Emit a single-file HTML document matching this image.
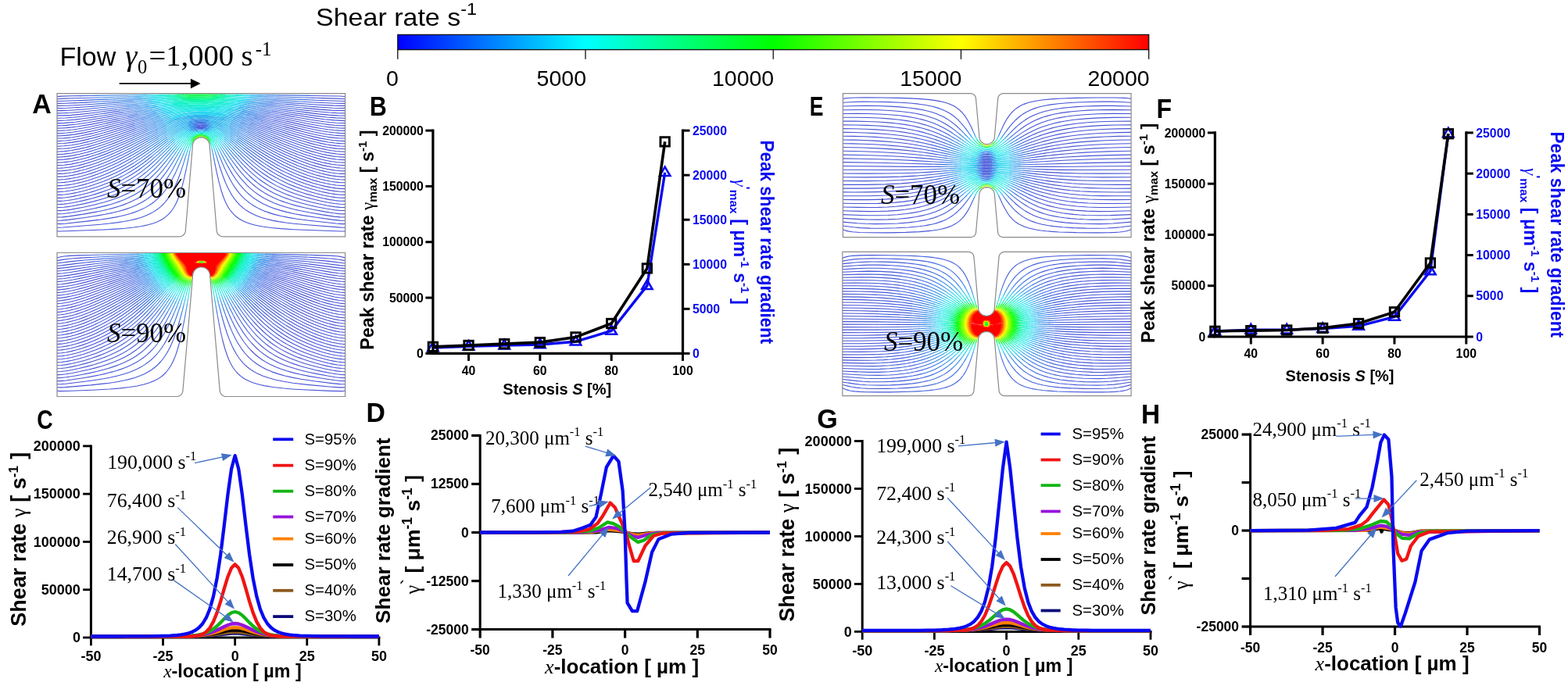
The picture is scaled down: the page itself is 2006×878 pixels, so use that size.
<!DOCTYPE html>
<html><head><meta charset="utf-8"><title>Shear rate figure</title><style>html,body{margin:0;padding:0;background:#fff;overflow:hidden}svg{display:block}</style></head><body>
<svg width="2006" height="878" viewBox="0 0 2006 878" font-family="'Liberation Sans', Arial, Helvetica, sans-serif">
<defs><clipPath id="cl0"><rect x="73" y="119.7" width="368.6" height="183.1"/></clipPath><clipPath id="cl1"><rect x="73" y="323.5" width="368.6" height="184"/></clipPath><clipPath id="cl2"><rect x="1078.4" y="119.6" width="368.7" height="184.1"/></clipPath><clipPath id="cl3"><rect x="1077.8" y="322.4" width="369.3" height="184.2"/></clipPath><linearGradient id="cb" x1="0" x2="1" y1="0" y2="0"><stop offset="0" stop-color="#0000ff"/><stop offset="0.25" stop-color="#00ffff"/><stop offset="0.5" stop-color="#00ff00"/><stop offset="0.75" stop-color="#ffff00"/><stop offset="1" stop-color="#ff0000"/></linearGradient></defs>
<rect width="100%" height="100%" fill="#fff"/>
<g fill="none" stroke-width="1.1" stroke-linejoin="round" clip-path="url(#cl0)">
<path d="M441.5 123.78L438.5 123.31 434 123.02 414.5 122.68M92 122.78L79 123.09 75.5 123.36 73 123.78M441.5 126.7L431 126.09 412.5 125.6M93.5 125.81L82 126.15 73 126.7M441.5 129.5L410 128.46M96 128.77L73 129.5M441.5 132.4L429 132.19 407.5 131.26M98.5 131.67L82.5 132.29 73 132.4M441.5 135.4L434 135.38 426.5 135.16 404.5 133.97M101 134.52L85 135.27 73 135.4M441.5 138.41L434.5 138.47 425.5 138.19 414.5 137.56 401.5 136.6M104 137.29L86 138.31 79 138.48 73 138.41M441.5 141.6L433 141.55 423.5 141.16 412 140.36 398 139.11M107.5 139.94L97 140.77 88 141.31 80 141.58 73 141.6M441.5 144.89L430.5 144.6 421 144.07 409 143.05 394.5 141.53M111 142.51L100 143.56 90.5 144.27 82.5 144.66 73 144.89M441.5 147.92L438 147.98 432.5 147.84 420.5 147.1 407.5 145.85 391 143.85M115 144.93L102 146.37 91 147.33 80.5 147.89 73 147.92M441.5 151.3L430 150.88 418 149.95 404 148.36 387 146.02M119 147.24L105 149.04 93.5 150.23 83.5 150.94 73 151.3M441.5 154.59L428 153.92 415 152.7 399.5 150.65 380 147.58M123.5 149.37L108.5 151.57 96 153.08 85 154.02 73 154.59M441.5 157.61L436.5 157.57 429.5 157.2 422 156.55 414.5 155.7 397.5 153.22 375 149.29M127.5 151.46L110 154.32 96 156.18 83 157.33 77 157.6 73 157.61M441.5 160.9L434.5 160.69 428 160.26 421 159.58 413 158.57 395.5 155.76 371.5 151.17M132 153.35L113 156.81 98 159.05 85 160.38 79 160.74 73 160.9M441.5 164.1L435 163.94 428 163.46 420.5 162.67 412 161.51 403 160.03 393.5 158.27 368.5 153.07M135 155.44L115 159.41 99 162.02 92 162.91 85 163.58 78.5 163.98 73 164.1M441.5 167.4L434 167.12 427 166.57 419.5 165.71 411 164.45 402 162.85 392 160.85 366.5 155.13M136.5 157.8L116 162.18 100 165 93 165.97 86 166.72 79.5 167.17 73 167.4M441.5 170.6L434.5 170.39 427 169.8 419 168.82 410.5 167.47 401.5 165.77 391 163.53 365 157.29M135.69 160.7L115.5 165.27 107 166.94 99.5 168.23 92.5 169.23 85.5 169.99 79 170.44 73 170.6M441.5 173.89L434 173.62 426.5 172.99 418.5 171.95 410 170.51 401 168.71 390.5 166.33 378.5 163.36 364 159.57M123 166.58L108 169.85 95 172.1 84 173.37 79 173.7 73 173.89M441.5 177.02L435.5 176.98 427.5 176.36 419.5 175.33 410.5 173.77 401 171.78 390.5 169.28 378.5 166.15 364 162.13M117.5 170.87L104 173.78 92.5 175.69 87 176.36 81.5 176.84 76.5 177.07 73 177.02M441.5 180.59L433 180.15 426 179.48 418.5 178.42 410 176.86 401 174.89 390.5 172.27 378.5 168.98 365 165.04M115 174.54L103 177.17 92.5 178.96 83.5 180 73 180.59M441.5 183.7L435.5 183.64 428 183.03 420 181.95 411.5 180.39 402.5 178.39 392.5 175.84 381.5 172.74 368.5 168.8M114 177.91L102 180.6 91.5 182.41 81.5 183.49 76.5 183.74 73 183.7M441.5 187.2L435.5 187.01 430 186.6 424 185.88 418 184.93 411.5 183.66 404.5 182.07 397 180.16 388.5 177.79M113 181.34L101.5 183.98 91.5 185.74 82 186.82 73 187.2M441.5 190.51L437 190.5 431 190.1 425 189.4 419 188.45 412.5 187.18 405.5 185.57 398 183.62 390 181.33M113 184.56L101.5 187.29 91 189.19 86 189.84 81 190.31 76.5 190.54 73 190.51M441.5 194.2L435 193.87 430 193.43 424.5 192.74 418.5 191.74 412 190.41 405.5 188.86 398.5 186.99 390.7 184.7M112.5 187.96L101.5 190.63 91.5 192.51 82.5 193.63 73 194.2M441.5 197.6L436.5 197.45 430.5 196.95 424.5 196.17 418.5 195.15 412 193.79 405.5 192.2 398.5 190.28 391 188.01M112.5 191.27L101.5 194.02 91.5 195.94 82 197.15 77 197.5 73 197.6M441.5 201.1L436 200.9 430.5 200.43 424.5 199.64 418.5 198.59 412 197.2 405.5 195.58 398.5 193.61 391.5 191.44M113 194.49L102 197.32 91.5 199.41 82 200.64 77.5 200.96 73 201.1M441.5 204.6L436 204.41 430.5 203.94 424.5 203.14 418.5 202.07 412 200.65 405.5 199 398.5 196.98 391.5 194.76M113 197.88L102 200.78 91.5 202.9 82 204.14 77.5 204.47 73 204.6M441.5 208.1L436 207.93 430.5 207.47 425 206.74 419 205.69 412.5 204.27 406 202.6 399 200.57 391.5 198.15M113.44 201.2L102 204.27 91.5 206.42 86.5 207.17 82 207.67 77.5 207.99 73 208.1M441.5 211.6L436.5 211.52 430.5 211.04 424.5 210.23 418.5 209.14 412 207.68 405.5 205.97 398.5 203.89 391 201.42M114 204.52L102.5 207.69 92 209.9 87 210.67 82 211.24 77 211.56 73 211.6M441.5 215.3L435.5 215.07 430 214.58 424 213.74 418 212.62 411.5 211.13 405 209.39 398 207.27 390.5 204.74M114.5 207.91L103 211.14 97.5 212.42 92.5 213.4 87.5 214.2 82.5 214.79 78 215.13 73 215.3M441.5 218.9L435.5 218.69 430 218.21 424 217.37 418 216.25 411.5 214.75 404.5 212.85 397.5 210.69 390.23 208.2M115 211.34L103.5 214.63 98 215.93 92.5 217.03 87.5 217.83 82.5 218.41 78 218.74 73 218.9M441.5 222.41L436.5 222.38 431 221.98 425 221.2 418.5 220.02 411.5 218.41 404.5 216.5 397.5 214.33 389.89 211.7M115.5 214.83L109.5 216.66 103.5 218.29 98 219.6 92.5 220.7 87 221.57 82 222.12 77.5 222.4 73 222.41M441.5 226.11L436.5 226.1 430.5 225.64 424.5 224.84 418 223.63 411 221.99 404 220.06 396.5 217.7 389 215.07M116 218.37L110 220.22 104 221.87 98 223.31 92.5 224.41 87 225.28 82 225.84 77 226.13 73 226.11M441.5 230.09L435 229.81 429.5 229.3 423.5 228.43 417.5 227.27 410.5 225.62 403.5 223.67 396 221.29 388.66 218.7M116.5 221.97L110.5 223.83 104.5 225.49 98.5 226.95 93 228.08 88 228.9 83 229.52 78.5 229.87 73 230.09M441.5 233.8L436 233.68 430 233.17 423.5 232.23 417 230.96 410 229.29 403 227.33 395.5 224.95 387.76 222.2M117.5 225.46L111 227.49 105 229.16 99 230.64 93 231.88 87.5 232.78 82.5 233.38 77.5 233.73 73 233.8M441.5 237.6L436 237.53 430 237.01 423.5 236.07 417 234.81 409.5 233.01 402 230.9 394.5 228.5 386.5 225.64M117.93 229.2L111.5 231.2 105 233.01 99 234.48 93 235.72 87.5 236.63 82 237.28 77 237.6 73 237.6M441.5 241.6L435.5 241.41 429.5 240.84 423 239.87 415.5 238.36 408 236.51 400 234.22 392 231.61 384 228.7M119 232.8L112.5 234.83 106 236.65 99.5 238.25 93.5 239.5 88 240.44 83 241.07 78 241.47 73 241.6M441.5 245.6L435 245.31 428.5 244.64 422 243.61 414.5 242.06 406.5 240.06 398 237.6 390 234.97 382 232.04M258 161.05L255 161.1M119.37 236.7L113 238.66 106.5 240.47 100 242.06 94 243.33 88.5 244.28 83 245 78 245.41 73 245.6M441.5 249.41L435.5 249.28 429 248.65 422 247.56 414 245.91 405.5 243.8 396.5 241.21 388 238.42 379.5 235.29M259 162.25L254.5 162.32M120 240.59L113.5 242.56 106.5 244.46 100 246.03 93.5 247.38 88 248.31 82.5 249 77.5 249.37 73 249.41M441.5 253.4L435.5 253.26 429 252.63 421.5 251.46 413 249.7 404 247.47 394.5 244.75 385.5 241.82 377.05 238.7M120.5 244.61L113.5 246.66 106.5 248.51 100 250.04 93.5 251.37 88 252.29 82.5 252.98 77.5 253.34 73 253.4M441.5 257.4L435.5 257.27 428.5 256.58 421 255.39 412 253.54 402 251.09 392.5 248.4 383.5 245.51 375 242.42M121 248.71L113.97 250.7 106.5 252.61 99.5 254.2 93 255.48 87 256.45 82 257.04 77.5 257.35 73 257.4M441.5 261.5L435 261.29 428 260.56 420 259.27 410.5 257.33 400 254.8 390 252.04 380.5 249.04 372 245.97M121.5 252.91L107 256.65 99.5 258.29 93 259.54 87 260.5 82 261.09 77.5 261.41 73 261.5M441.5 265.5L435 265.36 428 264.64 419 263.19 408.5 261.08 397.5 258.51 387 255.7 377.5 252.77 369 249.76M122 257.23L107 260.87 92.5 263.73 86.5 264.64 81.5 265.21 77 265.49 73 265.5M441.5 269.51L436 269.53 428.5 268.83 418.5 267.27 406.5 264.95 394.5 262.27 384 259.59 374.5 256.77 366 253.85M122.4 261.7L106.5 265.26 91 268.11 85.5 268.89 80.5 269.41 76.5 269.6 73 269.51M441.5 273.89L434.5 273.62 426.5 272.73 415 270.9 401 268.28 389.5 265.82 379.5 263.37 370.5 260.8 362 257.95M123 266.28L107 269.54 91 272.29 81 273.54 73 273.89M441.5 277.91L439 278.02 435.5 277.9 427.5 277.09 412.5 274.86 396 272.03 384.5 269.75 374.5 267.44 365.5 264.99 357.5 262.4M123.5 271.09L106.5 274.12 88.5 276.89 79.5 277.87 76 278.01 73 277.91M441.5 282.29L435 282.14 427 281.33 404.5 278.28 387.5 275.65 377 273.71 367.5 271.63 359 269.39 351.5 267.03M124.5 276.07L108.5 278.49 87 281.39 79 282.17 73 282.29M441.5 286.42L439.5 286.6 437 286.6 430 286.07 397.5 282.49 380 280.21 369 278.41 359.5 276.49 351 274.36 343 271.87M126 281.38L111.5 283.12 83 286.22 77 286.61 73 286.42M441.5 291.2L437.5 291.19 433 290.92 393 287.82 376 286.23 365.5 284.97 356.5 283.61 348.5 282.1 341 280.33 334 278.26 327.5 275.84 321.5 273.04 316 269.84 311.5 266.61 307 262.68 302.81 258.2 299 253.27M128.71 287.2L81 290.96 76.5 291.2 73 291.2M441.5 295.63L440 295.99 437 296.06 395.5 294.56 375.5 293.69 359.5 292.65 347 291.46 336 289.95 327 288.18 323 287.17 319 285.97 315.44 284.7 312 283.24 308.93 281.7 306 279.96 303.46 278.2 301 276.2 298.88 274.2 296.59 271.7 294.5 269.02 292.59 266.2 291 263.51 289.28 260.2 287.68 256.7 286 252.53 283.02 243.7M133.5 293.97L77.5 296.06 74.5 295.99 73 295.63" stroke="#4753d6"/>
<path d="M415 122.68L403 122.53M104 122.63L91.5 122.78M413 125.61L401.5 125.32M106 125.5L93 125.82M410.5 128.48L399 128.03M108 128.33L95.5 128.78M408 131.29L397.03 130.7M110.5 131.08L98 131.69M405 134L394 133.25M113.5 133.74L100.5 134.55M402 136.64L391.5 135.76M116.5 136.32L103.5 137.32M398.5 139.16L388.5 138.16M120 138.77L107 139.98M395 141.58L379 139.71M123 141.19L110.5 142.56M391.5 143.92L372 141.3M126.5 143.47L114.5 144.99M387.5 146.09L367 142.98M134 145.06L118.5 147.31M380.5 147.66L363 144.7M139.81 146.7L123 149.44M375.5 149.38L359.5 146.41M144.5 148.38L127 151.54M371.66 151.2L356.84 148.2M147.87 150.2L131.5 153.45M369 153.18L354 149.89M150.5 152.1L134.5 155.54M366.79 155.2L352 151.71M152.5 154.09L136 157.91M365.5 157.41L350.5 153.63M154.5 156.05L135.5 160.75M364.5 159.7L349 155.53M155.5 158.24L137 163.12 122.5 166.69M364.24 162.2L348 157.55M156 160.59L133.5 166.84 117 170.99M365.5 165.19L347 159.59M156 163.11L132.5 169.98 114.5 174.66M369 168.96L346.5 161.79M155.5 165.83L132 173.05 122 175.85 113.5 178.04M389 177.93L371 172.39 346.53 164.2M153.27 169.2L130.5 176.47 121 179.22 112.5 181.47M390.5 181.48L381.5 178.71 371.5 175.42 346.65 166.7M149.5 173.22L129.5 179.82 120.5 182.51 112.5 184.69M391 184.79L382 181.93 371.5 178.35 347 169.35M140 179.41L125 184.34 112 188.1M391.5 188.17L382 185.05 372 181.52 361 177.41 348 172.33M128 186.57L120 189.1 112 191.41M392 191.6L382.5 188.41 372.5 184.77 361.5 180.5 349.5 175.62M126.81 190.2L119.5 192.56 112.5 194.63M392 194.93L383 191.83 373 188.09 362.5 183.89 351.5 179.26M126.5 193.6L119.5 195.91 112.5 198.03M391.66 198.2L382.5 194.96 373.5 191.5 364 187.6 353.5 183.04M126.5 196.96L113 201.33M391.5 201.59L383 198.52 374 195 365 191.21 355.5 186.98M126.99 200.2L120 202.61 113.5 204.67M391 204.91L383 201.97 374.5 198.58 366 194.93 357 190.83M127 203.67L114 208.06M390.5 208.3L382.5 205.3 374.5 202.04 366.5 198.54 358 194.58M128.39 206.7L121.5 209.19 114.5 211.5M390 211.74L382 208.7 374 205.38 366 201.8 358 197.97M130.5 209.5L122.5 212.47 115 214.99M389.37 215.2L381.5 212.17 373.5 208.8 365.5 205.15 357.5 201.23M132 212.59L123.5 215.81 115.5 218.53M389 218.83L381 215.72 373 212.32 365 208.61 357 204.6M134 215.54L125 219.03 116 222.13M388 222.29L379.5 218.95 371.5 215.48 363.5 211.68 355.76 207.7M136 218.55L126.5 222.31 117 225.62M386.65 225.7L378.5 222.47 370 218.74 362 214.87 354.12 210.7M138 221.65L128 225.66 117.5 229.34M384.5 228.89L376 225.46 368 221.87 360 217.91 352.25 213.7M259 159.9L253.5 160.02M140.31 224.7L129.5 229.1 118.5 232.96M382.42 232.2L374 228.77 365.5 224.89 357.5 220.83 350 216.62M260.5 161.16L257.5 161.04M255.5 161.08L253 161.26M142.99 227.7L131.5 232.44 119 236.82M380 235.49L371.5 231.99 363 228.05 355 223.89 347 219.24M260.5 162.35L258.5 162.24M255 162.28L253 162.45M145.5 230.9L139.5 233.5 133 236.08 126.5 238.44 119.66 240.7M377.5 238.88L368.5 235.14 360 231.12 352 226.84 344.27 222.2M259.5 163.46L256.5 163.41 253.5 163.6M148 234.26L141.5 237.09 134.5 239.85 127.5 242.34 120.2 244.7M375.5 242.61L366 238.69 357 234.38 348.5 229.7 340.53 224.7M150.73 237.7L144 240.64 136.5 243.57 128.5 246.37 120.5 248.86M372.5 246.16L362.5 242.01 353.5 237.62 345 232.8 336.5 227.21M154 241.12L146.5 244.4 138.5 247.48 130 250.36 121 253.06M369.5 249.95L364 247.77 359 245.6 354 243.23 349.5 240.89 345 238.35 340.5 235.57 336 232.55 331.5 229.26M158 244.47L150 248 141 251.42 131.5 254.53 121.5 257.36M366.5 254.03L360.5 251.7 355 249.32 349.5 246.66 344.5 243.97 339.5 240.98 334.55 237.7 330 234.37 325.5 230.75M162.5 247.93L153.5 251.93 144 255.47 133.5 258.75 122 261.8M362.5 258.13L356 255.64 350 253.01 344 250.02 338.5 246.9 333.5 243.69 328.5 240.09 323.5 236.05 318.71 231.7M168 251.35L163.5 253.5 158.5 255.66 153.5 257.61 148 259.53 142 261.42 136 263.11 122.5 266.39M358 262.57L351 259.93 344 256.83 337.5 253.43 331.5 249.76 326 245.85 320.5 241.33 315.5 236.61 310.5 231.23M175 254.57L170 257.1 164.5 259.55 158.5 261.88 152.5 263.92 146 265.87 139 267.7 131.5 269.44 123 271.18M352 267.2L344 264.18 336.5 260.72 330 257.08 323.5 252.68 317.5 247.78 312.26 242.7 307 236.69 302 230.03M186.75 255.7L180.93 259.2 174.5 262.46 167.5 265.41 160.5 267.88 152.5 270.25 144 272.34 134.5 274.31 124 276.15M343.5 272.04L339 270.39 335 268.74 331 266.87 327.5 265.02 324 262.96 320.5 260.63 317.25 258.2 314.26 255.7 311.5 253.14 308.5 250.05 305.6 246.7 303 243.38 300.5 239.86 298 236 293.28 227.7M207.29 248.7L204.03 252.2 200.88 255.2 197.33 258.2 193.5 261.03 189.5 263.62 185.5 265.88 181 268.1 176.5 270.03 171.5 271.89 166.5 273.5 161 275.05 155 276.5 148.5 277.86 141.5 279.12 125.5 281.45M299.31 253.7L295.5 247.83 292 241.36 288.5 233.7 285.17 225.2M222.91 240.7L219.74 246.7 216.5 251.94 213.01 256.7 209.5 260.74 205.5 264.6 201.5 267.82 196.5 271.14 191.5 273.84 186 276.28 180 278.44 173.5 280.35 166.5 282.01 158.5 283.53 149.5 284.91 140 286.07 128.5 287.22M283.18 244.2L280.39 234.2 277.57 222.2M233.8 235.7L231.25 244.7 228.5 252.76 225.55 259.7 222.62 265.2 219.21 270.2 217.5 272.28 215.5 274.42 211.5 277.92 209 279.7 206.56 281.2 204 282.56 201 283.95 195 286.16 188 288.09 180 289.71 171 291.05 160 292.24 148 293.16 133 293.99" stroke="#455ad9"/>
<path d="M403.5 122.53L393 122.39M114.5 122.49L103.5 122.63M402 125.33L392 125.05M116.5 125.22L105.5 125.52M399.5 128.05L390 127.64M118.5 127.9L107.5 128.35M397.5 130.73L388 130.18M120.5 130.53L110 131.11M394.5 133.28L372 131.61M123 133.07L113 133.77M392 135.81L365.5 133.41M126 135.51L116 136.36M388.85 138.2L360.67 135.2M135 137.23L119.5 138.82M379.5 139.77L357 137M143.5 138.74L122.92 141.2M372.5 141.36L353.5 138.72M149 140.4L126 143.53M367.5 143.06L350.5 140.42M153 142.14L133.5 145.13M363.5 144.79L348 142.14M156.5 143.86L139.5 146.75M360 146.5L345.5 143.79M159.5 145.58L144 148.47M357 148.23L343.5 145.49M162 147.33L147.5 150.28M354.5 150L341.74 147.2M164.5 149.02L150.04 152.2M352.5 151.83L339.5 148.77M166.5 150.78L152.03 154.2M350.79 153.7L338 150.47M167.73 152.7L154 156.17M349.5 155.66L336.65 152.2M169.5 154.46L155 158.38M348.5 157.7L335.5 153.97M170.5 156.42L155.6 160.7M347.38 159.7L334.5 155.78M171.5 158.39L155.69 163.2M347 161.95L333.5 157.59M172.5 160.36L155 165.99M347 164.36L332.5 159.41M173 162.51L153 169.29M347 166.83L332 161.42M173 164.87L149 173.4M347.5 169.54L331 163.27M173 167.29L154 174.42 139.5 179.59M348.5 172.53L331 165.53M173 169.77L148 179.51 137.5 183.33 127.62 186.7M349.69 175.7L330.62 167.7M172 172.73L158.5 178.32 147 182.88 136.5 186.82 126.5 190.3M352 179.47L330.5 170.03M171.25 175.7L158 181.42 147 185.95 136.5 190.02 126.21 193.7M353.85 183.2L330.5 172.49M170 179.01L157.5 184.62 146.5 189.3 136 193.47 126 197.13M355.99 187.2L345 182.07 331 175.28M169 182.34L157 187.92 146.5 192.52 136.5 196.62 126.5 200.37M357.5 191.06L345.5 185.27 331 177.93M168 185.8L157 191.09 146.5 195.84 136.5 200.03 126.93 203.7M358.25 194.7L345.5 188.35 331.04 180.7M167 189.41L157 194.37 147 199.02 137.5 203.11 128 206.85M358.46 198.2L346 191.81 331.5 183.83M166.5 192.9L157 197.75 148 202.06 139 206.04 130 209.69M358 201.48L345.5 194.86 331.25 186.7M166.5 196.27L157.5 201 148.5 205.41 140 209.26 131.72 212.7M357.2 204.7L345 198.04 331 189.7M167 199.5L158.5 204.11 150 208.39 142 212.11 133.6 215.7M356 207.83L344 201.07 330.5 192.7M167.78 202.7L159.5 207.32 151.5 211.46 143.5 215.27 135.64 218.7M354.5 210.91L342.5 203.92 329.5 195.52M260.5 158.8L256.5 158.7 252 158.98M169 205.78L161 210.39 153.5 214.39 146 218.06 137.87 221.7M352.5 213.84L346.5 210.33 340.5 206.59 328.09 198.2M262 160.1L258.5 159.88M254 159.98L251 160.29M170.73 208.7L163 213.31 155.5 217.42 148 221.19 140 224.84M350.13 216.7L344.5 213.29 338.5 209.4 332.5 205.27 326.5 200.91M262.5 161.35L260 161.13M253.5 161.21L251 161.5M173 211.42L165.5 216.07 158 220.32 150.5 224.19 142.5 227.92M347.5 219.55L342 216.09 336 212.03 330.5 208.06 324.5 203.48M262.5 162.56L260 162.31M253.5 162.4L251.12 162.7M175.41 214.2L168 218.98 160.5 223.37 153 227.33 145 231.12M344.5 222.34L339 218.73 333.5 214.83 328 210.66 322 205.81M261.5 163.64L259 163.44M254 163.55L251.5 163.86M178.48 216.7L171 221.75 163.5 226.3 155.5 230.64 147.5 234.49M341 225.01L335.5 221.21 330 217.09 324.5 212.64 319 207.89M259.5 164.65L256 164.6 253 164.85M181.8 219.2L174.5 224.39 166.5 229.44 158.5 233.89 150.5 237.81M337 227.57L331.5 223.53 326.5 219.54 321 214.79 315.53 209.7M186 221.23L178.5 226.91 170.5 232.23 162.5 236.86 153.82 241.2M332 229.64L327 225.69 322 221.37 317 216.68 312 211.63M190.5 223.21L183 229.32 175 234.97 166.5 240.1 157.51 244.7M326 231.16L321.5 227.24 317 222.95 312.5 218.3 307.5 212.71M196 224.49L192 228.21 188 231.64 184 234.8 180 237.71 176 240.39 171.5 243.14 167 245.65 162 248.17M319 231.98L315 228 311 223.67 307 218.97 302.83 213.7M202.5 224.87L198.5 229.11 194.5 232.99 190.5 236.53 186 240.15 181.5 243.4 177 246.33 172.5 248.97 167.5 251.6M310.91 231.7L307.5 227.66 304.5 223.83 301 219.02 297.72 214.2M209.41 224.7L205.5 229.57 201.5 234.09 197.5 238.17 193.5 241.84 189 245.53 184.5 248.8 179.5 252.01 174.76 254.7M302.12 230.2L297 222.36 292 213.7M216.5 224.11L213 229.43 209.5 234.25 206 238.6 202.5 242.5 199 246.01 195 249.58 191 252.74 186.5 255.86M293.5 228.11L290 221.12 286.5 213.41M224 222.33L220 230.12 215.83 237.2 211.5 243.49 207 249.03M285.35 225.7L280.75 212.2M231.19 220.2L227 231.47 224.78 236.7 222.66 241.2M277.68 222.7L275 209.9M237.98 217.7L235.77 227.7 233.67 236.2" stroke="#4360dd"/>
<path d="M393.5 122.4L357.5 121.85M124 122.35L114 122.49M392.5 125.06L355.5 123.94M125.5 124.96L116 125.24M390.5 127.66L353 125.95M137 127.08L118 127.92M388.33 130.2L350.5 127.89M147 128.94L120 130.56M372.5 131.65L348.5 129.8M152 130.88L122.5 133.11M366 133.46L346 131.61M156.5 132.72L125.5 135.55M361 135.24L343.5 133.35M160 134.54L134.5 137.28M357.5 137.06L341.5 135.09M163 136.32L143 138.8M354 138.79L339.5 136.78M165.5 138.1L148.5 140.47M351 140.5L337.5 138.43M168.5 139.74L152.62 142.2M348.38 142.2L335.5 140.03M170.5 141.47L156 143.94M346 143.88L333.5 141.58M173 143.06L159 145.67M344 145.59L332.02 143.2M175 144.7L161.5 147.43M342 147.26L330.12 144.7M176.5 146.4L164 149.13M340 148.88L328.5 146.23M178.5 147.97L166 150.9M338.5 150.6L327 147.76M179.67 149.7L167.5 152.76M337 152.29L326 149.39M181.5 151.25L169 154.6M336 154.11L324.5 150.89M182.5 153L170 156.57M335 155.93L323.5 152.51M183.67 154.7L171 158.54M333.83 157.7L322 153.97M185 156.34L172 160.52M333 159.58L321.37 155.7M185.5 158.26L172.5 162.68M332.5 161.6L320.5 157.36M186.5 160.02L172.5 165.05M331.5 163.46L319.5 158.99M187 161.98L172.5 167.48M331.41 165.7L319 160.81M187.5 163.97L172.5 169.97M331 167.86L318 162.46M188 166.01L171.5 172.94M330.88 170.2L317.5 164.34M188 168.3L171 175.81M330.95 172.7L317.5 166.49M188.5 170.43L169.58 179.2M331.5 175.52L317 168.47M188.5 172.87L168.5 182.58M331.5 178.18L316.9 170.7M188.5 175.39L167.5 186.05M331.5 180.95L316.5 172.86M188.5 178.02L166.5 189.66M332 184.11L316.29 175.2M188.5 180.76L176.5 187.5 166 193.16M331.5 186.85L316 177.6M188.5 183.63L176 190.96 166 196.54M331.5 190.01L315.5 179.98M260 156.43L255.5 156.39 250.5 156.76M189 186.33L177.5 193.4 166.64 199.7M331 193.02L315 182.47M262.5 157.78L259 157.55 256 157.54 252.99 157.7 249.5 158.09M189.44 189.2L178 196.55 167.5 202.86M329.77 195.7L314.5 185.1M263.5 159.08L260 158.77M252.5 158.93L249 159.38M190.5 191.81L179 199.54 168.5 206.08M328.5 198.49L313.5 187.52M264 160.35L261.5 160.06M251.5 160.23L248.5 160.7M191.5 194.6L180.5 202.35 170.5 208.84M326.89 201.2L312.02 189.7M264.5 161.64L262 161.3M251.5 161.43L248.5 161.94M192.98 197.2L182.5 204.96 172.56 211.7M324.79 203.7L311 192.41M264 162.78L262 162.49M251.5 162.64L249 163.09M194.8 199.7L184.5 207.74 175 214.48M322.47 206.2L316.5 201.12 309.27 194.7M263.5 163.92L261 163.58M252 163.78L249.64 164.2M197 202.06L187.5 209.93 178 217.04M319.35 208.2L313.5 202.86 307.04 196.7M262.5 164.98L259 164.62M253.5 164.79L251 165.17M199.64 204.2L190.5 212.28 181.5 219.43M316 210.15L310.5 204.74 304.65 198.7M203 205.82L194 214.4 185.5 221.63M312.06 211.7L307 206.26 301.63 200.2M206.26 207.7L198 216.27 190 223.64M307.92 213.2L298.5 201.72M210.46 208.7L203 217.3 195.78 224.7M303 213.92L295.19 203.2M214.5 210.02L208 218.45 202.2 225.2M298 214.62L291.1 203.7M219.13 210.7L214 218.42 209.03 225.2M292.28 214.2L287 204.22M224.2 210.7L220.34 217.7 216.44 224.2M286.63 213.7L282.61 204.2M229.46 210.2L223.82 222.7M280.91 212.7L278.09 203.7M234.78 209.2L231.02 220.7M275.06 210.2L273.37 201.7M240.12 207.2L237.87 218.2" stroke="#3f70e1"/>
<path d="M358 121.86L341 121.6M163 121.76L123.5 122.36M356 123.96L339.5 123.46M165 123.76L125 124.98M353.5 125.98L338 125.27M167 125.7L136.5 127.11M351 127.92L336.5 127.05M169 127.59L146.5 128.97M349 129.84L335 128.78M171 129.42L151.5 130.92M346.5 131.65L333 130.44M173 131.21L156 132.77M344 133.4L331.5 132.09M175 132.94L159.5 134.59M342 135.15L329.85 133.7M177 134.62L162.5 136.39M340 136.85L328 135.24M179 136.25L165 138.17M338 138.5L326.5 136.79M180.5 137.91L168 139.81M336 140.11L324.5 138.23M182.5 139.46L170 141.55M334 141.67L323 139.72M184.5 140.97L172.5 143.15M332.5 143.29L321.63 141.2M186 142.53L174.5 144.8M330.5 144.78L320 142.61M187.5 144.06L176 146.51M329 146.34L318.5 144.01M189 145.57L178 148.08M327.5 147.88L317 145.39M190.5 147.05L179.5 149.74M326.5 149.52L316 146.87M192 148.51L181 151.38M325 151.02L314.5 148.21M193 150.09L182 153.14M324 152.65L313.5 149.66M194.5 151.52L183.5 154.75M322.5 154.12L312 150.97M195.5 153.07L184.5 156.5M321.5 155.74L311 152.4M196.29 154.7L185 158.43M321 157.54L310 153.84M197.47 156.2L186 160.2M320 159.17L309 155.27M198.5 157.75L186.5 162.17M319.5 161.01L308.5 156.88M199 159.5L187 164.17M318.5 162.67L307.5 158.32M199.5 161.29L187.53 166.2M318 164.56L307 159.97M200 163.1L187.5 168.52M317.96 166.7L306.63 161.7M200.5 164.95L188 170.67M317.49 168.7L306 163.35M201 166.84L188 173.11M317 170.75L305.73 165.2M201.5 168.78L188 175.65M317 173.13L305 166.88M201.5 171.04L188.17 178.2M316.5 175.32L305 168.98M260.5 154.12L254.5 154.11 248.5 154.63M201.85 173.2L188 181.04M316.17 177.7L304.5 170.89M263.5 155.51L259.5 155.24 255.5 155.23 251.5 155.48 247 156.06M202.5 175.27L188.38 183.7M315.86 180.2L304.56 173.2M265 156.88L259.5 156.4M251 156.71L246 157.47M202.5 177.83L188.5 186.64M315.35 182.7L304 175.24M266 158.23L262 157.73M250 158.02L245.5 158.82M202.99 180.2L189 189.49M314.65 185.2L304 177.77M266.5 159.54L263 159.02M249.5 159.3L245.5 160.08M203.48 182.7L190 192.15M313.75 187.7L303 179.72M267 160.88L263.5 160.28M249 160.61L245.5 161.36M204.5 184.96L191.36 194.7M312.5 190.08L302.54 182.2M266.5 162.02L264 161.56M249 161.84L246 162.52M205.5 187.36L192.5 197.57M311.35 192.7L301.5 184.38M266.14 163.2L263.5 162.7M249.5 162.98L246.5 163.69M206.78 189.7L194.5 199.94M309.5 194.91L300.5 186.75M265.5 164.32L263 163.84M250 164.13L247.55 164.7M208.5 191.81L196.83 202.2M307.5 197.14L299 188.85M264.5 165.35L262 164.9M251.5 165.08L248.63 165.7M210.1 194.2L199.5 204.33M305 199.07L297.09 190.7M262.5 166.2L259.5 165.84 256 165.79 253 166.06 250 166.63M212.3 196.2L202.62 206.2M302 200.62L295.16 192.7M215 197.83L206 207.99M298.88 202.2L293 194.67M218 199.27L210.05 209.2M295.5 203.64L290 195.72M221 200.89L214.37 210.2M291.41 204.2L287.18 197.2M224.69 201.7L219 210.9M287.25 204.7L283.93 198.2M228.5 202.42L224 211.07M282.82 204.7L280.15 198.2M232.79 202.2L229.25 210.7M278.25 204.2L276.41 198.2M237 202.03L234.63 209.7M273.47 202.2L272.39 196.7M241.41 200.7L240.02 207.7" stroke="#3b85e6"/>
<path d="M341.5 121.61L330 121.44M177 121.55L162.5 121.77M340 123.47L329 123.15M178.5 123.35L164.5 123.78M338.5 125.29L327.5 124.81M180 125.12L166.5 125.73M337 127.08L326 126.44M181.5 126.84L168.5 127.62M335.5 128.82L324.5 128.02M183 128.53L170.5 129.46M333.5 130.48L323 129.57M184.5 130.18L172.5 131.25M332 132.15L321.5 131.09M186.5 131.75L174.5 132.99M330 133.72L320 132.57M188 133.32L176.5 134.68M328.5 135.31L318.5 134.03M189.5 134.86L178.5 136.32M327 136.87L317 135.45M191 136.37L180 137.99M325 138.31L315.5 136.84M193 137.77L182 139.54M323.5 139.81L314 138.2M194.5 139.22L184 141.06M322 141.27L312.5 139.54M195.64 140.7L185.5 142.62M320.47 142.7L311 140.85M197.5 142.02L187 144.17M319 144.12L309.5 142.13M199 143.39L188.5 145.68M317.5 145.5L308 143.39M200 144.84L190 147.17M316.5 146.99L306.5 144.62M201.33 146.2L191.5 148.64M315 148.34L305 145.83M203 147.46L192.59 150.2M313.64 149.7L304 147.15M204 148.87L194 151.66M312.5 151.11L302.5 148.32M205.25 150.2L195.09 153.2M311.5 152.56L301.5 149.62M206.5 151.52L196 154.79M310.5 154L300 150.76M207.5 152.9L197 156.36M309.5 155.44L299 152.03M208.5 154.29L198 157.93M309 157.06L298 153.29M209.41 155.7L198.5 159.69M308 158.51L297 154.56M210 157.23L199 161.49M307.5 160.17L296 155.81M210.8 158.7L199.76 163.2M307 161.86L295.5 157.25M211.5 160.22L200 165.17M306.5 163.57L295 158.71M212 161.84L200.5 167.08M306 165.33L294.53 160.2M263 151.96L258 151.75 253.5 151.84 249 152.2 244 152.91M212 163.73L201 169.03M305.5 167.13L294.02 161.7M266.5 153.49L260.5 152.97 254.5 152.95 248.5 153.44 242 154.54M212.5 165.44L201.2 171.2M305.42 169.2L294 163.45M268 154.91L264 154.39 260 154.1M249 154.57L245 155.19 241 156.03M212.5 167.44L201.5 173.4M305 171.17L294 165.27M269 156.31L263 155.47M247.5 155.98L244 156.63 240.5 157.46M213 169.26L202 175.57M305 173.47L294.5 167.43M269.74 157.7L264.5 156.81M246.5 157.37L240.5 158.78M213 171.43L202 178.14M304.5 175.57L294.5 169.43M270 159.02L265.81 158.2M246 158.71L240.5 160.13M213.5 173.4L202.5 180.53M304.5 178.11L294.78 171.7M270 160.3L266 159.45M246 159.97L241 161.33M213.5 175.79L203 183.04M303.5 180.09L294.5 173.75M270 161.6L266.5 160.78M246 161.24L242 162.37M214 177.98L204.18 185.2M303 182.56L294.62 176.2M269.25 162.7L266 161.92M246.5 162.4L242.5 163.58M214.5 180.3L205.08 187.7M301.88 184.7L294 178.27M269 163.94L266 163.17M247 163.55L243.5 164.62M215.5 182.37L206.5 189.94M301 187.2L293.63 180.7M268 164.96L265 164.21M248 164.58L244.5 165.64M216.37 184.7L208.07 192.2M299.36 189.2L292.56 182.7M267 165.98L264 165.24M249 165.61L246 166.49M217.5 186.99L210 194.3M297.5 191.13L291.81 185.2M265.5 166.85L262 166.12M250.5 166.51L247.5 167.33M219 189.11L212 196.52M295.5 193.1L290.35 187.2M262 167.33L259 166.99 256 166.97 253 167.27 250 167.89M221 190.88L214.68 198.2M293.03 194.7L288.5 188.95M223 192.84L217.66 199.7M290.33 196.2L286.5 190.71M225.5 194.39L220.79 201.2M287.48 197.7L284.14 192.2M228.31 195.7L224.5 202.01M284 198.34L281.5 193.47M231.41 196.7L228.36 202.7M280.35 198.7L278.5 194.23M235 196.82L232.59 202.7M276.5 198.5L275.16 194.2M238.64 196.7L236.95 202.2M272.49 197.2L271.77 193.7M242.4 195.7L241.31 201.2" stroke="#3799eb"/>
<path d="M330.5 121.45L321.5 121.32M187 121.4L176.5 121.56M329.5 123.16L320.5 122.91M188.5 123.07L178 123.37M328 124.83L319 124.46M189.69 124.7L179.5 125.14M326.5 126.46L317.5 125.96M191 126.3L181 126.87M325 128.06L316 127.44M192.5 127.85L182.5 128.57M323.5 129.62L314.5 128.88M194 129.37L184.29 130.2M322 131.14L313 130.28M195.5 130.86L186 131.8M320.5 132.63L311.5 131.66M197 132.31L187.5 133.38M319 134.09L310 133M198.5 133.73L189 134.93M317.5 135.52L308.5 134.32M200 135.12L190.5 136.44M316 136.91L307 135.61M202 136.4L192.5 137.85M314.5 138.28L305.5 136.87M203.5 137.73L194 139.3M313 139.63L304 138.1M205 139.03L195.5 140.73M311.5 140.94L302 139.22M206.5 140.3L197 142.12M309.85 142.2L300.5 140.4M208 141.55L198.5 143.49M308.5 143.49L299 141.56M209.5 142.77L199.5 144.95M306.84 144.7L297.52 142.7M210.5 144.08L201 146.28M305.5 145.95L295.5 143.71M212 145.27L202.5 147.58M304.2 147.2L294 144.8M213.5 146.43L203.5 149M303 148.46L292.5 145.87M215 147.57L205 150.27M301.8 149.7L290.5 146.8M216.45 148.7L206 151.67M300.5 150.9L288.5 147.72M217.5 149.93L207 153.06M299.5 152.18L292.7 150.2 286.5 148.61M219 151.01L208 154.45M298.5 153.45L291.06 151.2 284 149.37M220 152.23L209 155.84M297.43 154.7L291.5 152.8 285.89 151.2 280.5 149.88 275 148.78 269.5 147.96 264.5 147.46 259.5 147.22 254.5 147.23 249.5 147.51 244 148.1 239 148.89 233.5 150.01 228 151.39 222 153.13 215.69 155.2 209.5 157.42M296.5 155.99L290.5 153.98 285 152.35 279.5 150.96 274.5 149.92 269.5 149.14 264.5 148.61 259.5 148.35 254.5 148.37 249.5 148.66 244.5 149.22 239.5 150.03 234.04 151.2 228.5 152.65 223 154.33 217 156.38 210.5 158.82M296 157.44L290 155.32 284.5 153.6 279.24 152.2 274 151.07 269 150.26 264 149.72 259 149.48 254.5 149.51 249.5 149.82 244.5 150.41 239.5 151.28 234.5 152.41 229 153.92 223.45 155.7 217.5 157.85 211 160.42M295.5 158.91L289.59 156.7 284.5 155.02 279 153.46 274 152.32 269 151.45 264 150.88 259 150.62 254.5 150.65 249.5 150.98 244.5 151.62 239.5 152.54 234.67 153.7 229.5 155.2 223.6 157.2 218 159.34 211.5 162.06M295 160.4L286 156.96 278 154.53 274 153.57 270 152.81 266 152.25 262.5 151.93M244.5 152.83L237 154.42 229.35 156.7 221.28 159.7 211.5 163.96M294.5 161.91L286.64 158.7 279.5 156.3 272.5 154.52 266 153.43M242.5 154.43L235.5 156.18 228.5 158.5 220.56 161.7 212 165.68M294.5 163.68L287.5 160.6 280.5 158.01 274 156.13 267.5 154.83M241.5 155.92L235 157.71 228.08 160.2 220.5 163.49 212.01 167.7M294.5 165.52L287.45 162.2 281 159.62 274.5 157.57 268.5 156.21M241 157.33L234.8 159.2 228 161.83 220.72 165.2 212.5 169.53M295 167.7L288.15 164.2 281.5 161.3 275.5 159.2 269.5 157.65M240.79 158.7L234.5 160.76 227.5 163.7 220.51 167.2 212.54 171.7M294.97 169.7L287.64 165.7 281.5 162.84 275.5 160.57 269.5 158.91M241 159.98L234.63 162.2 227.94 165.2 221.36 168.7 213.02 173.7M295 171.84L287.99 167.7 281.5 164.42 275.5 161.97 269.59 160.2M241.41 161.2L235 163.57 228.45 166.7 221.43 170.7 213 176.12M295 174.08L288.14 169.7 281.5 166.05 275.5 163.41 269.5 161.47M242.5 162.21L239.5 163.25 236 164.68 229.5 167.94 222.43 172.2 213.69 178.2M295 176.48L289.62 172.7 284.5 169.45M273.5 164.08L269 162.63M243 163.41L239.51 164.7 236.13 166.2M222.5 174.39L214 180.68M294.5 178.67L289.97 175.2 286 172.39M272 164.94L268.5 163.8M244 164.45L238.5 166.66M222.5 176.79L215.1 182.7M294 181.02L286.85 175.2M271 165.97L267.5 164.82M245 165.47L240.66 167.2M223 178.97L216 185.03M293 183.11L287 177.75M269.5 166.81L266.5 165.84M246.5 166.32L242.5 167.87M223.5 181.34L217.28 187.2M292 185.39L286.73 180.2M268 167.64L265 166.72M247.92 167.2L244.5 168.46M224.5 183.45L218.91 189.2M290.5 187.37L286 182.46M265.5 168.14L261.5 167.25M250.5 167.77L246.5 169.05M225.5 185.78L220.72 191.2M288.7 189.2L285 184.69M227.08 187.7L222.72 193.2M286.84 191.2L283.5 186.58M229 189.42L225.29 194.7M284.45 192.7L281.62 188.2M231.37 190.7L228 196.2M281.62 193.7L279.5 189.7M233.74 192.2L231.16 197.2M278.7 194.7L277 190.73M236.73 192.7L234.84 197.2M275.32 194.7L274.2 191.2M239.73 193.2L238.5 197.14M271.87 194.2L271.05 190.2M243.1 192.2L242.3 196.2" stroke="#31b6ed"/>
<path d="M322 121.32L314.5 121.22M195 121.29L186.5 121.41M321 122.92L313 122.71M196.5 122.84L188 123.08M319.5 124.48L312 124.18M198 124.36L189.5 124.71M318 125.99L310.5 125.6M199.5 125.84L190.5 126.33M316.5 127.47L309 126.98M200.5 127.31L192 127.89M315 128.92L307.5 128.34M202 128.73L193.5 129.41M313.5 130.33L305.5 129.62M203.5 130.11L195 130.9M311.9 131.7L304 130.91M205.5 131.41L196.5 132.36M310.5 133.06L302.5 132.17M207 132.73L198 133.79M309 134.38L300.5 133.34M208.5 134.01L199.5 135.19M307.5 135.68L299 134.55M210 135.27L201.5 136.48M306 136.94L297.5 135.72M211.5 136.51L203 137.81M304.5 138.18L295.5 136.81M213.1 137.7L204.5 139.12M302.5 139.31L293.5 137.86M215 138.82L206 140.39M301 140.49L291.5 138.89M216.5 139.97L207.5 141.65M299.5 141.66L289.5 139.89M218.5 141.02L209 142.88M298 142.8L287.5 140.87M220 142.13L210 144.19M296 143.81L285 141.74M222 143.12L211.5 145.38M294.5 144.91L288 143.57 281.5 142.44M224 144.08L213 146.55M293 145.98L285 144.31 277.5 143.07M226 145.02L214.5 147.7M291 146.92L281 144.86 272 143.55 263 142.83 254 142.74 245 143.3 236 144.46 226.5 146.26 216 148.82M289 147.84L279.5 145.85 270.5 144.55 262 143.91 253.5 143.88 245 144.46 236 145.7 227 147.51 217 150.07M286.88 148.7L278 146.84 269.5 145.61 261.5 145.02 253.5 145.01 245.5 145.57 237 146.76 228 148.63 218.5 151.16M284.5 149.48L276 147.72 268 146.62 260 146.1 252.5 146.18 245 146.79 237 148.01 228.5 149.87 219.5 152.38M284.91 169.7L279 166.47 273 163.9M236.5 166.03L233.18 167.7 229.67 169.7 222.06 174.7M286.46 172.7L282.61 170.2 279 168.13 275.09 166.2 271.5 164.76M239 166.43L235.45 168.2 231.17 170.7 226.69 173.7 222 177.17M287 175.32L282.68 172.2 278.72 169.7 274.5 167.47 270.5 165.79M241 167.05L236.74 169.2 232.65 171.7 227.73 175.2 222.73 179.2M287.5 178.18L282.55 174.2 278.22 171.2 273.83 168.7 269.2 166.7M242.89 167.7L238 170.2 233.4 173.2 228.85 176.7 223.11 181.7M287 180.46L283.41 177.2 280 174.42M271 168.86L267.5 167.46M245 168.25L242 169.64 239.24 171.2M229.48 178.7L224.25 183.7M286.23 182.7L281.17 177.7M268.47 169.2L265 168M247 168.86L243 170.69M230 181L225.12 186.2M285.01 184.7L281 180.21M265.5 169.45L263.5 168.87 261 168.38 258.5 168.14 256 168.15 253.5 168.4 251 168.9 248.5 169.66 246.5 170.46M230.86 183.2L227 187.8M283.59 186.7L280.5 182.73M232 185.36L228.8 189.7M281.94 188.7L279.5 185.03M233.5 187.37L231.06 191.2M279.77 190.2L277.82 186.7M235.5 188.93L233.5 192.66M277.2 191.2L275.86 188.2M238 189.78L236.51 193.2M274.36 191.7L273.35 188.7M240.71 190.2L239.58 193.7M271.16 190.7L270.7 188.7M243.54 190.2L243 192.7" stroke="#2bd5ef"/>
<path d="M315 121.23L308.5 121.15M201.9 121.2L194.5 121.3M313.5 122.72L307 122.56M203.5 122.66L196 122.86M312.5 124.2L305.5 123.93M205 124.09L197.5 124.38M311 125.62L303.5 125.25M206.5 125.48L199 125.86M309.5 127.02L302 126.56M208 126.83L200 127.34M308 128.38L300.5 127.84M209.5 128.16L201.5 128.77M306 129.66L298.5 129.05M211 129.46L203 130.15M304.5 130.96L297 130.27M212.5 130.73L205 131.46M302.81 132.2L295 131.41M214.5 131.91L206.5 132.78M301 133.4L293 132.53M216 133.12L208 134.08M299.5 134.61L291 133.61M218 134.25L209.5 135.34M298 135.79L289.3 134.7M220 135.34L211 136.58M296 136.88L287.01 135.7M221.5 136.47L213 137.72M294 137.94L284.5 136.65M223.5 137.51L214.5 138.9M292 138.97L281.5 137.52M226 138.45L216 140.06M290 139.97L278 138.33M228 139.44L218 141.11M288 140.95L280.5 139.83 273 138.99M231 140.26L219.61 142.2M285.5 141.83L278.5 140.79 272 140.06 265.5 139.58 259.5 139.38M234 141.07L221.58 143.2M282 142.52L274.5 141.49 267 140.8 260 140.5 253 140.54 246 140.91 239 141.62 231.5 142.7 223.5 144.18M278 143.14L271.5 142.33 265 141.8 258.5 141.59 252 141.69 245.5 142.1 239 142.81 232.5 143.79 225.5 145.13M280.37 174.7L275.35 171.2 270.64 168.7M239.5 171.04L236.94 172.7 234.21 174.7 229 179.13M281.5 178.01L278.26 175.2 274.9 172.7 271.5 170.64 268 169.01M243.5 170.43L240.45 172.2 236.95 174.7 233.41 177.7 229.8 181.2M281.46 180.7L277.4 176.7 275.02 174.7 273 173.22 269 170.88 265 169.29M247 170.24L243 172.31 238.94 175.2 235.06 178.7 230.5 183.61M280.88 183.2L277 178.76M263.5 170.12L259.5 169.39 257.5 169.29 255 169.41 252.5 169.79 250.5 170.3 248.5 171.01 246.5 171.91M234.93 181.7L231.74 185.7M279.62 185.2L277.06 181.7M236 183.72L233.28 187.7M278 187.01L276 183.71M237.34 185.7L235.35 189.2M276 188.51L274.66 185.7M239.18 187.2L237.81 190.2M273.5 189.13L272.81 187.2M241.4 188.2L240.55 190.7M270.82 189.2L270.5 187.8M243.87 188.7L243.5 190.38" stroke="#26e6ea"/>
<path d="M309 121.15L302.5 121.08M208 121.12L201.5 121.21M307.5 122.57L301 122.42M209.5 122.51L203 122.67M306 123.95L299.5 123.73M211 123.87L204.5 124.1M304 125.28L297.5 124.98M212.5 125.19L206 125.5M302.5 126.59L296 126.23M214.5 126.45L207.5 126.87M301 127.87L294 127.42M216 127.71L209 128.2M299 129.09L292 128.57M218 128.9L210.5 129.5M297.5 130.31L290.01 129.7M220 130.06L212 130.77M295.5 131.46L288 130.8M221.5 131.23L214 131.97M293.5 132.58L285.5 131.82M223.5 132.33L215.5 133.18M291.5 133.66L283 132.83M226 133.36L217.5 134.31M289.5 134.72L280 133.76M228 134.4L219.5 135.41M287.5 135.76L276.5 134.65M230.5 135.37L221 136.54M284.92 136.7L272 135.46M233.5 136.26L223 137.58M282 137.58L272.5 136.64 263.5 136.15M237 137.1L225.5 138.53M278.5 138.38L272 137.75 266 137.36 259.5 137.16 253.5 137.19 247.5 137.42 241 137.89 234.5 138.57 227.5 139.52M273.5 139.04L263 138.35 252.5 138.32 242 138.95 230.5 140.34M260 139.39L253.5 139.41 247 139.71 240.5 140.27 233.5 141.14M277.42 179.2L273.75 175.7 270.35 173.2 266.58 171.2 263 169.99M246.93 171.7L244 173.35 240.84 175.7 237.63 178.7 234.51 182.2M277.45 182.2L275.42 179.7 273.04 177.2M238.32 180.7L235.66 184.2M276.31 184.2L274 180.84M238.91 183.2L237.05 186.2M274.91 186.2L273.5 183.53M240.43 184.7L239 187.59M272.99 187.7L272.04 185.2M242 186.55L241.22 188.7M270.59 188.2L270.14 186.2M244.19 187.2L243.76 189.2" stroke="#20eadd"/>
<path d="M303 121.08L297 121.01M213.5 121.06L207.5 121.13M301.5 122.43L295.5 122.3M215.5 122.37L209 122.52M300 123.74L293.5 123.54M217 123.66L210.5 123.88M298 125.01L291.5 124.74M219 124.9L212.26 125.2M296.5 126.26L289.5 125.91M220.5 126.13L214 126.48M294.5 127.45L287.5 127.05M222.5 127.31L215.5 127.74M292.5 128.61L285 128.13M224.5 128.45L217.5 128.94M290.5 129.74L282.71 129.2M227 129.52L219.5 130.1M288.5 130.84L280 130.22M229 130.61L221 131.28M286 131.87L276.5 131.17M231.5 131.63L223 132.38M283.5 132.87L272.5 132.08M234.5 132.59L225.5 133.41M280.5 133.81L266.5 132.93M238 133.49L227.5 134.45M277 134.69L265.5 134 254 133.87 242.5 134.33 230 135.42M272.5 135.5L262.5 135.01 253 134.99 243 135.43 233 136.32M264 136.17L257.5 136.05 250.5 136.17 243.5 136.54 236.5 137.15M273.5 177.65L271.94 176.2 270 174.66 268 173.37 266 172.33 264 171.54 262 170.98 260 170.62 258 170.47M253.5 170.8L251.5 171.27 249.5 171.95 247.5 172.87 245.25 174.2 243.23 175.7 241.54 177.2 238 181.09M274.28 181.2L272.68 179.2 271 177.41M241.47 179.7L238.58 183.7M273.6 183.7L272 181.12M241.56 182.7L240.17 185.2M272.24 185.7L271.15 183.2M242.96 184.2L241.94 186.7M270.25 186.7L269.57 184.2M244.55 185.7L244.08 187.7" stroke="#1cefd1"/>
<path d="M297.5 121.02L292 120.96M219 121L213 121.06M296 122.31L290 122.19M221 122.26L215 122.39M294 123.55L288 123.38M222.5 123.5L216.5 123.68M292 124.76L285.5 124.53M224.5 124.69L218.5 124.92M290 125.93L283.5 125.66M227 125.83L220 126.16M288 127.08L280.5 126.72M229 126.95L222 127.33M285.5 128.16L277.5 127.75M231.5 128.03L224 128.48M283 129.22L274 128.75M234.5 129.05L226.5 129.56M280.5 130.25L269.61 129.7M237.5 130.04L228.5 130.64M277 131.2L269 130.79 261 130.59M241.5 130.98L231 131.67M273 132.11L263 131.72 253.5 131.69 244 131.98 234 132.63M267 132.94L259.5 132.76 252.5 132.8 245 133.06 237.5 133.53M258.5 170.49L255.5 170.54 253 170.9M271.29 177.7L268.5 175.3 265.93 173.7M244.92 176.2L242.8 178.2 241.07 180.2M272.06 181.2L270.12 178.7M243 180.52L241.5 182.8M271.39 183.7L270.34 181.7M243.68 182.7L242.74 184.7M269.73 184.7L269.38 183.7M245 184.24L244.5 185.89" stroke="#16f3c4"/>
<path d="M292.5 120.97L287 120.92M224 120.95L218.5 121M290.5 122.2L284.5 122.1M226 122.16L220.5 122.27M288.5 123.4L282 123.24M228.5 123.33L222 123.51M286 124.54L279.5 124.35M231 124.47L224.16 124.7M284 125.68L276 125.4M233.5 125.57L226.5 125.85M281 126.74L272.5 126.43M236 126.64L228.5 126.98M278 127.77L267.5 127.42M239.5 127.65L231 128.05M274.5 128.77L264.5 128.46 254.5 128.4 244.5 128.6 234 129.07M270 129.71L261.5 129.5 253.5 129.5 245.5 129.68 237 130.07M261.5 130.6L251.5 130.62 241 131M266 173.74L263 172.48 259.5 171.73M252 172.37L250 173.08 248 174.07 246.22 175.2 244.5 176.56M270.5 179.14L268.07 176.7M244.91 178.2L242.86 180.7M270.5 181.99L269.36 180.2M244.5 181.28L243.5 183.07M269.5 184.02L269 182.78M245.19 183.7L244.84 184.7" stroke="#12f6ae"/>
<path d="M287.5 120.92L281.5 120.87M229.5 120.9L223.5 120.95M285 122.1L278.5 122.01M232 122.07L225.5 122.17M282.5 123.25L275.5 123.11M234.31 123.2L228 123.35M280 124.36L271.5 124.17M237.5 124.29L230.5 124.48M276.5 125.42L266.5 125.19M241 125.34L233 125.58M273 126.45L254.5 126.22 235.5 126.66M268 127.43L253.5 127.32 239 127.67M260 171.8L258 171.63 255.5 171.7 253.5 172 251.5 172.52M268.5 177.07L266.01 175.2M247.13 176.2L244.5 178.65M269.5 180.4L268.59 179.2M245.22 180.2L244.24 181.7M269.18 183.2L268.73 182.2M245.84 182.2L245.01 184.2" stroke="#0ff88e"/>
<path d="M282 120.88L275.5 120.84M235 120.86L229 120.91M279 122.02L271.5 121.93M238 121.99L231.5 122.07M276 123.12L266.5 122.99M241.5 123.07L234 123.21M272 124.18L254.5 124.04 237 124.3M266.96 125.2L254 125.13 240.5 125.35M266.5 175.52L264 174.13 261 173.14M249.45 174.7L247 176.3M268.99 179.7L267.68 178.2M246.42 178.7L245 180.51M268.97 182.7L268 180.86M246.39 181.2L245.61 182.7" stroke="#0cf96f"/>
<path d="M276 120.84L267.5 120.8M241.5 120.82L234.5 120.86M272 121.94L255 121.87 237.5 121.99M267 123L241 123.08M261.27 173.2L259.5 172.89M253.41 173.2L251 173.97 249 174.95M268 178.54L266.59 177.2M247.4 177.7L246 179.18M268.21 181.2L267.55 180.2" stroke="#08fb4f"/>
<path d="M268 120.8L241 120.83M260 172.95L258 172.78M255.5 172.86L253 173.3M267 177.56L265 176.03M248.5 176.79L247 178.09M246.69 180.7L246.11 181.7" stroke="#05fc2f"/>
<path d="M258.5 172.8L255 172.91M265.27 176.2L263.5 175.2M249.5 176.1L248 177.18M267.9 180.7L266.5 178.91M247.78 179.2L246.5 181.02" stroke="#02fe10"/>
<path d="M264 175.45L262 174.59 260 174.09M252 174.83L249.34 176.2M266.77 179.2L266 178.4M248.24 178.7L247.5 179.54" stroke="#0dff00"/>
<path d="M260.5 174.18L259 173.97M255 174.05L253 174.49 251.5 175.03M266.3 178.7L266 178.4 265.79 178.2M248.5 178.44L248.24 178.7 248 178.95" stroke="#26ff00"/>
<path d="M259.5 174.02L257 173.91 254.5 174.13M266 178.4L264 176.79M250 177.21L248.24 178.7" stroke="#40ff00"/>
<path d="M264.5 177.13L263.5 176.5M250.5 176.89L249.5 177.58" stroke="#59ff00"/>
<path d="M263.85 176.7L263.5 176.5 263 176.24M251.69 176.2L250.02 177.2" stroke="#73ff00"/>
<path d="M263.5 176.5L262 175.78M261.5 175.58L259.5 175.13M255 175.16L253.5 175.5M252.86 175.7L251.5 176.3" stroke="#8cff00"/>
<path d="M262.5 176L261 175.41M260 175.18L257.5 175.04 254.73 175.2M254 175.36L252.5 175.84" stroke="#a6ff00"/>
</g>
<path d="M73 119.7 441.6 119.7 441.6 302.8 285.21 302.8 283.43 302.6 281.74 302.01 280.22 301.05 278.95 299.79 278 298.27 277.41 296.58 277.21 294.8 277.18 294.8 275.38 273.16 273.59 251.52 271.79 229.88 270 208.24 268.2 186.6 268.03 184.71 267.54 182.87 266.74 181.15 265.65 179.59 264.31 178.25 262.75 177.16 261.03 176.36 259.19 175.87 257.3 175.7 255.41 175.87 253.57 176.36 251.85 177.16 250.29 178.25 248.95 179.59 247.86 181.15 247.06 182.87 246.57 184.71 246.4 186.6 244.6 208.24 242.81 229.88 241.01 251.52 239.22 273.16 237.39 294.8 237.19 296.58 236.6 298.27 235.65 299.79 234.38 301.05 232.86 302.01 231.17 302.6 229.39 302.8 73 302.8Z" fill="none" stroke="#8a8a8a" stroke-width="1.2"/>
<g fill="none" stroke-width="1.1" stroke-linejoin="round" clip-path="url(#cl1)">
<path d="M441.5 330.21L439.5 329.35 437 328.69 434 328.16 430.5 327.76 421 327.17 403.5 326.59M101 326.89L89.5 327.37 82 327.97 76.5 328.92 74.5 329.53 73 330.21M441.5 333.61L432.5 332.06 426 331.24 416.5 330.46 402 329.6M103 330.14L93.5 330.8 86.5 331.47 81.5 332.14 73 333.61M441.5 336.93L421 334.35 400 332.49M105.5 333.23L91 334.63 73 336.93M441.5 340.27L434.5 339.58 413.5 336.94 397.5 335.23M108 336.19L95.5 337.6 79.5 339.64 73 340.27M441.5 343.63L431 342.61 395 337.87M110.5 339.02L83.5 342.61 73 343.63M441.5 347L435 346.47 427.5 345.58 392 340.32M113.5 341.68L86.5 345.66 79.5 346.48 73 347M441.5 350.39L433.5 349.72 425 348.63 389.5 342.74M117 344.13L88.5 348.79 80.5 349.78 73 350.39M441.5 353.8L432.5 353.01 422.5 351.61 412 349.78 385.5 344.79M120 346.54L101 350.09 90.5 351.87 81.5 353.08 73 353.8M441.5 357.22L431.5 356.3 420.5 354.62 408.5 352.31 379.5 346.28M123.5 348.74L103.5 352.86 92 354.99 82 356.43 73 357.22M441.5 360.67L436.5 360.28 431 359.65 419 357.68 406 354.95 375 347.88M126.5 350.93L105.5 355.66 93.5 358.08 82.5 359.79 73 360.67M441.5 364.12L436 363.68 430 362.94 424 361.97 417.5 360.71 403.5 357.52 371.5 349.57M131 352.64L108.5 358.18 95 361.15 83.5 363.09 78 363.74 73 364.12M441.5 367.6L435.5 367.09 429.5 366.3 423 365.17 416 363.71 401.5 360.14 368.5 351.27M134.4 354.5L110.5 360.86 96.5 364.19 90 365.48 84 366.46 78.5 367.15 73 367.6M441.5 371.09L435.5 370.57 429 369.66 422.5 368.47 415 366.8 399.5 362.72 366 353.02M137.5 356.34L112.5 363.5 97.5 367.32 91 368.7 84.5 369.84 78.5 370.63 73 371.09M441.5 374.6L435 374 428.5 373.04 421.5 371.67 414 369.9 406.5 367.88 397.5 365.26 364.5 355.01M139 358.58L114 366.24 105.5 368.64 98.5 370.44 91.5 372.02 85 373.23 79 374.07 73 374.6M441.5 378.12L435 377.51 428 376.43 421 374.99 413 372.99 405 370.7 395.5 367.75 363.07 357M139.89 361L115 369.11 106.5 371.66 99 373.7 91.5 375.46 85 376.71 79 377.58 73 378.12M441.5 381.67L435 381.04 428 379.92 420.5 378.31 412 376.08 403.5 373.51 394 370.38 362 359.1M140 363.71L115.5 372.15 107 374.83 99.5 376.96 92 378.82 85.5 380.13 79 381.11 73 381.67M441.5 385.22L434.5 384.51 427.5 383.34 420 381.66 411.5 379.32 403 376.64 393 373.18 361 361.23M138.5 367.07L116 375.22 107 378.17 99.5 380.39 92.5 382.18 85.5 383.65 79 384.65 73 385.22M441.5 388.8L434.5 388.08 427 386.77 419 384.89 410.5 382.43 401.5 379.45 391.5 375.81 360.5 363.58M126.8 374.5L118 377.77 110 380.57 102.5 382.96 96 384.8 90 386.27 84 387.46 78.5 388.28 73 388.8M441.5 392.39L434.5 391.66 427 390.33 419 388.4 410 385.71 401 382.61 390.5 378.62 378.5 373.76 360.5 366.18M124.5 378.56L116.5 381.62 109 384.29 102 386.57 95.5 388.44 89.5 389.92 83.5 391.12 78 391.93 73 392.39M441.5 396L434 395.18 426.5 393.8 418.5 391.8 409.5 389.02 400 385.62 389.5 381.46 377.5 376.37 361 369.06M122.79 382.5L115 385.54 108 388.08 101.5 390.22 95 392.12 89 393.61 83.5 394.71 78 395.53 73 396M441.5 399.63L434 398.8 426.5 397.4 418.5 395.36 409.5 392.53 400 389.05 389.5 384.76 377.5 379.47 362.5 372.52M122 386.16L114.5 389.16 107.5 391.74 101 393.92 95 395.69 89 397.2 83.5 398.32 78 399.15 73 399.63M441.5 403.27L434 402.44 426.5 401.02 418.5 398.96 409.5 396.08 400 392.52 389.5 388.11 378 382.87 364 376.13M121 389.97L114 392.82 107 395.45 100.5 397.65 94.5 399.43 89 400.82 83.5 401.96 78 402.79 73 403.27M441.5 406.93L434 406.1 426.5 404.67 418.5 402.59 410 399.84 401 396.44 391 392.2 380 387.09 367 380.64M120.85 393.5L114 396.35 107.5 398.85 101 401.1 95 402.92 89 404.47 83.5 405.61 78 406.45 73 406.93M441.5 410.61L434 409.78 426.5 408.34 418.5 406.24 410 403.47 401 400.02 391.5 395.92 381 390.95 369.5 385.1M120.9 397L114 399.93 107.5 402.46 101 404.74 95 406.58 89 408.14 83.5 409.29 78 410.13 73 410.61M441.5 414.3L434.5 413.55 427 412.15 419 410.08 410.5 407.32 402 404.07 392.5 399.95 382.5 395.16 372 389.73M121 400.54L114 403.56 107.5 406.12 101 408.41 95 410.27 89 411.84 83.5 412.99 78 413.83 73 414.3M441.5 418.01L434.5 417.27 427 415.87 419 413.8 411 411.2 402 407.75 393 403.82 383.5 399.22 373 393.7M121.41 404L114.5 407.03 108 409.63 101.5 411.96 95.5 413.84 89.5 415.44 84 416.61 78.5 417.48 73 418.01M441.5 421.74L434.5 421 427 419.62 419 417.54 410.5 414.77 402 411.49 393 407.53 383.5 402.87 373.5 397.52M121.86 407.5L115 410.54 108 413.37 101.5 415.7 95.5 417.59 89.5 419.18 84 420.35 78.5 421.22 73 421.74M441.5 425.48L434.5 424.76 427 423.38 419 421.32 410.5 418.55 401.5 415.06 392.5 411.06 383 406.35 373.21 401M122.43 411L115.5 414.11 109 416.77 102.5 419.14 96 421.22 90 422.83 84 424.11 78.5 424.97 73 425.48M441.5 429.24L434 428.46 426.5 427.06 418 424.83 409.5 422.01 400.5 418.48 391.5 414.43 382 409.63 372.5 404.34M123 414.57L116 417.73 109 420.59 102.5 422.96 96 425.02 90 426.62 84 427.9 78.5 428.74 73 429.24M441.5 433.02L434 432.26 426 430.76 417.5 428.51 409 425.69 400 422.15 390.5 417.85 381 413 371.31 407.5M123.5 418.23L116.5 421.4 109.5 424.27 103 426.64 96.5 428.71 90.5 430.32 84.5 431.61 78.5 432.53 73 433.02M441.5 436.81L437.5 436.5 433.5 436 425.5 434.48 417 432.23 408 429.23 398.5 425.45 389 421.1 379.5 416.18 369.7 410.5M124.5 421.73L117.5 424.91 110.5 427.79 103.5 430.35 97 432.42 90.5 434.16 84.5 435.43 78.5 436.34 73 436.81M441.5 440.62L437.5 440.32 433.5 439.83 425 438.23 416 435.82 406.5 432.62 397 428.81 387 424.17 377.5 419.16 368 413.55M125 425.53L118 428.7 111 431.56 104 434.1 97 436.31 90.5 438.02 84.5 439.28 78.5 440.17 73 440.62M441.5 444.45L437.5 444.17 433.5 443.69 425 442.11 415.5 439.59 405.5 436.23 395.5 432.22 385.5 427.57 375.5 422.24 366 416.52M126 429.17L119 432.33 111.5 435.37 104.5 437.89 97.5 440.08 91 441.79 84.5 443.14 78.5 444.01 73 444.45M441.5 448.29L437.5 448.03 433 447.49 428.5 446.73 424 445.79 414.5 443.25 404 439.72 393.5 435.49 383.5 430.81 373.5 425.43 364 419.62M126.5 433.13L119.5 436.24 112 439.23 104.5 441.87 97.5 444.02 91 445.69 84.5 447.02 78.5 447.88 73 448.29M441.5 452.16L437.5 451.9 433 451.38 428.5 450.64 423.5 449.6 413.5 446.93 402.5 443.25 392 439.06 381.5 434.16 371.5 428.75 362 422.87M127 437.18L120 440.22 112.5 443.14 105 445.73 98 447.84 91 449.62 84.5 450.92 78.5 451.76 73 452.16M441.5 456.03L437.5 455.8 433 455.29 428 454.48 423 453.43 417.5 452.07 412 450.51 400.5 446.67 389.5 442.29 379 437.37 369 431.93 359.57 426M128.5 440.86L121 444.06 113.5 446.93 106 449.47 98.5 451.7 91.5 453.46 85 454.76 79 455.61 73 456.03M441.5 459.93L437 459.67 432.5 459.15 427.5 458.33 422 457.18 416 455.68 410.08 454 404 452.08 398 449.99 392 447.7 386.5 445.42 376 440.49 371 437.85 366 434.99 361.5 432.21 356.66 429M130 444.67L122.5 447.8 115 450.6 107 453.26 99 455.58 91.5 457.43 85 458.7 79 459.53 73 459.93M441.5 463.84L437 463.6 432 463.03 426.5 462.11 421 460.95 414.5 459.34 408 457.51 401.5 455.47 395 453.23 389 450.96 383.5 448.69 378 446.22 373 443.78 368 441.13 363 438.25 358 435.12 353.5 432.06M131.5 448.6L124 451.65 116 454.54 107.5 457.26 99.5 459.5 92 461.31 85 462.66 78.5 463.52 73 463.84M441.5 467.77L437 467.55 432 467 426.5 466.1 420 464.75 413 463.05 405.59 461 398.5 458.82 391.67 456.5 385.5 454.19 380 451.94 374.5 449.49 369 446.79 364 444.1 359 441.16 354.5 438.28 350 435.15M133 452.7L125.5 455.62 117.19 458.5 108.5 461.17 100 463.46 92 465.32 85 466.63 78.5 467.47 73 467.77M441.5 471.71L437 471.52 431.5 470.92 425.5 469.93 419 468.6 411 466.7 403 464.55 395.5 462.32 388 459.84 382 457.64 376 455.22 370.5 452.77 365 450.07 360 447.37 355 444.38 350.5 441.44 346 438.22M134.45 457L127 459.76 118.5 462.54 109.5 465.15 100.5 467.47 92 469.36 84.5 470.71 78.5 471.44 73 471.71M441.5 475.68L436.5 475.47 431 474.86 424.5 473.79 416.5 472.17 407.5 470.08 398.5 467.74 390.5 465.42 383 462.98 377 460.8 371 458.39 365.5 455.93 360 453.2 355 450.43 350 447.36 345.5 444.31 341.08 441M136.5 461.3L128.5 464.07 120 466.68 111 469.12 101.12 471.5 92 473.42 84.5 474.72 78.5 475.43 73 475.68M441.5 479.65L436.5 479.48 430.5 478.82 422.5 477.51 413 475.65 403 473.43 393.5 471.07 385 468.69 377 466.14 370.5 463.78 364.88 461.5 359.38 459 354 456.25 349 453.39 344 450.17 339.5 446.93 335.2 443.5M138.23 466L130.5 468.47 122 470.87 112.5 473.24 102 475.56 92.5 477.43 84.5 478.75 78.5 479.44 73 479.65M441.5 483.65L436 483.48 429 482.68 419 481.07 406 478.64 395.5 476.43 386 474.17 377.5 471.84 369.5 469.3 363 466.92 357 464.41 351.5 461.78 346 458.79 341 455.69 336 452.16 331.5 448.56 327.02 444.5M141 470.72L133 473.05 124.5 475.21 115 477.34 104.5 479.45 93.5 481.43 84.5 482.82 78 483.52 73 483.65M441.5 487.66L435.5 487.5 427 486.56 410.5 484.07 395 481.38 384.5 479.26 375.5 477.14 367 474.78 359.5 472.32 353 469.81 346.5 466.86 340.5 463.65 335 460.19 330 456.53 325.24 452.5 320.66 448 316.5 443.32M144 475.9L136.5 477.84 128 479.74 118.5 481.6 108 483.43 94.5 485.56 84.5 486.95 78 487.58 73 487.66M441.5 491.69L438.5 491.75 435 491.6 425 490.62 402 487.72 385 485.17 374 483.13 364.5 480.97 356 478.61 348 475.86 341 472.91 334.5 469.57 328.5 465.81 323 461.62 318 457.04 313.39 452 309 446.29 304.89 440M148 481.56L140.5 483.2 132.5 484.71 123 486.25 112.5 487.75 96.5 489.79 84 491.22 77.5 491.71 73 491.69M441.5 495.74L438.5 495.91 434.5 495.86 421.5 494.93 393.5 492.41 375 490.22 363 488.32 353 486.24 344 483.83 335.91 481 332 479.34 328.5 477.64 325 475.71 322 473.83 319 471.71 316.23 469.5 313.5 467.05 311 464.52 308.5 461.69 306.38 459 304.25 456 302.01 452.5 298 445.13 294.35 437M152.5 488.21L145 489.47 136.5 490.67 116 492.92 83.5 495.67 77.5 495.92 73 495.74M441.5 499.87L439.5 500.46 437 500.65 423 500.34 387.5 498.8 374 497.95 363 497.05 349.5 495.51 338 493.61 333 492.51 328.5 491.33 324.28 490 320.3 488.5 316.95 487 313.5 485.17 310.5 483.27 308 481.42 305.5 479.28 303 476.76 300.67 474 298.5 471 296.5 467.79 294.5 464.06 292.62 460 291 456 287.8 446.5 284.69 435M222.12 461L219 467.22 215.63 472.5 211.94 477 209.96 479 207.68 481 205.5 482.68 203 484.35 200.5 485.81 197.5 487.33 191.5 489.77 184.15 492 175.5 493.92 165.5 495.52 154 496.85 140.5 497.98 117.5 499.29 84.5 500.57 76.5 500.61 74.5 500.37 73 499.87" stroke="#4753d6"/>
<path d="M404 326.6L393 326.32M114.5 326.5L100.5 326.91M402.5 329.62L391.5 329.06M116.5 329.4L102.5 330.17M400.16 332.5L390 331.74M118 332.24L105 333.27M398 335.28L388 334.3M120.5 334.92L107.5 336.24M395.5 337.93L379.24 336M122.85 337.5L110 339.09M392.5 340.39L373 337.68M125.12 340L113 341.75M390 342.83L368.5 339.38M129.5 342.07L116.5 344.21M386 344.88L365 341.09M136.46 343.5L119.5 346.63M380 346.38L362.5 342.87M141.5 345.05L123 348.84M375.5 347.99L360 344.56M145 346.76L126.17 351M372 349.69L357.5 346.17M148 348.46L130.5 352.77M369 351.4L355.5 347.84M150.5 350.21L134 354.61M366.5 353.16L354 349.59M153 351.87L137 356.48M365 355.16L352.5 351.31M154.5 353.78L138.5 358.73M363.5 357.14L351 353.01M156 355.66L139.5 361.13M362.5 359.28L350 354.86M157.5 357.52L139.5 363.89M361.5 361.42L349 356.71M158.5 359.55L138 367.26M361 363.78L348 358.57M159 361.79L126.5 374.61M361 366.39L347.5 360.65M159.5 364.07L138 373.1 124 378.76M361.5 369.29L346.5 362.55M159.5 366.61L137.5 376.34 122.5 382.62M363 372.76L346 364.71M159.5 369.23L137.5 379.43 121.5 386.36M364.5 376.37L346 367.17M159 372.18L137.5 382.6 120.93 390M367.5 380.9L345.6 369.5M158 375.5L137 386.08 128.5 390.09 120.5 393.65M370 385.36L358.5 379.23 345.5 372.08M156.93 379L146 384.81 137 389.41 128.5 393.54 120.5 397.18M372.5 389.99L360 383.14 345.5 374.81M155.5 382.85L146 388.09 137 392.82 128.5 397.05 120.5 400.77M373.5 393.97L360.5 386.63 345.5 377.66M154.5 386.63L145.5 391.74 137 396.33 129 400.4 121 404.19M374 397.79L360.5 389.96 345.29 380.5M153.5 390.55L145 395.51 137 399.92 129 404.06 121.5 407.67M373.5 401.16L360 393.11 345.13 383.5M153.5 394.03L145.5 398.82 137.5 403.34 129.5 407.55 122 411.2M372.77 404.5L359.5 396.38 344.76 386.5M153.5 397.64L145.5 402.53 137.5 407.12 130 411.12 122.5 414.8M371.5 407.61L365 403.64 358.5 399.44 351.5 394.69 344.19 389.5M154 401.06L146 406.07 138 410.73 130.5 414.76 123 418.47M370 410.69L363.5 406.61 357 402.28 350.5 397.72 343.5 392.57M155 404.29L147 409.41 139.5 413.87 131.5 418.23 124 421.96M368.5 413.86L362 409.69 355.5 405.24 349 400.52 342.5 395.56M156.23 407.5L148.5 412.56 140.5 417.39 132.5 421.79 124.5 425.77M366.5 416.84L360.5 412.9 354 408.34 347.5 403.47 341 398.31M157.96 410.5L150 415.84 142 420.73 134 425.17 125.5 429.41M364.5 419.94L358 415.57 352 411.23 345.5 406.18 339.23 401M159.89 413.5L151.5 419.25 143.5 424.2 135 428.93 126 433.37M362.2 423L356 418.74 349.5 413.89 343.5 409.07 337.03 403.5M162 416.54L153.5 422.49 145 427.81 136 432.79 126.5 437.41M360 426.29L353.5 421.73 347.5 417.13 341.5 412.15 335 406.33M164.46 419.5L156 425.58 147 431.28 138 436.27 128.19 441M357 429.24L350.5 424.55 344.5 419.79 338.5 414.59 332.03 408.5M167.5 422.22L163 425.66 158.5 428.86 149.5 434.63 140 439.9 135 442.37 129.5 444.89M354 432.41L347.5 427.6 341.5 422.68 335 416.79 329 410.82M170.76 425L166 428.75 161.5 432.04 157 435.08 152 438.2 147 441.07 142 443.71 136.5 446.37 131 448.82M350.48 435.5L344 430.56 337.5 424.98 331.5 419.24 325.13 412.5M174.5 427.66L170 431.36 165 435.14 160 438.58 155 441.73 149.5 444.88 144 447.73 138.5 450.33 132.5 452.91M346.38 438.5L340 433.45 333.5 427.59 327.04 421 321 414.1M178.97 430L174 434.3 169 438.22 164 441.76 158.5 445.27 153 448.43 147 451.52 140.52 454.5 134 457.18M341.5 441.32L335 435.88 328.5 429.61 322.5 423 316.5 415.53M184.2 432L179 436.81 173.93 441 168.5 445 162.5 448.91 156.5 452.36 150 455.64 143 458.75 136 461.48M335.5 443.75L329 437.86 323 431.52 317.22 424.5 311.5 416.6M190.76 433L185.5 438.41 179.84 443.5 174 448.06 167.5 452.45 161 456.22 154 459.72 146.37 463 138 466.08M327.5 444.96L321.71 439 316.3 432.5 311 425.14 305.87 417M198.42 433L192.93 439.5 187 445.5 184 448.18 180.55 451 174 455.7 170.34 458 166.5 460.19 158.84 464 150 467.64 140.5 470.88M316.65 443.5L312.37 438 308 431.55 304 424.83 299.85 417M206.53 432.5L203.83 436.5 200.87 440.5 197.61 444.5 194.5 447.94 191.44 451 188 454.12 184.5 456.97 181 459.53 177 462.16 173.01 464.5 169 466.61 164.5 468.72 159.5 470.8 154.5 472.64 149.5 474.29 143.65 476M305 440.18L302 434.92 299.22 429.5 296.5 423.63 293.7 417M215.2 431L212.5 436.12 209.5 441.23 206.5 445.77 203.36 450 200 453.99 196.5 457.64 192.83 461 189 464.06 185 466.86 180.5 469.6 176 471.97 171 474.26 165.5 476.42 160 478.28 154 480.04 147.5 481.68M294.5 437.37L290.75 427.5 287.19 416.5M223.72 429.5L221.03 436.5 218.42 442.5 215.5 448.36 212.5 453.54 209.5 458 205.95 462.5 202.2 466.5 198.29 470 194 473.23 189.5 476.05 184.5 478.67 179 481.06 173 483.21 166.5 485.12 159.5 486.81 152 488.31M284.81 435.5L282.73 426.5 280.65 416.5M232 428.61L229.62 438.5 227.24 447 224.74 454.5 222 461.26" stroke="#455ad9"/>
<path d="M393.5 326.33L364 325.65M124.5 326.25L114 326.52M392 329.09L362.5 327.73M125.5 328.96L116 329.43M390.5 331.78L361 329.76M127 331.59L117.5 332.28M388.5 334.35L359 331.69M140.5 333.05L120 334.97M379.5 336.03L357 333.54M145 334.95L122.5 337.54M373.5 337.75L355.5 335.38M149 336.75L125 340.02M369 339.46L353.5 337.1M152 338.54L129 342.15M365.5 341.18L352 338.84M154.5 340.31L136 343.58M363 342.96L350.5 340.53M156.95 342L141 345.15M360.5 344.67L349 342.18M159 343.7L144.5 346.87M358 346.29L347.5 343.8M161 345.35L147.85 348.5M356 347.97L346 345.37M162.5 347.07L150 350.34M354.5 349.73L344.8 347M164 348.76L152.55 352M353 351.46L343.5 348.58M165.5 350.42L154 353.93M351.5 353.17L342.5 350.23M167 352.05L155.5 355.82M350.4 355L341 351.71M168 353.83L157 357.69M349.5 356.9L340.42 353.5M169 355.61L158 359.74M348.5 358.77L339.5 355.18M170 357.4L158.5 361.99M348 360.86L338.5 356.84M171 359.2L159 364.28M347 362.77L337.5 358.51M171.5 361.24L159 366.84M346.5 364.94L337 360.43M172 363.32L159 369.47M346.5 367.42L336 362.14M172.5 365.45L158.5 372.43M346 369.71L335.5 364.15M173 367.64L157.5 375.76M346 372.35L335 366.21M173.31 370L156.5 379.23M345.83 375L334.5 368.35M174 372.22L155.24 383M346 377.96L333.9 370.5M174 374.95L154 386.92M345.5 380.63L333 372.54M174.45 377.5L163 384.76 153 390.85M345.5 383.75L332.5 374.93M175 380.1L163.5 387.72 153 394.34M345 386.66L331.5 377.07M175.3 383L163.5 391.13 153 397.95M344.5 389.72L330.75 379.5M176 385.76L164 394.36 153.5 401.38M344 392.94L329.92 382M176.9 388.5L165.5 397.02 154.68 404.5M343 395.95L328.5 384.16M178 391.24L166.5 400.17 156 407.65M341.23 398.5L334.5 392.89 327.15 386.5M179.27 394L168 403.11 157.5 410.82M339.5 401.23L333 395.58 325.8 389M181 396.54L170 405.81 159.5 413.78M337.5 403.91L331 397.99 324 391.25M183 399L177.5 403.97 172 408.68 167 412.73 161.5 416.91M335.18 406.5L328.5 400.09 321.55 393M185 401.66L179.5 406.86 174.5 411.33 169 415.94 164 419.85M332.5 408.96L326 402.39 319.5 395.36M188 403.53L182.5 409.03 177.5 413.73 172.5 418.13 167.15 422.5M329.17 411L323 404.36 316.63 397M190.62 406L185.5 411.42 180.5 416.37 175.5 420.96 170.5 425.21M325.5 412.91L319.5 405.99 313.5 398.52M194.34 407.5L189.5 413.01 184.3 418.5 179.16 423.5 174.1 428M321.33 414.5L316 407.86 310.17 400M198 409.3L193.35 415 188.5 420.51 183.5 425.7 178.5 430.43M316.86 416L312 409.38 306.68 401.5M202.34 410.5L198 416.34 193.44 422 188.58 427.5 184 432.19M311.77 417L307.19 410 302.66 402.5M207 411.51L203 417.52 199 423.06 194.69 428.5 190.5 433.29M306 417.23L302.16 410.5 298.46 403.5M212.17 412L208.68 418 205.22 423.5 201.5 428.91 198.03 433.5M300 417.29L297 411.09 293.81 404M217.5 412.51L212 423.3 209.32 428 206.5 432.54M293.9 417.5L288.97 404.5M223.26 412.5L219.17 422.5 215 431.39M287.34 417L283.77 404.5M229.18 412.5L226.27 422 223.53 430M280.75 417L278.5 405.07M235.32 412.5L231.91 429" stroke="#4360dd"/>
<path d="M364.5 325.66L349 325.33M157 325.52L124 326.26M363 327.76L348.5 327.14M157.97 327.5L125 328.98M361.5 329.79L347.5 328.9M159 329.44L126.5 331.62M359.5 331.73L347 330.67M160.5 331.31L140 333.09M357.5 333.59L346 332.37M162 333.12L144.59 335M356 335.44L345 334.05M163.5 334.88L148.5 336.81M354 337.17L344 335.69M165 336.59L151.5 338.61M352.5 338.92L342.5 337.23M166.5 338.26L154 340.39M351 340.63L341.5 338.82M167.5 339.97L156.5 342.09M349.5 342.29L340.5 340.38M169 341.56L158.5 343.81M348 343.92L339.5 341.93M170.5 343.12L160.5 345.47M346.49 345.5L338.5 343.46M171.5 344.76L162 347.2M345 347.06L337.5 344.97M173 346.25L163.5 348.9M344 348.73L336.5 346.48M174 347.85L165.23 350.5M343 350.39L335.5 347.97M175 349.45L166.5 352.21M341.5 351.88L334.5 349.45M176 351.05L167.52 354M340.5 353.53L333.5 350.93M177 352.64L168.5 355.8M340 355.38L332.73 352.5M178 354.23L169.75 357.5M338.88 357L331.76 354M179 355.83L170.5 359.41M338 358.73L331 355.6M179.85 357.5L171 361.46M337.16 360.5L330 357.11M180.5 359.29L171.61 363.5M336.5 362.39L329.5 358.88M181.38 361L172.4 365.5M336 364.41L328.63 360.5M181.77 363L172.5 367.9M335.5 366.49L328 362.29M182.5 364.87L173 370.17M334.76 368.5L327.16 364M183.5 366.64L173.53 372.5M334 370.56L326 365.57M184 368.76L173.91 375M333.5 372.86L325.5 367.6M185 370.64L174 377.79M332.61 375L324.67 369.5M185.4 373L174.5 380.44M332 377.43L323.87 371.5M186.46 375L175 383.21M331 379.69L322.5 373.16M187.5 377.11L175.67 386M330 382.07L321.5 375.19M188.31 379.5L176.5 388.81M328.91 384.5L320.5 377.33M189.5 381.72L177.68 391.5M327.5 386.81L319 379.15M190.77 384L179 394.23M326 389.18L317.5 381.1M192.5 386.01L180.5 396.98M324.26 391.5L316 383.18M194 388.39L182.5 399.46M322 393.48L314.08 385M196 390.45L190 396.68 184.65 402M319.63 395.5L312 386.79M198.5 392.14L193 398.24 187.54 404M317 397.45L309.5 388.26M201 394L195.5 400.52 190.5 406.14M313.87 399L307.07 390M203.97 395.5L199 401.86 194 407.9M310.5 400.45L304 391.08M207 397.14L202.5 403.39 197.84 409.5M307 402L301.01 392.5M210.41 398.5L206 405.23 202 410.97M302.95 403L297.59 393.5M214.23 399.5L210.5 405.87 206.68 412M298.5 403.58L294.01 394.5M218.23 400.5L212 412.3M294 404.44L290.02 395M222.66 401L217.27 413M289 404.59L286.04 396M227.27 401.5L223.06 413M283.9 405L281.66 396.5M232.09 402L229.04 413M278.58 405.5L277.06 397M237.16 402.5L235.22 413" stroke="#3f70e1"/>
<path d="M349.5 325.34L340.5 325.15M169 325.27L156.5 325.53M349 327.16L340 326.78M169.5 327.02L157.5 327.52M348 328.93L339.5 328.4M170.5 328.72L158.5 329.47M347.5 330.71L339 330M171 330.42L160 331.35M346.5 332.42L338 331.54M172 332.07L161.5 333.17M345.5 334.11L337.5 333.11M173 333.68L163 334.94M344.5 335.77L336.5 334.6M174 335.27L164.5 336.66M343 337.31L335.5 336.07M175 336.83L166 338.34M342 338.91L335 337.6M176 338.37L167.35 340M341 340.49L334 339.02M177 339.88L168.5 341.67M339.8 342L333.31 340.5M178 341.38L170 343.23M338.66 343.5L332 341.82M179 342.85L171 344.88M337.6 345L331.5 343.32M180 344.32L172.5 346.39M336.58 346.5L330.5 344.69M181 345.76L173.51 348M335.6 348L329.5 346.04M181.5 347.36L174.85 349.5M334.64 349.5L329 347.56M182.5 348.8L175.5 351.22M333.68 351L328 348.91M183.5 350.24L176.5 352.82M333 352.61L327 350.25M184.5 351.67L177.5 354.43M332 354.1L326.5 351.8M185 353.31L178.59 356M331.5 355.82L325.5 353.15M186 354.76L179.5 357.66M330.5 357.34L324.5 354.51M187 356.22L180.06 359.5M329.75 359L324 356.12M187.37 358L181 361.19M329 360.69L323 357.52M188.38 359.5L181.5 363.14M328.38 362.5L322.5 359.21M189 361.24L182.27 365M327.5 364.2L321.5 360.65M190 362.8L183 366.93M326.5 365.88L320.5 362.13M190.84 364.5L183.62 369M326 367.93L320.04 364M191.5 366.37L184.5 370.97M325 369.73L319 365.55M192.5 368.08L185 373.28M324 371.6L318 367.19M193.31 370L186 375.34M322.94 373.5L317.15 369M194.5 371.71L187 377.49M321.88 375.5L316 370.67M195.5 373.66L188 379.75M320.7 377.5L314.5 372.12M196.75 375.5L189.16 382M319.38 379.5L313.5 374.1M258.5 335.51L257 335.5M197.94 377.5L190.5 384.24M317.92 381.5L312 375.73M199.5 379.29L192 386.48M316.31 383.5L310.52 377.5M201 381.27L193.89 388.5M314.5 385.45L308.66 379M202.88 383L195.95 390.5M312.18 387L306.69 380.5M205 384.62L198.18 392.5M309.69 388.5L304.59 382M207.44 386L200.59 394.5M307.43 390.5L302.5 383.7M209.92 387.5L203.59 396M304.28 391.5L299.97 385M212.5 389.08L206.74 397.5M301.31 393L297.11 386M215.5 390.29L210.09 399M297.87 394L294.11 387M218.66 391.5L214 399.9M294.25 395L291 388.1M222.12 392.5L218 400.96M290.23 395.5L287.62 389M225.97 393L222.5 401.37M286.21 396.5L283.9 389.5M229.98 393.5L227.1 402M281.79 397L280.02 390M234.17 394L232 402.35M277.15 397.5L275.94 390.5M238.57 394.5L237.07 403" stroke="#3b85e6"/>
<path d="M341 325.16L334 325.02M177 325.1L168.5 325.28M340.5 326.8L333.5 326.52M177.5 326.69L169 327.04M340 328.43L333.5 328.03M178 328.25L170 328.75M339.5 330.04L333 329.51M178.5 329.81L170.5 330.47M338.5 331.59L332 330.93M179 331.35L171.5 332.12M338 333.17L331.5 332.37M179.5 332.88L172.5 333.75M337 334.67L331 333.81M180.5 334.33L173.5 335.34M336 336.15L330 335.16M181 335.84L174.5 336.91M335.5 337.69L329.5 336.58M182 337.25L175.5 338.46M334.5 339.13L329 337.99M183 338.63L176.5 339.99M333.5 340.54L328 339.29M183.5 340.11L177.5 341.49M332.5 341.94L327.5 340.69M184.38 341.5L178.5 342.98M332 343.46L326.65 342M185.5 342.81L179.5 344.45M331 344.84L325.5 343.21M186 344.28L180.5 345.91M330 346.2L325 344.61M187 345.6L181.07 347.5M329.5 347.73L324 345.85M187.75 347L182 348.97M328.26 349L323.5 347.26M188.5 348.4L183 350.42M327.5 350.44L322.53 348.5M189.5 349.71L184 351.87M326.99 352L322 349.92M190.5 351.02L184.55 353.5M326 353.37L321 351.16M191 352.54L185.5 354.98M325 354.74L320.5 352.63M191.71 354L186.5 356.45M324.5 356.37L319.74 354M192.5 355.44L187 358.19M323.5 357.78L319 355.4M193.5 356.8L188 359.7M323 359.48L318 356.69M194 358.44L188.53 361.5M322 360.95L317.01 358M195 359.85L189.66 363M321 362.44L316.5 359.63M196 361.28L190.5 364.71M320.5 364.31L315.5 361.01M196.62 363L191.3 366.5M319.5 365.9L314.62 362.5M197.5 364.6L192 368.43M318.43 367.5L313.68 364M198.5 366.19L193 370.23M317.5 369.28L312.65 365.5M199.5 367.83L194.13 372M316.4 371L311.55 367M200.5 369.55L195.08 374M314.94 372.5L310.5 368.62M258.5 335.12L256.5 335.13M201.93 371L196.5 375.72M313.94 374.5L309.08 370M257.21 335.5L257 335.5 256.5 335.52M203 372.85L197.5 377.91M312.28 376L308 371.79M204.4 374.5L199.28 379.5M311 378L306.5 373.28M206 376.07L200.78 381.5M309 379.38L304.66 374.5M207.83 377.5L202.5 383.42M307 380.87L303 376.05M209.5 379.26L204.67 385M304.98 382.5L301.13 377.5M211.73 380.5L207.04 386.5M302.72 384L299 378.76M213.87 382L209.55 388M300 385.05L296.73 380M216.5 383.01L212.22 389.5M297.4 386.5L294.17 381M218.95 384.5L215.37 390.5M294.37 387.5L291.5 382.01M221.86 385.5L218.5 391.8M291.19 388.5L288.67 383M224.92 386.5L222 392.75M287.81 389.5L285.66 384M228.35 387L225.77 393.5M284 389.8L282.3 384.5M231.77 388L229.81 394M280.14 390.5L278.79 385M235.54 388.5L234.04 394.5M276 390.83L275.1 385.5M239.59 388.5L238.5 394.89" stroke="#3799eb"/>
<path d="M334.5 325.03L329 324.92M182.5 324.99L176.5 325.11M334 326.54L329 326.34M183 326.46L177 326.71M334 328.06L328.5 327.73M183.5 327.92L177.5 328.28M333.5 329.55L328 329.11M184 329.36L178 329.85M332.5 330.98L327.5 330.47M184.5 330.79L178.5 331.4M332 332.44L327 331.83M185 332.21L179 332.94M331.5 333.88L326.5 333.17M185.5 333.62L180 334.4M330.5 335.24L325.95 334.5M186.5 334.94L180.5 335.92M330 336.67L325 335.75M187 336.32L181.5 337.34M329.05 338L324.5 337.07M188 337.6L182.5 338.74M328.5 339.4L324 338.38M188.39 339L183 340.23M328 340.81L323 339.57M189 340.35L184 341.6M327 342.1L322.5 340.88M190 341.59L185 342.95M326 343.36L321.5 342.04M190.5 342.96L185.5 344.43M325.5 344.77L321 343.35M191.5 344.18L186.5 345.76M324.45 346L320.5 344.66M192 345.55L187.5 347.09M324 347.44L319.5 345.8M193 346.76L188.23 348.5M323 348.68L319 347.13M193.5 348.15L189 349.91M322.19 350L318 348.27M194.5 349.36L190 351.23M321.5 351.38L317.5 349.62M195.5 350.56L190.5 352.76M321 352.86L316.5 350.76M195.98 352L191.5 354.1M320 354.13L316 352.15M197 353.21L192.38 355.5M319.18 355.5L315 353.3M197.5 354.69L193.11 357M318.5 356.97L314.5 354.75M198.38 356L193.9 358.5M317.5 358.29L313.61 356M198.99 357.5L194.74 360M317 359.95L312.5 357.15M200 358.79L195.65 361.5M316 361.34L312 358.7M201 360.12L196.5 363.08M315 362.76L311.03 360M201.96 361.5L197 364.95M314 364.24L310.28 361.5M202.5 363.24L198.07 366.5M313 365.77L309 362.66M203.5 364.72L199.28 368M312 367.37L308 364.07M204.81 366L200 369.97M310.93 369L307 365.56M205.93 367.5L201.5 371.37M309.5 370.39L306 367.14M259 335.53L258.5 335.51 258.06 335.5M207 369.14L202.83 373M308.22 372L304.68 368.5M208.46 370.5L204 374.89M306.71 373.5L303 369.58M209.87 372L205.59 376.5M305 374.89L301.56 371M211.39 373.5L207.5 377.87M303.37 376.5L300.07 372.5M213 375.04L209.3 379.5M301.5 377.98L298.08 373.5M215 376.24L211.5 380.79M299.17 379L296.5 375.2M217 377.58L213.52 382.5M297 380.43L294.16 376M219.41 378.5L216.18 383.5M294.47 381.5L292.15 377.5M221.58 380L218.66 385M291.76 382.5L289.69 378.5M224.2 381L221.59 386M288.89 383.5L287 379.3M226.97 382L224.69 387M285.86 384.5L284.13 380M230 382.76L228.16 387.5M282.46 385L281.05 380.5M233.36 383L231.61 388.5M278.91 385.5L277.82 381M236.77 383.5L235.5 388.68M275.18 386L274.28 380.5M240.43 383.5L239.5 389" stroke="#31b6ed"/>
<path d="M329.5 324.93L325 324.84M187.5 324.89L182.02 325M329.5 326.36L325 326.18M187.5 326.28L182.5 326.48M329 327.76L324.7 327.5M188 327.65L183 327.95M328.5 329.15L324 328.79M188.46 329L183.5 329.4M327.78 330.5L323.5 330.07M189 330.33L184 330.84M327.5 331.89L323 331.34M189.5 331.66L184.5 332.27M327 333.24L322.5 332.61M189.84 333L185 333.69M326 334.51L322 333.86M190.5 334.29L186.11 335M325.5 335.84L321.5 335.11M191 335.59L186.5 336.42M325 337.17L321 336.35M192 336.79L187.5 337.71M324.5 338.49L320.09 337.5M192.5 338.07L188 339.09M323.5 339.7L319.5 338.71M193 339.36L188.5 340.47M322.95 341L319 339.94M194 340.51L189.5 341.72M322 342.19L318.5 341.17M194.5 341.79L190.36 343M321.49 343.5L317.5 342.25M195 343.08L191 344.34M321 344.83L317.06 343.5M196 344.2L191.5 345.72M320 345.98L316 344.54M196.48 345.5L192.5 346.94M319.5 347.32L315.5 345.78M197.5 346.6L193 348.35M318.5 348.47L315 347.03M198 347.91L194.15 349.5M318 349.84L314 348.09M199 349.02L195 350.78M317 350.99L313.5 349.36M199.5 350.36L195.5 352.22M316.5 352.39L312.66 350.5M200.45 351.5L196.5 353.45M315.38 353.5L312 351.74M201 352.86L197 354.95M314.96 355L311.5 353.09M201.99 354L198 356.21M314 356.23L310.5 354.18M202.39 355.5L198.5 357.79M313 357.46L309.84 355.5M203.5 356.62L199.66 359M312.45 359L309 356.74M204 358.15L200.5 360.44M311.5 360.33L308.14 358M205 359.39L201.5 361.82M310.5 361.66L307 359.1M206 360.67L202.15 363.5M309.44 363L306.23 360.5M207 362L203.14 365M308.5 364.48L305 361.6M207.85 363.5L204.5 366.26M307.5 366L304.07 363M259 335.14L258.5 335.12 258 335.11M209 364.82L205.5 367.88M306.39 367.5L303.16 364.5M210.38 366L206.61 369.5M305 368.82L302 365.85M211.49 367.5L208 370.95M303.39 370L300.56 367M212.71 369L209.5 372.39M302 371.5L299.35 368.5M214.49 370L211 373.94M300.49 373L297.61 369.5M215.91 371.5L212.62 375.5M298.46 374L296 370.76M217.5 372.96L214.8 376.5M296.71 375.5L294.26 372M219.5 374.02L216.71 378M294.48 376.5L292.25 373M221.5 375.23L219.09 379M292.44 378L290.14 374M223.89 376L221.5 380.14M289.95 379L288 375.2M226.26 377L224 381.39M287.09 379.5L285.52 376M228.77 378L226.74 382.5M284.32 380.5L282.8 376.5M231.44 379L229.91 383M281.2 381L280 377.13M234.46 379.5L233.2 383.5M277.94 381.5L277 377.54M237.61 380L236.65 384M274.36 381L273.95 378.5M240.93 380.5L240.34 384" stroke="#2bd5ef"/>
<path d="M325.5 324.85L322 324.78M191 324.82L187 324.9M325.5 326.2L321.5 326.04M191.5 326.12L187 326.3M325 327.52L321 327.28M192 327.41L187.5 327.68M324.5 328.83L320.5 328.51M192 328.72L188 329.04M324 330.12L320 329.72M192.5 329.98L188.5 330.38M323.5 331.4L320 330.98M193 331.24L189 331.72M323 332.68L319.5 332.19M193.5 332.48L189.5 333.05M322.5 333.94L319 333.38M194 333.72L190 334.37M322 335.2L318.14 334.5M195 334.86L190.5 335.68M321.5 336.45L317.5 335.64M195.5 336.08L191.5 336.89M320.5 337.59L317 336.81M196 337.29L192 338.19M320 338.83L316.61 338M196.49 338.5L192.5 339.48M319.24 340L316 339.14M197 339.71L193.5 340.65M319 341.31L315.5 340.3M198 340.78L194 341.94M318 342.4L314.5 341.31M198.44 342L194.5 343.23M317.5 343.65L314.08 342.5M199 343.19L195.5 344.37M316.5 344.72L313.5 343.64M200 344.23L196 345.67M316 345.97L312.5 344.63M200.37 345.5L197 346.8M315.5 347.24L312 345.81M201 346.68L197.79 348M314.5 348.3L311.51 347M202 347.71L198.5 349.24M313.8 349.5L310.55 348M202.43 349L199.2 350.5M313 350.67L310 349.2M203.5 350L200 351.72M312.5 352L309.5 350.44M204 351.29L200.72 353M312 353.36L308.62 351.5M204.71 352.5L201.5 354.27M311 354.47L308 352.73M205.5 353.69L202 355.73M310 355.6L307 353.75M206.12 355L203 356.93M309.4 357L306.5 355.11M207 356.19L203.5 358.47M308.5 358.25L305.5 356.18M207.73 357.5L204.84 359.5M307.5 359.46L304.82 357.5M208.97 358.5L205.55 361M306.5 360.71L303.64 358.5M209.57 360L206.5 362.39M305.48 362L303 359.96M210.5 361.32L207.5 363.79M304.5 363.38L302 361.2M257 335.11L256.5 335.13 256 335.15M211.66 362.5L208.8 365M303.5 364.81L300.5 362.03M257 335.5L256.5 335.52 256 335.54M213 363.57L210 366.35M302.15 366L299.62 363.5M214 365.02L211 367.99M301 367.47L298.5 364.83M215.5 366.06L212.5 369.23M299.5 368.67L297.14 366M216.7 367.5L214.05 370.5M298 369.98L295.56 367M218 368.96L215.5 372M296.18 371L294.28 368.5M219.75 370L217.47 373M294.5 372.34L292.52 369.5M221.5 371.16L219.16 374.5M292.5 373.39L290.66 370.5M223.5 372.09L221.33 375.5M290.42 374.5L288.7 371.5M225.5 373.2L223.6 376.5M288.16 375.5L286.62 372.5M227.79 374L226 377.5M285.75 376.5L284.19 373M230 375.24L228.54 378.5M282.99 377L281.85 374M232.58 376L231.25 379.5M280.11 377.5L279.19 374.5M235.39 376.5L234.3 380M277.11 378L276.28 374.5M238.44 376.5L237.5 380.46M274 378.82L273.31 374.5M241.57 376.5L240.85 381" stroke="#26e6ea"/>
<path d="M322.5 324.79L319 324.72M194.5 324.75L190.5 324.83M322 326.06L318.5 325.92M194.5 326L191 326.14M321.5 327.31L318 327.1M195 327.23L191.5 327.44M321 328.55L318 328.31M195.5 328.44L191.5 328.76M320.5 329.77L317.5 329.47M196 329.64L192.34 330M320.14 331L317 330.63M196.5 330.82L192.5 331.3M320 332.26L316.5 331.77M196.97 332L193.39 332.5M319.5 333.46L316 332.9M197.5 333.16L193.5 333.8M318.5 334.56L315.5 334.02M198 334.32L194.5 334.95M318 335.75L315 335.14M198.36 335.5L195 336.18M317.5 336.92L314.5 336.26M199 336.62L195.5 337.4M317 338.1L314 337.37M199.5 337.77L196 338.62M316.5 339.27L313 338.34M200 338.91L196.5 339.84M316 340.45L312.71 339.5M200.5 340.05L197.5 340.92M315 341.47L312 340.54M201.5 341.05L198 342.14M314.5 342.64L311.5 341.64M202 342.19L198.5 343.36M314 343.82L311 342.75M202.5 343.34L199.5 344.41M313 344.82L310 343.68M203 344.49L200 345.64M312.48 346L309.5 344.79M203.9 345.5L200.5 346.89M312 347.22L309 345.92M204.5 346.63L201.5 347.93M311 348.21L308.5 347.06M205 347.82L202 349.2M310.5 349.44L307.55 348M206 348.78L203 350.25M309.62 350.5L307 349.15M206.49 350L203.6 351.5M309 351.71L306 350.07M207.44 351L204.5 352.62M308.47 353L305.5 351.28M208 352.23L205 353.98M307.41 354L305 352.52M208.56 353.5L206 355.07M307 355.43L304.02 353.5M209.5 354.56L206.52 356.5M305.97 356.5L303.06 354.5M210.5 355.6L207.5 357.66M305 357.63L302.5 355.82M211 357.02L208.5 358.84M304 358.78L301.69 357M212 358.13L209.5 360.06M303.05 360L300.6 358M258.5 334.73L257 334.72M213 359.27L210.28 361.5M302.35 361.5L299.5 359.03M259.5 335.17L259 335.14 258.5 335.12M213.96 360.5L211.5 362.64M301 362.5L298.84 360.5M259.5 335.56L259 335.53 258.5 335.51M215 361.72L212.54 364M300 363.88L297.59 361.5M216 363.05L213.52 365.5M298.66 365L296.5 362.73M217.46 364L215.08 366.5M297.5 366.41L295.37 364M218.5 365.47L216.5 367.73M295.97 367.5L294 365.11M220 366.53L217.97 369M294.5 368.79L292.5 366.16M221.5 367.7L219.5 370.33M292.87 370L291 367.33M223.35 368.5L221.26 371.5M290.98 371L289.39 368.5M225 369.74L223.24 372.5M288.99 372L287.5 369.4M227 370.59L225.33 373.5M286.88 373L285.5 370.29M229 371.63L227.54 374.5M284.41 373.5L283.3 371M231.22 372.5L229.88 375.5M282 374.39L281 371.74M233.71 373L232.5 376.21M279.34 375L278.5 372.28M236.31 373.5L235.23 377M276.4 375L275.8 372.5M239 374.15L238.33 377M273.39 375L273.05 373M241.9 374.5L241.5 376.94" stroke="#20eadd"/>
<path d="M319.5 324.73L316.5 324.67M197 324.7L194 324.76M319 325.94L316 325.82M197.5 325.88L194 326.02M318.5 327.13L315.5 326.95M198 327.05L194.5 327.26M318.5 328.35L315.5 328.11M198 328.24L195 328.48M317.77 329.5L315 329.23M198.5 329.39L195.5 329.69M317.5 330.69L314.5 330.33M199 330.52L196 330.88M317 331.84L314 331.42M199.5 331.65L196.5 332.07M316.5 332.98L313.5 332.5M200 332.76L197 333.24M316 334.11L313 333.58M200.5 333.87L197.5 334.41M315.5 335.24L312.5 334.64M200.86 335L198 335.57M315 336.37L312 335.71M201.5 336.07L198.5 336.73M314.5 337.49L311.5 336.76M202 337.16L199 337.89M313.5 338.47L311 337.82M202.5 338.25L199.66 339M313 339.58L310.5 338.87M203.5 339.2L200 340.2M312.5 340.69L309.5 339.77M204 340.28L201 341.2M312 341.81L309 340.82M204.5 341.36L201.5 342.36M311.5 342.93L308.5 341.86M204.85 342.5L202.04 343.5M310.5 343.87L308 342.92M205.5 343.54L202.98 344.5M310 344.99L307.54 344M206.37 344.5L203.5 345.66M309.19 346L306.87 345M207 345.55L204 346.85M309 347.29L306.18 346M207.5 346.67L204.6 348M308 348.22L305.5 347.01M208 347.81L205.55 349M307.5 349.4L305 348.12M209 348.71L206 350.26M306.5 350.34L304.03 349M209.5 349.88L207 351.24M305.89 351.5L303.5 350.13M210.13 351L207.54 352.5M305.5 352.83L303 351.31M211 352.01L208.5 353.54M304.5 353.81L302 352.2M211.91 353L209 354.88M303.5 354.81L301.5 353.44M212.5 354.23L210 355.94M302.75 356L300.68 354.5M213.09 355.5L210.5 357.38M302 357.24L299.73 355.5M214 356.59L211.52 358.5M301 358.33L299 356.7M257.5 334.72L257 334.72 256.5 334.74M215 357.64L212.72 359.5M300 359.46L298 357.74M256.5 335.13L256 335.15 255.5 335.18M216 358.74L213.5 360.9M299 360.65L297 358.81M216.87 360L214.7 362M298 361.91L296.05 360M218 361.09L215.54 363.5M296.76 363L295 361.16M219 362.38L217 364.48M295.5 364.15L293.58 362M220.25 363.5L218.47 365.5M294.32 365.5L292.5 363.3M221.67 364.5L219.61 367M292.76 366.5L291.24 364.5M223 365.73L221.27 368M291.12 367.5L289.72 365.5M224.75 366.5L223 369M289.5 368.67L288.12 366.5M226.42 367.5L224.83 370M287.56 369.5L286.41 367.5M228.2 368.5L226.76 371M285.61 370.5L284.5 368.33M230 369.67L228.81 372M283.5 371.45L282.41 369M232.11 370.5L231 372.99M281.1 372L280.15 369.5M234.47 371L233.53 373.5M278.57 372.5L277.8 370M236.93 371.5L236.16 374M275.92 373L275.33 370.5M239.63 371.5L238.92 374.5M273.14 373.5L272.5 369.57M242.46 371L241.82 375" stroke="#1cefd1"/>
<path d="M317 324.68L314 324.62M199.5 324.65L196.5 324.71M316.5 325.84L314 325.74M200 325.79L197 325.9M316 326.98L313.5 326.84M200 326.93L197.5 327.08M316 328.15L313 327.92M200.5 328.05L197.5 328.28M315.5 329.28L312.67 329M201 329.14L198 329.44M315 330.39L312 330.04M201.5 330.23L198.5 330.58M314.5 331.49L311.5 331.08M202 331.3L199 331.72M314 332.58L311.5 332.19M202.5 332.37L199.5 332.84M313.5 333.67L311 333.22M203 333.43L200 333.96M313 334.74L310.5 334.25M203.37 334.5L200.5 335.07M312.5 335.82L310 335.27M204 335.52L201 336.18M312 336.88L309.5 336.28M204.5 336.56L201.5 337.28M311.5 337.95L308.5 337.16M205 337.59L202 338.38M310.96 339L308 338.16M205.5 338.63L203 339.34M310 339.92L307.5 339.16M206 339.66L203.5 340.43M309.5 340.98L307 340.16M206.5 340.7L204.07 341.5M308.88 342L306.5 341.16M207 341.74L204.5 342.63M308.21 343L306 342.17M208 342.6L205 343.73M308 344.19L305.5 343.18M208.5 343.64L206 344.65M307 345.06L304.52 344M209 344.7L206.5 345.77M306.5 346.15L304 345.01M209.5 345.76L207 346.9M306 347.25L303.5 346.05M210.5 346.6L207.6 348M305.5 348.38L303 347.1M211 347.69L208.5 348.97M304.5 349.25L302.5 348.17M211.5 348.8L209.28 350M304 350.42L301.53 349M212.5 349.64L210 351.08M303.32 351.5L301 350.1M213 350.79L210.5 352.31M302.47 352.5L300.13 351M213.47 352L211.5 353.27M301.59 353.5L299.5 352.09M214.3 353L212.1 354.5M301 354.73L299 353.3M215 354.13L213 355.57M300 355.71L298 354.18M216 355.06L213.5 356.97M299.37 357L297 355.09M259 334.75L258.5 334.73 258 334.72M257 334.72L256.5 334.74 256 334.76M217 356.02L214.56 358M298.31 358L296.5 356.45M218 357.01L215.69 359M297.21 359L295.56 357.5M260 335.6L259.5 335.56 259 335.53M256.5 335.52L256 335.54 255.5 335.58M218.5 358.5L216.5 360.34M296.5 360.44L294.51 358.5M258.5 335.91L256.5 335.91M219.5 359.62L217.58 361.5M295.33 361.5L293.5 359.6M220.8 360.5L218.88 362.5M294 362.47L292.5 360.79M222 361.53L220 363.78M292.67 363.5L291.01 361.5M223 362.9L221.5 364.71M291.5 364.85L290 362.89M224.5 363.77L222.79 366M290 365.9L288.5 363.77M225.8 365L224.5 366.86M288.43 367L287 364.76M227.38 366L226.1 368M286.5 367.66L285.26 365.5M229.35 366.5L228 368.84M284.59 368.5L283.56 366.5M231 367.71L229.83 370M282.5 369.2L281.52 367M233 368.5L232 370.75M280.34 370L279.59 368M235.22 369L234.28 371.5M277.95 370.5L277.33 368.5M237.5 369.66L236.78 372M275.45 371L274.85 368.5M240.1 369.5L239.51 372M272.57 370L272.31 368.5M242.63 370L242.37 371.5" stroke="#16f3c4"/>
<path d="M314.5 324.63L312 324.58M201.5 324.61L199 324.66M314.5 325.76L312 325.66M202 325.71L199.5 325.81M314 326.87L311.5 326.72M202.5 326.79L199.5 326.96M313.5 327.96L311 327.76M203 327.85L200 328.08M313 329.03L310.5 328.79M203 328.95L200.5 329.19M312.5 330.1L310 329.8M203.46 330L201 330.29M312 331.15L309.5 330.81M204 331.03L201.5 331.37M312 332.27L309.5 331.88M204.5 332.06L202 332.45M311.5 333.31L309 332.87M205 333.07L202.58 333.5M311 334.35L308.5 333.85M205.5 334.08L203 334.57M310.5 335.38L308 334.83M206 335.08L203.5 335.63M310 336.4L307.5 335.81M206.5 336.08L204 336.68M309 337.29L307 336.77M207 337.07L204.5 337.72M308.5 338.3L306.5 337.74M207.5 338.06L205 338.77M308 339.31L305.5 338.55M208 339.05L205.5 339.82M307.5 340.32L305 339.51M208.5 340.04L206 340.86M307 341.34L304.61 340.5M209 341.04L206.5 341.92M306.5 342.36L304.21 341.5M209.6 342L207.5 342.79M306 343.38L303.5 342.39M210.5 342.84L208 343.84M305 344.21L303 343.36M211 343.85L208.5 344.91M304.5 345.24L302.5 344.34M211.5 344.86L209 345.99M304 346.29L302 345.33M212 345.88L210 346.84M303.5 347.36L301 346.09M213 346.67L210.5 347.94M303 348.44L300.5 347.1M213.5 347.72L211.12 349M302 349.27L300 348.14M214 348.79L212 349.93M301.5 350.4L299.5 349.2M214.5 349.89L212.66 351M300.5 351.24L298.55 350M215.5 350.7L213 352.3M300 352.42L298 351.08M216 351.85L214 353.21M299.29 353.5L297.18 352M217 352.7L214.5 354.49M298.42 354.5L296.5 353.05M217.5 353.92L215.5 355.44M297.5 355.49L295.64 354M259.5 334.77L259 334.75 258.5 334.73M218.27 355L216.5 356.43M296.56 356.5L295 355.17M260 335.2L259.5 335.17 259 335.14M219.19 356L217.5 357.44M296 357.9L294 356.08M220 357.14L218 358.96M295 358.97L293 357.04M259 335.93L258.5 335.91 258 335.89M221 358.16L219.11 360M293.89 360L292 358.04M222 359.25L220.5 360.81M292.69 361L291 359.12M223.38 360L221.58 362M291.42 362L290 360.29M224.5 361.1L222.92 363M290.09 363L288.55 361M225.86 362L224.32 364M288.67 364L287.5 362.35M227 363.3L225.5 365.43M287.16 365L286 363.2M228.5 364.25L227.06 366.5M285.5 365.92L284.5 364.19M230.21 365L229.06 367M283.82 367L282.79 365M231.88 366L230.85 368M281.74 367.5L281 365.84M233.89 366.5L232.78 369M279.77 368.5L279.02 366.5M235.79 367.5L235.04 369.5M277.49 369L276.72 366.5M238.17 367.5L237.39 370M274.97 369L274.5 367.02M240.46 368L240 369.93M272.4 369L272.14 367.5M242.88 368.5L242.55 370.5" stroke="#12f6ae"/>
<path d="M312.5 324.59L310.5 324.55M203.5 324.57L201 324.62M312.5 325.68L310 325.59M204 325.63L201.5 325.73M312 326.75L309.5 326.61M204.5 326.67L202 326.82M311.5 327.8L309 327.61M204.5 327.74L202.5 327.89M311 328.84L309 328.65M205 328.76L202.5 329M310.5 329.86L308.5 329.63M205.5 329.76L203 330.05M310 330.87L308 330.6M206 330.76L203.5 331.1M310 331.95L307.5 331.57M206.5 331.74L204 332.13M309.5 332.96L307 332.52M207 332.72L204.5 333.16M309 333.95L306.69 333.5M207.5 333.69L205 334.18M308.5 334.94L306 334.4M208 334.65L205.5 335.19M308 335.92L305.5 335.33M208.5 335.6L206 336.2M307.5 336.9L305 336.26M209 336.55L206.5 337.2M307 337.88L304.5 337.18M209.5 337.5L207 338.2M306 338.71L304 338.1M209.83 338.5L207.5 339.21M305.5 339.67L303.5 339.02M210.5 339.39L208 340.21M305 340.64L303.17 340M211 340.34L208.5 341.21M304.5 341.61L302.5 340.87M211.5 341.29L209.5 342.04M303.79 342.5L302 341.79M212 342.25L210.11 343M303.34 343.5L301.5 342.73M212.5 343.21L210.63 344M302.86 344.5L300.62 343.5M213.41 344L211.18 345M302.35 345.5L300.24 344.5M213.85 345L211.75 346M301.5 346.34L299.83 345.5M214.33 346L212.5 346.92M301 347.37L299 346.31M214.84 347L213 347.99M300.5 348.42L298.5 347.29M215.5 347.94L213.63 349M300 349.49L298 348.3M216.5 348.69L214.31 350M299 350.29L297 349.02M217 349.75L215.03 351M298.5 351.41L296.5 350.07M217.5 350.85L215.78 352M297.5 352.23L296 351.16M218.5 351.63L216.57 353M297 353.43L295.1 352M219 352.79L217.4 354M296 354.29L294.5 353.09M256.5 334.74L256 334.76 255.5 334.79M220 353.62L218 355.22M295.39 355.5L293.62 354M256 335.15L255.5 335.18 255 335.22M220.5 354.88L219 356.16M294.46 356.5L292.8 355M256 335.54L255.5 335.58 255 335.62M221.5 355.78L219.6 357.5M293.48 357.5L292 356.08M259.5 335.96L259 335.93 258.5 335.91M257 335.9L256.5 335.91 256 335.94M222.5 356.72L220.65 358.5M292.44 358.5L291 357.02M223.21 358L221.76 359.5M291.34 359.5L290 358.02M224.28 359L223 360.42M290.17 360.5L289 359.1M225.42 360L224.16 361.5M288.93 361.5L287.77 360M226.63 361L225.5 362.46M287.61 362.5L286.54 361M227.92 362L226.86 363.5M286.19 363.5L285.23 362M229.5 362.7L228.34 364.5M284.68 364.5L283.52 362.5M231 363.64L230 365.37M283 365.4L282.02 363.5M232.65 364.5L231.62 366.5M281.07 366L280.4 364.5M234.5 365.14L233.67 367M279.21 367L278.5 365.14M236.36 366L235.6 368M276.87 367L276.41 365.5M238.5 366.42L238.01 368M274.61 367.5L274.14 365.5M240.82 366.5L240.34 368.5M272.23 368L271.84 365.5M243.37 365.5L242.8 369" stroke="#0ff88e"/>
<path d="M311 324.56L308.5 324.51M205.5 324.54L203 324.58M310.5 325.61L308.5 325.53M205.5 325.57L203.5 325.65M310 326.63L308 326.52M206 326.59L204 326.7M309.5 327.65L307.58 327.5M206.5 327.58L204 327.77M309.5 328.69L307 328.45M207 328.56L204.5 328.8M309 329.69L306.5 329.4M207.5 329.53L205 329.82M308.5 330.67L306.5 330.4M207.91 330.5L205.5 330.83M308 331.64L306 331.33M208 331.51L206 331.82M307.5 332.61L305.5 332.26M208.5 332.46L206.5 332.81M307 333.56L305 333.17M209 333.4L207 333.79M306.46 334.5L304.5 334.08M209.5 334.33L207.5 334.76M306 335.45L304.09 335M210 335.25L208 335.72M305.5 336.39L303.5 335.88M210.5 336.17L208.5 336.68M305 337.32L303 336.77M211 337.08L209 337.64M304.5 338.25L302.5 337.65M211.49 338L209.5 338.6M304 339.18L302 338.54M212 338.91L210.17 339.5M303.5 340.12L301.5 339.43M212.5 339.82L210.54 340.5M302.86 341L301 340.32M213 340.74L211 341.48M302.5 341.99L300.5 341.21M213.9 341.5L211.5 342.45M302 342.94L300 342.1M214.19 342.5L212 343.42M301 343.67L299.5 343M215 343.29L213 344.18M300.5 344.62L298.5 343.68M215.5 344.22L213.5 345.17M300 345.59L298 344.59M216 345.17L214 346.17M299.37 346.5L297.5 345.51M216.5 346.12L214.5 347.18M298.87 347.5L297.09 346.5M217 347.1L215.39 348M298.34 348.5L296.5 347.41M217.66 348L216 348.99M297.5 349.34L296 348.4M218.19 349L216.6 350M297 350.41L295 349.08M219 349.85L217.27 351M296.48 351.5L294.5 350.11M220 350.57L218 351.98M295.5 352.3L294 351.18M220.5 351.67L218.72 353M295 353.49L293.12 352M260 334.81L259.5 334.77 259 334.75M221 352.82L219.52 354M294 354.32L292.5 353.06M260.5 335.25L260 335.2 259.5 335.17M222 353.62L220.36 355M293 355.18L291.68 354M260.5 335.65L260 335.6 259.5 335.56M222.92 354.5L221.25 356M292.44 356.5L290.87 355M223.5 355.76L222.2 357M291.47 357.5L290.01 356M224.5 356.68L223 358.22M290.44 358.5L289.07 357M225.5 357.65L224 359.31M289.34 359.5L288.07 358M226.5 358.71L225 360.5M288 360.3L287 359.01M227.79 359.5L226.5 361.17M286.9 361.5L285.5 359.54M228.99 360.5L227.57 362.5M285.5 362.43L284.5 360.88M230.28 361.5L229.31 363M283.81 363L283 361.62M231.66 362.5L230.79 364M282.28 364L281.5 362.5M233.42 363L232.5 364.79M280.5 364.73L279.72 363M235 364.03L234.34 365.5M278.64 365.5L278 363.83M236.93 364.5L236.17 366.5M276.5 365.81L276 364.2M238.94 365L238.48 366.5M274.26 366L273.79 364M241.18 365L240.7 367M271.91 366L271.52 363.5M243.46 365L243.37 365.5 243.28 366" stroke="#0cf96f"/>
<path d="M309 324.52L307 324.49M207 324.51L205 324.55M309 325.55L307 325.47M207.44 325.5L205 325.59M308.5 326.55L306.5 326.43M207.49 326.5L205.5 326.61M308 327.53L306 327.38M208 327.47L206 327.62M307.49 328.5L305.5 328.31M208.5 328.42L206.5 328.61M307 329.46L305 329.23M209 329.36L207 329.59M307 330.47L304.5 330.13M209.5 330.29L207.5 330.56M306.5 331.41L304.5 331.1M210 331.2L207.5 331.59M306 332.34L304.01 332M210.5 332.11L208.26 332.5M305.5 333.27L303.5 332.88M210.5 333.1L208.5 333.49M305 334.19L303 333.76M211 334L209 334.43M304.5 335.1L302.5 334.63M211.5 334.9L209.5 335.37M303.99 336L302.02 335.5M212 335.79L210 336.3M303.5 336.9L301.5 336.35M212.5 336.67L210.5 337.22M303 337.8L301 337.21M213 337.55L211 338.15M302.5 338.7L300.5 338.06M213.5 338.43L211.72 339M301.71 339.5L300 338.92M214 339.31L212 340M301.5 340.5L299.5 339.77M214.5 340.19L212.5 340.92M301 341.4L299 340.62M215 341.07L213.5 341.66M300.5 342.31L298.55 341.5M216 341.75L214 342.58M300 343.23L298 342.35M216.5 342.63L214.53 343.5M299 343.92L297.5 343.22M217 343.52L215 344.46M298.5 344.84L297 344.1M217.34 344.5L215.5 345.41M298 345.78L296 344.73M218 345.33L216 346.39M297.5 346.73L295.5 345.62M218.5 346.26L216.5 347.38M296.65 347.5L295 346.53M219 347.21L217.5 348.1M296.17 348.5L294.56 347.5M219.79 348L218 349.12M295.5 349.41L294.12 348.5M220.28 349L218.77 350M295 350.46L293.5 349.41M220.82 350L219.5 350.92M294.43 351.5L292.5 350.07M221.5 350.93L220.06 352M293.5 352.3L292 351.13M256 334.76L255.5 334.79 255 334.83M222.5 351.64L220.78 353M293 353.48L291.5 352.23M223 352.78L221.54 354M292 354.29L290.55 353M224 353.54L222.5 354.88M291 355.12L289.82 354M260 336L259.5 335.96 259 335.93M256.5 335.91L256 335.94 255.5 335.98M224.82 354.5L223.24 356M290.5 356.5L289.02 355M225.5 355.66L224.18 357M289.5 357.47L288.15 356M226.5 356.56L225.18 358M288.49 358.5L287.22 357M227.5 357.53L226.26 359M287.38 359.5L286 357.74M228.5 358.6L227.5 359.88M285.83 360L285 358.85M229.71 359.5L228.63 361M284.58 361L283.6 359.5M230.93 360.5L230 361.93M283.22 362L282.34 360.5M232.5 361.07L231.5 362.78M281.76 363L280.72 361M233.94 362L233.16 363.5M279.95 363.5L279.27 362M235.5 362.92L234.79 364.5M278.06 364L277.5 362.53M237.32 363.5L236.74 365M276.09 364.5L275.63 363M239.41 363.5L238.79 365.5M273.9 364.5L273.55 363M241.42 364L241.05 365.5M271.61 364L271.34 362.5M243.63 364L243.37 365.5" stroke="#08fb4f"/>
<path d="M307.5 324.5L305 324.45M208.5 324.48L206.5 324.52M307.5 325.49L305.5 325.42M209 325.44L207 325.52M307 326.46L305 326.35M209 326.41L207 326.53M306.5 327.42L304.5 327.27M209.5 327.35L207.56 327.5M306 328.36L304 328.17M210 328.28L208 328.47M305.5 329.29L304 329.11M210.5 329.19L208.5 329.42M305 330.2L303.5 330M211 330.09L209 330.35M305 331.18L303 330.88M211.33 331L209.5 331.28M304.5 332.08L302.5 331.74M211.5 331.94L210 332.2M304 332.98L302 332.6M212 332.82L210 333.2M303.5 333.87L301.77 333.5M212.5 333.69L210.5 334.11M303 334.75L301 334.28M213 334.55L211.06 335M302.5 335.62L300.5 335.12M213.5 335.41L211.5 335.91M302 336.49L300.21 336M214 336.26L212 336.81M301.5 337.36L299.5 336.77M214.5 337.11L212.5 337.7M301 338.22L299 337.59M215 337.95L213.28 338.5M300.25 339L298.78 338.5M215.5 338.8L213.5 339.48M300 339.95L298 339.23M216 339.64L214 340.37M299.5 340.82L297.5 340.04M216.47 340.5L214.5 341.27M299 341.69L297.33 341M217 341.34L215.5 341.96M298.36 342.5L296.5 341.69M217.5 342.19L216 342.85M298 343.45L296 342.52M218 343.06L216.5 343.75M297.5 344.34L295.5 343.36M218.5 343.93L217 344.67M296.5 344.99L295 344.21M219.5 344.55L217.68 345.5M296 345.9L294.5 345.07M219.88 345.5L218.07 346.5M295.5 346.83L294.08 346M220.21 346.5L218.51 347.5M295 347.78L293.5 346.85M221 347.25L219.5 348.18M294.5 348.75L293 347.77M221.5 348.2L220 349.19M293.62 349.5L292.18 348.5M222 349.18L220.5 350.22M293 350.44L291.72 349.5M259 334.36L256 334.37M222.76 350L221.4 351M292.48 351.5L291 350.35M260.5 334.85L260 334.81 259.5 334.77M223.32 351L222.04 352M291.83 352.5L290.01 351M255.5 335.18L255 335.22 254.5 335.27M224 351.95L222.73 353M291 353.4L289.5 352.08M255.5 335.58L255 335.62 254.5 335.67M225 352.66L223.5 353.99M290 354.17L289 353.23M225.88 353.5L224.5 354.8M289.5 355.49L288.02 354M226.5 354.65L225.16 356M288.5 356.38L287.23 355M227.48 355.5L226.1 357M287.5 357.33L286.36 356M228.38 356.5L227.1 358M286.21 358L285.41 357M229.36 357.5L228.18 359M285.11 359L284.02 357.5M230.43 358.5L229.5 359.79M283.92 360L283 358.6M231.91 359L230.6 361M282.5 360.77L281.75 359.5M233 360.23L232.25 361.5M280.98 361.5L280.19 360M234.46 361L233.68 362.5M279.5 362.5L278.81 361M236 361.82L235.46 363M277.68 363L277.1 361.5M237.89 362L237.13 364M275.78 363.5L275.31 362M239.73 362.5L239.26 364M273.67 363.5L273.3 362M241.66 363L241.3 364.5M271.43 363L271.34 362.5 271.25 362M243.79 363L243.55 364.5" stroke="#05fc2f"/>
<path d="M305.5 324.46L303.5 324.42M210.5 324.44L208 324.49M306 325.44L304 325.36M210 325.4L208.5 325.46M305.5 326.38L303.5 326.26M210.5 326.33L208.5 326.44M305 327.3L303.5 327.19M211 327.24L209 327.39M304.5 328.22L303 328.07M211.5 328.14L209.5 328.32M304.5 329.17L302.5 328.95M212 329.02L210 329.25M304 330.07L302 329.8M212 329.95L210.5 330.15M303.5 330.95L301.5 330.65M212.5 330.82L211 331.05M303 331.83L301.09 331.5M213 331.68L211.14 332M302.5 332.69L300.5 332.31M213.5 332.53L211.5 332.91M302 333.55L300 333.13M214 333.37L212 333.79M301.5 334.4L300 334.05M214.5 334.2L212.5 334.67M301 335.24L299.5 334.87M215 335.03L213.12 335.5M300.5 336.08L299 335.67M215.5 335.85L213.5 336.39M300 336.91L298.59 336.5M216 336.67L214 337.25M299.5 337.75L298 337.27M216.43 337.5L214.85 338M299 338.58L297.5 338.07M217 338.29L215 338.97M298.5 339.41L297 338.87M217.5 339.1L215.5 339.82M298 340.24L296.5 339.66M217.77 340L216 340.68M297.5 341.07L296.1 340.5M218.5 340.72L216.6 341.5M297 341.91L295.5 341.26M219 341.54L217 342.41M296.5 342.75L295 342.06M219.2 342.5L217.5 343.29M295.78 343.5L294.5 342.88M220 343.19L218.35 344M295.5 344.47L294 343.7M220.5 344.03L219 344.81M295 345.35L293.5 344.53M220.79 345L219.5 345.71M294.5 346.24L293 345.38M221.5 345.75L220 346.62M293.75 347L292.11 346M222 346.64L220.6 347.5M293.35 348L291.81 347M222.5 347.55L221.04 348.5M292.5 348.72L291 347.7M223.5 348.15L221.53 349.5M292 349.71L290.5 348.62M224 349.1L222.5 350.19M291.2 350.5L290 349.58M255.5 334.79L255 334.83 254.5 334.87M224.5 350.09L223 351.25M290.5 351.4L289.5 350.58M261 335.3L260.5 335.25 260 335.2M225 351.12L223.94 352M289.98 352.5L288.5 351.21M261 335.7L260.5 335.65 260 335.6M225.75 352L224.61 353M289.29 353.5L288 352.3M260.5 336.05L259.5 335.96M256 335.94L255 336.02M226.5 352.92L225.5 353.86M288.5 354.48L287.02 353M227.5 353.64L226.15 355M287.5 355.29L286.5 354.22M228.4 354.5L227.01 356M286.5 356.16L285.5 355.01M229 355.78L228 356.95M285.5 357.11L284.62 356M230 356.7L229 357.96M284.39 358L283.66 357M231.15 357.5L230.07 359M283.27 359L282.5 357.85M232.24 358.5L231.58 359.5M282 359.92L281.15 358.5M233.73 359L232.84 360.5M280.46 360.5L279.93 359.5M234.99 360L234.2 361.5M279 361.41L278.35 360M236.5 360.73L235.92 362M277.3 362L276.71 360.5M238.28 361L237.7 362.5M275.47 362.5L275 361.02M240 361.63L239.57 363M273.42 362.5L273.3 362 273.18 361.5M241.89 362L241.54 363.5M271.34 362.5L271.25 362 271.16 361.5M244 361.56L243.71 363.5" stroke="#02fe10"/>
<path d="M304 324.43L302 324.39M212 324.41L210 324.45M304.5 325.38L303 325.32M211.5 325.35L209.5 325.42M304 326.29L302.5 326.21M212 326.24L210 326.36M304 327.23L302 327.08M212.5 327.13L210.5 327.28M303.5 328.12L301.5 327.93M212.5 328.04L211 328.18M302.99 329L301 328.78M213 328.91L211.5 329.08M302.5 329.87L301 329.67M213.5 329.76L211.66 330M302 330.73L300.5 330.5M214 330.6L212 330.9M301.5 331.57L300 331.32M214.5 331.43L212.5 331.77M301 332.41L299.5 332.12M215 332.25L213 332.62M300.5 333.23L299 332.92M215.5 333.06L213.5 333.47M300.5 334.17L298.5 333.71M216 333.86L214 334.32M300 334.99L298.03 334.5M216 334.78L214.5 335.15M299.5 335.81L297.5 335.27M216.5 335.58L215 335.98M299 336.62L297 336.04M217 336.37L215.5 336.81M298.5 337.43L296.5 336.81M217.5 337.17L216 337.64M298 338.24L296 337.57M218 337.95L216.5 338.46M297.38 339L295.5 338.33M218.5 338.74L217 339.28M297 339.85L295 339.09M219 339.53L217.5 340.1M296.5 340.66L294.86 340M219.5 340.32L218 340.93M296 341.47L294 340.62M220 341.11L218.5 341.76M295.5 342.29L293.76 341.5M220.5 341.91L219 342.59M294.76 343L293.5 342.39M221 342.71L219.5 343.44M294.5 343.95L293 343.19M221.5 343.52L220 344.29M294 344.8L292 343.72M222 344.34L220.5 345.16M293.22 345.5L291.5 344.52M222.5 345.18L221.07 346M292.5 346.24L291.28 345.5M223 346.03L221.5 346.95M292 347.13L290.5 346.17M224 346.58L222 347.87M291.45 348L290 347.02M224.45 347.5L223 348.49M291 348.98L289.64 348M260 334.42L258.5 334.34M256.5 334.35L256 334.37 255.5 334.4M224.82 348.5L223.5 349.46M290.5 349.96L289 348.82M225.5 349.32L224 350.47M290 350.99L288.5 349.77M255 335.22L254.5 335.27 254 335.33M226 350.31L224.54 351.5M288.84 351.5L287.68 350.5M255 335.62L254.5 335.67 254 335.73M226.9 351L225.5 352.22M288.21 352.5L287.13 351.5M227.49 352L226.41 353M287.5 353.48L286.51 352.5M228.15 353L227.14 354M286.76 354.5L285.5 353.16M228.87 354L228 354.94M285.93 355.5L284.62 354M230 354.63L228.81 356M285 356.48L284 355.24M230.96 355.5L229.76 357M284 357.47L283 356.11M231.89 356.5L231 357.71M282.6 358L281.94 357M232.91 357.5L232 358.87M281.45 359L280.55 357.5M234.33 358L233.5 359.38M280 359.64L279.5 358.7M235.5 359.04L234.73 360.5M278.5 360.32L278 359.24M237 359.64L236.37 361M276.91 361L276.71 360.5 276.52 360M238.48 360.5L238.28 361 238.09 361.5M275.15 361.5L274.68 360M240.36 360.5L239.88 362M273.3 362L273 360.75M242.13 361L241.77 362.5M271.25 362L271.01 360.5M244.25 360L243.93 362" stroke="#0dff00"/>
<path d="M302.5 324.4L300.5 324.36M213.5 324.39L211.5 324.42M303.5 325.34L301.5 325.27M212.5 325.31L211 325.37M303 326.24L301.5 326.15M213 326.19L211.5 326.27M302.5 327.12L301 327M213.5 327.05L212 327.16M302 327.98L300.5 327.84M214 327.9L212 328.09M301.5 328.83L300 328.67M214.5 328.74L212.5 328.96M301.5 329.74L299.68 329.5M214.5 329.63L213 329.82M301 330.57L299 330.28M215 330.45L213.5 330.67M300.5 331.4L299 331.15M215.5 331.26L214.06 331.5M300 332.22L298.5 331.94M216 332.06L214.5 332.34M299.38 333L298 332.71M216.5 332.85L215 333.16M299 333.82L297.57 333.5M217 333.63L215.5 333.97M298.5 334.62L297 334.25M217.5 334.41L215.5 334.9M298 335.4L296.5 335M218 335.18L216 335.71M297.5 336.19L296 335.75M218.29 336L216.56 336.5M297 336.96L295.5 336.5M219 336.7L217 337.32M296.5 337.74L295 337.24M219.36 337.5L217.86 338M295.97 338.5L294.56 338M220 338.21L218 338.92M295.5 339.28L294 338.72M220.4 339L218.5 339.72M295 340.06L293.61 339.5M220.5 339.92L219.05 340.5M294.5 340.83L293 340.19M221 340.68L219.5 341.33M294 341.61L292.65 341M221.5 341.45L220.29 342M293.72 342.5L292 341.68M222 342.23L220.5 342.95M293.5 343.44L291.64 342.5M222.5 343.01L221 343.78M292.5 343.99L291 343.19M223 343.8L221.71 344.5M292 344.8L290.58 344M223.5 344.61L222 345.46M291.5 345.63L290.44 345M224 345.43L222.5 346.34M291 346.48L289.5 345.53M224.92 346L223.5 346.9M290.5 347.36L289.23 346.5M225.18 347L224 347.8M290 348.26L288.5 347.19M256 334.37L255.5 334.4 255 334.43M226 347.66L224.5 348.73M289.24 349L288 348.06M261 334.9L260.5 334.85 260 334.81M255 334.83L254.5 334.87 254 334.92M226.5 348.56L225.26 349.5M288.79 350L287.54 349M261.5 335.36L261 335.3 260.5 335.25M226.99 349.5L225.76 350.5M288 350.78L287.1 350M261.5 335.77L261 335.7 260.5 335.65M227.48 350.5L226.5 351.35M287.5 351.84L286.5 350.92M261 336.11L260.5 336.05 260.01 336M255.22 336L255 336.02 254.5 336.07M228.5 351.07L227 352.45M287 352.98L285.5 351.51M259 336.33L256 336.34M229 352.16L228 353.15M285.82 353.5L285 352.64M229.82 353L228.5 354.4M285 354.43L284.18 353.5M230.5 354.06L229.67 355M284.22 355.5L283.41 354.5M231.36 355L230.55 356M283.29 356.5L282.17 355M232.5 355.67L231.52 357M282 357.1L281.26 356M233.5 356.62L232.57 358M280.85 358L280.25 357M234.63 357.5L234.03 358.5M279.66 359L279 357.76M236 358.1L235.25 359.5M278.12 359.5L277.66 358.5M237.3 359L236.83 360M276.71 360.5L276.12 359M238.87 359.5L238.28 361M274.84 360.5L274.68 360 274.52 359.5M240.5 360.06L240.36 360.5 240.2 361M273.06 361L272.7 359.5M242.38 360L242.01 361.5M271.08 361L270.86 359.5M244.45 359L244.17 360.5" stroke="#26ff00"/>
<path d="M301 324.37L299.5 324.35M215 324.36L213 324.39M302 325.29L300.5 325.23M214 325.25L212 325.33M302 326.18L300 326.07M214 326.13L212.5 326.22M301.5 327.04L300 326.93M214.5 326.98L213 327.09M301 327.89L299.5 327.75M215 327.81L213.5 327.95M300.5 328.72L299 328.56M215.5 328.63L214 328.79M300 329.54L298.5 329.35M216 329.43L214 329.69M299.5 330.35L298 330.13M216.5 330.22L214.64 330.5M299.5 331.23L297.5 330.9M216.5 331.09L215 331.34M298.85 332L297.5 331.75M217 331.87L215.5 332.15M298.5 332.82L297 332.51M217.5 332.64L216 332.95M298 333.6L296.5 333.26M218 333.41L216.5 333.74M297.5 334.37L296 334M218.5 334.16L217.12 334.5M297 335.14L295.5 334.74M219 334.91L217.5 335.31M296.5 335.9L295.11 335.5M219.5 335.65L218 336.08M296 336.65L294.5 336.19M220 336.39L218.5 336.85M295.5 337.41L294.27 337M220.5 337.13L219 337.62M295 338.16L293.5 337.63M221 337.86L219.5 338.39M294.5 338.91L293 338.35M221.5 338.59L220 339.15M294 339.65L292.5 339.06M222 339.32L220.29 340M293.5 340.41L292 339.77M222.5 340.05L220.5 340.9M293 341.16L291.52 340.5M222.5 341L221.39 341.5M292.5 341.92L291 341.21M223 341.75L221.5 342.47M292 342.68L290.64 342M223.5 342.51L222 343.27M291.5 343.45L290.5 342.92M224 343.27L222.63 344M291 344.24L290 343.68M224.5 344.04L223 344.89M290.5 345.03L289.5 344.44M225 344.83L223.88 345.5M290 345.85L289 345.22M225.5 345.63L224.5 346.27M289.5 346.69L288.5 346.02M226 346.45L225 347.13M288.94 347.5L288 346.84M260.5 334.46L260 334.42 259.5 334.39M255.5 334.4L255 334.43 254.5 334.48M226.5 347.3L225.52 348M288.5 348.44L287.5 347.69M227.24 348L226 348.94M288 349.37L286.91 348.5M254.5 335.27L254 335.33 253.5 335.39M228 348.7L226.5 349.9M287.5 350.35L286 349.07M228.5 349.63L227 350.91M286.59 351L285.5 350.02M229 350.62L228.03 351.5M286 352L285 351.03M259.5 336.36L259 336.33 258.5 336.31M229.67 351.5L228.65 352.5M285.35 353L284.39 352M230.29 352.5L229.5 353.34M284.5 353.87L283.5 352.74M231.43 353L230.11 354.5M283.5 354.62L282.58 353.5M232 354.21L231 355.45M282.5 355.44L281.8 354.5M233 355L232.25 356M281.5 356.36L280.92 355.5M233.91 356L233.24 357M280.5 357.42L279.64 356M235 356.89L234.5 357.71M279.13 358L278.59 357M236.32 357.5L235.79 358.5M277.89 359L277.19 357.5M237.76 358L237.06 359.5M276.32 359.5L275.92 358.5M239.27 358.5L238.67 360M274.68 360L274.19 358.5M240.84 359L240.36 360.5M272.82 360L272.7 359.5 272.58 359M242.63 359L242.26 360.5M270.93 360L270.71 358.5" stroke="#40ff00"/>
<path d="M300 324.36L298 324.32M216 324.34L214.5 324.37M301 325.25L299.5 325.19M215 325.22L213.5 325.27M300.5 326.1L299 326.01M215 326.08L213.5 326.16M300.5 326.97L299 326.86M215.5 326.91L214.21 327M300 327.8L298.5 327.66M216 327.72L214.5 327.86M299.5 328.61L298 328.45M216.5 328.52L215 328.68M299 329.41L297.5 329.22M217 329.3L215.5 329.5M298.5 330.2L297.13 330M217.5 330.08L216 330.3M298 330.98L296.5 330.73M217.5 330.92L216 331.17M298 331.84L296.5 331.56M218 331.68L216.5 331.96M297.5 332.61L296 332.31M218.5 332.44L217 332.75M297 333.37L295.5 333.04M219 333.18L217.58 333.5M296.5 334.12L295 333.76M219.5 333.92L218 334.28M296 334.87L294.59 334.5M220 334.65L218.66 335M295.5 335.61L294 335.19M220.5 335.37L219 335.8M295 336.35L293.5 335.89M221 336.09L219.65 336.5M294.5 337.08L293 336.59M221.5 336.8L220 337.29M294 337.81L292.5 337.29M222 337.51L220.59 338M293.42 338.5L292.06 338M222.5 338.22L221 338.78M293 339.26L291.5 338.67M222.8 339L221.54 339.5M292.5 339.98L291.34 339.5M223.5 339.63L222 340.26M292 340.71L290.5 340.05M223.5 340.56L222 341.23M291.5 341.44L290.5 340.97M224 341.28L222.5 341.99M291 342.18L290 341.68M224.5 342.01L223 342.76M290.65 343L289.5 342.4M225 342.74L223.57 343.5M290.5 343.96L289 343.12M225.47 343.5L224 344.33M289.6 344.5L288.5 343.85M226 344.24L224.71 345M289.45 345.5L288 344.6M226.5 345L225 345.95M289 346.35L287.5 345.36M259 333.98L256 333.99M227 345.79L225.93 346.5M288.23 347L287 346.14M227.5 346.6L226.22 347.5M287.92 348L286.57 347M261.5 334.96L261 334.9 260.5 334.85M254.5 334.87L254 334.92 253.5 334.99M227.91 347.5L227 348.18M287 348.57L286 347.78M262 335.43L261.5 335.36 261 335.3M228.5 348.3L227.62 349M286.5 349.49L285.5 348.65M254.5 335.67L254 335.73 253.5 335.8M229 349.21L228.06 350M286 350.47L285 349.57M261.5 336.18L261 336.11 260.5 336.05M255 336.02L254.5 336.07 254 336.14M229.68 350L228.58 351M285.49 351.5L284 350.07M260 336.4L259.5 336.36 259 336.33M256.5 336.32L256 336.34 255.5 336.38M230.5 350.7L229.5 351.67M284.5 352.11L283.5 351.08M231 351.77L230 352.81M283.73 353L283 352.18M231.88 352.5L231 353.49M283 354L282.17 353M232.5 353.6L231.76 354.5M282 354.77L281.42 354M233.5 354.34L232.63 355.5M281 355.62L280.5 354.89M234.5 355.14L233.58 356.5M279.94 356.5L279.33 355.5M235.85 355.5L234.93 357M278.86 357.5L278.31 356.5M236.87 356.5L236.05 358M277.42 358L277.19 357.5 277 357.11M238.24 357L237.53 358.5M276 358.69L275.52 357.5M239.47 358L239.27 358.5 239.07 359M274.35 359L274.19 358.5 274.03 358M241.17 358L240.68 359.5M272.7 359.5L272.33 358M242.75 358.5L242.63 359 242.5 359.5M270.79 359L270.54 357.5M244.5 358.72L244.45 359 244.35 359.5" stroke="#59ff00"/>
<path d="M298.5 324.33L297 324.3M217.5 324.31L215.5 324.35M300 325.21L298.5 325.16M216 325.18L214.5 325.24M299.5 326.04L298.5 325.99M216 326.02L214.5 326.11M299.5 326.89L298 326.78M216.5 326.83L215 326.94M299 327.7L297.5 327.57M217 327.63L215.5 327.76M298.5 328.5L297 328.34M217.5 328.41L216 328.57M298 329.28L296.5 329.09M218 329.17L216.5 329.37M297.5 330.05L296 329.84M218.5 329.93L217 330.15M297 330.82L295.5 330.57M218.5 330.76L217.03 331M297 331.66L295.5 331.38M219 331.5L217.5 331.78M296.5 332.41L295 332.1M219.5 332.23L218.19 332.5M296 333.15L294.5 332.82M220 332.96L218.5 333.29M295.5 333.88L294 333.52M220.5 333.68L219.16 334M295 334.61L293.5 334.22M221 334.38L219.5 334.78M294.5 335.33L293 334.91M221.5 335.09L220.04 335.5M293.87 336L292.5 335.59M222 335.78L220.5 336.24M293.5 336.75L292 336.27M222.42 336.5L221 336.96M293 337.46L291.67 337M223 337.16L221.5 337.68M292.5 338.16L291 337.61M223.09 338L222 338.4M292 338.86L290.5 338.28M224 338.53L222.5 339.12M291.5 339.57L290.5 339.15M224 339.42L223 339.84M291 340.27L290 339.83M224.5 340.12L223 340.78M290.56 341L289.5 340.51M225 340.81L223.53 341.5M290.5 341.93L289 341.19M225.5 341.51L224 342.26M289.7 342.5L288.5 341.88M226 342.22L224.51 343M289.5 343.4L288 342.57M226.37 343L225 343.76M288.75 344L287.5 343.28M227 343.65L225.55 344.5M288.5 344.91L287.02 344M227.31 344.5L226 345.32M287.71 345.5L286.5 344.71M256.5 333.97L256 333.99 255.72 334M228 345.14L226.68 346M287.5 346.49L286.07 345.5M260.94 334.5L260.5 334.46 260 334.42M255 334.43L254 334.53M228.36 346L227 346.95M287 347.32L285.89 346.5M229 346.7L227.5 347.81M286.28 348L285 347.01M254 335.33L253.5 335.39 253 335.46M229.5 347.51L228.24 348.5M285.92 349L284.71 348M262 335.84L261.5 335.77 261 335.7M229.84 348.5L228.65 349.5M285.48 350L284.36 349M230.5 349.27L229.5 350.16M260.5 336.46L260 336.4 259.5 336.36M256 336.34L255.5 336.38 255 336.43M231 350.23L230.19 351M283.91 351.5L283 350.57M231.74 351L230.77 352M283.29 352.5L282.38 351.5M232.33 352L231.5 352.93M282.5 353.4L281.75 352.5M233.42 352.5L232.17 354M281.5 354.11L280.65 353M234 353.68L233.37 354.5M280.58 355L280 354.17M234.94 354.5L234.26 355.5M279.5 355.78L279.33 355.5 279.01 355M278.5 356.84L277.76 355.5M237 356.26L236.87 356.5 236.59 357M277.19 357.5L276.71 356.5M275.72 358L275.32 357M239.87 357L239.27 358.5M274.19 358.5L273.86 357.5M272.45 358.5L272.33 358 272.2 357.5M242.88 358L242.75 358.5 242.63 359M270.63 358L270.43 357M244.63 358L244.45 359" stroke="#73ff00"/>
<path d="M297.5 324.31L296 324.28M218.5 324.29L217 324.32M299 325.18L298.5 325.16 298 325.14M216.5 325.16L216 325.18 215.5 325.2M298.73 326L297.5 325.93M217 325.97L215.5 326.05M298.5 326.82L297 326.71M217.5 326.76L216 326.87M298 327.61L296.76 327.5M218 327.54L216.5 327.67M297.5 328.39L296 328.23M218.5 328.3L217 328.46M297 329.16L295.77 329M219 329.05L217.5 329.24M296.5 329.91L296 329.84 295.5 329.76M219 329.86L218.5 329.93 218.02 330M296 330.65L295 330.49M219.5 330.59L218 330.84M296 331.47L294.5 331.2M220 331.32L218.5 331.59M295.5 332.2L294 331.9M220.5 332.03L219 332.34M295 332.93L293.5 332.6M221 332.74L219.81 333M294.5 333.64L293 333.28M221.23 333.5L220 333.8M294 334.35L292.67 334M222 334.13L220.56 334.5M293.34 335L292 334.63M222.5 334.81L221 335.23M293 335.74L291.5 335.29M222.95 335.5L221.5 335.94M292.5 336.43L291.16 336M223.5 336.16L222 336.64M292 337.11L291 336.77M224 336.82L222.5 337.34M291.5 337.79L290.5 337.43M224 337.67L223 338.03M291 338.47L290.5 338.28 290 338.09M224.5 338.34L223.5 338.73M291 339.36L289.5 338.74M225 339.01L223.81 339.5M290.39 340L289 339.4M225.5 339.68L224 340.34M290 340.74L288.5 340.05M226 340.35L224.6 341M289.5 341.44L288 340.71M226.5 341.02L225 341.76M288.73 342L287.76 341.5M227 341.7L225.5 342.48M288.5 342.85L287 342.03M227.29 342.5L226 343.21M287.89 343.5L287 342.99M228 343.08L226.5 343.94M287.5 344.29L286.5 343.68M228 344.08L227 344.7M286.95 345L286 344.39M260 334.03L258.5 333.96M256 333.99L255 334.05M228.5 344.81L227.5 345.46M286.5 345.8L285.5 345.11M261.5 334.56L260.5 334.46M229 345.56L228 346.25M286 346.58L285.2 346M261.81 335L261.5 334.96 261 334.9M254 334.92L253 335.06M229.5 346.33L228.58 347M285.5 347.39L284.5 346.62M230 347.13L229 347.91M285 348.24L284.1 347.5M254 335.73L253.5 335.8 253 335.88M230.45 348L229.5 348.79M284.5 349.13L283.5 348.25M254.5 336.07L254 336.14 253.5 336.21M231 348.83L230.24 349.5M284.45 350.5L283 349.13M231.76 349.5L230.71 350.5M283.42 351L282.5 350.07M232.23 350.5L231.5 351.25M282.5 351.63L281.92 351M233 351.27L232 352.37M282 352.8L281 351.61M233.84 352L233 353M281 353.45L280.26 352.5M234.9 352.5L233.75 354M280.23 354.5L279.53 353.5M235.29 354L234.6 355M279.33 355.5L278.7 354.5M236.48 354.5L235.54 356M237.42 355.5L236.87 356.5M276.95 357L276.47 356M238.72 356L238 357.5M275.5 357.44L275.32 357 275.12 356.5M274 357.91L273.86 357.5 273.7 357M241.5 357L241 358.5M272.33 358L272.2 357.5 272.07 357M243 357.52L242.88 358 242.75 358.5M270.5 357.32L270.43 357 270.33 356.5M244.71 357.5L244.63 358 244.54 358.5" stroke="#8cff00"/>
<path d="M296.5 324.29L295 324.27M219.5 324.28L218 324.3M298.5 325.16L297 325.1M217.5 325.13L216 325.18M298 325.96L296.5 325.88M218 325.91L216.5 326M297.5 326.75L296 326.64M218.5 326.69L217 326.8M297 327.52L295.5 327.39M219 327.45L217.5 327.58M296.5 328.28L296 328.23 295.5 328.17M219.5 328.19L218 328.35M296 329.03L295 328.9M219.5 328.98L218.5 329.11M296 329.84L294.5 329.62M220 329.71L218.5 329.93M295.08 330.5L294 330.33M220.5 330.43L219 330.68M295 331.29L293.5 331.02M221 331.14L219.5 331.41M294.49 332L293 331.7M221.5 331.83L220 332.13M294 332.71L292.5 332.38M222 332.52L220.5 332.85M293.5 333.4L292 333.04M222.5 333.2L221 333.56M293 334.09L291.5 333.7M223 333.87L221.5 334.25M292.5 334.77L291.5 334.49M223.5 334.53L222 334.95M292 335.44L291.5 335.29 291 335.14M223.5 335.34L222.5 335.63M291.5 336.11L290.5 335.79M223.99 336L223.5 336.16 223 336.32M291.5 336.94L290 336.43M224.5 336.65L224 336.82 223.5 336.99M290.69 337.5L289.5 337.07M225 337.31L223.5 337.85M290.5 338.28L289 337.71M225.38 338L224.08 338.5M290 338.95L288.5 338.34M226 338.6L224.5 339.22M289.24 339.5L288.07 339M226.5 339.25L225 339.9M289 340.28L287.5 339.6M226.77 340L225.67 340.5M288.5 340.95L287.5 340.47M227.5 340.54L226 341.27M288 341.62L287 341.12M227.5 341.45L226.5 341.96M287.5 342.3L286.5 341.77M228 342.11L227 342.66M287.02 343L286.14 342.5M228.5 342.79L227.5 343.36M287 343.99L285.5 343.08M228.96 343.5L227.5 344.39M286.17 344.5L285 343.76M255.5 334.01L255 334.05 254.5 334.09M229.5 344.17L228.21 345M286 345.45L284.59 344.5M254.27 334.5L254 334.53 253.5 334.59M229.82 345L228.5 345.9M285.5 346.22L284 345.14M262 335.03L261.81 335 261.5 334.96M230.5 345.61L229.26 346.5M284.99 347L284 346.24M262.44 335.5L262 335.43 261.5 335.36M253.5 335.39L253 335.46 252.77 335.5M230.81 346.5L229.52 347.5M284.5 347.83L283.5 347.01M262.5 335.93L262 335.84 261.5 335.77M231.5 347.14L230 348.37M283.79 348.5L283 347.82M262 336.26L261.5 336.18 261 336.11M231.95 348L230.8 349M283.4 349.5L282.5 348.67M260.85 336.5L260.5 336.46 260 336.4M255.5 336.38L255 336.43 254.5 336.48M232.3 349L231.5 349.75M282.93 350.5L282 349.57M232.73 350L232 350.74M282 351.09L281 350.01M233.5 350.72L232.78 351.5M281.33 352L280.5 351.03M234.26 351.5L233.5 352.4M280.5 352.81L280.26 352.5 280 352.17M279.88 354L279.18 353M236 353L235 354.42M279 354.98L278.06 353.5M236.79 354L236.16 355M278 355.93L277.2 354.5M237.7 355L237.14 356M276.5 356.07L276 355.05M238.96 355.5L238.72 356 238.5 356.45M275.32 357L274.91 356M240.28 356L239.67 357.5M273.86 357.5L273.7 357 273.53 356.5M241.66 356.5L241.33 357.5M272.2 357.5L271.94 356.5M243.13 357L242.88 358M244.79 357L244.71 357.5 244.63 358" stroke="#a6ff00"/>
<path d="M295.5 324.27L294 324.25M220.5 324.26L219 324.29M297.5 325.12L296 325.07M218.5 325.09L217 325.14M297 325.91L295.5 325.83M219 325.86L217.5 325.94M296.5 326.68L296 326.64 295.5 326.6M219.5 326.62L218 326.72M296 327.43L295.5 327.39 295 327.34M219.5 327.4L219 327.45 218.5 327.49M296 328.23L294.5 328.07M220 328.14L219.5 328.19 219 328.24M295.5 328.97L294 328.78M220.5 328.86L219.38 329M295 329.69L293.66 329.5M221 329.57L219.5 329.79M294.5 330.41L293 330.16M221.5 330.27L220.07 330.5M294 331.11L292.5 330.84M221.76 331L220.5 331.23M293.5 331.8L292 331.51M222.5 331.63L221 331.93M293 332.49L292.5 332.38 292 332.27M223 332.3L221.5 332.63M292.5 333.16L291.5 332.93M223 333.08L222.5 333.2 222 333.32M292 333.83L291.5 333.7 291 333.58M223.5 333.74L223 333.87 222.5 334M291.54 334.5L290.5 334.22M224 334.39L223 334.67M291.5 335.29L290 334.85M224.5 335.04L223 335.48M291 335.95L289.57 335.5M225 335.68L223.5 336.16M290.2 336.5L289 336.1M225.5 336.32L224 336.82M290 337.25L288.5 336.72M225.85 337L224.5 337.49M289.5 337.9L288 337.33M226.5 337.58L225 338.15M288.9 338.5L288.5 338.34 288 338.14M227 338.2L225.5 338.81M288.5 339.18L287.5 338.76M227 339.03L226.5 339.25 226 339.46M288 339.83L287 339.38M227.5 339.67L226.5 340.12M287.57 340.5L286.51 340M228 340.3L227 340.78M287.5 341.37L286 340.61M228.38 341L227.39 341.5M286.94 342L285.5 341.24M229 341.58L227.5 342.39M286.5 342.7L285.25 342M229.5 342.23L228.13 343M286 343.38L285 342.79M229.79 343L228.5 343.78M285.39 344L285 343.76 284.59 343.5M261 334.11L259.51 334M230 343.85L229 344.49M285 344.78L284 344.11M262 334.62L261.5 334.56 261 334.51M254 334.53L253.5 334.59 253 334.65M230.5 344.54L229.5 345.22M262.5 335.1L262 335.03 261.81 335M253.4 335L253 335.06 252.5 335.13M231 345.25L230 345.97M284.34 346.5L283.01 345.5M253 335.46L252.77 335.5 252.5 335.55M231.48 346L230.5 346.74M284 347.42L282.86 346.5M253.5 335.8L253 335.88 252.5 335.96M232 346.74L231.06 347.5M283.21 348L282.04 347M254 336.14L253.5 336.21 253 336.29M232.5 347.52L231.5 348.39M282.86 349L281.77 348M261.5 336.59L260.5 336.46M255 336.43L254 336.55M232.84 348.5L232 349.28M282.43 350L281.42 349M233.5 349.24L232.5 350.23M234 350.19L233.24 351M280.91 351.5L280.04 350.5M234.69 351L234 351.81M280.26 352.5L279.5 351.53M235.3 352L234.52 353M279.5 353.46L278.82 352.5M236.35 352.5L235.64 353.5M237 353.68L236.79 354 236.5 354.46M277.48 355L277.2 354.5 277 354.15M238.26 354L237.5 355.36M239.21 355L238.72 356M275 356.22L274.91 356 274.7 355.5M240.49 355.5L240.28 356 240.07 356.5M273.7 357L273.36 356M241.83 356L241.66 356.5 241.5 356.99M272 356.72L271.94 356.5 271.81 356M243.25 356.5L243.13 357 243 357.5M270.43 357L270.33 356.5 270.23 356M244.86 356.5L244.79 357 244.71 357.5" stroke="#bfff00"/>
<path d="M294.5 324.26L293 324.23M221.5 324.24L220 324.27M296.5 325.08L296 325.07 295.5 325.05M219.5 325.05L218 325.11M296 325.85L295.5 325.83 295 325.8M219.5 325.83L219 325.86 218.5 325.89M296 326.64L294.5 326.53M220 326.58L219.5 326.62 219 326.65M295.5 327.39L294 327.25M220.5 327.31L219 327.45M295 328.12L293.87 328M221 328.03L219.5 328.19M294.5 328.84L293 328.65M221.5 328.73L220 328.92M294 329.55L293 329.41M222 329.43L220.5 329.64M293.5 330.24L293 330.16 292.5 330.08M222 330.19L221.5 330.27 221 330.35M293 330.93L292.5 330.84 292 330.75M222.5 330.87L221.5 331.05M292.5 331.61L291.5 331.41M223 331.54L222.5 331.63 222 331.73M292.5 332.38L291 332.06M223.5 332.2L223 332.3 222.5 332.41M291.81 333L290.5 332.7M224 332.85L222.5 333.2M291.5 333.7L290 333.33M224.45 333.5L223 333.87M291 334.35L289.7 334M225 334.12L223.61 334.5M290.5 335L289 334.56M225.5 334.75L224 335.19M290 335.63L288.5 335.17M226 335.37L224.5 335.84M289.5 336.27L288.5 335.94M226.45 336L225 336.48M289 336.89L288.5 336.72 288 336.54M226.5 336.77L225.5 337.13M288.45 337.5L288 337.33 287.5 337.15M227 337.39L226 337.77M288.5 338.34L287 337.74M227.5 338L227 338.2 226.5 338.4M288 338.97L286.5 338.34M228 338.61L226.5 339.25M287.28 339.5L286.15 339M228.5 339.22L227 339.89M287 340.23L285.5 339.53M228.64 340L227.59 340.5M286.5 340.86L285.5 340.37M229.38 340.5L228 341.19M286 341.5L285.5 341.24 285.05 341M229.5 341.32L228.5 341.85M285.5 342.14L284.5 341.59M229.9 342L229.5 342.23 229.01 342.5M285.36 343L284 342.2M258 333.57L256 333.6M230.5 342.58L229.5 343.18M285 343.76L283.79 343M255 334.05L254.5 334.09 254 334.14M231 343.23L229.77 344M284.5 344.44L283.5 343.78M231.32 344L230 344.88M284.5 345.5L283.08 344.5M231.5 344.9L230.65 345.5M283.5 345.87L282.5 345.12M263 335.6L262 335.43M252.77 335.5L252.5 335.55 252 335.64M232 345.61L231 346.36M283 346.61L282.23 346M262.91 336L262.5 335.93 262 335.84M232.5 346.34L231.67 347M262.5 336.34L262 336.26 261.5 336.18M233 347.1L232 347.95M282 348.21L281.22 347.5M233.39 348L232.5 348.82M281.5 349.08L280.91 348.5M258.5 336.71L256.5 336.72M234 348.75L233.23 349.5M281.46 350.5L280.04 349M234.5 349.65L233.7 350.5M280.47 351L279.6 350M235.5 350.07L234.5 351.22M279.87 352L279.07 351M235.69 351.5L235 352.38M279 352.76L278.46 352M236.5 352.3L236.35 352.5 236 352.99M278.38 354L277.5 352.64M237.44 353L236.79 354M277.2 354.5L276.63 353.5M276.22 355.5L275.5 354.05M239.46 354.5L239.21 355 239 355.42M274.91 356L274.7 355.5 274.5 355.02M240.7 355L240.28 356M273.5 356.41L273.36 356 273.19 355.5M242 355.5L241.83 356 241.66 356.5M243.38 356L243.25 356.5 243.13 357M244.93 356L244.86 356.5 244.79 357" stroke="#d9ff00"/>
<path d="M293.5 324.24L292 324.21M222.5 324.22L221 324.25M296 325.07L294.5 325.01M220.5 325.02L219 325.07M295.5 325.83L294 325.75M220.5 325.78L219 325.86M295 326.57L294.5 326.53 294.02 326.5M221 326.51L219.5 326.62M294.5 327.3L294 327.25 293.5 327.21M221.5 327.22L220 327.36M294 328.01L293 327.91M221.5 327.98L220.5 328.08M293.5 328.72L293 328.65 292.5 328.59M222 328.67L221.5 328.73 221 328.8M293.5 329.48L292 329.27M222.5 329.36L222 329.43 221.5 329.5M293 330.16L291.5 329.93M223 330.03L221.5 330.27M292.5 330.84L291 330.58M223.5 330.69L222 330.96M291.97 331.5L290.5 331.22M224 331.34L222.5 331.63M291.5 332.16L290 331.85M224.41 332L223 332.3M291 332.81L290.5 332.7 290 332.58M225 332.61L223.5 332.96M290.5 333.45L290 333.33 289.5 333.2M225.5 333.24L224 333.61M290 334.08L289 333.81M225.5 333.99L224.5 334.26M289.5 334.71L288.5 334.42M226 334.6L225.5 334.75 225 334.89M289 335.32L288.5 335.17 288 335.02M226.5 335.22L226 335.37 225.58 335.5M288.7 336L287.5 335.61M227 335.82L226 336.15M288.5 336.72L287 336.2M227.27 336.5L226 336.95M288 337.33L286.5 336.78M228 337.02L226.7 337.5M287.5 337.94L286.38 337.5M228.5 337.61L227 338.2M286.88 338.5L286.5 338.34 286 338.13M229 338.2L227.5 338.82M286.5 339.16L285.5 338.72M229 339L228.5 339.22 228 339.44M286 339.76L285 339.3M229.5 339.6L228.5 340.07M285.77 340.5L284.75 340M230 340.2L229 340.69M285.5 341.24L284.08 340.5M230.5 340.79L229.15 341.5M285 341.86L284 341.31M230.81 341.5L229.5 342.23M284.5 342.49L283.5 341.91M259.5 333.62L257.5 333.57M256.5 333.58L255 333.66M231 342.29L230 342.88M284 343.13L283 342.52M261.5 334.17L261 334.11 260.5 334.07M254.5 334.09L254 334.14 253.5 334.19M231.5 342.92L230.56 343.5M283.83 344L282.5 343.14M262.5 334.7L262 334.62 261.5 334.56M253.5 334.59L253 334.65 252.5 334.73M232 343.56L231 344.21M283.5 344.79L282.35 344M263 335.18L262.5 335.1 262 335.03M253 335.06L252.5 335.13 252 335.22M232.5 344.21L231.36 345M283 345.49L282 344.76M232.82 345L231.5 345.98M282.5 346.22L281.58 345.5M253 335.88L252 336.06M233 345.94L232.3 346.5M282.5 347.39L281 346.14M253.5 336.21L253 336.29 252.5 336.38M233.5 346.68L232.53 347.5M281.5 347.76L280.65 347M262 336.68L261.5 336.59 261 336.52M254.37 336.5L254 336.55 253.5 336.63M234.5 347L233 348.36M281 348.59L280.39 348M260 336.81L258 336.7M257 336.7L255.5 336.79M234.5 348.26L233.74 349M235 349.13L234.17 350M280 350.46L279.15 349.5M279.48 351.5L278.67 350.5M236.5 350.5L235.5 351.74M278.5 352.06L278.46 352 278.09 351.5M237 351.61L236.35 352.5M277.74 353L277.08 352M237.76 352.5L237.11 353.5M276.92 354L276.34 353M238.84 353L238 354.46M239.71 354L239.21 355M274.7 355.5L274.28 354.5M240.91 354.5L240.7 355 240.5 355.47M273.36 356L273.19 355.5 273.02 355M242.17 355L241.83 356M271.94 356.5L271.81 356 271.68 355.5M243.5 355.53L243.38 356 243.25 356.5M270.33 356.5L270.23 356 270.14 355.5M245 355.56L244.93 356 244.86 356.5" stroke="#f2ff00"/>
<path d="M292.5 324.22L292 324.21 291.5 324.2M223 324.22L222.5 324.22 222 324.23M295 325.03L294.5 325.01 294.11 325M294.5 325.77L294 325.75 293.5 325.72M221 325.75L220.5 325.78 220 325.81M294.5 326.53L293 326.43M221.5 326.47L220.5 326.54M294 327.25L292.5 327.12M222.5 327.14L221 327.27M293.5 327.96L292 327.8M222.5 327.87L221.28 328M293 328.65L292.5 328.59 292 328.53M223 328.55L221.5 328.73M292.5 329.34L292 329.27 291.5 329.2M223.5 329.22L222 329.43M291.97 330L291.5 329.93 291 329.85M224 329.87L222.5 330.11M291.5 330.66L291 330.58 290.56 330.5M224 330.6L223.5 330.69 223 330.78M291 331.31L290.5 331.22 290 331.12M224.5 331.24L224 331.34 223.5 331.44M225 331.88L224 332.09M290.5 332.7L289 332.35M225.5 332.5L225 332.61 224.5 332.73M290 333.33L288.69 333M226 333.11L225.5 333.24 225 333.36M289.5 333.95L288 333.55M226.5 333.72L225.45 334M288.79 334.5L287.5 334.13M227 334.32L225.5 334.75M288.5 335.17L287 334.71M227.2 335L226 335.37M288 335.77L287 335.45M227.98 335.5L226.5 335.98M287.5 336.37L287 336.2 286.5 336.02M228.5 336.07L227 336.6M287 336.96L286.5 336.78 286 336.6M228.5 336.83L227.5 337.2M286.5 337.55L285.5 337.16M229 337.41L228 337.8M286.5 338.34L285 337.73M229.47 338L229 338.2 228.5 338.4M286 338.93L284.5 338.29M230 338.56L228.5 339.22M285.44 339.5L284.35 339M230.5 339.14L229 339.83M285 340.12L284 339.64M231 339.71L229.5 340.44M284.5 340.72L283.5 340.21M231 340.54L230.5 340.79 230.1 341M284.34 341.5L283 340.78M231.5 341.12L230.5 341.67M283.65 342L282.77 341.5M260.5 333.68L259 333.59M232 341.72L230.64 342.5M283.5 342.83L282.5 342.22M262 334.23L261.5 334.17 261 334.11M254 334.14L253.5 334.19 253 334.25M232.18 342.5L231.37 343M283 343.46L282 342.82M263 334.77L262.5 334.7 262 334.62M232.5 343.23L231.5 343.88M282.5 344.1L281.61 343.5M263.5 335.27L263 335.18 262.5 335.1M233.5 343.53L232.07 344.5M282.33 345L281 344.04M263.5 335.69L263 335.6 262.5 335.51M252.5 335.55L252 335.64 251.5 335.73M233.5 344.51L232.5 345.24M282 345.82L281 345.05M263.5 336.12L262.5 335.93M252.3 336L252 336.06 251.5 336.16M233.57 345.5L232.93 346M281.44 346.5L280.5 345.73M263 336.44L262.5 336.34 262 336.26M253 336.29L252.5 336.38 252 336.48M234 346.26L233.12 347M281 347.31L280.08 346.5M254 336.55L253.5 336.63 253 336.72M280.5 348.11L279.86 347.5M235 347.78L234.25 348.5M280.5 349.48L279.06 348M235.5 348.61L234.64 349.5M279.5 349.89L278.7 349M236.46 349L235.12 350.5M279 350.91L278.26 350M278.46 352L277.72 351M237.45 351L236.71 352M238 352.14L237.76 352.5 237.5 352.9M276.5 353.28L276.34 353 276.04 352.5M275.73 354.5L275.22 353.5M239.96 353.5L239.71 354 239.5 354.41M274.49 355L274.28 354.5 274.06 354M241 354.29L240.91 354.5 240.7 355M242.35 354.5L242.17 355 242 355.5M271.81 356L271.68 355.5 271.55 355M243.64 355L243.38 356M245.09 355L244.93 356" stroke="#fff200"/>
<path d="M292 324.21L290.5 324.19M224 324.2L222.5 324.22M294.5 325.01L293 324.96M221.5 324.98L220 325.04M294 325.75L293.5 325.72 293 325.69M222 325.7L220.5 325.78M293.5 326.46L293 326.43 292.5 326.39M222.5 326.4L221.13 326.5M293 327.17L292.5 327.12 292 327.08M223 327.82L222.5 327.87 222 327.92M292.5 328.59L291 328.41M223.41 328.5L223 328.55 222.5 328.61M292 329.27L290.5 329.06M224.5 329.08L223 329.29M291.5 329.93L290 329.69M224.5 329.79L224 329.87 223.5 329.95M291 330.58L289.5 330.32M225 330.43L223.5 330.69M290.5 331.22L290 331.12 289.5 331.02M225.5 331.05L224 331.34M290.5 331.95L289 331.64M226 331.67L224.5 331.98M289.5 332.47L289 332.35 288.5 332.24M226.5 332.27L225 332.61M289 333.08L288 332.83M226.5 332.99L225.5 333.24M288.5 333.68L287.5 333.42M227 333.59L226.5 333.72 226 333.85M288 334.28L287.5 334.13 287.02 334M227.5 334.18L227 334.32 226.5 334.46M228 334.76L227 335.06M287.17 335.5L286 335.13M229 335.18L227.5 335.66M287 336.2L285.5 335.68M229 335.9L228 336.25M286.5 336.78L285 336.24M229.41 336.5L228.04 337M286 337.35L285 336.97M230 337.03L228.77 337.5M285.5 337.93L285 337.73 284.5 337.52M230.5 337.58L229 338.2M285 338.5L284.5 338.29 284 338.07M230.5 338.35L229.5 338.78M284.5 339.07L283.5 338.62M231 338.91L230 339.37M284.5 339.88L283 339.16M231.44 339.5L231 339.71 230.5 339.95M284 340.46L282.5 339.71M232 340.03L230.5 340.79M283.42 341L283 340.78 282.5 340.51M232 340.86L231 341.4M283 341.63L282 341.07M255.5 333.63L254 333.74M232.38 341.5L232 341.72 231.5 342M282.97 342.5L281.5 341.63M262.5 334.29L262 334.23 261.5 334.17M233 342.01L232 342.61M282.29 343L282 342.82 281.5 342.5M253 334.65L252.5 334.73 252 334.81M233.5 342.6L232.08 343.5M282 343.76L281 343.09M252.5 335.13L252 335.22 251.5 335.31M264 335.8L263.5 335.69 263 335.6M234 344.15L233 344.87M281.5 345.44L280.5 344.68M234.22 345L233.5 345.55M280.84 346L280 345.33M234.93 345.5L233.71 346.5M280.5 346.87L279.5 346M262.5 336.77L262 336.68 261.5 336.59M235.5 346.13L234 347.45M280 347.63L279.32 347M261 336.93L259.5 336.77M256 336.75L254.5 336.9M235.5 347.31L234.77 348M236 348.1L235.12 349M279 349.33L278.24 348.5M278.5 350.3L277.84 349.5M237.32 349.5L236.09 351M278 351.38L277.34 350.5M237.83 350.5L237.08 351.5M277.41 352.5L276.5 351.15M238.43 351.5L237.76 352.5M276.34 353L275.74 352M239.44 352L238.55 353.5M275.48 354L275.22 353.5 275 353.07M240.22 353L239.71 354M241.34 353.5L240.91 354.5M273.19 355.5L272.84 354.5M243.77 354.5L243.64 355 243.51 355.5M270.23 356L270 354.65M245.17 354.5L245.09 355 245.01 355.5" stroke="#ffd900"/>
<path d="M291 324.2L290.5 324.19 290 324.18M225 324.18L223.5 324.21M222.5 324.95L221.04 325M293.5 325.72L292 325.64M223 325.65L221.5 325.73M293 326.43L291.5 326.33M223 326.37L222.5 326.4 222 326.44M292.5 327.12L292 327.08 291.5 327.04M223.5 327.05L222 327.18M292.5 327.86L291 327.7M224 327.72L222.5 327.87M291.5 328.47L291 328.41 290.5 328.35M224.5 328.37L223 328.55M291 329.13L290.5 329.06 290.08 329M290.5 329.77L290 329.69 289.5 329.62M225 329.72L224.5 329.79 224 329.87M225.5 330.34L225 330.43 224.59 330.5M290 331.12L288.5 330.84M226.5 330.86L225 331.15M289.5 331.74L288.34 331.5M226.5 331.56L226 331.67 225.5 331.77M289 332.35L287.5 332.01M227 332.16L226.5 332.27 226 332.39M288.5 332.95L287 332.59M227.5 332.75L226.46 333M287.82 333.5L287.5 333.42 287 333.29M228 333.33L226.5 333.72M287.5 334.13L286.5 333.86M228.13 334L227 334.32M287.5 334.86L286 334.42M228.86 334.5L227.5 334.91M286.5 335.29L286 335.13 285.6 335M286 335.85L285.5 335.68 285 335.52M229.5 335.74L229 335.9 228.72 336M285.5 336.41L285 336.24 284.5 336.06M230 336.29L229 336.65M285.08 337L284 336.59M231 336.65L229.5 337.22M285 337.73L283.5 337.13M231 337.38L230 337.79M284.5 338.29L283 337.65M231.32 338L230.15 338.5M284 338.84L283 338.4M231.91 338.5L230.8 339M283.5 339.4L283 339.16 282.65 339M232 339.23L231 339.71M233 339.53L231.5 340.28M283 340.78L281.52 340M233 340.33L231.73 341M282.5 341.35L281.5 340.79M261.5 333.77L260 333.65M254.5 333.7L254 333.74 253.5 333.8M233.27 341L232 341.72M282 341.92L281 341.34M253.5 334.19L253 334.25 252.5 334.32M233.5 341.72L232.5 342.31M282 342.82L280.69 342M263.5 334.86L263 334.77 262.5 334.7M252.5 334.73L252 334.81 251.5 334.89M234 342.29L233 342.91M281.5 343.42L280.5 342.77M264 335.37L263.5 335.27 263 335.18M252 335.22L251.5 335.31 251 335.41M234.29 343L233 343.86M281.5 344.4L280.23 343.5M252 335.64L251.5 335.73 251 335.84M234.5 343.8L233.51 344.5M280.93 345L279.59 344M264 336.23L263.5 336.12 263 336.02M252 336.06L251.5 336.16 251 336.28M234.88 344.5L234 345.17M280.22 345.5L279.5 344.93M263.5 336.55L262.5 336.34M252.5 336.38L251.5 336.6M235.5 345.05L234.5 345.85M280 346.43L279 345.58M263 336.87L262.5 336.77 262 336.68M253.5 336.63L253 336.72 252.5 336.81M279.5 347.17L278.78 346.5M236.38 346.5L235.3 347.5M279.5 348.45L278.04 347M236.5 347.6L235.61 348.5M278.5 348.78L278.24 348.5 278 348.24M236.92 348.5L236.01 349.5M278 349.7L277.84 349.5 277.5 349.1M277.5 350.71L277.34 350.5 277 350.06M238 350.27L237.83 350.5 237.5 350.94M276.74 351.5L276.05 350.5M238.77 351L238.09 352M275.22 353.5L274.7 352.5M240.48 352.5L240.22 353 240 353.42M274.28 354.5L273.62 353M241.5 353.15L241.34 353.5 241.13 354M273 354.95L272.84 354.5 272.67 354M242.71 353.5L242.17 355M271.68 355.5L271.42 354.5M243.91 354L243.77 354.5 243.64 355M245.39 353.5L245.09 355" stroke="#ffbf00"/>
<path d="M290.5 324.19L289 324.16M226 324.17L224.5 324.19M293.5 324.98L292 324.93M224 326.3L222.5 326.4M292 327.08L290.5 326.95M224 327.01L223.5 327.05 223 327.09M291.5 327.75L290 327.6M224.5 327.66L224 327.72 223.5 327.77M291 328.41L290.5 328.35 290 328.29M225 328.31L224.5 328.37 224 328.43M290.5 329.06L289.5 328.92M225.5 328.94L224 329.15M290 329.69L289.5 329.62 289 329.54M226 329.56L224.5 329.79M290 330.4L288.5 330.15M226.5 330.17L225 330.43M289 330.93L288.5 330.84 288 330.74M288.5 331.53L287.5 331.33M227 331.46L226 331.67M288 332.13L287 331.9M227.5 332.05L227 332.16 226.5 332.27M228 332.63L227.5 332.75 227 332.87M287.5 333.42L286 333.03M229 333.07L227.5 333.46M287 333.99L285.5 333.58M229.5 333.62L228 334.04M286.29 334.5L285 334.12M229.5 334.31L228.5 334.61M286 335.13L284.5 334.66M230 334.86L228.5 335.33M285.5 335.68L284.5 335.35M230.2 335.5L229 335.9M285 336.24L284 335.88M230.81 336L229.5 336.47M284.5 336.78L283.5 336.41M284 337.32L283.5 337.13 283.18 337M231.5 337.19L231 337.38 230.71 337.5M232 337.72L231 338.14M283.24 338.5L282.09 338M232.5 338.24L231.5 338.69M283 339.16L281.57 338.5M233 338.77L231.5 339.47M283 339.95L281.5 339.22M282 340.25L281 339.73M258.5 333.2L255.5 333.25M233.5 340.07L233 340.33 232.67 340.5M281.88 341L280.5 340.25M254 333.74L253.5 333.8 253 333.86M234 340.6L233 341.15M281.28 341.5L281 341.34 280.5 341.05M263 334.37L262.5 334.29 262 334.23M253 334.25L252.5 334.32 252 334.4M234.5 341.14L233.02 342M281 342.19L280 341.58M264 334.95L263.5 334.86 263 334.77M234.46 342L234 342.29 233.65 342.5M280.86 343L279.5 342.12M235 342.54L234 343.19M280.5 343.69L279.5 343M264.5 335.91L264 335.8 263.5 335.69M251.5 335.73L251 335.84 250.5 335.96M235 343.45L234.21 344M280 344.3L279 343.57M264.5 336.35L264 336.23 263.5 336.12M235.5 344.04L234.5 344.79M279.59 345L279.5 344.93 279 344.54M264 336.67L263.5 336.55 263.27 336.5M251.93 336.5L251.5 336.6 251 336.72M236 344.66L235 345.45M279.5 346L278.5 345.16M253 336.72L252.5 336.81 252 336.92M236 345.71L235.07 346.5M279 346.71L278.22 346M261.42 337L261 336.93 260.5 336.87M255 336.84L253.8 337M237 347.11L236.1 348M278.24 348.5L277.5 347.71M237.38 348L236.5 348.96M277.84 349.5L277 348.52M237.75 349L237 349.89M277.34 350.5L276.57 349.5M238.21 350L238 350.27 237.83 350.5M239 350.67L238.77 351 238.5 351.4M276 352.44L275.12 351M239.74 351.5L239.14 352.5M274.96 353L274.7 352.5 274.5 352.13M272.84 354.5L272.67 354 272.5 353.54M271.5 354.82L271.42 354.5 271.28 354M244 353.69L243.91 354 243.77 354.5M270.06 355L269.9 354" stroke="#ffa600"/>
<path d="M289.5 324.17L289 324.16 288.5 324.15M292.5 324.94L292 324.93 291.5 324.91M223.5 324.91L222 324.97M292.5 325.67L291 325.59M224 325.6L222.5 325.68M292 326.36L290.5 326.26M224.5 326.96L223.5 327.05M225.5 327.56L224 327.72M290.5 328.35L289 328.17M226 328.19L224.5 328.37M290 328.99L288.5 328.79M226 328.87L225.5 328.94 225.07 329M289.5 329.62L288 329.39M226.4 329.5L226 329.56 225.5 329.64M289 330.23L288.5 330.15 288 330.06M227 330.09L226.5 330.17 226 330.26M288.5 330.84L288 330.74 287.5 330.65M227.5 330.68L226 330.96M288 331.43L287.5 331.33 287 331.23M228 331.26L226.81 331.5M287.44 332L287 331.9 286.5 331.79M228.5 331.83L227 332.16M287.5 332.71L286 332.35M228.53 332.5L227.5 332.75M286.5 333.16L285.5 332.9M286 333.72L285.5 333.58 285.21 333.5M230 334.17L229.5 334.31 229 334.46M231 334.55L229.55 335M284.95 335.5L283.5 335.02M231.5 335.07L230 335.57M284.34 336L283 335.54M231.5 335.76L230.5 336.11M283.75 336.5L282.5 336.04M232 336.28L230.5 336.84M283.5 337.13L282.5 336.74M232.5 336.79L231 337.38M283.5 337.86L282 337.24M232.52 337.5L231.5 337.92M282.5 338.18L281.5 337.75M233 338.02L232.5 338.24 232 338.46M282 338.7L281 338.24M233.5 338.54L233 338.77 232.5 339M282 339.46L280.5 338.74M234 339.05L232.5 339.78M281.5 339.99L281 339.73 280.54 339.5M260 333.26L258 333.19M256 333.22L254.5 333.31M234.5 339.56L233 340.33M280.97 340.5L280.5 340.25 280.03 340M262.5 333.89L261 333.73M234.5 340.33L233.5 340.87M281 341.34L279.52 340.5M263.5 334.45L263 334.37 262.5 334.29M252.5 334.32L252 334.4 251.5 334.48M234.74 341L234.5 341.14 234 341.42M280.5 341.89L279.5 341.29M252 334.81L251.5 334.89 251 334.99M235.29 341.5L234 342.29M264.5 335.48L264 335.37 263.5 335.27M251.5 335.31L250.5 335.52M235.5 342.22L234.5 342.86M280 343.34L279 342.67M235.65 343L234.92 343.5M279.5 343.93L278.5 343.22M251.5 336.16L251 336.28 250.5 336.4M236 343.68L235 344.41M279.5 344.93L278.3 344M236.2 344.5L236 344.66 235.56 345M278.91 345.5L278 344.75M263.5 336.99L263 336.87 262.5 336.77M252.5 336.81L252 336.92 251.65 337M236.5 345.29L235.65 346M278.5 346.25L277.65 345.5M262 337.1L261 336.93M254 336.97L253 337.14M236.93 346L236 346.85M278.5 347.45L277.52 346.5M237.5 346.63L236.6 347.5M277.78 348L277 347.2M237.86 347.5L237 348.41M277.41 349L276.54 348M238.18 348.5L237.5 349.29M276.96 350L276.17 349M238.99 349L238 350.27M276.4 351L275.7 350M239.47 350L238.77 351M240 351.08L239.74 351.5 239.5 351.9M274.7 352.5L274.16 351.5M241 351.53L240.22 353M273.84 353.5L273.39 352.5M241.79 352.5L241.34 353.5M242.89 353L242.71 353.5 242.53 354M244.2 353L243.91 354" stroke="#ff8c00"/>
<path d="M289 324.16L288.5 324.15 288 324.15M227 324.15L225.5 324.17M292 324.93L291.5 324.91 291 324.89M224 324.9L223.5 324.91 223 324.93M291.5 325.62L291 325.59 290.5 325.57M224.5 325.57L224 325.6 223.5 325.62M291 326.29L290.5 326.26 290 326.22M225 326.23L223.5 326.34M291 326.99L289.5 326.87M225.5 326.88L224.08 327M290.5 327.65L289.03 327.5M227 328.74L225.5 328.94M227.5 329.33L226 329.56M288.5 330.15L287 329.89M227.5 330L227 330.09 226.5 330.17M288 330.74L286.69 330.5M228 330.58L227.5 330.68 227 330.77M287.5 331.33L286 331.03M228.5 331.16L228 331.26 227.5 331.36M287 331.9L286.5 331.79 286 331.69M229 331.72L228.5 331.83 228 331.94M286.5 332.47L286 332.35 285.5 332.24M229.5 332.27L228.5 332.51M285.89 333L285.5 332.9 285 332.78M230 332.81L228.5 333.2M285.5 333.58L284.5 333.31M230.5 333.35L229 333.76M285.5 334.27L284 333.84M230.57 334L229.5 334.31M285 334.81L283.5 334.35M284 335.19L283 334.86M283.5 335.71L282.5 335.37M232 335.59L231.5 335.76 231 335.93M232.5 336.1L232 336.28 231.5 336.46M283 336.93L281.88 336.5M233 336.6L232.5 336.79 232 336.99M282.5 337.45L281.4 337M233.5 337.1L232.5 337.51M282 337.96L281.5 337.75 281 337.53M234 337.6L232.5 338.24M281.5 338.47L281 338.24 280.5 338.02M234 338.31L233 338.77M234.5 338.81L233.5 339.29M281 339.73L279.53 339M260.5 333.3L260 333.26 259.5 333.24M255 333.28L254.5 333.31 254 333.36M235 339.31L234 339.81M280.5 340.25L279.5 339.72M253.5 333.8L252 333.99M235.12 340L234.18 340.5M280 340.77L279 340.21M252 334.4L251 334.57M235.5 340.57L234.5 341.14M279.86 341.5L278.5 340.71M264.5 335.05L263.5 334.86M251.5 334.89L250.5 335.09M236 341.08L235 341.67M280 342.44L278.5 341.5M265 335.59L264 335.37M250.6 335.5L250.5 335.52 250 335.64M236 341.9L235.06 342.5M279.5 343L278 342.01M264.87 336L264.5 335.91 264 335.8M251 335.84L250 336.08M236.39 342.5L235.5 343.1M278.9 343.5L278 342.87M265 336.48L264.5 336.35 264 336.23M251 336.28L250.5 336.4 250.1 336.5M236.5 343.32L235.56 344M278.5 344.16L277.63 343.5M264.5 336.79L264 336.67 263.5 336.55M251.5 336.6L251 336.72 250.5 336.84M236.85 344L236 344.66M278.31 345L277.5 344.35M264 337.11L263 336.87M252 336.92L251 337.16M237.46 344.5L236.24 345.5M278 345.81L277.07 345M262.5 337.2L262 337.1 261.5 337.01M237.5 345.5L236.5 346.39M278 346.96L277 346.01M237.63 346.5L237.5 346.63 237.11 347M277.3 347.5L276.5 346.69M238 347.35L237.86 347.5 237.5 347.88M238.5 348.14L238.18 348.5 238 348.71M276.5 349.42L275.76 348.5M276 350.43L275.34 349.5M239.83 349.5L239.11 350.5M275.43 351.5L274.81 350.5M240.36 350.5L239.74 351.5M273.5 352.74L273.39 352.5 273.16 352M242 352.06L241.79 352.5 241.57 353M272.67 354L272.3 353M243 352.72L242.89 353 242.71 353.5M271.42 354.5L271.28 354 271.15 353.5M269.98 354.5L269.9 354 269.83 353.5M245.5 353.06L245.39 353.5 245.27 354" stroke="#ff7300"/>
<path d="M288.5 324.15L287 324.13M228 324.13L226.5 324.16M291.5 324.91L290 324.86M224.5 324.88L224 324.9 223.5 324.91M291 325.59L290.5 325.57 290 325.54M225 325.55L224.5 325.57 224 325.6M290.5 326.26L290 326.22 289.5 326.19M225.5 326.2L225 326.23 224.5 326.27M290 326.91L289.5 326.87 289 326.83M226 326.84L225.5 326.88 225 326.92M289.5 327.55L288.5 327.45M226.12 327.5L225 327.61M289.5 328.23L288 328.06M227 328.07L225.5 328.25M289 328.85L287.5 328.65M288.5 329.46L287 329.24M228.5 329.84L227 330.09M287 330.56L286 330.37M229 330.4L227.5 330.68M229 331.06L228.5 331.16 228 331.26M286.5 331.79L285.14 331.5M229.5 331.61L229 331.72 228.5 331.83M286 332.35L284.5 332M230 332.15L229.5 332.27 229 332.39M285.5 332.9L284 332.53M230.5 332.69L230 332.81 229.5 332.94M285 333.44L283.5 333.04M231 333.22L230.5 333.35 230 333.48M284.5 333.98L284 333.84 283.5 333.69M231.5 333.74L230.5 334.02M283.99 334.5L283.5 334.35 283 334.2M232 334.25L230.5 334.7M283.43 335L283 334.86 282.5 334.7M232.5 334.75L231 335.24M282.89 335.5L282.5 335.37 282 335.2M233 335.25L231.5 335.76M283 336.23L281.5 335.69M233 335.92L232 336.28M282 336.54L281 336.17M233.5 336.41L232.5 336.79M281.5 337.04L280.5 336.65M234.5 336.7L233 337.3M281.5 337.75L280 337.12M234.5 337.39L233.5 337.81M281 338.24L279.5 337.58M234.69 338L233.58 338.5M281 338.98L279.5 338.28M235.16 338.5L234.1 339M280 339.23L279 338.75M261.5 333.39L260 333.26M254.5 333.31L254 333.36 253.5 333.41M235.5 339.06L235 339.31 234.61 339.5M280 339.98L278.5 339.21M263 333.96L262.5 333.89 262 333.83M236 339.54L235 340.06M279.5 340.49L278.5 339.94M264 334.54L263 334.37M236.5 340.02L235 340.85M250.95 335L250.5 335.09 250 335.2M237 340.5L235.5 341.37M279 341.81L277.68 341M250.5 335.52L250 335.64 249.5 335.76M236.64 341.5L235.84 342M278.5 342.34L277.5 341.69M265.5 336.16L264.5 335.91M250.32 336L250 336.08 249.5 336.21M237 342.1L236 342.77M278.19 343L278 342.87 277.5 342.52M250.5 336.4L249.5 336.67M237.5 342.62L236.25 343.5M278 343.78L277 343.04M265 336.93L264.5 336.79 264 336.67M251 336.72L250.5 336.84 250 336.98M237.5 343.51L236.5 344.27M277.69 344.5L277.5 344.35 277.06 344M238 344.07L237 344.87M277.5 345.37L276.5 344.52M253.5 337.05L253 337.14 252.5 337.25M238 345.07L237 345.94M277.5 346.48L276.5 345.55M259.5 337.18L256 337.16M238.16 346L237.5 346.63M276.81 347L276.5 346.69 276.31 346.5M238.84 346.5L237.86 347.5M276.98 348.5L276 347.41M239 347.58L238.18 348.5M276 348.79L275.76 348.5 275.5 348.19M239.4 348.5L238.6 349.5M275.5 349.73L275.34 349.5 275 349.05M275 350.81L274.81 350.5 274.5 350.03M274.43 352L273.88 351M241.29 351L240.75 352M272.49 353.5L272.3 353 272.12 352.5M271.28 354L271.15 353.5 271.01 353" stroke="#ff5900"/>
<path d="M287.5 324.14L287 324.13 286.5 324.12M225 324.86L224.5 324.88 224 324.9M290.5 325.57L289.2 325.5M225.5 325.52L225 325.55 224.5 325.57M290 326.22L289.5 326.19 289 326.16M226 326.17L225.5 326.2 225 326.23M289.5 326.87L289 326.83 288.5 326.78M226.5 326.8L226 326.84 225.5 326.88M289 327.5L288.5 327.45 288 327.4M227 327.41L226 327.51M288.5 328.11L288 328.06 287.51 328M227.5 328.02L227 328.07 226.5 328.13M288 328.72L287.5 328.65 287 328.59M228 328.61L226.5 328.81M287.5 329.31L287 329.24 286.5 329.16M228.5 329.19L227 329.41M287.5 329.98L286 329.73M286.5 330.47L286 330.37 285.5 330.29M286.5 331.13L285 330.83M230 330.86L228.5 331.16M285.5 331.58L284.5 331.36M230.5 331.4L229 331.72M230.5 332.04L230 332.15 229.5 332.27M231 332.57L230.5 332.69 230 332.81M231.5 333.08L231 333.22 230.5 333.35M284 333.84L282.81 333.5M232 333.59L231.5 333.74 231 333.88M283.5 334.35L282.32 334M232.5 334.1L232 334.25 231.5 334.4M283 334.86L281.86 334.5M233 334.59L232.5 334.75 232 334.91M282.5 335.37L282 335.2 281.5 335.03M233.5 335.08L233 335.25 232.5 335.42M282 335.86L281.5 335.69 281 335.51M234 335.56L232.77 336M281.5 336.36L281 336.17 280.55 336M234.5 336.04L233.26 336.5M281 336.84L280.5 336.65 280.13 336.5M280.5 337.32L280 337.12 279.72 337M235 337.18L234.5 337.39 234.22 337.5M235.5 337.65L234.5 338.09M279.99 338.5L278.9 338M236 338.11L235 338.57M279.5 338.99L279 338.75 278.5 338.51M262 333.44L261.5 333.39 261 333.34M254 333.36L252.7 333.5M236.5 338.58L235 339.31M279 339.47L278.5 339.21 278.08 339M263.5 334.04L262.5 333.89M252.5 333.92L251 334.16M236.5 339.29L235.5 339.8M278.61 340L277.66 339.5M264.5 334.63L264 334.54 263.8 334.5M251.4 334.5L250 334.77M237 339.76L236 340.3M279 340.99L277.5 340.14M265.5 335.28L264.24 335M250.5 335.09L250 335.2 249.5 335.32M278 341.2L277 340.6M265.5 335.72L265 335.59 264.59 335.5M237.47 341L236.5 341.59M277.99 342L277 341.38M266 336.3L265.5 336.16 265 336.03M250 336.08L249.5 336.21 249 336.35M237.5 341.78L236.5 342.43M278 342.87L276.72 342M265.5 336.61L264.5 336.35M237.68 342.5L237.5 342.62 237 342.97M277.5 343.41L276.5 342.69M250.5 336.84L249.5 337.13M238 343.15L237 343.89M277.5 344.35L276.5 343.57M264.5 337.25L264 337.11 263.56 337M251.5 337.04L251 337.16 250.5 337.3M238.09 344L238 344.07 237.5 344.47M263.5 337.43L262 337.1M253 337.14L252.5 337.25 252 337.36M238.5 344.64L237.5 345.5M276.99 346L276 345.1M260.5 337.29L259 337.14M256.5 337.13L255 337.25M238.7 345.5L238 346.15M276.5 346.69L275.8 346M276.09 347.5L276 347.41 275.63 347M239.5 347.03L238.62 348M275.76 348.5L275 347.6M239.81 348L239 348.99M275.34 349.5L274.59 348.5M240 349.27L239.83 349.5 239.5 349.96M274.81 350.5L274.15 349.5M240.69 350L240.05 351M274 351.21L273.88 351 273.6 350.5M241.5 350.64L241.29 351 241.02 351.5M273.39 352.5L272.92 351.5M242.26 351.5L241.79 352.5M243.28 352L242.89 353M244.35 352.5L244.2 353 244.05 353.5M269.9 354L269.83 353.5 269.75 353" stroke="#ff4000"/>
<path d="M287 324.13L286.5 324.12 286 324.11M229 324.12L227.5 324.14M290.5 324.88L289 324.83M226 324.83L224.5 324.88M289.5 325.52L288.5 325.47M226.5 325.47L225 325.55M289.5 326.19L289 326.16 288.5 326.12M226.5 326.13L226 326.17 225.5 326.2M289 326.83L288.5 326.78 288 326.74M227 326.75L226.5 326.8 226 326.84M288.5 327.45L288 327.4 287.5 327.35M227.5 327.36L227 327.41 226.5 327.46M288 328.06L287 327.94M227.63 328L227.5 328.02 227 328.07M287.5 328.65L287 328.59 286.5 328.52M228.5 328.54L228 328.61 227.5 328.67M287 329.24L286.5 329.16 286 329.09M229 329.11L228.5 329.19 228 329.26M286.5 329.81L286 329.73 285.5 329.65M229.5 329.67L228 329.92M286 330.37L285.5 330.29 285 330.2M230 330.22L228.5 330.49M285.5 330.93L285 330.83 284.5 330.73M285 331.47L284.5 331.36 284 331.26M285 332.12L283.5 331.78M231 331.92L230 332.15M284.5 332.65L283 332.29M232 332.32L230.5 332.69M284 333.18L282.5 332.78M232.5 332.82L231 333.22M283 333.55L282 333.28M233 333.32L231.5 333.74M282.5 334.05L281.5 333.76M233.5 333.8L232 334.25M282 334.55L281 334.24M234 334.28L232.5 334.75M282 335.2L280.5 334.7M234 334.92L233 335.25M281.5 335.69L280 335.17M234.5 335.39L233.5 335.74M281 336.17L279.5 335.62M235 335.86L234 336.22M280.5 336.65L279.5 336.26M235.5 336.32L234 336.9M280 337.12L279 336.71M236 336.77L234.5 337.39M280 337.8L278.5 337.16M236 337.43L235 337.87M279 338.05L278 337.6M259.5 332.86L254.5 332.93M236.5 337.89L235.5 338.34M279 338.75L277.5 338.04M262.5 333.5L262 333.44 261.5 333.39M253 333.46L252 333.59M237 338.34L236 338.82M278.5 339.21L277.05 338.5M264 334.12L263.5 334.04 263.24 334M237.07 339L236.08 339.5M278 339.68L277 339.16M265 334.73L264.5 334.63 264 334.54M237.48 339.5L237 339.76 236.54 340M278 340.42L276.5 339.6M250 335.2L249.5 335.32 249 335.45M237.9 340L236.5 340.79M277.5 340.9L276.5 340.32M266 335.85L265.5 335.72 265 335.59M250 335.64L248.62 336M238 340.69L237 341.29M277.2 341.5L276.39 341M249.5 336.21L249 336.35 248.5 336.5M238.5 341.16L237.16 342M277 342.19L276 341.53M266 336.76L265.5 336.61 265.09 336.5M250 336.53L248.5 336.97M239 341.62L237.5 342.62M276.94 343L276 342.34M265.5 337.08L264.5 336.79M238.5 342.79L237.52 343.5M277 343.96L275.74 343M265 337.39L264.5 337.25 264 337.11M251 337.16L250.5 337.3 250 337.45M238.74 343.5L238 344.07M277 344.94L275.5 343.71M252.5 337.25L252 337.36 251.5 337.48M239 344.23L238.08 345M276.44 345.5L275.5 344.67M261 337.36L260.5 337.29 260 337.23M255.5 337.2L255 337.25 254.5 337.32M239 345.24L238.7 345.5 238.5 345.69M276 346.19L275.28 345.5M239.34 346L238.5 346.84M276 347.41L275.15 346.5M240 346.5L239.07 347.5M240 347.78L239.81 348 239.5 348.38M240.5 348.6L239.83 349.5M241 349.53L240.69 350 240.5 350.29M273.88 351L273.3 350M273 351.66L272.92 351.5 272.68 351M242.5 351.01L242.26 351.5 242.02 352M272.3 353L271.92 352M271.15 353.5L270.87 352.5M245.63 352.5L245.39 353.5" stroke="#ff2600"/>
<path d="M286.5 324.12L286 324.11 285.5 324.11M229.5 324.11L229 324.12 228.5 324.12M289 326.16L287.5 326.06M227 326.1L226.5 326.13 226 326.17M288.5 326.78L288 326.74 287.5 326.7M227.5 326.71L227 326.75 226.5 326.8M288 327.4L287.5 327.35 287 327.3M228 327.31L227.5 327.36 227 327.41M287.5 328L287 327.94 286.5 327.88M228.5 327.9L227.5 328.02M287 328.59L286 328.46M228.82 328.5L228.5 328.54 228 328.61M286.5 329.16L286 329.09 285.5 329.02M229.5 329.04L229 329.11 228.5 329.19M286 329.73L285.5 329.65 285 329.57M230 329.59L229.5 329.67 229 329.75M285.5 330.29L285 330.2 284.5 330.11M230.5 330.13L230 330.22 229.5 330.31M285 330.83L284.5 330.73 284 330.64M231 330.66L229.5 330.96M284.5 331.36L284 331.26 283.5 331.16M231.5 331.19L230.01 331.5M284 331.89L283.5 331.78 283 331.66M232 331.7L230.66 332M283.5 332.41L283 332.29 282.5 332.17M283 332.91L282.5 332.78 282 332.66M282.5 333.41L282 333.28 281.5 333.14M282 333.91L281.5 333.76 281 333.62M281.5 334.39L281 334.24 280.5 334.08M281 334.87L280.5 334.7 280 334.54M234.5 334.75L234 334.92 233.74 335M235 335.22L234.5 335.39 234.18 335.5M235.5 335.68L235 335.86 234.6 336M280 336.45L278.81 336M236 336.13L235.5 336.32 235.02 336.5M279.5 336.91L278 336.32M236.5 336.57L236 336.77 235.5 336.97M279 337.37L277.5 336.75M237 337.01L235.84 337.5M278.5 337.82L277.5 337.39M260.5 332.92L259 332.84M255 332.9L253.71 333M237.38 337.5L236.25 338M278 338.27L277 337.82M263 333.57L262 333.44M252.5 333.52L252 333.59 251.5 333.67M237.5 338.11L237 338.34 236.66 338.5M277.5 338.72L276.5 338.24M264.5 334.21L264 334.12 263.5 334.04M251.5 334.07L250 334.35M238 338.55L237 339.04M277.5 339.42L276 338.66M265.5 334.84L265 334.73 264.5 334.63M250.5 334.67L249.01 335M238.46 339L237 339.76M277 339.87L276 339.34M266 335.4L265.5 335.28 265 335.16M249.5 335.32L248.5 335.58M238.5 339.68L237.5 340.22M276.82 340.5L275.5 339.76M266.5 335.98L266 335.85 265.5 335.72M249 335.9L248 336.18M239 340.12L237.5 340.98M276.5 341.07L275.55 340.5M266.5 336.45L266 336.3 265.5 336.16M249 336.35L248 336.66M239 340.85L238 341.47M276.5 341.86L275.5 341.22M266.5 336.92L266 336.76 265.5 336.61M276.24 342.5L275 341.67M266 337.23L265.5 337.08 265.25 337M249.94 337L248.5 337.46M239.5 342.1L238.2 343M276 343.2L275.05 342.5M265.36 337.5L265 337.39 264.5 337.25M250.5 337.3L249.5 337.6M239.4 343L238.5 343.68M275.86 344L275.5 343.71 275.23 343.5M264 337.56L263 337.31M252 337.36L251 337.62M239.5 343.83L238.67 344.5M275.88 345L275 344.24M261.5 337.44L261 337.36 260.5 337.29M255 337.25L253.5 337.48M239.5 344.79L238.7 345.5M275.5 345.71L275.28 345.5 275 345.24M239.87 345.5L239 346.34M275.5 346.87L274.66 346M275.35 348L274.5 347.02M240.23 347.5L240 347.78 239.81 348M274.97 349L274.2 348M240.57 348.5L240.5 348.6 240.19 349M274.48 350L273.8 349M241.36 349L240.69 350M241.87 350L241.29 351M272.92 351.5L272.68 351 272.5 350.65M272 352.2L271.92 352 271.72 351.5M243.48 351.5L243.28 352 243.08 352.5M244.5 352.03L244.35 352.5 244.2 353M269.83 353.5L269.75 353 269.66 352.5" stroke="#ff0d00"/>
<path d="M286 324.11L257.5 323.85 229 324.12M289.5 324.84L272 324.36 257.5 324.2 243 324.36 225.5 324.85M289 325.49L271.5 324.77 257.5 324.55 243.5 324.77 226 325.5M288 326.09L271 325.17 257.5 324.9 243.5 325.2 226.5 326.13M288 326.74L271 325.59 257.5 325.26 244 325.6 227 326.75M287.5 327.35L271 326.01 264 325.7 257.5 325.61 251 325.71 244 326.02 227.5 327.36M287 327.94L278.5 327.05 271 326.43 264 326.07 257.5 325.96 251 326.08 244 326.44 236.5 327.06 228 327.96M286.33 328.5L277.94 327.5 270.5 326.82 264 326.44 257.5 326.31 251 326.45 244.5 326.83 237.22 327.5 228.5 328.54M286 329.09L277.87 328 270.5 327.24 264 326.81 257.5 326.66 251 326.82 244.5 327.25 237.28 328 229 329.11M285.5 329.65L277.79 328.5 270.5 327.66 264 327.18 257.5 327.02 251 327.19 244.5 327.67 237.36 328.5 229.5 329.67M285 330.2L277 328.9 270 328.03 263.5 327.52 257.5 327.37 251.5 327.53 245 328.04 238 328.92 230 330.22M284.5 330.73L277 329.4 270 328.45 263.5 327.89 257.5 327.73 251.5 327.91 245 328.46 238 329.43 230.5 330.76M284 331.26L276.5 329.83 270 328.87 263.5 328.27 257.5 328.08 251.5 328.28 245 328.89 238.5 329.85 231 331.29M283.5 331.78L276 330.24 269.5 329.23 263.5 328.64 257.5 328.44 251.5 328.65 245.5 329.25 239 330.27 231.5 331.81M283 332.29L276 330.74 269.5 329.65 263.5 329.01 257.5 328.8 251.5 329.02 245.5 329.67 239 330.77 231.5 332.44M282.5 332.78L275.5 331.15 269.03 330 263 329.35 257.5 329.16 251.5 329.4 245.5 330.1 239 331.28 232 332.95M282 333.28L275 331.54 269 330.42 263 329.72 257.5 329.51 251.5 329.78 245.64 330.5 239.5 331.69 232.5 333.45M281.5 333.76L274.8 332 269 330.84 263 330.1 257.5 329.88 252 330.11 246 330.87 240 332.08 233 333.95M281 334.24L274.5 332.43 268.5 331.18 263 330.47 257.5 330.24 252 330.49 246 331.3 240.38 332.5 233.5 334.44M280.5 334.7L274.5 332.94 268.5 331.61 263 330.85 257.5 330.6 252 330.87 246.5 331.64 240.43 333 234 334.92M280.5 335.34L274 333.32 268.31 332 263 331.23 257.5 330.97 252 331.25 246.5 332.07 240.5 333.5 234.5 335.39M280 335.8L273.5 333.69 268 332.37 262.5 331.57 257.5 331.33 252 331.64 246.52 332.5 241 333.88 235 335.86M279 336.07L273 334.06 268 332.8 262.5 331.95 257.5 331.7 252.5 331.97 247 332.84 241.5 334.25 235.5 336.32M278.46 336.5L272.77 334.5 267.5 333.13 262.5 332.33 257.5 332.07 252.5 332.35 247 333.27 241.5 334.78 236 336.77M278 336.95L272.5 334.93 267.22 333.5 262.5 332.72 257.5 332.44 252.5 332.74 247.5 333.6 242.44 335 236.5 337.22M277.76 337.5L273 335.62 268.5 334.25 264 333.31 260 332.88M254 332.97L250 333.51 245.72 334.5 241.5 335.86 237 337.67M277.41 338L273.5 336.36 269.53 335 266 334.1 262.51 333.5M252 333.59L248.5 334.25 244.5 335.35 241 336.61 237 338.34M277 338.48L273.69 337 270.5 335.8 267 334.76 264 334.12M250.5 334.25L247.28 335 244.08 336 241 337.19 237.5 338.79M276.5 338.91L273.49 337.5 270.5 336.31 268 335.49 265 334.73M249.5 334.89L247 335.54 244 336.56 241 337.79 238 339.23M276.32 339.5L270.92 337 268.11 336 265.5 335.28M248.79 335.5L246 336.35 243.5 337.3 238 339.95M275.94 340L270.82 337.5 266 335.85M248.5 336.04L243.5 337.86 238.5 340.4M276 340.77L273.5 339.36 270.69 338 266 336.3M248.5 336.5L246 337.37 243.5 338.44 238.75 341M275.95 341.5L271 338.72 268.5 337.63 266 336.76M249 336.82L246.5 337.69 243.57 339 238.5 341.95M275.5 342L273.14 340.5 270.37 339 268 337.95 265.5 337.08M249 337.29L246.5 338.22 243.8 339.5 239 342.44M275.5 342.83L272.8 341 270.18 339.5 267.5 338.27 265 337.39M249.83 337.5L247.11 338.5 244.5 339.75 241.56 341.5 239 343.3M275.5 343.71L272.46 341.5 269.5 339.75 266.79 338.5 263.77 337.5M251.43 337.5L248.38 338.5 245.18 340 241.94 342 239.28 344M275.31 344.5L271.36 341.5 268 339.58 264.5 338.17 261 337.36M254 337.39L250 338.4 246.32 340 243.04 342 239.26 345M275.28 345.5L273 343.5 271.02 342 268.64 340.5 266.66 339.5 264.5 338.65 262 337.97 259.5 337.59 257.5 337.51 255 337.67 252.5 338.13 250 338.9 248 339.74 245.65 341 243.42 342.5 239.5 345.85M275 346.35L273.1 344.5 270.67 342.5 268.5 341.05 266.55 340 264.09 339 262 338.41 259.5 338.01 257.5 337.92 255 338.1 252.5 338.59 250 339.4 248 340.3 245.91 341.5 243.81 343 241.5 345 239.53 347M274.92 347.5L273.08 345.5 270.91 343.5 268.94 342 266.5 340.54 264.12 339.5 262 338.87 260 338.5 257.5 338.35 255 338.53 252.5 339.05 250 339.92 248 340.89 246.19 342 244.22 343.5 242.06 345.5 240 347.78M274.5 348.39L272.5 346 270.49 344 268.64 342.5 266.5 341.13 264.1 340 262 339.33 260 338.93 257.5 338.77 255 338.97 252.59 339.5 250 340.46 248.01 341.5 245.83 343 244.1 344.5 242.19 346.5 240.5 348.6M274 349.29L272.31 347 270.55 345 268.5 343.15 266.5 341.75 264.05 340.5 262 339.8 260 339.38 257.5 339.2 255 339.42 252.54 340 250.5 340.78 248.24 342 246.19 343.5 244.58 345 242.83 347 241.02 349.5M273.5 350.34L271.66 347.5 270.05 345.5 268.55 344 266.65 342.5 264.5 341.25 262.5 340.44 260 339.83 257.5 339.64 255.5 339.8 253 340.35 250.5 341.34 248.49 342.5 246.57 344 244.64 346 243.13 348 241.58 350.5M272.68 351L271.3 348.5 269.92 346.5 268.15 344.5 266.37 343 264 341.57 262 340.78 259.5 340.21 257.5 340.09 255.5 340.26 253 340.85 250.5 341.93 248.5 343.19 246.96 344.5 245.19 346.5 243.85 348.5 242.26 351.5M271.92 352L270.82 349.5 269.34 347 267.73 345 266.08 343.5 264 342.15 262 341.29 259.5 340.66 257.5 340.55 255 340.82 252.64 341.5 250.5 342.54 248.5 343.94 246.92 345.5 245.44 347.5 244.35 349.5 243.28 352M271 352.96L270.2 350.5 269.03 348 267.72 346 266.32 344.5 264.5 343.07 262.5 342 259.5 341.13 258 341.01 256 341.11 253.5 341.72 251.5 342.6 249.35 344 247.81 345.5 246.36 347.5 245.37 349.5 244.35 352.5M269.75 353L269.46 351.5 268.37 348.5 266.87 346 265.4 344.5 264.5 343.74 262.5 342.53 259.5 341.58 257.5 341.49 256 341.57 254 342.05 253 342.45 250.5 343.88 249.12 345 247.55 347 246.72 348.5 246.16 350 245.51 353" stroke="#ff0000"/>
</g>
<path d="M73 323.5 441.6 323.5 441.6 507.5 289.25 507.5 287.47 507.3 285.77 506.71 284.26 505.75 282.99 504.49 282.04 502.97 281.45 501.28 281.25 499.5 281.22 499.5 278.69 470.16 276.17 440.82 273.65 411.48 271.12 382.14 268.6 352.8 268.43 350.89 267.94 349.04 267.13 347.3 266.03 345.73 264.67 344.37 263.1 343.27 261.36 342.46 259.51 341.97 257.6 341.8 255.69 341.97 253.84 342.46 252.1 343.27 250.53 344.37 249.17 345.73 248.07 347.3 247.26 349.04 246.77 350.89 246.6 352.8 244.08 382.14 241.55 411.48 239.03 440.82 236.51 470.16 233.95 499.5 233.75 501.28 233.16 502.97 232.21 504.49 230.94 505.75 229.43 506.71 227.73 507.3 225.95 507.5 73 507.5Z" fill="none" stroke="#8a8a8a" stroke-width="1.2"/>
<g fill="none" stroke-width="1.1" stroke-linejoin="round" clip-path="url(#cl2)">
<path d="M1446.9 126.36L1443.4 125.8 1438.9 125.39 1426.4 124.95 1402.4 124.93 1375.9 125.36 1358.4 125.97 1344.4 126.83 1332.9 127.99 1323.4 129.51 1315.9 131.31 1309.9 133.37 1307.1 134.6 1304.4 136 1299.9 138.94 1297.83 140.6 1295.68 142.6 1291.9 146.87 1288.28 152.1 1284.64 158.6M1230.4 143.51L1226.9 140.21 1223.4 137.6 1219.1 135.1 1214.4 133.02 1209.4 131.34 1203.4 129.84 1196.9 128.65 1189.4 127.65 1178.4 126.65 1164.9 125.88 1148.9 125.35 1129.4 125 1108.9 124.88 1093.9 125.06 1084.9 125.5 1080.9 125.92 1078.4 126.36M1446.9 131.18L1433.9 130.45 1423.4 130.17 1408.9 130.16 1392.4 130.46 1377.9 130.98 1364.9 131.74 1353.9 132.71 1344.4 133.91 1336.9 135.21 1329.9 136.83 1323.9 138.63 1318.4 140.75 1313.4 143.16 1308.4 146.17 1303.9 149.5 1299.4 153.51M1184.9 134.57L1175.4 133.17 1164.4 132.06 1151.9 131.21 1136.9 130.58 1119.4 130.2 1102.9 130.16 1091.9 130.43 1078.4 131.18M1446.9 135.96L1422.9 135.33 1411.9 135.35 1399.9 135.59 1387.9 136.03 1376.9 136.66 1367.4 137.43 1358.4 138.42 1350.9 139.51 1344.4 140.71 1337.9 142.22 1332.4 143.79 1326.9 145.71 1321.9 147.82 1316.9 150.33 1312.4 153M1182.4 141.05L1173.4 139.37 1162.9 137.96 1151.4 136.89 1138.4 136.09 1123.4 135.54 1107.9 135.32 1095.9 135.43 1078.4 135.96M1446.9 140.74L1422.4 140.41 1402.9 140.72 1392.4 141.16 1382.9 141.74 1373.9 142.48 1365.9 143.35 1358.4 144.4 1351.9 145.53 1345.9 146.81 1339.9 148.36 1334.4 150.06 1329.4 151.88 1324.4 154.01 1319.4 156.48M1180.51 147.1L1171.9 145.27 1161.9 143.69 1150.9 142.45 1138.4 141.48 1124.9 140.81 1110.4 140.46 1097.4 140.43 1078.4 140.74M1446.9 145.52L1423.4 145.41 1404.9 145.8 1386.9 146.78 1378.4 147.5 1370.9 148.31 1363.9 149.26 1357.4 150.34 1351.4 151.55 1345.4 152.98 1339.9 154.53 1334.4 156.35 1329.4 158.26 1324.04 160.6M1178.9 152.75L1169.9 150.74 1160.4 149.13 1149.9 147.81 1137.9 146.75 1124.9 145.99 1110.9 145.54 1096.9 145.4 1078.4 145.52M1446.9 150.3L1424.4 150.35 1405.9 150.84 1388.9 151.84 1373.9 153.31 1360.9 155.24 1354.9 156.4 1348.9 157.77 1343.4 159.23 1337.9 160.91 1332.4 162.84 1327.4 164.83M1177.4 158.05L1168.4 156.01 1158.9 154.36 1148.4 152.98 1136.4 151.85 1123.9 151.05 1110.4 150.54 1095.4 150.29 1078.4 150.3M1446.9 155.08L1426.4 155.21 1407.4 155.79 1390.9 156.79 1376.4 158.22 1363.4 160.1 1357.4 161.21 1351.4 162.51 1345.9 163.89 1340.4 165.46 1334.9 167.23 1329.9 169.04M1176.23 163.1L1166.9 161.03 1157.4 159.39 1146.9 158 1135.4 156.88 1122.9 156.04 1109.4 155.47 1093.9 155.14 1078.4 155.08M1446.9 159.86L1427.9 160.04 1408.9 160.67 1392.9 161.65 1378.4 163.05 1365.4 164.86 1353.4 167.14 1342.4 169.88 1331.4 173.31M1175.4 167.97L1165.9 165.94 1156.4 164.33 1145.9 162.94 1134.9 161.86 1122.4 160.99 1108.9 160.37 1093.4 159.97 1078.4 159.86M1446.9 164.64L1428.9 164.85 1410.4 165.5 1394.4 166.47 1380.4 167.77 1367.4 169.47 1355.4 171.59 1343.9 174.21 1332.9 177.32M1174.4 172.57L1165.4 170.75 1155.4 169.12 1144.9 167.78 1133.9 166.72 1121.4 165.84 1107.9 165.2 1092.4 164.77 1078.4 164.64M1446.9 169.42L1429.9 169.64 1411.9 170.28 1395.9 171.22 1381.9 172.45 1369.4 173.97 1357.4 175.9 1345.9 178.25 1334.57 181.1M1173.9 177.09L1164.4 175.31 1154.4 173.78 1143.9 172.52 1132.9 171.5 1120.4 170.65 1106.9 170.01 1091.9 169.57 1078.4 169.42M1446.9 174.2L1430.9 174.42 1413.4 175.02 1397.9 175.89 1383.4 177.06 1370.4 178.52 1358.4 180.28 1346.9 182.39 1335.4 184.96M1173.4 181.44L1163.9 179.81 1153.9 178.41 1143.4 177.22 1131.9 176.22 1119.4 175.4 1105.9 174.78 1091.4 174.35 1078.4 174.2M1446.9 178.98L1431.4 179.2 1414.4 179.77 1398.9 180.58 1384.4 181.66 1371.9 182.92 1359.9 184.47 1348.4 186.32 1336.4 188.65M1263.4 203.34L1259.9 203.3M1172.4 185.57L1162.4 184.07 1152.4 182.82 1141.9 181.76 1130.9 180.88 1118.4 180.12 1104.9 179.53 1090.9 179.13 1078.4 178.98M1446.9 183.76L1431.9 183.97 1415.4 184.49 1399.9 185.23 1385.4 186.2 1372.4 187.37 1360.4 188.73 1348.9 190.34 1336.9 192.34M1263.9 204.71L1259.4 204.67M1171.9 189.69L1161.9 188.38 1151.9 187.28 1141.4 186.33 1129.9 185.5 1117.4 184.82 1103.9 184.27 1090.4 183.91 1078.4 183.76M1446.9 188.54L1432.4 188.73 1415.9 189.21 1400.4 189.88 1386.4 190.7 1373.4 191.7 1361.4 192.87 1349.4 194.28 1337.4 195.94M1264.4 206.06L1259.4 206.04M1171.9 193.79L1151.4 191.67 1129.4 190.12 1103.4 189.01 1078.4 188.54M1446.9 193.32L1432.9 193.5 1417.4 193.89 1402.4 194.44 1387.9 195.15 1374.9 195.98 1362.4 196.96 1350.4 198.09 1337.9 199.48M1264.9 207.41L1258.9 207.39M1171.4 197.76L1150.4 195.98 1128.4 194.69 1102.9 193.74 1078.4 193.32M1446.9 198.1L1418.4 198.58 1389.4 199.6 1363.9 201 1338.4 202.97M1264.9 208.77L1258.9 208.75M1170.9 201.68L1149.9 200.31 1127.4 199.25 1101.9 198.46 1078.4 198.1M1446.9 202.88L1419.9 203.26 1391.4 204.03 1365.4 205.06 1338.4 206.48M1264.9 210.11L1258.9 210.1M1170.84 205.6L1148.4 204.57 1125.4 203.77 1100.9 203.18 1078.4 202.88M1446.9 207.66L1399.4 208.36 1338.4 209.95M1264.9 211.46L1258.9 211.45M1170.9 209.5L1120.4 208.25 1078.4 207.66M1446.9 212.44L1369.9 213.28 1338.9 213.42M1264.9 212.8L1258.9 212.8M1170.4 213.39L1078.4 212.44M1446.9 217.22L1379.9 217.55 1358.9 217.36 1338.9 216.9M1264.9 214.14L1258.9 214.15M1170.4 217.29L1136.4 217.56 1078.4 217.22M1446.9 222L1408.9 222.15 1381.9 221.97 1359.4 221.4 1338.4 220.39M1264.9 215.49L1258.9 215.5M1170.9 221.2L1153.4 221.77 1134.4 222.07 1109.4 222.14 1078.4 222M1446.9 226.78L1410.9 226.84 1382.9 226.43 1359.9 225.5 1348.9 224.79 1338.4 223.93M1264.9 216.84L1258.9 216.86M1170.9 225.16L1152.9 226.09 1133.4 226.63 1107.9 226.86 1078.4 226.78M1446.9 231.56L1410.9 231.54 1395.9 231.31 1382.9 230.93 1370.9 230.37 1359.9 229.64 1348.9 228.68 1337.9 227.48M1264.4 218.19L1259.4 218.21M1170.9 229.19L1152.9 230.45 1132.9 231.23 1107.4 231.6 1078.4 231.56M1446.9 236.34L1429.9 236.42 1410.9 236.27 1395.9 235.97 1382.9 235.47 1370.9 234.77 1359.4 233.81 1348.4 232.6 1337.44 231.1M1263.9 219.55L1259.4 219.58M1171.4 233.24L1162.4 234.13 1152.9 234.87 1132.9 235.85 1107.4 236.35 1078.4 236.34M1446.9 241.12L1429.4 241.2 1410.4 241.03 1395.4 240.65 1382.4 240.06 1370.4 239.21 1358.9 238.06 1347.9 236.61 1336.9 234.79M1263.4 220.92L1259.9 220.95M1171.4 237.43L1162.4 238.49 1152.9 239.36 1143.4 240.02 1132.9 240.54 1121.4 240.9 1107.9 241.12 1078.4 241.12M1446.9 245.9L1428.9 246 1409.9 245.81 1394.9 245.39 1381.9 244.71 1369.9 243.73 1358.4 242.4 1347.4 240.72 1336.4 238.61M1171.9 241.68L1162.9 242.9 1153.4 243.91 1143.9 244.67 1133.4 245.26 1121.9 245.67 1108.4 245.92 1092.4 246 1078.4 245.9M1446.9 250.68L1428.4 250.81 1409.4 250.64 1394.4 250.19 1381.4 249.44 1368.9 248.3 1357.4 246.79 1346.4 244.88 1335.4 242.45M1172.4 246.05L1163.4 247.43 1153.9 248.55 1143.9 249.43 1133.4 250.07 1121.9 250.5 1108.9 250.75 1092.9 250.81 1078.4 250.68M1446.9 255.46L1426.9 255.65 1408.4 255.52 1393.4 255.04 1380.4 254.23 1367.9 252.98 1355.9 251.23 1344.9 249.07 1333.9 246.32M1173.4 250.5L1164.4 252.02 1154.9 253.26 1144.9 254.22 1134.4 254.92 1122.9 255.38 1110.4 255.61 1093.9 255.64 1078.4 255.46M1446.9 260.24L1424.9 260.53 1407.4 260.46 1392.4 259.98 1378.9 259.09 1366.4 257.73 1354.4 255.83 1343.4 253.44 1332.4 250.37M1173.9 255.22L1164.9 256.85 1155.4 258.16 1145.4 259.16 1134.4 259.9 1123.4 260.33 1110.9 260.53 1094.9 260.49 1078.4 260.24M1446.9 265.02L1422.9 265.48 1406.4 265.48 1391.4 265.02 1377.4 264.07 1364.4 262.57 1358.4 261.63 1352.4 260.51 1346.9 259.31 1341.4 257.91 1335.9 256.31 1330.72 254.6M1175.4 259.97L1166.4 261.7 1156.9 263.09 1146.4 264.19 1135.4 264.94 1123.9 265.38 1111.9 265.53 1097.4 265.41 1078.4 265.02M1446.9 269.8L1421.4 270.5 1405.9 270.6 1389.9 270.15 1375.4 269.14 1368.4 268.4 1361.9 267.52 1355.9 266.52 1349.9 265.32 1343.9 263.89 1338.4 262.35 1333.4 260.74 1327.9 258.73M1176.9 264.97L1167.9 266.77 1157.9 268.26 1147.4 269.36 1135.9 270.12 1124.4 270.52 1112.4 270.61 1099.9 270.41 1078.4 269.8M1446.9 274.58L1420.9 275.61 1405.9 275.82 1388.9 275.43 1380.9 274.98 1373.4 274.38 1366.4 273.64 1359.4 272.68 1352.9 271.57 1346.9 270.31 1340.9 268.79 1335.4 267.13 1329.9 265.19 1324.9 263.16M1178.9 270.17L1169.4 272.1 1159.4 273.57 1147.9 274.72 1135.9 275.45 1123.9 275.79 1111.4 275.77 1100.4 275.47 1078.4 274.58M1446.9 279.36L1421.9 280.78 1405.9 281.16 1396.4 281.09 1386.9 280.8 1377.9 280.31 1369.4 279.63 1361.9 278.81 1354.9 277.82 1348.4 276.65 1341.9 275.19 1336.4 273.68 1330.9 271.88 1325.4 269.73 1320.4 267.44M1181.4 275.65L1171.9 277.55 1160.9 279.1 1148.9 280.2 1135.9 280.89 1122.9 281.16 1110.4 281.03 1099.9 280.61 1078.4 279.36M1446.9 284.14L1423.9 286.04 1415.4 286.43 1406.4 286.62 1394.9 286.57 1383.4 286.25 1372.4 285.66 1362.4 284.83 1354.4 283.9 1346.9 282.73 1339.9 281.32 1333.9 279.78 1328.4 278.03 1322.9 275.9 1317.9 273.56 1312.9 270.78M1183.9 281.63L1173.4 283.53 1161.9 284.92 1148.4 285.94 1133.9 286.5 1119.9 286.62 1106.9 286.32 1096.9 285.73 1078.4 284.14M1446.9 288.92L1433.9 290.72 1426.9 291.42 1416.9 291.97 1404.9 292.2 1388.9 292.1 1372.9 291.58 1359.4 290.75 1347.9 289.59 1339.9 288.42 1332.4 286.93 1325.9 285.21 1319.9 283.13 1314.4 280.69 1309.4 277.89 1304.4 274.41 1299.91 270.6M1187.13 288.1L1181.9 288.97 1175.9 289.76 1162.4 291 1146.4 291.82 1128.9 292.19 1113.4 292.11 1100.9 291.6 1091.9 290.78 1078.4 288.92M1446.9 293.77L1444.4 294.81 1440.9 295.72 1436.9 296.43 1432.4 296.96 1426.9 297.36 1420.4 297.63 1402.9 297.88 1376.9 297.65 1354.9 296.93 1345.9 296.39 1338.4 295.76 1331.4 294.96 1325.4 294.05 1317.4 292.33 1310.9 290.29 1305.4 287.87 1302.9 286.47 1300.4 284.83 1298.14 283.1 1295.9 281.11 1292.21 277.1 1290.4 274.75 1288.4 271.82 1284.81 265.6M1190.4 295.38L1176.4 296.58 1158.9 297.38 1135.9 297.83 1112.9 297.81 1099.9 297.44 1090.4 296.69 1086.4 296.11 1082.9 295.38 1079.9 294.47 1078.4 293.77" stroke="#4753d6"/>
<path d="M1284.89 158.1L1281.4 165.39M1241.9 161.32L1238.9 155.48 1235.96 150.6 1233.07 146.6 1230.01 143.1M1299.83 153.1L1295.4 157.71 1290.54 163.6M1229.69 157.6L1224.9 152.66 1220.4 148.79 1215.4 145.27 1210.4 142.44 1204.9 139.97 1198.9 137.86 1191.9 135.99 1184.4 134.49M1312.9 152.68L1308.9 155.36 1305.4 157.99 1301.9 160.9 1298.4 164.07M1218.9 157.3L1214.9 154.39 1210.9 151.83 1206.9 149.59 1202.4 147.42 1197.9 145.56 1192.9 143.83 1187.4 142.25 1181.9 140.95M1319.9 156.21L1315.9 158.42 1312.4 160.56 1304.9 165.75M1211.9 160L1208.4 157.91 1204.4 155.76 1196.9 152.33 1188.9 149.44 1180.4 147.07M1324.4 160.43L1316.9 164.23 1309.5 168.6M1206.9 163.48L1200.4 160.26 1193.4 157.32 1185.9 154.72 1178.4 152.63M1327.9 164.62L1320.4 167.99 1312.9 171.85M1203.4 167.33L1196.9 164.46 1190.4 161.98 1183.9 159.85 1176.9 157.92M1330.4 168.85L1322.9 171.87 1315.9 175.05M1200.46 171.1L1194.4 168.71 1188.4 166.6 1182.4 164.75 1175.9 163.02M1331.9 173.14L1324.9 175.68 1317.9 178.49M1198.4 174.97L1192.4 172.84 1186.4 170.92 1180.9 169.36 1174.9 167.85M1333.4 177.17L1326.4 179.44 1319.4 181.93M1196.9 178.81L1185.4 175.3 1173.9 172.46M1334.9 181.01L1320.9 185.21M1264.9 200.51L1258.9 200.45M1195.87 182.6L1184.4 179.47 1173.4 176.98M1335.9 184.84L1321.9 188.51M1265.4 201.9L1258.4 201.84M1194.4 186.12L1183.4 183.48 1172.9 181.35M1336.64 188.6L1322.9 191.71M1265.9 203.28L1262.9 203.34M1260.4 203.31L1258.4 203.25M1193.9 189.76L1182.9 187.46 1171.9 185.49M1337.4 192.25L1323.9 194.83M1266.4 204.65L1263.4 204.71M1259.9 204.68L1257.9 204.62M1192.9 193.19L1181.9 191.24 1171.4 189.62M1337.9 195.87L1324.4 198M1266.4 206.03L1263.9 206.07M1259.9 206.05L1257.9 206M1192.4 196.64L1181.4 195.02 1171.4 193.73M1338.4 199.42L1324.91 201.1M1266.4 207.39L1264.4 207.42M1259.4 207.4L1257.4 207.36M1191.9 200.03L1170.9 197.71M1338.9 202.93L1324.9 204.22M1266.9 208.74L1264.4 208.77M1259.4 208.76L1257.4 208.72M1191.4 203.39L1170.4 201.64M1338.9 206.45L1325.4 207.26M1266.61 210.1L1264.4 210.11M1259.4 210.11L1257.4 210.09M1191.4 206.75L1170.4 205.58M1338.9 209.94L1325.4 210.32M1266.9 211.45L1264.4 211.46M1259.4 211.45L1257.4 211.45M1191.4 210.09L1170.4 209.49M1339.4 213.42L1325.4 213.37M1266.9 212.8L1264.4 212.8M1259.4 212.8L1257.4 212.8M1190.9 213.41L1169.9 213.38M1339.4 216.92L1325.4 216.43M1266.9 214.16L1264.4 214.14M1259.4 214.15L1257.4 214.16M1191.4 216.74L1169.9 217.3M1338.9 220.42L1325.4 219.51M1266.9 215.51L1264.4 215.48M1259.4 215.5L1257.4 215.53M1191.38 220.1L1170.4 221.22M1338.9 223.98L1325.03 222.6M1266.4 216.86L1264.4 216.83M1259.4 216.85L1257.4 216.89M1191.4 223.5L1170.4 225.2M1338.4 227.54L1324.9 225.76M1266.4 218.23L1263.9 218.18M1259.9 218.2L1257.9 218.25M1191.9 226.91L1180.9 228.21 1170.4 229.23M1337.9 231.17L1324.4 228.94M1265.9 219.59L1263.4 219.54M1259.9 219.57L1257.9 219.63M1192.4 230.38L1181.4 232.01 1170.9 233.29M1337.4 234.88L1323.46 232.1M1265.9 220.97L1262.9 220.92M1260.4 220.94L1258.4 221.01M1192.9 233.93L1181.9 235.9 1170.9 237.5M1336.9 238.71L1322.9 235.43M1265.4 222.35L1258.4 222.41M1193.9 237.48L1182.4 239.89 1171.4 241.75M1335.9 242.57L1328.9 240.77 1321.4 238.63M1264.9 223.75L1258.9 223.81M1194.9 241.15L1183.4 243.93 1172.12 246.1M1334.4 246.46L1327.4 244.4 1320.4 242.1M1195.9 244.98L1184.4 248.12 1172.9 250.59M1332.9 250.52L1325.9 248.2 1318.4 245.4M1197.9 248.69L1191.9 250.65 1185.9 252.38 1179.9 253.91 1173.4 255.32M1330.9 254.66L1323.4 251.86 1316.4 248.87M1199.9 252.61L1193.9 254.81 1187.4 256.89 1181.4 258.54 1174.9 260.07M1328.4 258.92L1321.4 256 1313.9 252.38M1202.4 256.62L1195.9 259.27 1189.9 261.38 1183.4 263.33 1176.4 265.08M1325.4 263.37L1317.9 259.84 1310.28 255.6M1205.9 260.55L1199.4 263.55 1192.4 266.26 1185.4 268.48 1178.4 270.29M1320.74 267.6L1316.9 265.62 1312.9 263.32 1305.4 258.36M1210.9 264.16L1203.9 267.88 1196.9 270.91 1189.4 273.5 1180.9 275.77M1313.4 271.08L1309.9 268.87 1306.4 266.4 1302.4 263.25 1298.9 260.21M1218.4 266.69L1214.4 269.46 1210.4 271.9 1206.4 274.02 1202.4 275.86 1197.9 277.64 1193.4 279.15 1188.4 280.57 1183.4 281.74M1300.4 271.05L1295.9 266.58 1290.9 260.76M1229.29 266.6L1224.9 270.96 1220.9 274.34 1216.4 277.51 1211.4 280.39 1205.9 282.89 1200.4 284.87 1193.9 286.67 1186.9 288.14M1284.9 265.77L1281.4 258.64M1241.9 262.63L1239.59 267.1 1237.4 270.87 1235.27 274.1 1232.99 277.1 1230.8 279.6 1228.23 282.1 1225.8 284.1 1222.9 286.1 1219.9 287.82 1216.9 289.25 1213.4 290.62 1209.4 291.9 1204.9 293.04 1200.4 293.94 1189.9 295.44" stroke="#455ad9"/>
<path d="M1281.53 165.1L1279.75 169.1M1244.34 166.6L1241.79 161.1M1290.9 163.13L1287.17 168.1M1235.79 165.1L1232.4 160.77 1229.4 157.27M1298.9 163.6L1293.4 168.98M1228.39 165.6L1223.4 161 1218.64 157.1M1305.11 165.6L1298.13 171.1M1222.7 167.6L1216.9 163.3 1211.4 159.69M1309.9 168.35L1301.97 173.6M1218.4 170.34L1212.4 166.58 1206.4 163.21M1313.36 171.6L1304.9 176.44M1214.9 173.3L1208.9 170.05 1202.91 167.1M1316.4 174.81L1307.4 179.29M1212.4 176.56L1206.4 173.7 1200.4 171.07M1318.4 178.28L1309.66 182.1M1264.9 197.62L1258.9 197.54M1210.4 179.82L1204.4 177.3 1197.9 174.78M1319.9 181.75L1311.16 185.1M1265.9 199.03L1261.9 199.12 1257.9 198.94M1208.4 182.91L1196.4 178.64M1321.24 185.1L1312.4 188.06M1266.4 200.44L1264.4 200.52M1259.4 200.47L1257.4 200.35M1207 186.1L1195.4 182.46M1322.4 188.37L1313.4 190.98M1266.9 201.84L1264.9 201.92M1258.9 201.87L1256.9 201.75M1205.9 189.26L1194.34 186.1M1323.36 191.6L1314.4 193.82M1267.4 203.22L1265.4 203.3M1258.9 203.27L1256.4 203.14M1205.4 192.47L1193.4 189.65M1324.4 194.73L1314.9 196.71M1267.73 204.6L1265.9 204.67M1258.4 204.64L1256.4 204.55M1204.4 195.47L1192.42 193.1M1324.9 197.91L1315.4 199.53M1267.9 205.98L1265.9 206.04M1258.4 206.01L1255.9 205.92M1203.9 198.52L1192.12 196.6M1325.4 201.04L1315.9 202.3M1268.4 207.34L1265.9 207.4M1257.9 207.37L1255.9 207.31M1203.4 201.51L1191.4 199.97M1325.4 204.17L1316.4 205.05M1268.4 208.71L1266.4 208.75M1257.9 208.73L1255.9 208.69M1202.9 204.47L1190.9 203.34M1325.9 207.23L1316.4 207.82M1268.4 210.08L1266.4 210.1M1257.9 210.09L1255.9 210.07M1202.9 207.46L1190.9 206.72M1325.9 210.31L1316.4 210.57M1268.4 211.44L1266.4 211.45M1257.9 211.45L1255.9 211.44M1202.9 210.41L1190.9 210.07M1325.9 213.37L1316.4 213.3M1268.4 212.81L1266.4 212.8M1257.9 212.8L1255.9 212.81M1202.4 213.36L1190.4 213.41M1325.9 216.45L1316.4 216.05M1268.4 214.17L1266.4 214.15M1257.9 214.16L1255.9 214.18M1202.9 216.3L1190.9 216.76M1325.9 219.55L1316.4 218.82M1268.4 215.54L1266.4 215.5M1257.9 215.52L1255.9 215.56M1202.9 219.28L1190.9 220.13M1325.4 222.64L1316.18 221.6M1267.9 216.9L1265.9 216.85M1257.9 216.88L1255.9 216.94M1202.9 222.3L1190.9 223.55M1325.4 225.83L1315.9 224.42M1267.9 218.27L1265.9 218.22M1258.4 218.24L1255.9 218.33M1203.4 225.31L1191.4 226.98M1324.9 229.03L1315.4 227.26M1267.9 219.66L1265.4 219.57M1258.4 219.62L1256.4 219.7M1203.9 228.38L1191.9 230.46M1323.9 232.2L1314.64 230.1M1267.4 221.03L1265.4 220.96M1258.9 220.98L1256.9 221.08M1204.9 231.4L1192.4 234.03M1323.4 235.56L1313.9 233.02M1266.9 222.42L1264.9 222.34M1258.9 222.39L1256.9 222.5M1205.4 234.63L1193.4 237.6M1321.9 238.78L1312.9 235.97M1266.4 223.81L1264.4 223.73M1259.4 223.78L1257.4 223.9M1206.4 237.84L1194.4 241.29M1320.9 242.28L1311.4 238.86M1265.9 225.22L1261.9 225.13 1257.9 225.32M1207.9 241.02L1195.51 245.1M1318.9 245.59L1309.9 241.88M1264.9 226.63L1258.9 226.71M1209.4 244.36L1203.4 246.71 1197.4 248.86M1316.9 249.09L1307.9 244.84M1211.58 247.6L1205.4 250.37 1199.4 252.8M1314.33 252.6L1305.4 247.74M1214.4 250.75L1208.4 253.84 1201.9 256.84M1310.4 255.67L1302.41 250.6M1217.9 253.78L1211.9 257.36 1205.8 260.6M1305.73 258.6L1298.47 253.1M1222.21 256.6L1216.4 260.72 1210.4 264.45M1299.34 260.6L1293.53 255.1M1228.05 258.6L1222.9 263.17 1217.9 267.06M1291.18 261.1L1287.4 256.21M1235.61 259.1L1232.4 263.08 1228.9 267.01M1281.61 259.1L1279.79 255.1M1244.28 257.6L1241.67 263.1" stroke="#4360dd"/>
<path d="M1279.9 168.76L1278.64 171.6M1245.88 170.1L1244.11 166.1M1287.4 167.79L1284.9 171.25M1238.74 169.1L1235.42 164.6M1293.77 168.6L1289.91 172.6M1232.9 170.12L1227.9 165.12M1298.4 170.87L1293.95 174.6M1228.27 172.1L1222.4 167.36M1302.4 173.3L1297.01 177.1M1224.65 174.6L1218.03 170.1M1305.4 176.14L1299.9 179.47M1221.9 177.41L1214.54 173.1M1307.77 179.1L1301.9 182.18M1265.4 196.11L1261.9 196.19 1258.4 196M1219.34 180.1L1211.9 176.31M1309.9 181.99L1303.4 184.97M1266.9 197.49L1264.4 197.64M1259.4 197.57L1257.4 197.41M1217.73 183.1L1209.9 179.61M1311.4 185L1304.91 187.6M1267.4 198.93L1265.4 199.06M1258.4 198.97L1256.4 198.8M1216.4 186.04L1207.9 182.73M1312.9 187.89L1305.9 190.32M1268.4 200.3L1265.9 200.47M1257.9 200.39L1255.9 200.22M1214.9 188.79L1206.9 186.07M1313.9 190.83L1306.9 192.93M1268.9 201.71L1266.4 201.86M1257.4 201.78L1255.4 201.63M1213.85 191.6L1205.4 189.12M1314.9 193.69L1307.45 195.6M1268.9 203.13L1266.9 203.24M1256.9 203.17L1254.9 203.03M1213.4 194.49L1204.9 192.35M1315.4 196.6L1307.9 198.21M1269.4 204.52L1267.4 204.61M1256.9 204.57L1254.9 204.46M1212.4 197.16L1203.9 195.37M1315.9 199.44L1308.4 200.75M1269.4 205.92L1267.4 206M1256.4 205.94L1254.4 205.84M1211.9 199.9L1203.4 198.43M1316.4 202.23L1308.9 203.25M1269.9 207.29L1267.9 207.35M1256.4 207.33L1254.4 207.25M1211.4 202.59L1202.9 201.45M1316.9 205L1308.9 205.79M1269.9 208.68L1267.9 208.72M1256.4 208.7L1253.9 208.63M1211.4 205.31L1202.4 204.43M1316.9 207.79L1309.4 208.26M1269.9 210.06L1267.9 210.09M1256.4 210.07L1253.9 210.03M1210.9 207.95L1202.4 207.42M1316.9 210.55L1309.4 210.75M1269.9 211.44L1267.9 211.45M1256.4 211.44L1253.9 211.43M1210.9 210.62L1202.4 210.4M1316.9 213.31L1309.4 213.24M1269.9 212.81L1267.9 212.81M1256.4 212.81L1253.9 212.82M1210.9 213.29L1201.9 213.36M1316.9 216.07L1309.4 215.73M1269.9 214.19L1267.9 214.17M1256.4 214.18L1253.9 214.21M1210.9 215.96L1202.4 216.32M1316.9 218.86L1309.4 218.24M1269.9 215.57L1267.9 215.53M1256.4 215.55L1254.32 215.6M1210.9 218.65L1202.4 219.32M1316.4 221.63L1308.9 220.73M1269.9 216.96L1267.4 216.88M1256.4 216.92L1254.4 217M1211.4 221.32L1202.4 222.36M1316.4 224.5L1308.9 223.32M1269.4 218.34L1267.4 218.26M1256.4 218.31L1254.4 218.4M1211.9 224.02L1202.9 225.39M1315.9 227.35L1308.4 225.88M1269.4 219.74L1267.4 219.64M1256.9 219.68L1254.9 219.79M1212.4 226.75L1203.4 228.47M1314.9 230.16L1307.9 228.49M1268.9 221.12L1266.9 221.01M1257.4 221.05L1254.9 221.22M1212.69 229.6L1204.4 231.52M1314.18 233.1L1307.09 231.1M1268.4 222.51L1266.4 222.39M1257.4 222.47L1255.62 222.6M1213.4 232.44L1204.9 234.76M1313.3 236.1L1306.4 233.83M1267.9 223.91L1265.9 223.79M1257.9 223.87L1255.9 224.03M1214.4 235.29L1205.9 238M1311.9 239.05L1304.9 236.38M1267.4 225.33L1265.4 225.2M1258.4 225.28L1256.4 225.46M1215.82 238.1L1207.68 241.1M1310.4 242.09L1303.9 239.24M1266.9 226.76L1264.4 226.61M1259.4 226.68L1257.4 226.85M1217.09 241.1L1208.9 244.56M1308.4 245.09L1301.9 241.8M1265.4 228.15L1261.9 228.06 1258.4 228.26M1219.4 243.79L1211.4 247.68M1305.9 248.03L1300.03 244.6M1221.4 246.82L1213.9 251.02M1302.9 250.93L1297.4 247.18M1224.28 249.6L1217.4 254.09M1298.9 253.44L1294.17 249.6M1227.98 252.1L1221.9 256.84M1293.9 255.47L1290.06 251.6M1232.68 254.1L1227.9 258.74M1287.69 256.6L1285.1 253.1M1238.63 255.1L1235.4 259.37M1279.9 255.35L1278.66 252.6M1245.86 254.1L1244.05 258.1" stroke="#3f70e1"/>
<path d="M1278.86 171.1L1277.9 173.24M1246.77 172.1L1245.66 169.6M1285.01 171.1L1283.21 173.6M1240.89 172.1L1238.4 168.63M1290.38 172.1L1287.52 175.1M1236.23 173.6L1232.88 170.1M1294.4 174.22L1290.9 177.19M1232.4 175.59L1227.9 171.79M1297.4 176.82L1293.51 179.6M1229.4 177.97L1224.4 174.42M1300.4 179.16L1295.61 182.1M1265.19 194.6L1261.9 194.68 1258.4 194.45M1226.9 180.45L1221.4 177.11M1302.06 182.1L1297.4 184.58M1267.4 195.94L1264.9 196.14M1258.9 196.04L1256.9 195.83M1224.9 183.04L1218.9 179.87M1303.9 184.74L1298.8 187.1M1268.4 197.34L1266.4 197.53M1257.9 197.46L1255.9 197.23M1223.15 185.6L1217.4 182.95M1305.4 187.4L1299.9 189.62M1269.4 198.73L1266.9 198.97M1256.9 198.85L1254.9 198.62M1221.9 188.25L1215.9 185.84M1306.4 190.15L1300.4 192.24M1269.9 200.16L1267.9 200.34M1256.4 200.27L1254.4 200.06M1220.9 190.88L1214.4 188.62M1307.4 192.78L1301.4 194.59M1270.16 201.6L1268.4 201.74M1255.9 201.67L1253.9 201.49M1220.4 193.57L1213.4 191.46M1307.9 195.48L1301.9 197.02M1270.9 202.98L1268.4 203.16M1255.4 203.07L1253.4 202.9M1219.4 196.03L1212.9 194.36M1308.4 198.1L1302.4 199.38M1270.9 204.42L1268.9 204.54M1255.4 204.49L1252.9 204.31M1218.9 198.55L1212.11 197.1M1308.9 200.66L1302.4 201.79M1271.4 205.81L1268.9 205.94M1254.9 205.87L1252.4 205.72M1218.4 201.03L1211.4 199.81M1309.4 203.19L1302.9 204.06M1271.4 207.23L1269.4 207.31M1254.9 207.27L1252.4 207.16M1218.4 203.54L1210.9 202.52M1309.4 205.74L1302.9 206.37M1271.9 208.62L1269.4 208.69M1254.4 208.65L1251.9 208.56M1217.9 205.95L1210.9 205.26M1309.9 208.23L1303.4 208.62M1271.9 210.02L1269.4 210.07M1254.4 210.04L1251.9 209.99M1217.9 208.39L1210.4 207.92M1309.9 210.74L1303.4 210.9M1271.9 211.42L1269.4 211.44M1254.4 211.43L1251.9 211.41M1217.9 210.8L1210.4 210.61M1309.9 213.24L1303.4 213.17M1271.9 212.82L1269.4 212.81M1254.4 212.82L1251.9 212.83M1217.4 213.22L1210.4 213.29M1309.9 215.75L1303.4 215.44M1271.9 214.23L1269.4 214.18M1254.4 214.21L1251.9 214.25M1217.9 215.63L1210.4 215.98M1309.9 218.28L1303.4 217.74M1271.4 215.62L1269.4 215.56M1254.4 215.6L1252.4 215.66M1217.9 218.07L1210.4 218.69M1309.4 220.79L1302.9 220.01M1271.4 217.02L1269.4 216.94M1254.9 216.98L1252.4 217.09M1217.9 220.54L1210.9 221.38M1309.4 223.4L1302.9 222.36M1271.4 218.44L1268.9 218.31M1254.9 218.38L1252.4 218.52M1218.4 222.98L1211.4 224.09M1308.9 225.98L1302.4 224.68M1270.9 219.83L1268.9 219.71M1255.4 219.76L1252.9 219.93M1218.9 225.46L1211.9 226.85M1308.34 228.6L1302.13 227.1M1270.4 221.23L1268.58 221.1M1255.4 221.18L1253.4 221.35M1219.4 227.99L1212.4 229.67M1307.4 231.19L1301.4 229.47M1270.4 222.68L1267.9 222.48M1255.9 222.58L1253.9 222.76M1219.86 230.6L1212.9 232.58M1306.9 234L1300.9 231.99M1269.9 224.09L1267.4 223.88M1256.4 223.98L1254.4 224.19M1220.9 233.13L1213.9 235.45M1305.4 236.57L1299.9 234.44M1268.9 225.47L1266.9 225.29M1256.9 225.41L1255.13 225.6M1221.9 235.76L1215.4 238.26M1304.4 239.46L1299.11 237.1M1268.4 226.91L1266.4 226.72M1257.9 226.8L1255.9 227.02M1222.9 238.53L1216.9 241.18M1302.4 242.06L1297.62 239.6M1267.4 228.32L1264.9 228.12M1258.9 228.21L1256.9 228.43M1224.4 241.24L1218.9 244.04M1300.4 244.82L1295.9 242.14M1265.4 229.67L1261.9 229.57 1258.4 229.8M1226.4 243.88L1220.92 247.1M1297.9 247.53L1293.69 244.6M1228.9 246.42L1223.9 249.86M1294.4 249.79L1291.15 247.1M1231.9 248.89L1227.9 252.17M1290.4 251.95L1287.62 249.1M1235.9 250.83L1232.4 254.38M1285.4 253.51L1283.27 250.6M1240.83 252.1L1238.4 255.41M1278.89 253.1L1277.98 251.1M1246.76 252.1L1245.63 254.6" stroke="#3b85e6"/>
<path d="M1277.97 173.1L1277.27 174.6M1247.4 173.51L1246.54 171.6M1283.4 173.34L1281.9 175.39M1242.33 174.1L1240.53 171.6M1287.9 174.7L1285.4 177.29M1238.4 175.86L1235.9 173.25M1291.01 177.1L1288.4 179.29M1235.36 178.1L1231.9 175.16M1293.9 179.32L1290.4 181.8M1232.9 180.47L1228.9 177.62M1295.9 181.92L1291.9 184.34M1267.4 194.38L1264.9 194.62M1258.9 194.51L1256.4 194.17M1230.9 182.9L1226.4 180.15M1297.9 184.31L1293.54 186.6M1268.9 195.74L1266.9 195.99M1257.4 195.89L1254.9 195.52M1229.4 185.43L1224.4 182.78M1298.9 187.05L1294.4 189.1M1269.9 197.15L1267.9 197.4M1256.4 197.3L1253.9 196.93M1227.9 187.79L1222.9 185.48M1299.95 189.6L1295.4 191.4M1270.9 198.54L1268.9 198.79M1255.4 198.68L1253.4 198.41M1226.9 190.26L1221.52 188.1M1300.81 192.1L1295.9 193.78M1271.4 199.99L1269.4 200.21M1254.74 200.1L1252.4 199.8M1225.9 192.62L1220.4 190.71M1301.9 194.44L1296.4 196.06M1271.9 201.42L1269.9 201.62M1254.4 201.54L1251.9 201.25M1225.4 195.07L1219.9 193.42M1302.4 196.89L1296.9 198.26M1272.4 202.85L1270.4 203.02M1253.9 202.95L1251.4 202.7M1224.9 197.42L1218.9 195.9M1302.9 199.27L1296.9 200.52M1272.9 204.26L1270.4 204.45M1253.4 204.35L1250.9 204.14M1224.4 199.72L1218.4 198.45M1302.9 201.7L1297.4 202.63M1273.4 205.68L1270.9 205.84M1252.9 205.75L1250.4 205.57M1224.4 202.06L1217.9 200.94M1303.4 203.99L1297.4 204.78M1273.4 207.13L1270.9 207.25M1252.9 207.18L1249.9 207.01M1223.9 204.27L1217.9 203.47M1303.4 206.32L1297.4 206.89M1273.9 208.54L1271.4 208.63M1252.4 208.58L1249.9 208.48M1223.9 206.52L1217.4 205.9M1303.74 208.6L1297.4 208.97M1273.9 209.98L1271.4 210.03M1252.4 210L1249.4 209.93M1223.9 208.74L1217.4 208.36M1303.9 210.89L1297.4 211.03M1273.9 211.41L1271.4 211.43M1252.4 211.42L1249.4 211.39M1223.4 210.94L1217.4 210.79M1303.9 213.17L1297.4 213.09M1273.9 212.84L1271.4 212.82M1252.4 212.83L1249.4 212.85M1223.4 213.15L1216.9 213.22M1303.9 215.47L1297.4 215.16M1273.9 214.27L1271.4 214.22M1252.4 214.24L1249.9 214.3M1223.4 215.37L1217.4 215.65M1303.9 217.78L1297.4 217.24M1273.9 215.7L1270.9 215.6M1252.9 215.64L1249.9 215.76M1223.46 217.6L1217.5 218.1M1303.4 220.07L1297.4 219.35M1273.4 217.12L1270.9 217M1252.9 217.06L1249.9 217.23M1223.9 219.81L1217.4 220.6M1303.4 222.44L1297.4 221.5M1273.4 218.57L1270.9 218.41M1252.9 218.49L1250.4 218.67M1223.9 222.11L1217.9 223.06M1302.9 224.78L1297.4 223.7M1272.9 219.98L1270.4 219.8M1253.4 219.89L1250.98 220.1M1224.4 224.37L1218.4 225.56M1302.4 227.17L1296.9 225.86M1272.4 221.4L1269.9 221.19M1253.9 221.3L1251.4 221.55M1224.9 226.66L1218.94 228.1M1301.85 229.6L1296.54 228.1M1271.9 222.83L1269.9 222.63M1254.4 222.71L1251.9 222.99M1225.11 229.1L1219.4 230.73M1301.23 232.1L1295.9 230.34M1271.4 224.26L1269.4 224.04M1254.9 224.13L1252.4 224.45M1225.9 231.46L1220.4 233.3M1300.31 234.6L1295.4 232.72M1270.9 225.71L1268.4 225.42M1255.4 225.57L1253.4 225.84M1226.4 234.02L1221.4 235.96M1299.4 237.23L1294.9 235.24M1269.86 227.1L1267.9 226.86M1256.4 226.96L1253.9 227.32M1227.9 236.3L1222.74 238.6M1297.9 239.74L1293.71 237.6M1268.9 228.51L1266.9 228.27M1257.4 228.37L1255.4 228.65M1228.9 238.92L1223.9 241.5M1296.4 242.44L1292.45 240.1M1267.4 229.88L1264.9 229.64M1258.9 229.75L1256.4 230.08M1230.4 241.49L1226.02 244.1M1293.9 244.75L1290.4 242.33M1262.9 231.12L1258.9 231.33M1232.4 243.98L1228.64 246.6M1291.4 247.31L1288.4 244.83M1234.9 246.4L1231.64 249.1M1287.9 249.39L1285.65 247.1M1238.4 248.27L1235.63 251.1M1283.4 250.78L1281.9 248.77M1242.31 250.1L1240.47 252.6M1278.21 251.6L1277.27 249.6M1247.46 250.6L1246.54 252.6" stroke="#3799eb"/>
<path d="M1277.4 174.32L1276.54 176.1M1248.14 175.1L1247.21 173.1M1282.12 175.1L1280.61 177.1M1243.81 176.1L1241.97 173.6M1285.59 177.1L1283.6 179.1M1240.4 177.92L1238.15 175.6M1288.64 179.1L1285.9 181.34M1237.76 180.1L1234.9 177.71M1290.69 181.6L1287.78 183.6M1267.4 192.78L1264.4 193.09 1261.9 193.13 1258.9 192.92 1256.4 192.53M1235.9 182.57L1232.4 180.11M1292.31 184.1L1288.91 186.1M1269.23 194.1L1266.9 194.44M1256.9 194.25L1254.4 193.79M1233.9 184.71L1230.4 182.6M1293.9 186.41L1289.9 188.45M1270.9 195.41L1268.4 195.81M1255.38 195.6L1253.4 195.23M1232.9 187.24L1228.9 185.16M1294.9 188.88L1290.4 190.85M1271.9 196.83L1269.4 197.22M1254.4 197.01L1252.13 196.6M1231.9 189.6L1227.48 187.6M1295.9 191.2L1290.93 193.1M1272.4 198.31L1270.47 198.6M1253.9 198.48L1250.9 197.98M1231.4 192.02L1226.5 190.1M1296.4 193.61L1291.4 195.25M1273.4 199.71L1270.9 200.05M1252.9 199.87L1250.4 199.48M1230.9 194.32L1225.83 192.6M1296.9 195.91L1291.4 197.46M1273.9 201.17L1271.4 201.48M1252.4 201.32L1249.4 200.9M1230.4 196.52L1224.9 194.92M1297.4 198.14L1291.4 199.57M1274.64 202.6L1271.9 202.89M1251.9 202.75L1248.4 202.32M1229.9 198.65L1224.4 197.3M1297.4 200.42L1291.4 201.6M1275.4 204.03L1272.4 204.31M1251.4 204.18L1247.9 203.81M1229.9 200.84L1223.9 199.61M1297.56 202.6L1291.4 203.58M1275.4 205.52L1272.9 205.72M1250.74 205.6L1247.4 205.31M1229.9 202.97L1223.9 201.97M1297.9 204.71L1291.4 205.51M1275.9 206.97L1272.9 207.15M1250.4 207.04L1246.9 206.8M1229.4 204.98L1223.4 204.21M1297.9 206.84L1291.4 207.41M1276.4 208.43L1273.4 208.56M1250.4 208.5L1246.4 208.3M1229.4 207.03L1223.4 206.48M1297.9 208.94L1291.4 209.29M1276.4 209.91L1273.4 209.99M1249.9 209.94L1245.9 209.82M1229.4 209.06L1223.4 208.72M1297.9 211.02L1291.4 211.16M1276.4 211.38L1273.4 211.41M1249.9 211.39L1245.9 211.35M1229.4 211.07L1222.9 210.92M1297.86 213.1L1291.4 213.02M1276.4 212.86L1273.4 212.83M1249.9 212.85L1245.9 212.88M1229.4 213.07L1222.9 213.16M1297.9 215.18L1291.4 214.89M1276.4 214.33L1273.4 214.26M1250.4 214.29L1245.9 214.42M1229.4 215.09L1222.9 215.39M1297.9 217.28L1291.4 216.77M1276.4 215.81L1273.4 215.69M1250.4 215.74L1246.4 215.93M1229.4 217.11L1223.4 217.61M1297.9 219.41L1291.4 218.67M1275.9 217.27L1273 217.1M1250.4 217.2L1246.9 217.43M1229.4 219.16L1223.4 219.87M1297.9 221.57L1291.42 220.6M1275.4 218.72L1272.9 218.53M1250.9 218.63L1247.4 218.93M1229.4 221.25L1223.4 222.19M1297.9 223.8L1291.56 222.6M1274.9 220.17L1272.4 219.94M1251.4 220.06L1247.9 220.42M1229.4 223.39L1223.9 224.46M1297.4 225.97L1291.9 224.71M1274.4 221.62L1271.9 221.36M1251.9 221.49L1248.9 221.85M1229.9 225.48L1224.4 226.78M1296.9 228.2L1291.4 226.71M1273.9 223.07L1271.4 222.78M1252.4 222.93L1249.4 223.34M1229.9 227.76L1224.9 229.16M1296.4 230.5L1291.4 228.91M1273.4 224.54L1270.9 224.2M1252.9 224.38L1250.4 224.76M1230.4 229.98L1225.48 231.6M1295.9 232.91L1291.4 231.24M1272.4 225.94L1270.4 225.65M1253.9 225.77L1251.4 226.18M1230.9 232.31L1226.19 234.1M1295.4 235.46L1290.9 233.52M1271.4 227.34L1269.4 227.04M1254.4 227.24L1252.4 227.59M1231.76 234.6L1227.4 236.52M1293.9 237.7L1289.9 235.71M1270.4 228.76L1268.4 228.45M1255.71 228.6L1253.4 229.02M1232.49 237.1L1228.55 239.1M1292.9 240.37L1288.98 238.1M1269.4 230.19L1266.9 229.82M1256.9 230L1254.9 230.36M1233.9 239.43L1230.22 241.6M1290.8 242.6L1287.9 240.64M1266.9 231.41L1262.4 231.12M1259.4 231.28L1256.9 231.63M1235.4 241.92L1232.23 244.1M1288.73 245.1L1286.25 243.1M1237.4 244.35L1234.65 246.6M1285.9 247.35L1283.9 245.36M1240.4 246.26L1238.07 248.6M1282.15 249.1L1280.62 247.1M1243.81 248.1L1241.94 250.6M1277.4 249.87L1276.53 248.1M1248.17 249.1L1247.4 250.72" stroke="#31b6ed"/>
<path d="M1276.79 175.6L1276.02 177.1M1248.63 176.1L1247.9 174.6M1280.9 176.72L1279.43 178.6M1244.9 177.53L1243.43 175.6M1283.9 178.8L1282.05 180.6M1241.9 179.41L1240.09 177.6M1286.2 181.1L1283.9 182.91M1239.9 181.83L1237.4 179.8M1287.9 183.52L1284.9 185.49M1269.4 192.41L1266.9 192.85M1256.76 192.6L1254.51 192.1M1238.15 184.1L1235.4 182.22M1289.4 185.81L1285.9 187.78M1270.9 193.76L1268.9 194.16M1254.9 193.89L1252.9 193.43M1237.16 186.6L1233.72 184.6M1290.4 188.2L1286.46 190.1M1272.4 195.1L1270.4 195.5M1253.9 195.33L1250.9 194.64M1236.4 188.99L1232.62 187.1M1290.9 190.64L1286.4 192.5M1273.9 196.43L1271.4 196.91M1252.4 196.65L1249.4 195.98M1235.9 191.32L1231.4 189.37M1291.4 192.92L1285.9 194.87M1274.9 197.86L1271.9 198.39M1251.4 198.07L1247.9 197.34M1235.4 193.51L1230.9 191.83M1291.89 195.1L1285.4 197.06M1275.9 199.29L1272.9 199.78M1250.9 199.57L1246.4 198.71M1235.4 195.76L1230.4 194.15M1291.9 197.32L1284.4 199.22M1276.9 200.72L1273.4 201.24M1249.9 200.97L1244.4 200M1235.4 197.89L1229.9 196.38M1291.9 199.45L1282.4 201.42 1274.4 202.63M1248.9 202.39L1240.4 200.97 1229.67 198.6M1291.9 201.51L1282.62 203.1 1274.9 204.08M1248.4 203.87L1239.42 202.6 1229.4 200.74M1291.9 203.5L1282.9 204.75 1274.9 205.57M1247.9 205.35L1239.4 204.38 1229.4 202.89M1291.9 205.45L1282.9 206.41 1275.4 207.01M1247.4 206.84L1238.9 206.07 1228.9 204.92M1291.9 207.37L1275.9 208.45M1246.9 208.33L1228.9 206.99M1291.9 209.26L1275.9 209.92M1246.4 209.83L1228.9 209.03M1291.9 211.15L1275.9 211.39M1246.4 211.36L1228.9 211.06M1291.9 213.03L1275.9 212.85M1246.4 212.88L1228.9 213.08M1291.9 214.91L1275.9 214.32M1246.4 214.4L1229.08 215.1M1291.9 216.8L1275.9 215.79M1246.9 215.9L1228.9 217.15M1291.9 218.72L1282.9 217.81 1275.4 217.24M1247.4 217.4L1239.21 218.1 1228.9 219.22M1291.9 220.67L1282.9 219.47 1274.9 218.68M1247.9 218.88L1239.4 219.83 1228.9 221.33M1291.9 222.66L1282.47 221.1 1274.4 220.12M1248.4 220.37L1239.46 221.6 1228.9 223.49M1292.4 224.83L1282.4 222.8 1274.24 221.6M1249.4 221.79L1240.4 223.24 1229.4 225.6M1291.9 226.84L1284.9 225.1M1276.9 223.52L1273.4 223.01M1249.9 223.27L1245.04 224.1M1235.4 226.29L1229.4 227.9M1291.9 229.06L1285.9 227.29M1275.9 224.96L1272.9 224.47M1250.9 224.68L1246.9 225.42M1235.4 228.42L1230.04 230.1M1291.9 231.42L1286.4 229.5M1274.9 226.39L1271.9 225.86M1251.82 226.1L1248.4 226.79M1235.4 230.66L1230.4 232.49M1291.1 233.6L1286.4 231.7M1273.4 227.72L1270.9 227.26M1252.9 227.5L1249.9 228.14M1235.9 232.85L1231.4 234.76M1290.4 235.96L1286.47 234.1M1272.14 229.1L1269.9 228.67M1253.9 228.92L1251.4 229.48M1236.4 235.19L1232.4 237.15M1289.4 238.34L1285.9 236.41M1270.9 230.5L1268.9 230.1M1255.4 230.26L1252.9 230.83M1236.9 237.72L1233.61 239.6M1288.4 240.97L1285.4 239.02M1268.9 231.75L1266.4 231.35M1257.07 231.6L1254.9 232.06M1238.12 240.1L1235.13 242.1M1286.4 243.22L1283.9 241.28M1239.9 242.36L1237.09 244.6M1284.14 245.6L1282.05 243.6M1241.9 244.79L1240.05 246.6M1280.9 247.46L1279.42 245.6M1244.9 246.7L1243.43 248.6M1276.78 248.6L1276 247.1M1248.67 248.1L1247.93 249.6" stroke="#2bd5ef"/>
<path d="M1276.28 176.6L1275.47 178.1M1249.14 177.1L1248.4 175.64M1279.83 178.1L1278.6 179.6M1245.9 178.78L1244.57 177.1M1282.4 180.27L1280.41 182.1M1243.67 181.1L1241.58 179.1M1284.31 182.6L1281.9 184.39M1268.4 190.91L1265.4 191.39 1261.9 191.53 1258.9 191.28 1255.55 190.6M1241.9 183.37L1239.61 181.6M1285.4 185.17L1282.4 187.02M1271.4 191.91L1268.9 192.51M1254.9 192.2L1252.76 191.6M1240.9 185.87L1237.9 183.93M1286.23 187.6L1282.36 189.6M1272.9 193.27L1270.4 193.87M1253.4 193.55L1250.11 192.6M1240.4 188.37L1236.9 186.45M1286.9 189.89L1280.9 192.47M1274.9 194.48L1271.9 195.21M1251.4 194.77L1246.9 193.42M1240.4 190.85L1235.9 188.75M1286.9 192.3L1279.9 194.82 1273.4 196.53M1249.88 196.1L1243.12 194.1 1235.4 191.11M1286.4 194.7L1280.2 196.6 1274.4 197.96M1248.4 197.45L1241.9 195.7 1234.9 193.33M1285.9 196.91L1280.4 198.35 1275.4 199.38M1246.9 198.81L1241.4 197.49 1234.9 195.6M1284.9 199.11L1276.4 200.8M1244.88 200.1L1234.9 197.75M1285.4 225.22L1276.4 223.44M1245.4 224.03L1234.9 226.42M1286.4 227.43L1280.9 226 1275.4 224.87M1247.4 225.32L1241.87 226.6 1234.9 228.57M1286.7 229.6L1280.07 227.6 1274.4 226.29M1248.9 226.68L1242.4 228.37 1234.9 230.84M1286.9 231.89L1279.4 229.26 1272.9 227.62M1250.07 228.1L1243.19 230.1 1235.4 233.06M1286.9 234.3L1281.4 231.95M1274.9 229.78L1271.9 229.05M1251.9 229.36L1247.55 230.6M1239.84 233.6L1235.9 235.43M1286.25 236.6L1282.4 234.64M1272.9 230.99L1270.4 230.39M1253.4 230.7L1250.4 231.55M1240.4 235.84L1236.4 238M1285.53 239.1L1282.4 237.2M1270.9 232.22L1268.4 231.65M1255.4 231.94L1252.94 232.6M1240.9 238.33L1237.9 240.25M1284.32 241.6L1281.9 239.82M1267.4 233.16L1264.4 232.78 1261.4 232.74 1258.4 233.05 1255.9 233.57M1241.9 240.84L1239.59 242.6M1282.4 243.93L1280.4 242.11M1243.4 243.37L1241.57 245.1M1279.83 246.1L1278.58 244.6M1245.9 245.46L1244.58 247.1M1276.27 247.6L1275.44 246.1M1249.2 247.1L1248.42 248.6" stroke="#26e6ea"/>
<path d="M1275.75 177.6L1275.17 178.6M1249.7 178.1L1248.9 176.64M1278.9 179.24L1277.4 180.95M1246.9 179.97L1245.75 178.6M1280.9 181.66L1278.9 183.38M1245.35 182.6L1243.4 180.85M1282.31 184.1L1278.9 186.41M1270.4 190.39L1267.9 191.01M1255.9 190.69L1252.9 189.74M1244.29 185.1L1241.53 183.1M1282.9 186.72L1279.56 188.6 1276.43 190.1 1273.9 191.11 1270.9 192.05M1252.9 191.64L1249.96 190.6 1246.9 189.24 1243.8 187.6 1240.46 185.6M1282.4 189.58L1277.4 191.77 1272.4 193.4M1250.4 192.7L1245.4 190.79 1239.9 188.11M1281.4 192.28L1277.78 193.6 1274.44 194.6M1247.4 193.59L1243.9 192.32 1239.9 190.63M1281.79 232.1L1277.9 230.69 1274.4 229.64M1247.9 230.49L1243.9 231.91 1239.4 233.8M1282.9 234.88L1277.73 232.6 1272.4 230.86M1250.9 231.4L1245.9 233.24 1239.9 236.1M1282.9 237.49L1279.49 235.6 1276.31 234.1 1273.4 232.98 1270.45 232.1M1253.4 232.46L1248.9 234.09M1243.85 236.6L1240.47 238.6M1282.3 240.1L1279.4 238.14M1269.9 233.74L1267.07 233.1M1256.4 233.44L1253.4 234.33M1244.34 239.1L1241.54 241.1M1280.9 242.55L1278.9 240.85M1245.4 241.6L1243.15 243.6M1278.9 244.98L1277.4 243.29M1246.9 244.29L1245.79 245.6M1275.72 246.6L1275.14 245.6M1249.77 246.1L1248.93 247.6" stroke="#20eadd"/>
<path d="M1275.4 178.21L1274.53 179.6M1250.31 179.1L1249.42 177.6M1277.72 180.6L1276.4 181.98M1248.4 181.6L1246.58 179.6M1279.25 183.1L1276.65 185.1M1246.9 183.87L1244.9 182.21M1279.4 186.1L1276.9 187.6 1274.4 188.87 1272.4 189.71 1269.9 190.53M1253.4 189.93L1251.32 189.1 1248.9 187.92 1246.59 186.6 1243.9 184.83M1249.4 233.88L1246.71 235.1 1243.4 236.85M1279.9 238.46L1277.4 236.93 1274.84 235.6 1272.4 234.56 1269.4 233.6M1253.9 234.16L1251.46 235.1 1249.34 236.1 1246.67 237.6 1243.9 239.4M1279.21 241.1L1276.9 239.33M1246.9 240.38L1244.9 242.03M1277.69 243.6L1276.4 242.27M1247.99 243.1L1246.63 244.6M1275.4 246.04L1274.48 244.6M1250.39 245.1L1249.48 246.6" stroke="#1cefd1"/>
<path d="M1274.86 179.1L1273.9 180.48M1250.9 179.96L1250 178.6M1276.78 181.6L1274.9 183.37M1249.4 182.57L1247.92 181.1M1276.9 184.92L1273.4 187.12 1271.4 188.07 1269.4 188.82 1267.4 189.36 1265.4 189.7 1261.4 189.84 1259.4 189.65 1257.4 189.26 1253.86 188.1 1250.04 186.1 1246.55 183.6M1277.28 239.6L1273.4 237.15 1269.83 235.6 1267.9 235.03 1265.9 234.63 1263.9 234.42 1261.9 234.39 1259.9 234.54 1257.9 234.88 1254.03 236.1 1250.15 238.1 1246.62 240.6M1276.74 242.6L1275.14 241.1M1249.4 241.7L1247.9 243.2M1274.82 245.1L1274.13 244.1M1250.9 244.36L1250.07 245.6" stroke="#16f3c4"/>
<path d="M1274.19 180.1L1273.41 181.1M1251.37 180.6L1250.64 179.6M1275.21 183.1L1273.4 184.55M1250.9 183.87L1248.9 182.1M1275.4 241.33L1273.24 239.6M1250.66 240.6L1248.98 242.1M1274.4 244.48L1273.4 243.17M1251.87 243.1L1250.73 244.6" stroke="#12f6ae"/>
<path d="M1273.81 180.6L1272.98 181.6M1252.21 181.6L1250.99 180.1M1273.9 184.18L1271.4 185.84M1252.4 184.97L1250.57 183.6M1273.4 239.72L1270.9 238.18M1252.4 239.31L1250.4 240.82M1273.75 243.6L1272.91 242.6" stroke="#0ff88e"/>
<path d="M1273.4 181.11L1272.4 182.21M1252.69 182.1L1251.9 181.24M1271.81 185.6L1268.9 187.01 1265.9 187.84M1257.4 187.38L1254.4 186.16 1251.9 184.63M1271.4 238.45L1269.4 237.48 1266.9 236.65M1254.9 237.87L1251.97 239.6M1273.35 243.1L1272.44 242.1M1252.4 242.5L1251.46 243.6" stroke="#0cf96f"/>
<path d="M1272.51 182.1L1271.9 182.69M1253.21 182.6L1252.4 181.8M1266.4 187.74L1264.4 188.04M1259.9 187.93L1256.9 187.22M1267.4 236.79L1264.4 236.22M1260.4 236.25L1257.4 236.89 1254.43 238.1M1272.9 242.59L1271.4 241.15M1253.31 241.6L1252.31 242.6" stroke="#08fb4f"/>
<path d="M1272 182.6L1271.9 182.69 1271.43 183.1M1253.78 183.1L1252.9 182.3M1264.9 187.99L1263.49 188.1M1260.9 188.05L1259.4 187.85M1264.9 236.28L1262.4 236.13 1259.9 236.32M1271.9 241.58L1270.9 240.76M1253.88 241.1L1252.9 241.99" stroke="#05fc2f"/>
<path d="M1271.9 182.69L1270.9 183.53M1263.9 188.08L1260.4 187.99M1271.34 241.1L1270.4 240.4M1254.4 240.69L1253.4 241.52" stroke="#02fe10"/>
<path d="M1271.4 183.13L1270.1 184.1M1254.4 183.59L1253.4 182.77M1270.69 240.6L1270.4 240.4 1269.95 240.1M1254.9 240.33L1253.9 241.08" stroke="#0dff00"/>
<path d="M1270.4 183.89L1269.4 184.53M1254.9 183.96L1253.9 183.2M1270.4 240.4L1269.4 239.77M1255.9 239.7L1254.52 240.6" stroke="#26ff00"/>
<path d="M1269.9 184.23L1268.9 184.81M1256.4 184.87L1254.41 183.6M1269.9 240.07L1269.4 239.77 1269.09 239.6M1256.09 239.6L1255.9 239.7 1255.4 240" stroke="#40ff00"/>
<path d="M1269.29 184.6L1267.06 185.6M1257.9 185.51L1255.9 184.6M1269.4 239.77L1267.9 239.03M1256.9 239.19L1255.9 239.7" stroke="#59ff00"/>
<path d="M1267.4 185.48L1266.4 185.8M1268.06 239.1L1266.9 238.66M1257.1 239.1L1256.9 239.19 1256.4 239.44" stroke="#73ff00"/>
<path d="M1266.9 185.65L1264.9 186.1M1260.34 186.1L1258.9 185.82 1257.4 185.33M1267.4 238.83L1265.9 238.37M1260.4 238.13L1258.9 238.44 1256.9 239.19" stroke="#8cff00"/>
<path d="M1265.4 186.02L1264.4 186.16M1266.4 238.5L1263.9 238.05M1260.64 238.1L1260.4 238.13 1259.9 238.21" stroke="#a6ff00"/>
<path d="M1264.9 186.1L1263.4 186.22M1261.4 186.2L1260.9 186.16 1260.4 186.11M1264.4 238.1L1262.9 238" stroke="#d9ff00"/>
<path d="M1263.9 186.2L1260.9 186.16M1263.4 238.02L1260.9 238.07" stroke="#f2ff00"/>
<path d="M1260.9 186.16L1259.9 186.03M1261.4 238.03L1260.4 238.13" stroke="#bfff00"/>
</g>
<path d="M1078.4 119.6 1241.53 119.6 1243.09 119.78 1244.57 120.29 1245.9 121.13 1247 122.24 1247.84 123.56 1248.36 125.04 1248.53 126.6 1249.41 136.24 1250.26 145.88 1251.1 155.52 1251.95 165.16 1252.8 174.8 1252.95 176.5 1253.39 178.15 1254.11 179.7 1255.09 181.1 1256.3 182.31 1257.7 183.29 1259.25 184.01 1260.9 184.45 1262.6 184.6 1264.3 184.45 1265.95 184.01 1267.5 183.29 1268.9 182.31 1270.11 181.1 1271.09 179.7 1271.81 178.15 1272.25 176.5 1272.4 174.8 1273.25 165.16 1274.1 155.52 1274.94 145.88 1275.79 136.24 1276.64 126.6 1276.67 126.6 1276.84 125.04 1277.36 123.56 1278.2 122.24 1279.3 121.13 1280.63 120.29 1282.11 119.78 1283.67 119.6 1447.1 119.6 1447.1 303.7 1283.58 303.7 1282.02 303.52 1280.54 303.01 1279.22 302.17 1278.11 301.06 1277.27 299.74 1276.76 298.26 1276.58 296.7 1276.55 296.7 1275.72 287.26 1274.89 277.82 1274.06 268.38 1273.23 258.94 1272.4 249.5 1272.25 247.8 1271.81 246.15 1271.09 244.6 1270.11 243.2 1268.9 241.99 1267.5 241.01 1265.95 240.29 1264.3 239.85 1262.6 239.7 1260.9 239.85 1259.25 240.29 1257.7 241.01 1256.3 241.99 1255.09 243.2 1254.11 244.6 1253.39 246.15 1252.95 247.8 1252.8 249.5 1251.97 258.94 1251.14 268.38 1250.31 277.82 1249.48 287.26 1248.62 296.7 1248.44 298.26 1247.93 299.74 1247.09 301.06 1245.98 302.17 1244.66 303.01 1243.18 303.52 1241.62 303.7 1078.4 303.7Z" fill="none" stroke="#8a8a8a" stroke-width="1.2"/>
<g fill="none" stroke-width="1.1" stroke-linejoin="round" clip-path="url(#cl3)">
<path d="M1447.3 330.51L1445.3 329.55 1442.8 328.78 1439.8 328.13 1435.8 327.56M1415.8 326.69L1393.8 326.67 1371.3 327.02M1134.8 326.72L1114.8 326.65 1099.8 326.9M1084.3 328.32L1080.3 329.37 1077.8 330.51M1447.3 334.12L1433.8 331.98M1412.3 330.89L1392.3 330.96 1372.3 331.57M1131.8 330.96L1114.8 330.88 1101.3 331.21M1084.8 332.95L1077.8 334.12M1447.3 337.64L1429.3 335.78 1422.8 335.37 1415.3 335.11 1405.3 335.01 1394.8 335.14 1383.8 335.48 1373.8 336M1087.3 336.65L1077.8 337.64M1447.3 341.16L1426.3 339.63 1412.3 339.15 1403.3 339.14 1393.8 339.34 1384.8 339.7 1375.8 340.27M1089.8 340.28L1077.8 341.16M1447.3 344.69L1424.8 343.49 1410.8 343.17 1394.3 343.44 1378.3 344.38M1092.8 343.87L1077.8 344.69M1447.3 348.21L1423.8 347.3 1410.3 347.13 1394.8 347.48 1380.39 348.4M1095.8 347.5L1077.8 348.21M1447.3 351.73L1424.3 351.1 1410.3 351.02 1395.8 351.43 1381.8 352.37M1098.8 351.15L1077.8 351.73M1447.3 355.25L1425.3 354.84 1410.3 354.86 1396.3 355.32 1382.8 356.29M1101.3 354.84L1077.8 355.25M1447.3 358.77L1426.3 358.52 1410.3 358.64 1395.8 359.21 1382.8 360.22M1103.8 358.53L1077.8 358.77M1447.3 362.29L1427.3 362.15 1410.3 362.38 1395.8 363.01 1382.8 364.06M1107.8 362.26L1092.8 362.16 1077.8 362.29M1447.3 365.81L1428.3 365.75 1410.3 366.08 1395.8 366.76 1382.3 367.89M1113.3 366.06L1095.8 365.76 1077.8 365.81M1447.3 369.33L1428.8 369.34 1410.3 369.74 1395.3 370.49 1381.8 371.64M1117.3 369.87L1098.3 369.37 1077.8 369.33M1447.3 372.86L1428.8 372.91 1410.3 373.36 1394.8 374.16 1381.3 375.32M1120.3 373.63L1099.8 372.98 1077.8 372.86M1447.3 376.38L1429.3 376.46 1410.3 376.96 1394.8 377.76 1380.8 378.94M1122.3 377.33L1100.8 376.56 1077.8 376.38M1447.3 379.9L1429.3 380.01 1410.3 380.53 1394.3 381.35 1380.3 382.49M1123.3 380.95L1100.8 380.12 1077.8 379.9M1447.3 383.42L1429.3 383.55 1410.3 384.07 1394.3 384.86 1379.8 385.99M1123.8 384.5L1100.8 383.66 1077.8 383.42M1447.3 386.94L1429.3 387.08 1410.3 387.59 1394.3 388.34 1379.8 389.38M1124.3 388.02L1101.3 387.21 1077.8 386.94M1447.3 390.46L1429.8 390.6 1410.8 391.08 1394.3 391.78 1379.8 392.73M1124.3 391.49L1100.8 390.72 1077.8 390.46M1447.3 393.98L1429.8 394.13 1410.8 394.56 1394.3 395.2 1379.8 396.04M1123.8 394.92L1100.3 394.22 1077.8 393.98M1447.3 397.5L1430.3 397.64 1411.3 398.02 1394.8 398.58 1379.8 399.31M1123.3 398.33L1100.3 397.73 1077.8 397.5M1447.3 401.03L1430.3 401.15 1411.3 401.49 1394.8 401.95 1379.8 402.56M1122.8 401.73L1099.8 401.22 1077.8 401.03M1447.3 404.55L1411.8 404.94 1379.8 405.8M1122.3 405.12L1099.3 404.72 1077.8 404.55M1447.3 408.07L1412.3 408.38 1379.8 409.01M1121.8 408.52L1077.8 408.07M1447.3 411.59L1379.8 412.22M1121.8 411.91L1077.8 411.59M1447.3 415.11L1379.8 415.43M1121.8 415.31L1077.8 415.11M1447.3 418.63L1407.8 418.74 1379.8 418.63M1122.3 418.71L1077.8 418.63M1447.3 422.15L1409.3 422.18 1379.8 421.85M1122.8 422.11L1077.8 422.15M1447.3 425.67L1409.8 425.63 1379.8 425.08M1123.3 425.51L1100.3 425.7 1077.8 425.67M1447.3 429.2L1429.8 429.24 1409.8 429.09 1393.8 428.79 1379.8 428.33M1123.8 428.91L1100.3 429.21 1077.8 429.2M1447.3 432.72L1429.3 432.76 1409.8 432.56 1393.8 432.19 1379.8 431.61M1124.3 432.33L1100.8 432.71 1077.8 432.72M1447.3 436.24L1429.3 436.28 1409.3 436.04 1393.8 435.61 1379.8 434.93M1124.8 435.77L1101.3 436.23 1077.8 436.24M1447.3 439.76L1429.3 439.81 1409.8 439.56 1394.3 439.08 1380.3 438.31M1124.8 439.24L1101.8 439.75 1077.8 439.76M1447.3 443.28L1429.3 443.35 1409.8 443.09 1394.3 442.56 1380.8 441.75M1124.3 442.76L1101.3 443.29 1077.8 443.28M1447.3 446.8L1429.3 446.89 1409.8 446.64 1394.8 446.11 1381.3 445.25M1123.3 446.34L1101.3 446.84 1077.8 446.8M1447.3 450.32L1428.8 450.45 1409.8 450.22 1394.8 449.68 1381.8 448.81M1121.8 449.97L1100.3 450.41 1077.8 450.32M1447.3 453.84L1428.3 454.01 1409.8 453.83 1395.3 453.32 1382.3 452.43M1119.3 453.67L1099.3 453.99 1077.8 453.84M1447.3 457.37L1428.3 457.6 1410.3 457.49 1396.3 457.04 1383.3 456.18M1115.3 457.43L1097.3 457.58 1077.8 457.37M1447.3 460.89L1427.3 461.21 1410.3 461.17 1396.8 460.78 1384.3 459.99M1110.3 461.18L1094.3 461.16 1077.8 460.89M1447.3 464.41L1427.3 464.83 1411.3 464.91 1397.8 464.61 1385.8 463.91M1104.8 464.88L1077.8 464.41M1447.3 467.93L1425.3 468.53 1411.3 468.69 1398.3 468.47 1386.3 467.84M1102.3 468.56L1077.8 467.93M1447.3 471.45L1424.3 472.28 1411.3 472.53 1398.8 472.4 1386.8 471.84M1099.3 472.21L1077.8 471.45M1447.3 474.97L1423.3 476.09 1411.3 476.43 1397.8 476.36 1385.3 475.79M1096.3 475.84L1077.8 474.97M1447.3 478.49L1420.8 480.09M1093.8 479.46L1077.8 478.49M1447.3 482.01L1425.3 483.78M1091.3 483.07L1077.8 482.01M1447.3 485.54L1429.3 487.46M1088.8 486.66L1077.8 485.54M1447.3 489.06L1442.3 489.69 1433.8 491.06M1086.3 490.25L1077.8 489.06M1447.3 492.58L1444.3 493.15 1436.8 494.97M1405.8 497.47L1387.3 497.4 1369.3 496.8M1134.8 497.41L1120.8 497.47 1108.8 497.19M1084.3 494.02L1080.3 493.04 1077.8 492.58M1447.3 496.23L1445.8 497.29 1443.3 498.45 1440.3 499.42 1436.8 500.2M1410.8 501.87L1389.8 501.91 1367.8 501.55M1139.3 501.85L1121.8 501.92 1107.3 501.72M1084.3 499.28L1080.3 497.81 1078.8 496.99 1077.8 496.23" stroke="#4753d6"/>
<path d="M1436.3 327.62L1427.8 326.99 1415.3 326.69M1371.8 327.01L1356.3 327.52 1343.8 328.22M1160.8 327.25L1134.3 326.71M1100.3 326.88L1090.8 327.41 1087.3 327.81 1083.92 328.4M1434.3 332.04L1424.8 331.25 1411.8 330.88M1372.8 331.55L1357.8 332.47 1345.3 333.75M1159.8 332L1146.3 331.34 1131.3 330.95M1101.8 331.19L1092.3 331.87 1084.3 333.04M1374.3 335.97L1359.8 337.17 1353.3 337.96 1347.3 338.88M1158.3 336.59L1148.8 335.91 1138.8 335.42 1128.3 335.13 1117.8 335.03 1108.8 335.14 1100.8 335.45 1093.8 335.96 1086.8 336.7M1376.3 340.23L1368.8 340.88 1361.8 341.66 1355.3 342.59 1349.3 343.66M1156.8 341.03L1148.8 340.31 1140.3 339.76 1131.3 339.38 1121.8 339.17 1112.8 339.17 1104.8 339.36 1097.3 339.72 1089.3 340.32M1378.8 344.34L1371.3 345.04 1364.3 345.89 1357.8 346.88 1351.3 348.13M1154.8 345.26L1147.3 344.51 1139.8 343.95 1123.8 343.28 1108.3 343.25 1092.31 343.9M1380.8 348.36L1373.3 349.1 1366.3 349.99 1359.8 351.04 1353.3 352.33M1153.3 349.4L1140.3 348.13 1125.8 347.36 1110.8 347.15 1095.3 347.52M1382.3 352.33L1374.8 353.1 1367.8 354.02 1361.3 355.09 1354.84 356.4M1151.79 353.4L1139.8 352.16 1126.8 351.37 1113.3 351.04 1098.3 351.16M1383.3 356.24L1375.8 357.03 1368.8 357.98 1362.3 359.07 1356.3 360.29M1150.8 357.35L1139.8 356.15 1127.8 355.33 1114.8 354.89 1100.8 354.84M1383.3 360.17L1376.3 360.93 1369.8 361.82 1363.3 362.91 1357.3 364.12M1150.3 361.25L1139.8 360.07 1128.8 359.24 1116.8 358.73 1103.3 358.53M1383.3 364.01L1370.3 365.63 1364.3 366.62 1358.3 367.8M1150.3 365.12L1140.8 364.01 1130.3 363.14 1119.3 362.57 1107.3 362.25M1382.8 367.84L1370.8 369.33 1359.3 371.35M1150.3 368.9L1141.8 367.88 1132.8 367.07 1123.3 366.47 1112.8 366.05M1382.3 371.59L1370.8 373.02 1359.8 374.88M1150.3 372.59L1142.3 371.63 1134.3 370.89 1116.8 369.85M1381.8 375.27L1370.8 376.61 1360.3 378.31M1150.3 376.19L1135.8 374.65 1119.8 373.61M1381.2 378.9L1370.8 380.12 1360.8 381.65M1150.3 379.72L1136.8 378.32 1121.8 377.31M1380.8 382.44L1370.8 383.56 1360.8 384.99M1150.3 383.18L1137.3 381.89 1122.8 380.92M1380.3 385.94L1370.8 386.93 1361.3 388.18M1150.8 386.63L1137.8 385.41 1123.3 384.48M1380.3 389.33L1370.8 390.24 1361.3 391.37M1150.8 389.96L1137.8 388.84 1123.8 388M1380.3 392.69L1361.8 394.45M1150.8 393.25L1137.8 392.24 1123.8 391.47M1380.3 396L1361.8 397.54M1150.3 396.45L1137.3 395.57 1123.37 394.9M1380.3 399.28L1361.8 400.59M1150.3 399.66L1137.3 398.91 1122.8 398.31M1380.3 402.54L1362.3 403.56M1150.3 402.84L1122.3 401.71M1380.3 405.78L1362.3 406.56M1150.3 406L1121.8 405.11M1380.3 409L1362.3 409.53M1150.3 409.14L1121.3 408.51M1380.3 412.21L1362.3 412.49M1150.3 412.27L1121.3 411.91M1380.3 415.42L1362.3 415.45M1150.3 415.4L1121.3 415.31M1380.3 418.64L1362.3 418.41M1150.3 418.54L1121.8 418.71M1380.3 421.86L1362.3 421.38M1150.3 421.68L1122.3 422.11M1380.3 425.1L1362.3 424.37M1150.3 424.84L1122.8 425.51M1380.3 428.35L1362.41 427.4M1150.3 428.02L1137.3 428.56 1123.3 428.92M1380.3 431.64L1362.3 430.45M1150.3 431.23L1137.8 431.88 1123.8 432.35M1380.3 434.96L1362.3 433.54M1150.3 434.48L1137.8 435.25 1124.3 435.78M1380.8 438.35L1371.3 437.6 1361.8 436.63M1150.3 437.77L1137.8 438.65 1124.3 439.26M1381.3 441.79L1371.3 440.92 1361.8 439.83M1149.8 441.16L1137.3 442.12 1123.8 442.78M1381.8 445.29L1371.3 444.3 1361.8 443.11M1149.8 444.57L1136.8 445.65 1122.8 446.36M1382.3 448.85L1371.3 447.75 1361.4 446.4M1149.3 448.09L1135.8 449.26 1121.3 449.99M1382.8 452.48L1371.8 451.34 1361.3 449.82M1149.3 451.64L1134.8 452.93 1118.8 453.69M1383.8 456.22L1371.8 454.95 1360.8 453.28M1148.8 455.32L1140.8 456.13 1132.8 456.72 1124.3 457.15 1114.8 457.44M1384.8 460.03L1372.3 458.72 1360.3 456.84M1148.3 459.1L1139.3 459.98 1130.3 460.59 1120.3 461 1109.8 461.19M1386.3 463.95L1379.3 463.34 1372.3 462.53 1365.8 461.58 1359.3 460.43M1148.3 462.91L1138.3 463.87 1127.8 464.5 1116.8 464.83 1104.3 464.88M1386.8 467.87L1379.3 467.24 1371.8 466.38 1364.8 465.34 1358.3 464.14M1148.3 466.82L1137.8 467.79 1126.8 468.39 1115.3 468.64 1101.8 468.55M1387.3 471.87L1379.3 471.23 1371.3 470.34 1363.8 469.23 1356.8 467.91M1148.8 470.77L1137.8 471.76 1125.8 472.34 1113.3 472.48 1098.8 472.2M1385.8 475.82L1377.8 475.19 1369.8 474.3 1362.3 473.18 1355.58 471.9M1150.3 474.73L1137.8 475.81 1124.8 476.35 1111.3 476.35 1095.8 475.81M1421.3 480.06L1411.8 480.41 1402.8 480.49 1393.8 480.33 1384.8 479.91 1376.3 479.26 1368.3 478.39 1360.8 477.29 1353.45 475.9M1152.3 478.76L1145.3 479.44 1138.3 479.93 1123.8 480.42 1109.3 480.26 1093.3 479.43M1425.8 483.74L1416.3 484.32 1406.3 484.59 1396.3 484.56 1385.8 484.2 1375.8 483.55 1366.8 482.64 1358.3 481.44 1350.8 480.03M1154.8 482.88L1147.3 483.59 1139.3 484.11 1131.3 484.43 1122.8 484.57 1114.8 484.49 1107.3 484.22 1090.8 483.02M1429.8 487.41L1420.3 488.24 1410.3 488.71 1399.3 488.83 1387.3 488.58 1376.3 488.01 1365.8 487.11 1356.8 485.97 1348.3 484.48M1157.8 487.12L1149.3 487.87 1139.8 488.42 1130.3 488.72 1120.8 488.78 1112.3 488.6 1104.3 488.19 1097.3 487.61 1088.3 486.6M1434.3 490.98L1425.3 492.12 1415.8 492.79 1404.3 493.11 1391.3 493.05 1377.8 492.6 1365.8 491.81 1355.3 490.73 1345.8 489.29M1160.3 491.61L1150.3 492.35 1139.3 492.86 1127.8 493.09 1117.3 493.03 1108.3 492.73 1100.8 492.2 1093.8 491.41 1085.8 490.16M1437.11 494.9L1430.8 496.02 1424.3 496.72 1415.8 497.23 1405.3 497.48M1369.8 496.83L1355.3 495.87 1342.8 494.45M1162.3 496.35L1148.8 497.05 1134.3 497.42M1109.3 497.21L1101.8 496.79 1095.3 496.15 1089.8 495.27 1083.82 493.9M1437.3 500.1L1432.8 500.8 1426.8 501.33 1419.8 501.67 1410.3 501.87M1368.3 501.56L1352.8 500.99 1340.3 500.17M1163.8 501.3L1138.8 501.86M1107.8 501.73L1099.8 501.42 1093.3 500.91 1088.3 500.2 1083.8 499.13" stroke="#455ad9"/>
<path d="M1344.3 328.19L1336.8 328.81 1329.8 329.6 1323.8 330.51 1318.8 331.52 1314.3 332.68 1309.8 334.18 1305.8 335.92 1302.3 337.87 1299.3 339.97 1296.3 342.6 1293.73 345.4 1291.3 348.63 1288.96 352.4 1286.8 356.57 1284.67 361.4 1282.57 366.9M1238.92 360.4L1236.64 355.4 1234.3 351.12 1231.84 347.4 1229.3 344.26 1226.43 341.4 1223.27 338.9 1219.8 336.75 1215.8 334.82 1211.3 333.16 1206.3 331.77 1200.8 330.61 1194.8 329.67 1187.8 328.86 1179.8 328.19 1170.8 327.66 1160.3 327.23M1345.8 333.69L1336.3 335.17 1328.52 336.9 1321.3 339.14 1315.3 341.67 1312.3 343.24 1309.8 344.75 1307.3 346.46 1304.8 348.4 1300.3 352.59 1297.8 355.37 1295.76 357.9M1188.96 335.4L1182.8 334.33 1175.8 333.39 1167.8 332.59 1159.3 331.97M1347.8 338.8L1342.3 339.82 1337.3 340.97 1332.8 342.2 1328.3 343.68 1324.3 345.24 1320.3 347.08 1316.3 349.25 1312.88 351.4M1185.3 340.61L1179.3 339.34 1172.8 338.25 1165.8 337.34 1157.8 336.55M1349.8 343.56L1342.3 345.24 1335.8 347.11 1329.8 349.27 1324.3 351.7M1181.8 345.25L1175.8 343.87 1169.8 342.76 1163.3 341.79 1156.3 340.98M1351.8 348.03L1345.8 349.42 1340.3 350.98 1334.8 352.85 1329.8 354.87M1179.3 349.69L1173.8 348.35 1167.8 347.15 1161.3 346.1 1154.3 345.2M1353.8 352.22L1348.3 353.53 1343.3 354.93 1338.3 356.56 1333.8 358.26M1176.8 353.79L1171.3 352.44 1165.3 351.22 1159.3 350.22 1152.8 349.34M1355.3 356.3L1345.8 358.72 1341.3 360.13 1336.8 361.73M1175.3 357.89L1169.8 356.52 1163.8 355.28 1157.8 354.25 1151.3 353.34M1356.8 360.18L1347.8 362.43 1339.3 365.13M1173.3 361.62L1167.8 360.29 1162.3 359.17 1150.3 357.28M1357.8 364.01L1349.3 366.08 1341.3 368.49M1171.8 365.29L1161.3 363 1149.8 361.18M1358.8 367.69L1350.8 369.56 1342.8 371.84M1170.68 368.9L1160.8 366.8 1149.8 365.05M1359.8 371.25L1351.8 373.03 1344.3 375.03M1169.8 372.42L1160.3 370.48 1149.8 368.83M1360.3 374.79L1352.8 376.37 1345.3 378.24M1169.26 375.9L1159.8 374.04 1149.8 372.52M1360.8 378.22L1353.3 379.71 1346.3 381.34M1168.3 379.17L1159.3 377.52 1149.8 376.13M1361.3 381.57L1354.3 382.85 1347.06 384.4M1167.8 382.45L1158.8 380.9 1149.8 379.66M1361.3 384.91L1347.8 387.38M1167.3 385.64L1158.8 384.29 1149.8 383.12M1361.8 388.11L1348.3 390.34M1167.3 388.84L1158.8 387.6 1150.3 386.57M1361.8 391.31L1348.8 393.23M1166.8 391.9L1150.3 389.91M1362.24 394.4L1349.3 396.08M1166.26 394.9L1150.3 393.2M1362.3 397.49L1349.8 398.88M1166.04 397.9L1149.8 396.41M1362.3 400.55L1349.8 401.71M1165.8 400.86L1149.8 399.63M1362.8 403.53L1350.3 404.45M1165.8 403.81L1149.8 402.81M1362.8 406.53L1350.3 407.22M1165.8 406.73L1149.8 405.98M1362.8 409.51L1350.3 409.97M1165.8 409.63L1149.8 409.13M1362.8 412.48L1350.3 412.7M1165.8 412.52L1149.8 412.27M1362.8 415.45L1350.3 415.43M1165.3 415.4L1149.8 415.4M1362.8 418.42L1350.3 418.16M1165.3 418.3L1149.8 418.54M1362.8 421.4L1350.3 420.9M1165.8 421.19L1149.8 421.69M1362.8 424.4L1350.3 423.67M1165.8 424.11L1149.8 424.86M1362.8 427.43L1350.3 426.47M1165.8 427.06L1149.8 428.04M1362.8 430.49L1349.8 429.25M1165.8 430.04L1149.8 431.26M1362.8 433.59L1349.8 432.12M1166.3 433.02L1149.8 434.51M1362.3 436.69L1349.3 434.98M1166.3 436.09L1149.8 437.81M1362.3 439.9L1348.9 437.9M1166.3 439.23L1157.8 440.33 1149.3 441.21M1362.3 443.18L1348.54 440.9M1166.61 442.4L1158.3 443.59 1149.3 444.62M1361.8 446.46L1354.8 445.29 1347.8 443.9M1167.3 445.58L1158.3 446.99 1148.8 448.14M1361.76 449.9L1354.3 448.55 1346.8 446.93M1167.65 448.9L1158.3 450.47 1148.8 451.69M1361.3 453.37L1353.3 451.81 1345.8 450.05M1168.3 452.27L1158.3 454.05 1148.3 455.38M1360.62 456.9L1352.3 455.18 1344.8 453.28M1169.3 455.67L1158.8 457.65 1147.8 459.16M1359.8 460.52L1351.3 458.67 1343.3 456.5M1170.3 459.19L1159.3 461.36 1147.8 462.96M1358.8 464.24L1350.3 462.31 1341.88 459.9M1171.13 462.9L1165.8 464.08 1159.8 465.2 1147.8 466.87M1357.3 468.01L1348.3 465.87 1339.8 463.27M1172.8 466.58L1167.3 467.84 1161.3 469 1154.8 470.02 1148.3 470.83M1355.8 471.95L1346.3 469.62 1341.8 468.26 1337.3 466.71M1174.64 470.4L1168.8 471.78 1162.8 472.95 1156.3 473.97 1149.8 474.79M1353.8 475.98L1348.3 474.7 1343.3 473.32 1338.3 471.71 1333.8 470.03M1176.8 474.37L1170.8 475.81 1164.8 476.98 1158.3 478.01 1151.8 478.82M1351.3 480.14L1345.3 478.73 1339.8 477.17 1334.8 475.47 1329.8 473.47M1179.8 478.4L1173.8 479.86 1167.8 481.05 1161.3 482.08 1154.64 482.9M1348.8 484.58L1341.8 482.99 1335.3 481.1 1329.3 478.91 1323.72 476.4M1182.8 482.8L1176.8 484.22 1170.8 485.37 1164.3 486.35 1157.3 487.17M1346.3 489.38L1341.3 488.41 1336.3 487.22 1331.8 485.93 1327.3 484.39 1323.3 482.76 1319.3 480.85 1315.8 478.89 1312.3 476.64M1186.88 487.4L1180.8 488.77 1174.44 489.9 1167.3 490.88 1159.8 491.65M1343.3 494.52L1334.8 493.08 1327.3 491.3 1320.8 489.19 1314.8 486.59 1311.8 484.97 1309.3 483.42 1306.8 481.66 1304.3 479.67 1299.8 475.38 1295.6 470.4M1192.8 492.28L1186.3 493.61 1178.8 494.76 1170.8 495.66 1161.8 496.38M1340.8 500.22L1333.8 499.55 1327.8 498.78 1322.3 497.86 1317.3 496.76 1312.8 495.48 1308.8 494.03 1305.26 492.4 1301.8 490.39 1298.8 488.2 1295.8 485.46 1293.3 482.63 1290.95 479.4 1288.8 475.87 1286.75 471.9 1284.76 467.4 1282.64 461.9M1239.23 467.4L1236.99 472.4 1234.59 476.9 1232.3 480.47 1229.61 483.9 1226.8 486.79 1223.8 489.26 1220.3 491.53 1216.62 493.4 1212.3 495.1 1207.8 496.46 1202.3 497.73 1196.3 498.75 1189.3 499.63 1181.8 500.32 1173.3 500.87 1163.3 501.32" stroke="#4360dd"/>
<path d="M1282.75 366.4L1280.71 372.4M1241.96 368.4L1238.8 360.11M1295.8 357.85L1292.8 362.05 1290.06 366.4M1230.77 361.4L1226.8 356.07 1222.8 351.65 1218.3 347.65 1213.67 344.4 1208.3 341.46 1202.8 339.16 1196.3 337.11 1188.8 335.37M1313.3 351.12L1309.8 353.62 1306.3 356.49 1302.8 359.78 1299.41 363.4M1217.3 356.12L1213.8 353.29 1210.3 350.84 1206.8 348.71 1202.8 346.62 1198.8 344.85 1194.3 343.18 1189.8 341.78 1184.8 340.49M1324.8 351.46L1320.3 353.8 1316.3 356.21 1312.3 358.98 1308.3 362.14M1206.3 355.31L1200.8 352.23 1194.8 349.49 1188.3 347.12 1181.3 345.12M1330.3 354.65L1326.3 356.49 1322.8 358.29 1318.8 360.62 1315.28 362.9M1199.3 357.26L1194.8 355.11 1189.8 353.05 1184.3 351.15 1178.8 349.56M1334.3 358.06L1327.3 361.16 1320.34 364.9M1194.8 360.23L1190.3 358.28 1185.8 356.57 1181.3 355.09 1176.3 353.66M1337.3 361.55L1330.8 364.2 1324.3 367.35M1191.3 363.35L1183.3 360.31 1174.8 357.75M1339.8 364.95L1333.8 367.23 1327.3 370.09M1188.8 366.64L1180.8 363.79 1172.8 361.49M1341.58 368.4L1335.8 370.45 1329.8 372.88M1186.8 369.9L1179.3 367.38 1171.3 365.17M1343.3 371.68L1337.3 373.67 1331.8 375.73M1184.8 372.98L1177.8 370.78 1170.3 368.81M1344.76 374.9L1338.8 376.73 1333.3 378.63M1183.3 376.09L1176.8 374.18 1169.69 372.4M1345.8 378.11L1334.82 381.4M1182.3 379.22L1175.8 377.45 1168.8 375.8M1346.8 381.22L1336.3 384.09M1181.3 382.24L1174.8 380.6 1167.8 379.07M1347.3 384.35L1337.3 386.85M1180.3 385.16L1167.53 382.4M1348.3 387.28L1337.8 389.66M1179.3 388.01L1166.8 385.56M1348.8 390.25L1338.8 392.27M1178.8 390.9L1166.8 388.77M1349.3 393.15L1339.53 394.9M1178.3 393.72L1166.3 391.83M1349.8 396L1339.8 397.56M1177.8 396.5L1165.8 394.84M1350.3 398.82L1340.3 400.15M1177.3 399.23L1165.8 397.87M1350.3 401.66L1340.8 402.7M1177.3 401.99L1165.3 400.82M1350.8 404.41L1341.3 405.24M1176.8 404.67L1165.3 403.77M1350.8 407.19L1341.3 407.8M1176.8 407.37L1165.3 406.7M1350.8 409.95L1341.3 410.34M1176.3 410.03L1165.3 409.61M1350.8 412.69L1341.8 412.86M1262.3 414.2L1261.8 414.2 1261.3 414.2M1176.3 412.7L1165.3 412.51M1350.8 415.43L1341.8 415.39M1176.3 415.37L1164.8 415.4M1350.8 418.17L1341.8 417.93M1176.3 418.05L1164.8 418.31M1350.8 420.93L1341.3 420.45M1176.3 420.74L1165.3 421.21M1350.8 423.7L1341.3 423.02M1176.8 423.41L1165.3 424.14M1350.8 426.51L1340.8 425.56M1176.8 426.14L1165.3 427.09M1350.3 429.3L1340.8 428.18M1176.84 428.9L1165.3 430.09M1350.3 432.18L1340.3 430.77M1177.3 431.66L1165.8 433.07M1349.8 435.05L1339.8 433.41M1177.8 434.44L1165.8 436.15M1349.3 437.97L1339.3 436.09M1178.3 437.28L1165.8 439.3M1348.8 440.95L1338.3 438.73M1178.8 440.19L1166.3 442.45M1348.3 444.01L1337.8 441.55M1179.8 443.06L1173.3 444.45 1166.8 445.66M1347.3 447.05L1336.8 444.32M1180.8 446L1174.3 447.54 1167.3 448.97M1346.3 450.17L1335.3 447.04M1181.8 449.03L1174.8 450.84 1167.8 452.37M1345.24 453.4L1339.3 451.66 1333.98 449.9M1182.8 452.19L1175.8 454.13 1168.8 455.77M1343.8 456.65L1337.8 454.75 1332.3 452.76M1184.3 455.33L1177.3 457.43 1169.8 459.3M1342.3 460.03L1335.8 457.81 1329.8 455.43M1186.3 458.44L1178.8 460.87 1170.8 462.98M1340.18 463.4L1333.8 461.05 1327.64 458.4M1188.3 461.74L1180.3 464.49 1172.3 466.7M1337.8 466.89L1330.8 464.1 1324.3 461.01M1191.2 464.9L1182.8 468.02 1174.3 470.49M1334.3 470.23L1327.3 467.17 1320.3 463.46M1194.8 468.01L1190.3 469.94 1185.8 471.63 1181.3 473.1 1176.69 474.4M1330.3 473.69L1326.3 471.86 1322.8 470.07 1318.8 467.77 1315.3 465.52M1199.53 470.9L1194.8 473.16 1189.8 475.21 1184.8 476.94 1179.3 478.54M1323.8 476.44L1319.8 474.31 1315.8 471.87 1311.8 469.07 1308.3 466.31M1206.5 472.9L1200.8 476.09 1195.3 478.62 1189.3 480.86 1182.41 482.9M1312.68 476.9L1309.3 474.44 1305.8 471.52 1302.3 468.19 1299.3 464.97M1217.71 471.9L1214.3 474.7 1210.8 477.21 1207.3 479.38 1203.8 481.26 1199.8 483.11 1195.8 484.68 1191.3 486.17 1186.8 487.42M1295.8 470.66L1292.8 466.48 1289.91 461.9M1230.8 467.03L1227.18 471.9 1223.3 476.27 1219.3 479.96 1214.8 483.31 1209.8 486.25 1204.8 488.54 1198.8 490.66 1192.3 492.39M1282.8 462.35L1280.6 455.9M1242.23 459.4L1239.02 467.9M1262.3 414.38L1261.8 414.38 1261.3 414.38" stroke="#3f70e1"/>
<path d="M1280.8 372.12L1279.46 376.4M1243.76 373.9L1241.8 367.95M1290.3 366L1286.99 371.9M1235.1 368.4L1232.8 364.52 1230.43 360.9M1299.8 362.97L1294.53 369.4M1226.3 365.38L1221.8 360.37 1217.04 355.9M1308.59 361.9L1304.8 365.24 1301.3 368.66M1218.3 364.39L1212.3 359.41 1209.3 357.25 1205.8 355M1315.3 362.88L1310.8 366.14 1306.8 369.38M1211.8 365.06L1205.3 360.65 1198.8 357.01M1320.8 364.63L1316.3 367.4 1311.93 370.4M1206.8 366.79L1200.8 363.25 1194.3 360M1324.8 367.08L1320.3 369.54 1315.8 372.25M1202.62 368.9L1196.8 365.85 1190.8 363.14M1327.7 369.9L1323.3 372.07 1318.99 374.4M1199.44 371.4L1193.8 368.73 1188.3 366.44M1330.3 372.67L1321.3 376.88M1197.3 374.23L1191.8 371.84 1186.3 369.71M1332.3 375.53L1323.8 379.15M1194.8 376.75L1189.8 374.77 1184.56 372.9M1333.8 378.45L1325.3 381.76M1193.3 379.56L1182.8 375.93M1335.3 381.24L1327.3 384.06M1191.8 382.25L1181.8 379.08M1336.8 383.94L1328.3 386.66M1190.3 384.86L1180.8 382.1M1337.8 386.71L1329.8 389.02M1189.3 387.54L1179.8 385.04M1338.3 389.53L1330.8 391.48M1188.3 390.14L1178.81 387.9M1339.3 392.16L1331.3 394.01M1187.8 392.81L1178.3 390.8M1339.8 394.85L1332.3 396.37M1186.8 395.31L1177.8 393.64M1340.3 397.48L1332.8 398.8M1186.3 397.88L1177.3 396.42M1340.8 400.07L1333.3 401.19M1185.76 400.4L1176.8 399.17M1341.3 402.64L1333.8 403.56M1185.26 402.9L1176.8 401.94M1341.8 405.19L1333.8 405.96M1184.93 405.4L1176.3 404.63M1341.8 407.77L1334.3 408.29M1184.8 407.9L1176.3 407.34M1341.8 410.32L1334.3 410.65M1184.8 410.39L1175.8 410.01M1342.3 412.85L1334.3 413M1184.8 412.86L1175.8 412.69M1342.3 415.39L1334.3 415.34M1262.3 414.56L1261.8 414.56 1261.3 414.56M1184.8 415.33L1175.8 415.37M1342.3 417.95L1334.3 417.69M1184.8 417.8L1175.8 418.06M1341.8 420.48L1334.3 420.05M1184.8 420.29L1175.8 420.76M1341.8 423.06L1334.3 422.43M1184.8 422.8L1176.3 423.44M1341.3 425.61L1333.8 424.79M1185.3 425.28L1176.3 426.18M1341.3 428.24L1333.3 427.16M1185.8 427.79L1176.8 428.91M1340.8 430.85L1332.8 429.55M1186.3 430.31L1176.8 431.72M1340.3 433.5L1332.3 431.98M1186.69 432.9L1177.3 434.52M1339.8 436.2L1331.8 434.46M1187.3 435.5L1177.8 437.37M1338.8 438.84L1330.9 436.9M1187.8 438.18L1178.3 440.29M1338.3 441.68L1330.02 439.4M1188.8 440.81L1179.3 443.17M1337.07 444.4L1328.91 441.9M1189.8 443.51L1180.3 446.13M1335.8 447.19L1327.56 444.4M1191.3 446.14L1181.3 449.17M1334.3 450.01L1325.99 446.9M1192.67 448.9L1182.3 452.34M1332.66 452.9L1324.17 449.4M1194.8 451.49L1189.3 453.6 1184.07 455.4M1330.3 455.64L1321.8 451.76M1196.8 454.25L1191.3 456.57 1185.8 458.62M1327.8 458.47L1319.3 454.18M1199.3 456.94L1193.8 459.49 1187.87 461.9M1324.8 461.26L1320.3 458.85 1315.8 456.17M1202.61 459.4L1196.8 462.39 1190.8 465.07M1320.8 463.75L1316.3 461.01 1311.8 457.95M1206.8 461.52L1200.8 465.03 1194.3 468.24M1315.8 465.86L1311.3 462.67 1307.3 459.51M1211.64 463.4L1205.3 467.66 1199.3 471.02M1308.41 466.4L1304.8 463.23 1301.36 459.9M1218.3 464L1212.3 468.94 1206.3 473.02M1299.69 465.4L1294.35 458.9M1226.3 463.06L1221.8 468.03 1217.3 472.26M1290.21 462.4L1287.1 456.9M1235.22 459.9L1232.8 463.96 1230.54 467.4M1280.76 456.4L1279.36 451.9M1243.8 454.59L1242.05 459.9M1262.8 414.38L1262.3 414.38 1261.8 414.38" stroke="#3b85e6"/>
<path d="M1279.62 375.9L1278.57 379.4M1244.84 377.4L1243.6 373.4M1287.26 371.4L1285.19 375.4M1237.54 372.9L1234.82 367.9M1294.8 369.04L1291.3 373.88M1230.59 370.9L1225.9 364.9M1301.56 368.4L1296.93 373.4M1224.3 370.32L1221.3 367.23 1217.8 363.94M1307.3 368.96L1301.8 373.87M1218.8 370.74L1215.3 367.78 1211.58 364.9M1312.3 370.13L1306.3 374.69M1214.15 371.9L1210.3 369.12 1206.3 366.48M1316.3 371.94L1309.8 376.27M1210.3 373.58L1202.3 368.72M1319.3 374.22L1312.8 378.08M1207.3 375.68L1199.3 371.33M1321.8 376.63L1315.66 379.9M1204.3 377.68L1196.8 374M1324.3 378.92L1317.8 382.03M1202.3 380.09L1194.3 376.54M1325.8 381.55L1319.3 384.38M1200.3 382.4L1192.87 379.4M1327.74 383.9L1321.3 386.42M1198.8 384.83L1191.3 382.08M1328.8 386.49L1322.3 388.8M1197.3 387.18L1189.8 384.7M1330.2 388.9L1323.8 390.93M1196.3 389.63L1188.82 387.4M1331.09 391.4L1324.8 393.18M1195.3 392.02L1187.8 390.02M1331.75 393.9L1325.3 395.52M1194.3 394.36L1187.3 392.7M1332.8 396.26L1326.3 397.69M1193.8 396.78L1186.3 395.22M1333.3 398.7L1327 399.9M1193.3 399.14L1185.8 397.79M1333.8 401.11L1327.3 402.15M1192.8 401.48L1185.3 400.33M1334.3 403.49L1327.8 404.35M1192.3 403.78L1184.8 402.84M1334.3 405.91L1328.3 406.53M1191.8 406.08L1184.8 405.39M1334.8 408.26L1328.3 408.74M1191.77 408.4L1184.3 407.86M1334.8 410.63L1328.8 410.91M1191.3 410.68L1184.3 410.36M1334.8 412.99L1328.8 413.11M1262.8 414.2L1262.3 414.2 1261.8 414.2M1191.3 412.99L1184.3 412.85M1334.8 415.35L1328.8 415.3M1262.8 414.56L1262.3 414.56 1261.8 414.56M1191.3 415.28L1184.3 415.33M1334.8 417.71L1328.8 417.49M1191.3 417.59L1184.3 417.82M1334.8 420.08L1328.8 419.7M1191.3 419.9L1184.3 420.32M1334.8 422.48L1328.48 421.9M1191.8 422.2L1184.3 422.84M1334.3 424.85L1327.8 424.07M1191.8 424.55L1184.8 425.34M1333.8 427.23L1327.8 426.34M1192.3 426.87L1185.3 427.85M1333.3 429.64L1327.3 428.57M1192.8 429.22L1185.8 430.39M1332.8 432.08L1326.3 430.73M1193.3 431.6L1186.3 432.97M1332.3 434.58L1325.8 433.02M1194.3 433.92L1186.8 435.6M1331.3 437L1324.8 435.24M1194.79 436.4L1187.3 438.3M1330.3 439.48L1323.8 437.49M1195.8 438.8L1188.45 440.9M1329.3 442.03L1322.8 439.81M1197.3 441.11L1189.3 443.66M1327.8 444.49L1321.3 442.01M1198.3 443.66L1190.8 446.3M1326.3 447.03L1319.8 444.28M1200.3 445.91L1192.3 449.03M1324.3 449.46L1317.8 446.41M1201.8 448.45L1194.3 451.69M1322.08 451.9L1315.8 448.63M1204.3 450.65L1196.46 454.4M1319.7 454.4L1313.3 450.69M1206.8 452.95L1198.8 457.19M1316.17 456.4L1310.07 452.4M1210.11 454.9L1202.3 459.57M1312.3 458.31L1306.43 453.9M1213.8 456.74L1206.3 461.84M1307.77 459.9L1302.3 455.11M1218.53 457.9L1214.8 460.99 1211.3 463.65M1301.8 460.34L1297.3 455.56M1224.03 458.4L1220.8 461.66 1217.85 464.4M1294.73 459.4L1291.44 454.9M1230.73 457.4L1226.01 463.4M1287.3 457.27L1285.04 452.9M1237.66 455.4L1234.93 460.4M1279.51 452.4L1278.46 448.9M1244.94 450.9L1243.7 454.9" stroke="#3799eb"/>
<path d="M1278.71 378.9L1277.84 381.9M1245.72 380.4L1244.8 377.28M1285.3 375.19L1283.73 378.4M1239.3 376.4L1237.3 372.45M1291.63 373.4L1289.3 376.84M1233.3 374.74L1230.3 370.5M1297.3 372.98L1294.3 376.48M1227.8 374.22L1223.9 369.9M1302.3 373.4L1298.69 376.9M1223.3 374.9L1218.41 370.4M1306.67 374.4L1302.46 377.9M1219.2 375.9L1213.8 371.64M1310.3 375.92L1305.8 379.19M1215.8 377.39L1210.03 373.4M1313.09 377.9L1308.46 380.9M1212.53 378.9L1206.81 375.4M1315.8 379.82L1310.8 382.71M1210.16 380.9L1203.8 377.42M1318.07 381.9L1312.8 384.64M1207.8 382.81L1201.89 379.9M1319.8 384.15L1314.8 386.49M1205.8 384.85L1199.8 382.19M1321.35 386.4L1316.3 388.53M1204.3 387.05L1198.3 384.64M1322.8 388.62L1317.8 390.51M1203.3 389.36L1196.8 387.01M1323.89 390.9L1318.8 392.63M1201.72 391.4L1195.8 389.48M1325.3 393.04L1319.8 394.7M1200.8 393.62L1194.86 391.9M1325.78 395.4L1320.8 396.73M1199.8 395.77L1193.8 394.24M1326.8 397.58L1321.3 398.86M1199.3 398.02L1193.3 396.67M1327.3 399.84L1322.3 400.84M1198.8 400.21L1192.8 399.05M1327.8 402.07L1322.8 402.92M1198.3 402.38L1192.32 401.4M1328.3 404.28L1323.3 404.97M1197.8 404.52L1191.8 403.72M1328.8 406.47L1323.3 407.07M1197.3 406.65L1191.3 406.03M1328.8 408.71L1323.8 409.1M1196.8 408.78L1191.3 408.37M1329.09 410.9L1323.8 411.16M1262.8 413.84L1261.3 413.84M1196.8 410.95L1190.8 410.66M1329.3 413.1L1323.8 413.21M1196.8 413.09L1190.8 412.98M1329.3 415.3L1323.8 415.25M1196.8 415.24L1190.8 415.29M1329.3 417.51L1323.8 417.3M1196.8 417.39L1190.8 417.6M1329.3 419.73L1323.8 419.36M1196.8 419.55L1190.8 419.93M1328.8 421.93L1323.37 421.4M1197.3 421.68L1191.3 422.24M1328.3 424.13L1323.3 423.49M1197.3 423.88L1191.3 424.61M1328.2 426.4L1322.8 425.55M1197.8 426.04L1192.12 426.9M1327.8 428.66L1322.3 427.62M1198.3 428.22L1192.3 429.31M1326.8 430.84L1321.8 429.72M1198.8 430.43L1192.8 431.71M1326.3 433.15L1320.8 431.74M1199.8 432.57L1193.8 434.04M1325.3 435.38L1320.23 433.9M1200.8 434.72L1194.3 436.53M1324.3 437.65L1318.97 435.9M1201.8 436.92L1195.48 438.9M1323.06 439.9L1317.8 437.97M1202.8 439.18L1196.8 441.28M1321.8 442.21L1316.3 439.95M1204.08 441.4L1197.8 443.84M1320.06 444.4L1314.8 441.99M1205.8 443.51L1199.8 446.11M1318.3 446.66L1313.3 444.12M1207.8 445.56L1201.3 448.68M1316.29 448.9L1310.99 445.9M1209.8 447.69L1203.8 450.9M1313.64 450.9L1308.8 447.83M1212.3 449.64L1206.3 453.23M1310.3 452.56L1305.9 449.4M1215.27 451.4L1209.8 455.1M1306.8 454.2L1302.3 450.5M1218.74 452.9L1213.58 456.9M1302.61 455.4L1298.8 451.75M1222.93 453.9L1218.3 458.1M1297.6 455.9L1294.3 452.09M1227.67 454.4L1223.8 458.65M1291.8 455.4L1289.3 451.75M1233.21 453.9L1230.36 457.9M1285.29 453.4L1283.57 449.9M1239.3 452.17L1237.4 455.9M1278.61 449.4L1277.8 446.63M1245.8 447.99L1244.8 451.35" stroke="#31b6ed"/>
<path d="M1277.98 381.4L1277.3 383.77M1246.3 382.4L1245.58 379.9M1283.8 378.25L1282.54 380.9M1240.75 379.4L1239.05 375.9M1289.59 376.4L1287.64 379.4M1235.3 377.75L1233.07 374.4M1294.37 376.4L1291.92 379.4M1230.47 377.4L1227.52 373.9M1298.8 376.79L1295.8 379.87M1226.3 377.89L1222.8 374.42M1302.8 377.61L1299.3 380.69M1222.71 378.9L1218.8 375.57M1306.19 378.9L1302.3 381.89M1219.3 380L1215.3 377.03M1308.8 380.67L1304.81 383.4M1216.8 381.72L1212.3 378.75M1311.3 382.41L1307.3 384.85M1214.3 383.35L1209.8 380.69M1313.24 384.4L1309.3 386.56M1212.3 385.2L1207.3 382.56M1314.99 386.4L1310.93 388.4M1210.3 386.99L1205.3 384.62M1316.6 388.4L1312.3 390.3M1208.8 388.98L1203.95 386.9M1318.08 390.4L1313.8 392.1M1207.8 391.1L1202.8 389.17M1319.3 392.46L1314.8 394.06M1206.3 392.98L1201.3 391.26M1320.3 394.54L1316.01 395.9M1205.3 395.01L1200.3 393.47M1321.3 396.59L1316.8 397.85M1204.3 396.99L1199.3 395.64M1321.8 398.74L1317.3 399.84M1203.8 399.09L1198.8 397.9M1322.8 400.74L1317.8 401.79M1203.3 401.13L1198.3 400.11M1322.9 402.9L1318.8 403.62M1202.8 403.15L1197.8 402.29M1323.8 404.9L1318.8 405.62M1202.3 405.16L1197.3 404.45M1323.8 407.01L1319.3 407.52M1201.8 407.15L1196.8 406.6M1324.3 409.06L1319.8 409.42M1201.8 409.18L1196.3 408.75M1324.3 411.13L1319.8 411.36M1201.3 411.17L1196.3 410.92M1324.3 413.2L1319.8 413.29M1201.3 413.18L1196.3 413.08M1324.3 415.26L1319.8 415.21M1201.3 415.2L1196.3 415.24M1324.3 417.32L1319.8 417.14M1262.8 414.92L1261.3 414.92M1201.3 417.21L1196.43 417.4M1324.3 419.4L1319.8 419.08M1201.3 419.24L1196.3 419.58M1323.8 421.44L1319.3 420.98M1201.8 421.23L1196.8 421.73M1323.8 423.56L1319.3 422.95M1202.3 423.23L1197.12 423.9M1323.3 425.63L1318.92 424.9M1202.3 425.31L1197.3 426.12M1322.8 427.72L1318.3 426.82M1202.8 427.35L1197.8 428.31M1322.3 429.84L1317.8 428.79M1203.8 429.3L1198.3 430.54M1321.3 431.87L1316.8 430.66M1204.27 431.4L1199.3 432.69M1320.3 433.92L1315.8 432.54M1205.25 433.4L1200.3 434.87M1319.3 436.01L1314.8 434.46M1206.3 435.41L1201.3 437.08M1318.3 438.16L1313.8 436.41M1207.3 437.49L1202.3 439.36M1316.8 440.16L1312.8 438.43M1208.8 439.43L1203.8 441.51M1315.3 442.23L1310.8 440.06M1210.3 441.41L1205.3 443.74M1313.8 444.38L1309.3 441.97M1211.95 443.4L1207.3 445.81M1311.3 446.08L1307.3 443.68M1214.3 445.08L1209.42 447.9M1308.9 447.9L1305.18 445.4M1216.52 446.9L1211.88 449.9M1306.3 449.7L1302.61 446.9M1219.3 448.44L1214.8 451.73M1302.78 450.9L1299.33 447.9M1222.32 449.9L1218.3 453.26M1298.95 451.9L1295.99 448.9M1226.3 450.6L1222.8 454.02M1294.56 452.4L1292.09 449.4M1230.64 450.9L1227.3 454.83M1289.4 451.9L1287.44 448.9M1235.23 450.9L1232.87 454.4M1283.8 450.38L1282.62 447.9M1240.65 449.4L1239.19 452.4M1277.88 446.9L1277.3 444.9M1246.4 445.9L1245.68 448.4" stroke="#2bd5ef"/>
<path d="M1277.41 383.4L1276.84 385.4M1246.87 384.4L1246.16 381.9M1282.78 380.4L1281.62 382.9M1241.69 381.4L1240.51 378.9M1287.8 379.14L1286.06 381.9M1236.8 380.08L1235.07 377.4M1292.3 378.93L1290.35 381.4M1232.48 379.9L1230.3 377.19M1296.25 379.4L1293.89 381.9M1228.72 380.4L1225.82 377.4M1299.62 380.4L1296.89 382.9M1225.3 381.21L1222.3 378.54M1302.8 381.5L1299.8 383.9M1222.3 382.35L1219.17 379.9M1305.3 383.06L1302.3 385.18M1219.8 383.8L1216.33 381.4M1307.8 384.54L1304.3 386.75M1217.61 385.4L1213.8 383.04M1309.58 386.4L1306.06 388.4M1215.8 387.15L1211.8 384.93M1311.3 388.21L1307.8 390M1214.12 388.9L1210.11 386.9M1312.8 390.08L1309.3 391.68M1212.8 390.77L1208.62 388.9M1314.3 391.9L1310.3 393.54M1211.3 392.51L1207.3 390.91M1315.23 393.9L1311.3 395.34M1210.24 394.4L1206.07 392.9M1316.3 395.8L1312.3 397.11M1209.3 396.29L1204.96 394.9M1317.3 397.7L1313.3 398.85M1208.3 398.12L1203.96 396.9M1317.8 399.71L1313.8 400.71M1207.8 400.07L1203.3 398.96M1318.3 401.68L1314.8 402.43M1206.8 401.88L1202.8 401.03M1319.3 403.53L1315.3 404.25M1206.3 403.78L1202.3 403.07M1319.3 405.55L1315.3 406.14M1206.3 405.74L1201.8 405.08M1319.8 407.46L1316 407.9M1205.8 407.6L1201.3 407.09M1320.08 409.4L1316.3 409.71M1205.3 409.47L1201.3 409.14M1320.3 411.34L1316.3 411.54M1205.3 411.37L1200.8 411.14M1320.3 413.28L1316.3 413.36M1205.3 413.27L1200.8 413.17M1320.3 415.22L1316.3 415.17M1205.3 415.15L1200.8 415.2M1320.3 417.16L1316.3 416.99M1205.3 417.04L1200.8 417.23M1320.3 419.11L1316.3 418.82M1205.3 418.95L1200.8 419.27M1319.8 421.03L1315.8 420.61M1205.8 420.82L1201.3 421.28M1319.8 423.02L1315.8 422.47M1205.8 422.75L1201.8 423.29M1319.3 424.96L1315.3 424.28M1206.3 424.64L1201.8 425.4M1318.69 426.9L1314.8 426.1M1206.8 426.55L1202.55 427.4M1318.27 428.9L1314.3 427.94M1207.3 428.47L1203.37 429.4M1317.3 430.8L1313.3 429.68M1208.3 430.3L1203.8 431.53M1316.3 432.7L1312.8 431.59M1209.3 432.14L1204.8 433.54M1315.3 434.63L1311.86 433.4M1209.8 434.19L1205.8 435.58M1314.3 436.61L1310.3 435M1211.3 435.92L1206.8 437.68M1313.3 438.66L1309.38 436.9M1212.28 437.9L1208.3 439.64M1311.3 440.3L1307.8 438.55M1213.8 439.7L1209.8 441.65M1309.8 442.24L1306.3 440.29M1215.62 441.4L1211.8 443.48M1307.66 443.9L1304.45 441.9M1217.8 442.94L1213.8 445.37M1305.3 445.48L1302.33 443.4M1219.8 444.66L1216.3 447.05M1302.8 447.05L1299.8 444.68M1222.3 446.13L1218.8 448.82M1299.8 448.32L1297.12 445.9M1225.16 447.4L1222.3 449.92M1296.3 449.22L1293.8 446.6M1228.8 448.02L1226 450.9M1292.3 449.66L1290.3 447.15M1232.66 448.4L1230.3 451.31M1287.76 449.4L1286.3 447.11M1236.8 448.47L1234.9 451.4M1282.8 448.28L1281.69 445.9M1241.8 446.96L1240.41 449.9M1277.45 445.4L1276.88 443.4M1246.98 443.9L1246.3 446.26M1261.8 414.38L1261.3 414.38 1260.8 414.38" stroke="#26e6ea"/>
<path d="M1276.98 384.9L1276.42 386.9M1247.3 385.9L1246.8 384.15M1281.8 382.5L1280.93 384.4M1242.61 383.4L1241.45 380.9M1286.3 381.52L1285.13 383.4M1238.25 382.4L1236.68 379.9M1290.74 380.9L1288.8 383.4M1234.3 382.23L1232.3 379.67M1294.3 381.46L1292.05 383.9M1230.58 382.4L1228.3 379.96M1297.3 382.51L1294.8 384.86M1227.67 383.4L1224.96 380.9M1300.3 383.49L1297.37 385.9M1224.8 384.37L1221.8 381.95M1302.69 384.9L1299.94 386.9M1222.72 385.9L1219.3 383.45M1304.8 386.43L1301.8 388.38M1220.74 387.4L1217.3 385.2M1306.3 388.26L1303.49 389.9M1218.8 388.87L1215.36 386.9M1307.99 389.9L1305.13 391.4M1217.02 390.4L1213.8 388.74M1309.8 391.45L1306.3 393.09M1215.8 392.16L1212.3 390.54M1310.64 393.4L1307.3 394.81M1214.3 393.76L1211.02 392.4M1311.8 395.16L1308.8 396.29M1213.3 395.53L1209.8 394.24M1312.8 396.94L1309.3 398.11M1212.3 397.27L1208.8 396.12M1313.8 398.71L1310.3 399.74M1211.8 399.14L1207.8 397.98M1314.3 400.59L1311.13 401.4M1210.8 400.83L1207.3 399.95M1314.95 402.4L1311.8 403.09M1210.3 402.63L1206.3 401.77M1315.8 404.16L1312.3 404.81M1209.71 404.4L1205.8 403.69M1315.8 406.06L1312.3 406.59M1209.3 406.19L1205.8 405.66M1316.3 407.86L1312.8 408.28M1209.3 408.01L1205.3 407.55M1316.8 409.67L1312.8 410.01M1262.8 413.48L1261.3 413.48M1208.8 409.76L1204.8 409.43M1316.8 411.52L1313.3 411.7M1261.8 413.84L1261.3 413.84 1260.8 413.84M1208.8 411.56L1204.8 411.35M1316.8 413.35L1313.3 413.42M1261.8 414.2L1261.3 414.2 1260.8 414.2M1208.8 413.34L1204.8 413.26M1316.8 415.18L1313.3 415.14M1261.8 414.56L1261.3 414.56 1260.8 414.56M1208.8 415.11L1204.8 415.16M1316.8 417.01L1313.3 416.86M1208.66 416.9L1204.8 417.07M1316.8 418.85L1313.3 418.59M1208.8 418.69L1204.8 418.98M1316.3 420.66L1312.8 420.28M1208.8 420.5L1205.3 420.87M1316.3 422.54L1312.3 421.97M1209.3 422.26L1205.3 422.82M1315.8 424.36L1312.3 423.75M1209.8 424.03L1205.8 424.73M1315.3 426.2L1311.8 425.46M1210.3 425.82L1206.3 426.65M1314.8 428.07L1311.3 427.2M1210.8 427.62L1206.8 428.59M1313.8 429.82L1310.57 428.9M1211.3 429.46L1207.95 430.4M1313.3 431.75L1309.8 430.61M1212.3 431.18L1208.8 432.3M1312.3 433.56L1308.8 432.28M1213.3 432.92L1209.3 434.37M1310.8 435.21L1307.8 433.97M1214.3 434.7L1210.8 436.12M1309.8 437.09L1306.3 435.48M1215.59 436.4L1211.8 438.11M1308.3 438.8L1305.3 437.26M1216.8 438.19L1213.4 439.9M1306.5 440.4L1303.8 438.85M1218.8 439.61L1215.3 441.58M1304.8 442.12L1301.8 440.2M1220.24 441.4L1217.3 443.25M1302.8 443.74L1299.8 441.58M1222.8 442.54L1219.45 444.9M1300.08 444.9L1297.62 442.9M1224.8 444.13L1221.95 446.4M1297.3 446.06L1294.97 443.9M1227.8 444.99L1224.8 447.73M1294.09 446.9L1292.23 444.9M1230.79 445.9L1228.44 448.4M1290.5 447.4L1288.94 445.4M1234.24 446.4L1232.3 448.86M1286.49 447.4L1284.93 444.9M1238.11 446.4L1236.53 448.9M1281.8 446.14L1280.8 443.97M1242.52 445.4L1241.59 447.4M1277.02 443.9L1276.46 441.9M1247.26 442.9L1246.83 444.4M1263.3 414.38L1262.8 414.38 1262.3 414.38" stroke="#20eadd"/>
<path d="M1276.56 386.4L1276.13 387.9M1247.57 386.9L1247.16 385.4M1281.16 383.9L1280.3 385.78M1243.29 384.9L1242.38 382.9M1285.3 383.13L1284.22 384.9M1239.17 383.9L1237.94 381.9M1289.19 382.9L1287.66 384.9M1235.58 383.9L1234.05 381.9M1292.3 383.63L1290.7 385.4M1232.3 384.28L1230.3 382.09M1295.28 384.4L1293.3 386.29M1229.78 385.4L1227.3 383.05M1297.8 385.54L1295.8 387.21M1227.25 386.4L1224.3 383.96M1300.3 386.64L1297.92 388.4M1224.76 387.4L1222.3 385.59M1302.3 388.05L1299.8 389.71M1222.8 388.75L1220.3 387.12M1303.8 389.72L1301.3 391.2M1221.3 390.34L1218.3 388.58M1305.3 391.31L1302.8 392.64M1219.8 391.86L1216.8 390.28M1306.71 392.9L1303.8 394.29M1218.3 393.35L1215.3 391.93M1307.8 394.59L1305.3 395.67M1216.99 394.9L1213.8 393.55M1309.3 396.1L1306.3 397.24M1216.3 396.67L1212.94 395.4M1309.8 397.95L1306.99 398.9M1215.3 398.28L1211.8 397.11M1310.8 399.59L1307.8 400.48M1214.3 399.88L1211.3 398.99M1311.3 401.36L1308.3 402.14M1213.8 401.6L1210.3 400.7M1312.3 402.98L1308.8 403.76M1213.3 403.3L1209.8 402.53M1312.8 404.72L1309.3 405.37M1212.8 404.98L1209.3 404.32M1312.8 406.51L1309.8 406.97M1212.3 406.64L1208.8 406.11M1313.3 408.22L1310.3 408.57M1211.8 408.31L1208.8 407.95M1313.3 409.97L1310.3 410.22M1211.8 410.02L1208.3 409.72M1313.8 411.67L1310.3 411.86M1263.3 413.84L1262.8 413.84 1262.3 413.84M1211.8 411.71L1208.3 411.53M1313.8 413.41L1310.8 413.47M1263.3 414.2L1262.8 414.2 1262.3 414.2M1211.8 413.4L1208.3 413.33M1313.8 415.14L1310.8 415.1M1263.3 414.56L1262.8 414.56 1262.3 414.56M1211.3 415.08L1208.3 415.12M1313.8 416.88L1310.3 416.72M1261.8 414.91L1261.3 414.92 1260.8 414.92M1211.8 416.76L1208.3 416.92M1313.8 418.62L1310.3 418.35M1262.8 415.27L1261.3 415.27M1211.8 418.45L1208.3 418.72M1313.3 420.34L1310.3 420M1211.8 420.17L1208.3 420.55M1312.8 422.04L1309.8 421.6M1212.3 421.83L1208.8 422.33M1312.8 423.84L1309.3 423.21M1212.8 423.5L1209.3 424.12M1312.3 425.57L1309.19 424.9M1213.3 425.18L1209.91 425.9M1311.8 427.33L1308.3 426.44M1213.69 426.9L1210.3 427.75M1310.8 428.97L1307.8 428.09M1214.3 428.6L1210.8 429.6M1310.3 430.78L1306.8 429.62M1215.3 430.2L1211.8 431.34M1309.13 432.4L1306.3 431.34M1216.07 431.9L1212.8 433.11M1308.3 434.18L1305.3 432.92M1217.3 433.45L1213.82 434.9M1306.8 435.71L1304.02 434.4M1218.3 435.14L1215.3 436.53M1305.57 437.4L1302.8 435.95M1219.8 436.63L1216.38 438.4M1303.88 438.9L1301.32 437.4M1220.88 438.4L1218.3 439.89M1302.11 440.4L1299.82 438.9M1222.8 439.75L1219.8 441.68M1300.24 441.9L1297.8 440.11M1224.8 441.09L1222.3 442.89M1297.8 443.05L1295.81 441.4M1226.8 442.5L1224.47 444.4M1295.3 444.21L1293.38 442.4M1229.5 443.4L1227.36 445.4M1292.3 444.98L1290.8 443.33M1232.18 444.4L1230.33 446.4M1289.3 445.86L1287.41 443.4M1235.78 444.4L1233.85 446.9M1285.24 445.4L1284.01 443.4M1239.3 444.48L1237.8 446.89M1281 444.4L1280.31 442.9M1243.3 443.7L1242.3 445.88M1276.6 442.4L1276.18 440.9M1247.68 441.4L1247.12 443.4" stroke="#1cefd1"/>
<path d="M1276.27 387.4L1275.85 388.9M1247.99 388.4L1247.43 386.4M1280.47 385.4L1279.8 386.9M1243.8 386.03L1243.06 384.4M1284.3 384.76L1283.3 386.4M1240.08 385.4L1238.86 383.4M1287.8 384.72L1286.53 386.4M1236.71 385.4L1235.3 383.53M1290.8 385.28L1289.36 386.9M1233.76 385.9L1231.96 383.9M1293.71 385.9L1291.8 387.74M1231.3 386.86L1229.3 384.94M1296.17 386.9L1293.81 388.9M1228.8 387.7L1226.8 386.02M1298.3 388.12L1295.93 389.9M1226.77 388.9L1224.3 387.06M1300.26 389.4L1297.8 391.05M1224.8 390.08L1222.3 388.42M1301.8 390.9L1299.31 392.4M1223.3 391.54L1220.8 390.04M1303.25 392.4L1300.8 393.72M1221.73 392.9L1219.3 391.6M1304.3 394.05L1301.8 395.26M1220.48 394.4L1217.8 393.11M1305.8 395.45L1302.8 396.75M1219.8 396.11L1216.8 394.82M1306.8 397.05L1303.8 398.21M1218.8 397.64L1215.8 396.48M1307.3 398.79L1304.8 399.65M1217.8 399.14L1214.8 398.11M1308.08 400.4L1305.3 401.24M1216.8 400.63L1213.8 399.73M1308.8 402.01L1305.8 402.8M1216.3 402.26L1213.3 401.48M1309.3 403.65L1306.8 404.21M1215.8 403.86L1212.8 403.19M1309.8 405.28L1306.8 405.85M1215.3 405.45L1212.4 404.9M1310.27 406.9L1307.3 407.36M1214.8 407.03L1211.8 406.56M1310.8 408.51L1307.8 408.87M1214.8 408.66L1211.3 408.25M1310.8 410.18L1307.8 410.44M1261.8 413.48L1261.3 413.48 1260.8 413.48M1214.3 410.24L1211.3 409.98M1310.8 411.83L1308.3 411.96M1214.3 411.85L1211.3 411.69M1311.3 413.46L1308.3 413.52M1214.3 413.45L1211.3 413.39M1311.3 415.11L1308.3 415.07M1214.3 415.05L1210.8 415.09M1310.8 416.74L1308.3 416.63M1263.3 414.92L1262.8 414.92 1262.3 414.91M1214.3 416.65L1211.3 416.78M1310.8 418.39L1307.8 418.15M1214.3 418.26L1211.3 418.49M1310.8 420.06L1307.8 419.72M1214.8 419.83L1211.3 420.22M1310.3 421.68L1307.3 421.24M1214.8 421.47L1211.84 421.9M1309.8 423.3L1307.3 422.84M1215.3 423.05L1212.3 423.59M1309.3 424.92L1306.8 424.38M1215.8 424.64L1212.8 425.29M1308.8 426.57L1306.3 425.93M1216.3 426.24L1213.3 427M1308.3 428.24L1305.45 427.4M1216.69 427.9L1213.8 428.74M1307.3 429.79L1304.8 428.94M1217.69 429.4L1214.8 430.36M1306.46 431.4L1303.83 430.4M1218.3 431.06L1215.8 432M1305.8 433.13L1302.92 431.9M1219.3 432.61L1216.8 433.67M1304.3 434.54L1301.92 433.4M1220.8 433.96L1217.8 435.37M1303.3 436.21L1300.83 434.9M1221.8 435.58L1219.3 436.89M1301.8 437.69L1299.3 436.2M1223.3 436.98L1220.8 438.45M1300.3 439.22L1297.8 437.56M1224.8 438.44L1222.57 439.9M1298.19 440.4L1296.18 438.9M1226.8 439.61L1224.37 441.4M1296.3 441.81L1294.3 440.13M1228.72 440.9L1226.31 442.9M1293.8 442.8L1291.82 440.9M1231.08 441.9L1229.3 443.59M1290.86 443.4L1289.51 441.9M1233.8 442.61L1231.8 444.81M1287.79 443.9L1286.66 442.4M1236.8 443.07L1235.4 444.9M1284.3 443.88L1283.4 442.4M1240.27 442.9L1239.04 444.9M1280.54 443.4L1279.8 441.77M1243.89 442.4L1243.21 443.9M1276.3 441.33L1275.8 439.58M1247.95 440.4L1247.54 441.9" stroke="#16f3c4"/>
<path d="M1275.99 388.4L1275.56 389.9M1248.27 389.4L1247.85 387.9M1279.8 386.89L1279.3 387.99M1244.42 387.4L1243.74 385.9M1283.61 385.9L1282.7 387.4M1240.8 386.58L1239.8 384.93M1286.8 386.04L1285.41 387.9M1237.8 386.85L1236.34 384.9M1289.8 386.4L1288.3 388.09M1235.09 387.4L1233.31 385.4M1292.15 387.4L1290.61 388.9M1232.37 387.9L1230.82 386.4M1294.3 388.48L1292.8 389.77M1230.2 388.9L1228.44 387.4M1296.3 389.62L1294.61 390.9M1228.3 390.05L1226.3 388.54M1298.02 390.9L1296.3 392.06M1226.75 391.4L1224.52 389.9M1299.8 392.1L1297.66 393.4M1225.3 392.75L1223.07 391.4M1301.3 393.45L1298.8 394.81M1223.8 394.02L1221.3 392.67M1302.3 395.02L1299.8 396.24M1222.54 395.4L1220.3 394.31M1303.3 396.53L1300.8 397.63M1221.6 396.9L1219.31 395.9M1304.3 398.02L1302.04 398.9M1220.76 398.4L1218.3 397.44M1305.3 399.48L1302.8 400.35M1219.8 399.83L1217.3 398.97M1305.8 401.09L1303.3 401.85M1219.3 401.39L1216.3 400.48M1306.3 402.66L1303.8 403.33M1218.72 402.9L1215.8 402.13M1307.3 404.1L1304.3 404.78M1217.8 404.32L1215.3 403.75M1307.3 405.75L1304.8 406.23M1217.67 405.9L1215.05 405.4M1307.8 407.28L1305.3 407.67M1217.21 407.4L1214.3 406.95M1308.3 408.81L1305.8 409.11M1262.8 413.12L1261.3 413.12M1216.74 408.9L1214.3 408.6M1308.26 410.4L1305.8 410.61M1263.3 413.48L1262.8 413.48 1262.3 413.48M1216.8 410.45L1213.8 410.19M1308.8 411.94L1305.8 412.1M1216.8 411.98L1213.8 411.82M1308.8 413.51L1305.8 413.57M1216.3 413.49L1213.8 413.44M1308.8 415.08L1305.8 415.04M1216.3 415.02L1213.8 415.05M1308.8 416.65L1305.8 416.51M1216.8 416.53L1213.8 416.67M1308.3 418.19L1305.8 417.99M1261.8 415.27L1261.3 415.27 1260.8 415.28M1216.8 418.06L1213.8 418.3M1308.3 419.78L1305.8 419.49M1216.8 419.61L1214.3 419.89M1307.8 421.31L1305.3 420.94M1217.3 421.1L1214.3 421.54M1307.62 422.9L1304.91 422.4M1217.3 422.68L1214.8 423.14M1306.9 424.4L1304.64 423.9M1217.8 424.2L1215.3 424.75M1306.8 426.06L1304.26 425.4M1218.3 425.73L1215.8 426.37M1305.8 427.5L1303.3 426.76M1219.3 427.13L1216.3 428.01M1305.3 429.11L1302.8 428.26M1219.8 428.69L1217.3 429.53M1304.3 430.58L1301.8 429.62M1220.8 430.11L1217.8 431.25M1303.3 432.06L1301.3 431.2M1221.8 431.54L1218.8 432.82M1302.3 433.58L1300.3 432.62M1222.8 433L1220.3 434.2M1301.3 435.15L1298.97 433.9M1223.8 434.51L1221.3 435.84M1299.63 436.4L1297.8 435.3M1225.11 435.9L1222.8 437.28M1298.3 437.89L1296.3 436.56M1226.8 437.11L1224.3 438.77M1296.3 438.99L1294.3 437.49M1228.3 438.49L1226.41 439.9M1294.62 440.4L1292.85 438.9M1230.3 439.57L1228.3 441.25M1292.3 441.36L1290.8 439.92M1232.64 440.4L1230.8 442.17M1289.8 442.23L1288.3 440.55M1234.8 441.5L1233.54 442.9M1286.8 442.59L1285.53 440.9M1237.68 441.9L1236.54 443.4M1283.7 442.9L1282.49 440.9M1240.8 442.02L1239.96 443.4M1279.86 441.9L1279.3 440.67M1244.57 440.9L1243.8 442.6M1275.89 439.9L1275.6 438.9M1248.23 439.4L1247.81 440.9" stroke="#12f6ae"/>
<path d="M1275.7 389.4L1275.56 389.9 1275.42 390.4M1248.41 389.9L1248.13 388.9M1279.34 387.9L1278.89 388.9M1244.8 388.25L1244.3 387.13M1282.8 387.23L1281.8 388.89M1241.59 387.9L1240.69 386.4M1285.79 387.4L1284.8 388.72M1238.58 387.9L1237.47 386.4M1288.47 387.9L1287.3 389.22M1235.98 388.4L1234.8 387.07M1290.8 388.71L1289.59 389.9M1233.8 389.29L1232.3 387.83M1293.23 389.4L1291.48 390.9M1231.8 390.27L1229.8 388.55M1294.8 390.75L1293.3 391.9M1229.8 391.19L1228.1 389.9M1296.54 391.9L1294.8 393.09M1228.22 392.4L1226.3 391.09M1297.8 393.32L1296.03 394.4M1226.8 393.66L1224.8 392.44M1299.3 394.54L1297.3 395.63M1225.41 394.9L1223.58 393.9M1300.3 395.99L1298.46 396.9M1224.3 396.26L1222.3 395.28M1301.3 397.41L1299.3 398.29M1223.3 397.64L1221.3 396.77M1302.3 398.8L1300.3 399.58M1222.8 399.2L1220.3 398.22M1303.3 400.17L1300.8 401.04M1221.8 400.52L1219.3 399.66M1303.8 401.7L1301.52 402.4M1220.96 401.9L1218.8 401.24M1304.3 403.19L1302.3 403.73M1220.59 403.4L1218.3 402.79M1304.8 404.67L1302.8 405.13M1220.3 404.89L1217.3 404.2M1305.3 406.13L1302.8 406.61M1219.8 406.31L1217.3 405.83M1305.8 407.59L1303.3 407.98M1219.3 407.73L1216.8 407.34M1306.3 409.05L1303.8 409.36M1261.8 413.12L1261.3 413.12 1260.8 413.12M1218.8 409.15L1216.3 408.85M1306.3 410.57L1303.8 410.79M1218.8 410.63L1216.3 410.41M1306.3 412.07L1303.8 412.2M1261.3 413.84L1260.8 413.84 1260.3 413.84M1218.8 412.09L1216.3 411.95M1306.3 413.56L1303.8 413.61M1261.3 414.2L1260.8 414.2 1260.3 414.2M1218.8 413.54L1215.8 413.48M1306.3 415.04L1303.8 415.01M1261.3 414.56L1260.8 414.56 1260.3 414.56M1218.8 414.99L1215.8 415.03M1306.3 416.53L1303.8 416.42M1218.8 416.44L1216.3 416.56M1306.3 418.03L1303.8 417.83M1263.3 415.28L1262.8 415.27 1262.3 415.27M1218.8 417.9L1216.3 418.1M1306.3 419.55L1303.8 419.26M1262.8 415.63L1261.3 415.63M1218.8 419.38L1216.3 419.66M1305.8 421.01L1303.3 420.64M1219.3 420.8L1216.8 421.17M1305.3 422.47L1303.3 422.1M1219.8 422.22L1216.8 422.78M1304.8 423.94L1302.8 423.49M1219.8 423.76L1217.3 424.31M1304.3 425.41L1302.34 424.9M1220.3 425.21L1217.8 425.85M1303.78 426.9L1301.8 426.31M1221.3 426.53L1218.8 427.28M1303.2 428.4L1300.8 427.58M1221.8 428.01L1219.3 428.86M1302.3 429.81L1300.3 429.04M1222.3 429.53L1220.3 430.3M1301.76 431.4L1299.46 430.4M1223.28 430.9L1221.3 431.75M1300.8 432.86L1298.3 431.65M1224.3 432.28L1222.3 433.24M1299.3 434.08L1297.3 432.99M1225.8 433.43L1223.3 434.78M1297.97 435.4L1296.31 434.4M1226.78 434.9L1224.8 436.09M1296.8 436.89L1294.8 435.54M1228.3 436.1L1226.36 437.4M1294.8 437.87L1293.3 436.74M1229.75 437.4L1227.8 438.86M1293.3 439.29L1291.3 437.58M1231.67 438.4L1229.91 439.9M1291.3 440.4L1289.3 438.46M1233.67 439.4L1232.3 440.73M1288.61 440.9L1287.3 439.42M1236.23 439.9L1234.44 441.9M1285.8 441.27L1284.8 439.93M1238.8 440.41L1237.3 442.4M1282.79 441.4L1281.88 439.9M1241.48 440.9L1240.57 442.4M1279.41 440.9L1278.8 439.57M1245.02 439.9L1244.34 441.4M1275.75 439.4L1275.6 438.9 1275.46 438.4M1248.52 438.4L1248.09 439.9M1261.3 414.38L1260.8 414.38 1260.3 414.38" stroke="#0ff88e"/>
<path d="M1275.56 389.9L1275.28 390.9M1248.7 390.9L1248.3 389.51M1279.12 388.4L1278.44 389.9M1245.3 389.36L1244.64 387.9M1282.1 388.4L1281.49 389.4M1242.19 388.9L1241.3 387.41M1285.04 388.4L1283.92 389.9M1239.3 388.86L1238.3 387.52M1287.59 388.9L1286.3 390.36M1236.86 389.4L1235.8 388.2M1289.8 389.69L1288.57 390.9M1234.8 390.27L1233.4 388.9M1291.8 390.62L1290.32 391.9M1232.8 391.13L1231.37 389.9M1293.8 391.52L1291.99 392.9M1231.3 392.34L1229.41 390.9M1295.08 392.9L1293.3 394.11M1229.68 393.4L1227.8 392.11M1296.3 394.23L1294.8 395.15M1228.3 394.58L1226.37 393.4M1297.73 395.4L1295.91 396.4M1227.23 395.9L1225.3 394.84M1298.8 396.73L1296.8 397.72M1226.3 397.25L1223.8 396.02M1299.8 398.07L1297.92 398.9M1225.01 398.4L1222.8 397.43M1300.77 399.4L1298.3 400.37M1224.3 399.79L1222.3 399M1301.21 400.9L1299.3 401.57M1223.8 401.22L1221.44 400.4M1301.8 402.31L1299.9 402.9M1222.8 402.47L1220.8 401.85M1302.8 403.6L1300.3 404.26M1222.3 403.86L1220.3 403.32M1303.3 405.01L1300.8 405.59M1221.8 405.23L1219.8 404.77M1303.3 406.52L1301.31 406.9M1221.3 406.6L1219.3 406.21M1303.8 407.9L1301.8 408.22M1221.3 408.04L1218.8 407.65M1304.3 409.3L1301.8 409.6M1263.3 413.12L1262.8 413.12 1262.3 413.12M1220.8 409.39L1218.3 409.09M1304.3 410.74L1301.8 410.96M1220.8 410.8L1218.3 410.58M1304.3 412.18L1302.3 412.28M1263.8 413.84L1263.3 413.84 1262.8 413.84M1220.8 412.2L1218.3 412.06M1304.3 413.6L1302.3 413.64M1263.8 414.2L1263.3 414.2 1262.8 414.2M1220.3 413.57L1218.3 413.53M1304.3 415.02L1302.3 414.99M1263.8 414.56L1263.3 414.56 1262.8 414.56M1220.3 414.97L1218.3 415M1304.3 416.44L1302.3 416.34M1261.3 414.92L1260.8 414.92 1260.3 414.92M1220.8 416.35L1218.3 416.46M1304.3 417.87L1302.3 417.71M1220.8 417.74L1218.3 417.94M1304.3 419.32L1301.8 419.03M1220.8 419.15L1218.59 419.4M1303.8 420.71L1301.8 420.41M1221.3 420.5L1218.8 420.88M1303.8 422.19L1301.3 421.73M1221.3 421.94L1219.3 422.31M1303.3 423.6L1300.8 423.04M1221.8 423.31L1219.3 423.87M1302.8 425.02L1300.44 424.4M1222.3 424.69L1219.8 425.34M1302.12 426.4L1299.8 425.7M1222.8 426.08L1220.8 426.68M1301.3 427.75L1299.3 427.06M1223.3 427.49L1221.3 428.18M1300.8 429.23L1298.8 428.46M1224.3 428.76L1221.8 429.72M1299.8 430.55L1297.8 429.68M1225.3 430.02L1222.8 431.11M1298.8 431.89L1296.8 430.91M1225.8 431.55L1224.04 432.4M1297.8 433.27L1295.8 432.18M1227.3 432.62L1225.3 433.7M1296.8 434.7L1294.8 433.49M1228.3 433.98L1226.3 435.19M1295.3 435.88L1293.3 434.53M1229.8 435.08L1227.85 436.4M1293.52 436.9L1291.8 435.6M1231.07 436.4L1229.3 437.74M1291.67 437.9L1290.5 436.9M1232.8 437.44L1231.3 438.72M1289.75 438.9L1288.3 437.48M1234.7 438.4L1233.3 439.76M1287.72 439.9L1286.39 438.4M1237.11 438.9L1235.8 440.38M1285.15 440.4L1284.03 438.9M1239.3 439.74L1238.43 440.9M1282.18 440.4L1281.3 438.95M1242.09 439.9L1241.3 441.2M1278.95 439.9L1278.5 438.9M1245.25 439.4L1245.02 439.9 1244.8 440.39M1275.6 438.9L1275.17 437.4M1248.67 437.9L1248.52 438.4 1248.38 438.9M1263.8 414.38L1263.3 414.38 1262.8 414.38" stroke="#0cf96f"/>
<path d="M1275.3 390.81L1275 391.9M1248.8 391.24L1248.7 390.9 1248.56 390.4M1278.66 389.4L1277.98 390.9M1245.77 390.4L1245.09 388.9M1281.79 388.9L1280.89 390.4M1242.8 389.9L1241.89 388.4M1284.29 389.4L1283.3 390.73M1240.07 389.9L1238.96 388.4M1286.7 389.9L1285.38 391.4M1237.74 390.4L1236.8 389.33M1288.8 390.67L1287.55 391.9M1235.8 391.26L1234.42 389.9M1290.8 391.49L1289.3 392.78M1233.8 391.99L1232.53 390.9M1292.3 392.66L1290.8 393.81M1232.3 393.11L1230.8 391.96M1293.61 393.9L1292.3 394.8M1230.8 394.16L1229.3 393.14M1295.21 394.9L1293.58 395.9M1229.64 395.4L1228.01 394.4M1296.3 396.18L1294.3 397.28M1228.8 396.77L1226.8 395.66M1297.3 397.47L1295.43 398.4M1227.61 397.9L1225.8 397M1298.3 398.73L1296.3 399.62M1226.8 399.19L1224.8 398.31M1298.8 400.17L1297.3 400.77M1225.8 400.38L1223.8 399.59M1299.78 401.4L1297.8 402.09M1225.3 401.75L1223.3 401.05M1300.3 402.77L1298.3 403.39M1224.8 403.08L1222.58 402.4M1300.8 404.13L1298.8 404.67M1223.8 404.26L1221.8 403.72M1301.3 405.47L1299.44 405.9M1223.8 405.69L1221.3 405.12M1301.8 406.81L1299.8 407.19M1223.3 406.98L1220.8 406.5M1302.3 408.14L1299.8 408.53M1262.8 412.76L1260.8 412.76M1222.8 408.28L1220.8 407.96M1302.3 409.54L1300.3 409.78M1222.8 409.64L1220.3 409.33M1302.3 410.92L1300.3 411.09M1263.8 413.48L1263.3 413.48 1262.8 413.48M1261.3 413.48L1260.8 413.48 1260.3 413.48M1222.3 410.93L1220.3 410.76M1302.8 412.26L1300.3 412.39M1222.3 412.28L1220.3 412.17M1302.8 413.63L1300.8 413.67M1222.3 413.61L1219.8 413.56M1302.8 415L1300.8 414.97M1222.3 414.94L1219.8 414.98M1302.8 416.37L1300.3 416.25M1263.8 414.92L1263.3 414.92 1262.8 414.92M1222.3 416.27L1220.3 416.37M1302.8 417.75L1300.3 417.54M1261.3 415.27L1260.8 415.28 1260.3 415.28M1222.3 417.62L1220.3 417.78M1302.3 419.09L1300.3 418.85M1263.3 415.64L1262.8 415.63 1262.3 415.63M1261.8 415.63L1261.3 415.63 1260.8 415.64M1222.8 418.91L1220.3 419.2M1302.3 420.48L1299.8 420.11M1222.8 420.28L1220.8 420.58M1301.8 421.82L1299.8 421.44M1223.3 421.57L1220.8 422.04M1301.3 423.15L1299.3 422.71M1223.3 422.97L1221.39 423.4M1300.8 424.5L1298.8 423.97M1223.8 424.29L1221.8 424.82M1300.3 425.85L1298.3 425.25M1224.3 425.62L1222.3 426.23M1299.8 427.23L1297.8 426.54M1225.03 426.9L1222.8 427.67M1299.3 428.65L1297.38 427.9M1225.8 428.17L1223.93 428.9M1298.3 429.9L1296.3 429.02M1226.72 429.4L1224.8 430.24M1297.3 431.16L1295.75 430.4M1227.3 430.82L1225.3 431.79M1296.21 432.4L1294.38 431.4M1228.3 432.07L1226.8 432.89M1295.3 433.79L1293.3 432.57M1229.8 433.07L1227.8 434.28M1293.8 434.87L1292.38 433.9M1230.8 434.4L1229.33 435.4M1292.2 435.9L1290.89 434.9M1232.3 435.47L1230.8 436.6M1290.8 437.16L1289.34 435.9M1233.8 436.59L1232.3 437.87M1288.73 437.9L1287.7 436.9M1235.73 437.4L1234.3 438.79M1286.8 438.86L1285.5 437.4M1237.8 438.13L1236.8 439.26M1284.3 439.27L1283.3 437.93M1240.3 438.4L1239.18 439.9M1281.58 439.4L1280.97 438.4M1242.69 438.9L1241.8 440.37M1278.73 439.4L1278.04 437.9M1245.7 438.4L1245.02 439.9M1248.96 436.9L1248.52 438.4" stroke="#08fb4f"/>
<path d="M1275.14 391.4L1274.8 392.58M1249.13 392.4L1248.99 391.9 1248.85 391.4M1277.98 390.9L1277.52 391.9M1246.23 391.4L1246 390.9 1245.8 390.46M1280.58 390.9L1279.97 391.9M1243.71 391.4L1242.8 389.9M1283.18 390.9L1282.3 392.07M1241.3 391.54L1240.44 390.4M1285.3 391.49L1284.3 392.62M1239.3 392.17L1238.3 391.04M1287.04 392.4L1286.02 393.4M1237.3 392.73L1236.45 391.9M1288.59 393.4L1287.42 394.4M1235.8 393.72L1234.3 392.43M1290.04 394.4L1288.8 395.34M1234.3 394.64L1232.8 393.49M1291.42 395.4L1290.3 396.16M1233.3 395.88L1231.87 394.9M1292.77 396.4L1291.3 397.3M1232.08 396.9L1230.45 395.9M1293.8 397.56L1292.3 398.39M1230.8 397.87L1229.3 397.04M1294.8 398.71L1292.8 399.7M1230.3 399.23L1228.62 398.4M1295.3 400.06L1293.8 400.72M1229.3 400.3L1227.8 399.64M1296.3 401.16L1294.44 401.9M1228.36 401.4L1226.8 400.78M1296.8 402.45L1295.3 402.97M1227.8 402.63L1226.3 402.1M1297.3 403.7L1295.8 404.16M1227.3 403.86L1225.8 403.39M1297.8 404.94L1296.3 405.34M1226.8 405.07L1224.8 404.53M1298.3 406.16L1296.3 406.62M1226.3 406.27L1224.8 405.92M1298.72 407.4L1296.8 407.77M1262.3 412.4L1261.8 412.4 1261.31 412.4M1226.3 407.56L1224.3 407.18M1298.8 408.69L1297.3 408.92M1225.8 408.75L1223.8 408.43M1299.3 409.91L1297.3 410.15M1263.8 413.11L1263.3 413.12 1262.8 413.12M1225.8 410.01L1223.8 409.76M1299.3 411.18L1297.3 411.36M1225.3 411.2L1223.3 411.02M1299.3 412.44L1297.8 412.52M1260.8 413.84L1260.3 413.84 1259.8 413.83M1225.3 412.44L1223.3 412.33M1299.8 413.69L1297.8 413.72M1260.8 414.2L1260.3 414.2 1259.8 414.2M1225.3 413.67L1223.3 413.63M1299.8 414.95L1297.8 414.92M1260.8 414.56L1260.3 414.56 1259.8 414.56M1225.27 414.9L1223.3 414.93M1299.3 416.2L1297.8 416.13M1225.3 416.13L1223.3 416.23M1299.3 417.46L1297.3 417.3M1225.3 417.37L1223.3 417.53M1299.3 418.74L1297.3 418.5M1263.8 415.64L1263.3 415.64 1262.8 415.63M1261.3 415.63L1260.8 415.64 1260.3 415.64M1225.8 418.57L1223.8 418.8M1298.8 419.95L1297.3 419.73M1263.3 416L1262.8 416 1262.3 415.99M1261.8 415.99L1261.3 415.99 1260.8 416M1225.8 419.82L1223.8 420.12M1298.8 421.26L1296.9 420.9M1226.3 421.01L1224.3 421.38M1298.3 422.48L1296.8 422.14M1226.3 422.3L1224.8 422.64M1297.8 423.71L1296.3 423.31M1226.8 423.5L1224.8 424.03M1297.3 424.94L1295.8 424.49M1227.3 424.72L1225.3 425.32M1296.8 426.2L1295.3 425.68M1227.8 425.94L1226.3 426.46M1296.1 427.4L1294.8 426.9M1228.3 427.2L1226.8 427.78M1295.8 428.8L1293.8 427.93M1229.3 428.27L1227.3 429.15M1294.73 429.9L1293.3 429.2M1230.19 429.4L1228.3 430.33M1293.8 431.09L1292.3 430.27M1230.8 430.71L1229.53 431.4M1292.8 432.27L1291.37 431.4M1231.8 431.85L1230.3 432.77M1291.64 433.4L1290.3 432.49M1233.02 432.9L1231.8 433.73M1290.23 434.4L1288.91 433.4M1234.3 433.95L1233.04 434.9M1288.75 435.4L1287.59 434.4M1235.77 434.9L1234.6 435.9M1287.19 436.4L1286.16 435.4M1237.3 435.87L1236.3 436.84M1285.3 437.17L1284.3 436.05M1239.78 435.9L1238.3 437.57M1283.28 437.9L1282.3 436.61M1241.3 437.08L1240.3 438.4M1280.66 437.9L1280.05 436.9M1243.61 437.4L1243 438.4M1278.04 437.9L1277.58 436.9M1246.3 437.11L1245.8 438.19M1275.03 436.9L1274.88 436.4 1274.8 436.11M1249.24 435.9L1248.81 437.4M1260.8 414.38L1260.3 414.38 1259.8 414.38" stroke="#02fe10"/>
<path d="M1274.85 392.4L1274.56 393.4M1249.27 392.9L1249.13 392.4 1248.99 391.9M1277.75 391.4L1277.52 391.9 1277.3 392.37M1246.46 391.9L1246 390.9M1280.28 391.4L1279.67 392.4M1244.01 391.9L1243.4 390.9M1282.43 391.9L1281.8 392.73M1241.8 392.21L1241.19 391.4M1284.5 392.4L1283.61 393.4M1239.8 392.73L1239.06 391.9M1286.3 393.13L1285.3 394.1M1238.3 393.71L1236.96 392.4M1287.8 394.07L1286.84 394.9M1236.58 394.4L1235.42 393.4M1289.3 394.96L1288.07 395.9M1235.29 395.4L1233.98 394.4M1290.69 395.9L1289.3 396.85M1234.06 396.4L1232.8 395.53M1291.8 396.99L1290.32 397.9M1232.89 397.4L1231.8 396.73M1292.8 398.11L1291.37 398.9M1232.3 398.7L1230.3 397.59M1293.3 399.45L1291.8 400.19M1231.3 399.73L1229.8 398.98M1294.3 400.5L1292.8 401.17M1230.3 400.75L1228.8 400.08M1294.8 401.75L1293.3 402.35M1229.63 401.9L1228.3 401.37M1295.51 402.9L1294.08 403.4M1229.3 403.15L1227.3 402.45M1296.3 404.01L1294.3 404.62M1228.8 404.32L1226.8 403.7M1296.8 405.2L1294.8 405.74M1228.03 405.4L1226.3 404.93M1296.8 406.51L1295.3 406.85M1227.8 406.61L1225.8 406.15M1297.3 407.67L1295.8 407.96M1263.3 412.39L1261.8 412.4M1261.8 412.4L1260.8 412.39M1227.3 407.76L1225.8 407.47M1297.45 408.9L1295.8 409.16M1263.8 412.75L1263.3 412.76 1262.8 412.76M1261.3 412.76L1260.8 412.76 1260.3 412.75M1227.3 408.99L1225.3 408.67M1297.8 410.09L1296.3 410.27M1226.8 410.13L1225.3 409.94M1297.8 411.31L1296.3 411.44M1260.8 413.48L1260.3 413.48 1259.8 413.47M1226.8 411.33L1224.8 411.15M1298.3 412.5L1296.3 412.6M1264.3 413.83L1263.8 413.84 1263.3 413.84M1226.8 412.52L1224.8 412.41M1298.3 413.71L1296.3 413.75M1264.3 414.2L1263.8 414.2 1263.3 414.2M1226.8 413.7L1224.8 413.66M1298.3 414.93L1296.3 414.9M1264.3 414.56L1263.8 414.56 1263.3 414.56M1226.8 414.88L1224.8 414.91M1298.3 416.15L1296.3 416.05M1264.3 414.92L1263.8 414.92 1263.3 414.92M1260.8 414.92L1260.3 414.92 1259.8 414.92M1226.8 416.06L1224.8 416.16M1297.8 417.34L1296.3 417.21M1226.8 417.25L1224.94 417.4M1297.8 418.56L1296.3 418.38M1226.8 418.45L1225.3 418.62M1297.8 419.8L1295.8 419.5M1227.3 419.59L1225.3 419.9M1297.3 420.97L1295.8 420.69M1227.3 420.82L1225.8 421.1M1297.3 422.26L1295.3 421.81M1227.8 421.96L1225.86 422.4M1296.64 423.4L1294.8 422.92M1228.3 423.11L1226.3 423.64M1296.3 424.64L1294.3 424.03M1228.8 424.26L1226.8 424.87M1295.8 425.85L1293.8 425.16M1229.3 425.43L1227.3 426.12M1294.81 426.9L1293.53 426.4M1229.8 426.62L1227.8 427.39M1294.3 428.15L1292.8 427.49M1230.3 427.84L1229.01 428.4M1293.71 429.4L1291.8 428.47M1231.22 428.9L1229.8 429.59M1292.54 430.4L1291.3 429.72M1232.28 429.9L1230.45 430.9M1291.8 431.66L1290.3 430.75M1232.8 431.25L1231.72 431.9M1290.8 432.83L1289.43 431.9M1234.3 432.03L1232.8 433.05M1289.3 433.7L1288.25 432.9M1235.3 433.19L1233.8 434.33M1287.8 434.59L1286.8 433.73M1236.8 434.02L1235.3 435.3M1286.3 435.54L1285.3 434.57M1238.3 434.9L1237.27 435.9M1284.61 436.4L1283.72 435.4M1282.52 436.9L1281.8 435.94M1241.8 436.41L1241.05 437.4M1280.3 437.31L1279.43 435.9M1244.22 436.4L1243.3 437.9M1277.8 437.38L1277.3 436.31M1246.63 436.4L1246.16 437.4M1274.88 436.4L1274.59 435.4M1264.3 414.38L1263.8 414.38 1263.3 414.38" stroke="#0dff00"/>
<path d="M1274.71 392.9L1274.3 394.21M1249.56 393.9L1249.27 392.9M1277.29 392.4L1277.05 392.9 1276.82 393.4M1247.16 393.4L1246.69 392.4M1279.67 392.4L1278.8 393.79M1244.8 393.18L1244.63 392.9 1244.32 392.4M1281.67 392.9L1280.91 393.9M1283.3 393.74L1282.3 394.85M1241.29 394.4L1240.3 393.3M1284.8 394.59L1283.96 395.4M1239.52 394.9L1238.49 393.9M1286.26 395.4L1285.3 396.21M1238.3 395.87L1237.17 394.9M1287.8 396.1L1286.3 397.24M1236.8 396.55L1235.94 395.9M1288.8 397.19L1287.75 397.9M1235.8 397.58L1234.8 396.9M1289.8 398.21L1288.67 398.9M1234.8 398.56L1233.71 397.9M1290.46 399.4L1289.54 399.9M1234.3 399.79L1232.8 398.97M1291.3 400.44L1289.8 401.17M1233.3 400.71L1231.8 399.97M1292.27 401.4L1290.8 402.04M1232.8 401.85L1231.3 401.19M1292.8 402.54L1291.3 403.13M1231.8 402.75L1230.3 402.16M1293.3 403.67L1291.8 404.19M1231.3 403.85L1230 403.4M1293.8 404.78L1292.3 405.23M1230.8 404.94L1229.3 404.47M1294.2 405.9L1292.8 406.27M1230.3 406.01L1228.8 405.6M1294.8 406.96L1292.89 407.4M1262.8 412.03L1260.8 412.03M1230.3 407.19L1228.3 406.73M1294.8 408.15L1293.51 408.4M1263.8 412.38L1263.3 412.39 1262.8 412.4M1261.3 412.4L1260.8 412.39 1260.3 412.39M1229.8 408.24L1228.3 407.95M1295.3 409.24L1293.8 409.47M1260.8 412.76L1260.3 412.75 1259.8 412.74M1229.8 409.38L1227.8 409.06M1295.23 410.4L1293.8 410.57M1264.3 413.11L1263.8 413.11 1263.3 413.12M1229.3 410.43L1227.8 410.25M1295.3 411.53L1293.8 411.66M1229.3 411.55L1227.8 411.42M1295.8 412.63L1293.8 412.73M1229.3 412.65L1227.3 412.55M1295.8 413.76L1293.8 413.8M1229.3 413.75L1227.3 413.71M1295.8 414.9L1293.8 414.87M1229.3 414.84L1227.3 414.87M1295.8 416.03L1293.8 415.93M1229.3 415.94L1227.3 416.04M1295.3 417.13L1293.8 417.01M1229.3 417.04L1227.8 417.17M1295.3 418.27L1293.8 418.09M1264.3 415.65L1263.8 415.64 1263.3 415.64M1260.8 415.64L1260.3 415.64 1259.8 415.65M1229.3 418.16L1227.8 418.33M1295.16 419.4L1293.8 419.2M1229.8 419.22L1227.8 419.52M1294.8 420.51L1293.3 420.23M1229.8 420.35L1228.3 420.63M1294.8 421.69L1293.3 421.36M1230.3 421.41L1228.3 421.85M1294.3 422.79L1292.83 422.4M1230.3 422.59L1229.1 422.9M1293.8 423.88L1292.3 423.43M1230.8 423.66L1229.3 424.11M1293.3 424.99L1291.8 424.48M1231.3 424.74L1229.8 425.26M1292.8 426.12L1291.3 425.54M1231.8 425.84L1230.35 426.4M1292.3 427.27L1290.8 426.62M1232.3 426.97L1230.8 427.62M1291.3 428.23L1290.3 427.74M1233.27 427.9L1231.8 428.62M1290.71 429.4L1289.3 428.64M1233.8 429.08L1232.8 429.62M1289.72 430.4L1288.3 429.55M1234.8 430.04L1233.37 430.9M1288.69 431.4L1287.3 430.47M1235.8 431.02L1234.49 431.9M1287.59 432.4L1286.3 431.43M1236.8 432.06L1235.8 432.81M1286.3 433.31L1285.3 432.46M1238.11 432.9L1236.94 433.9M1285.13 434.4L1284.09 433.4M1239.8 433.45L1238.3 434.9M1241.13 434.4L1240.3 435.32M1281.77 435.9L1280.8 434.64M1242.8 435.1L1242.19 435.9M1279.74 436.4L1278.8 434.9M1244.8 435.47L1244.53 435.9 1244.3 436.27M1247.1 435.4L1246.63 436.4M1274.59 435.4L1274.43 434.9 1274.3 434.51M1249.53 434.9L1249.39 435.4 1249.3 435.7" stroke="#40ff00"/>
<path d="M1274.4 393.9L1274.3 394.21 1274.24 394.4M1249.71 394.4L1249.56 393.9 1249.42 393.4M1277.05 392.9L1276.58 393.9M1247.3 393.69L1247.16 393.4 1246.92 392.9M1245.25 393.9L1244.63 392.9M1281.29 393.4L1280.53 394.4M1243.3 394.19L1242.32 392.9M1241.74 394.9L1240.84 393.9M1284.3 395.07L1283.44 395.9M1240.04 395.4L1239.3 394.68M1285.67 395.9L1284.8 396.63M1238.8 396.29L1237.8 395.44M1286.75 396.9L1285.8 397.61M1237.8 397.31L1236.6 396.4M1287.8 397.87L1287.01 398.4M1236.8 398.26L1235.53 397.4M1288.8 398.82L1287.85 399.4M1235.8 399.17L1234.53 398.4M1289.8 399.76L1288.62 400.4M1234.8 400.07L1233.8 399.52M1290.3 400.93L1289.8 401.17 1289.33 401.4M1234.3 401.2L1232.8 400.47M1291.14 401.9L1289.99 402.4M1233.3 402.07L1232.3 401.63M1291.8 402.94L1290.61 403.4M1232.8 403.15L1231.3 402.56M1292.3 404.02L1290.8 404.54M1232.3 404.2L1230.8 403.68M1292.8 405.08L1291.3 405.54M1231.8 405.24L1230.68 404.9M1293.3 406.14L1291.8 406.54M1231.78 406.4L1229.9 405.9M1293.3 407.31L1291.8 407.65M1263.3 412.03L1262.8 412.03 1262.3 412.04M1231.23 407.4L1229.8 407.07M1293.8 408.34L1292.3 408.63M1230.8 408.43L1229.3 408.14M1294.25 409.4L1292.3 409.7M1264.3 412.74L1263.8 412.75 1263.3 412.76M1230.8 409.53L1229.3 409.3M1294.3 410.51L1292.8 410.69M1230.8 410.61L1229.04 410.4M1294.3 411.61L1292.8 411.74M1260.3 413.48L1259.8 413.47 1259.3 413.46M1230.3 411.63L1228.8 411.5M1294.3 412.71L1292.8 412.78M1260.3 413.84L1259.8 413.83 1259.3 413.83M1230.3 412.7L1228.8 412.62M1294.3 413.79L1292.8 413.82M1260.3 414.2L1259.8 414.2 1259.3 414.19M1230.3 413.77L1228.8 413.74M1294.3 414.87L1292.8 414.85M1260.3 414.56L1259.8 414.56 1259.3 414.56M1230.3 414.83L1228.8 414.85M1294.3 415.96L1293.11 415.9M1260.3 414.92L1259.8 414.92 1259.3 414.92M1230.14 415.9L1228.8 415.96M1294.3 417.05L1292.8 416.93M1230.3 416.96L1228.8 417.09M1294.3 418.15L1292.8 417.98M1230.3 418.04L1228.8 418.22M1294.3 419.27L1292.3 418.97M1260.8 416L1260.3 416 1259.8 416.01M1230.8 419.07L1229.3 419.29M1293.8 420.32L1292.3 420.04M1263.8 416.37L1263.3 416.36 1262.8 416.36M1261.3 416.36L1260.8 416.36 1260.3 416.37M1230.8 420.17L1229.54 420.4M1293.49 421.4L1291.8 421.02M1231.3 421.18L1229.8 421.52M1293.3 422.52L1291.8 422.13M1231.8 422.2L1229.8 422.72M1292.8 423.58L1291.3 423.13M1231.8 423.36L1230.3 423.81M1292.3 424.65L1290.8 424.14M1232.29 424.4L1230.83 424.9M1291.8 425.73L1290.3 425.15M1232.8 425.45L1231.64 425.9M1291.3 426.84L1289.8 426.19M1233.3 426.53L1231.8 427.18M1290.63 427.9L1289.3 427.26M1234.3 427.4L1232.8 428.13M1289.78 428.9L1288.3 428.1M1234.8 428.54L1233.3 429.35M1288.8 429.85L1287.8 429.25M1235.8 429.44L1234.3 430.34M1236.73 430.4L1235.3 431.36M1286.8 431.81L1285.8 431.06M1237.67 431.4L1236.34 432.4M1285.8 432.88L1284.8 432.04M1239.3 431.9L1237.8 433.17M1284.3 433.6L1283.57 432.9M1240.3 432.97L1239.33 433.9M1283.27 434.9L1281.91 433.4M1241.58 433.9L1240.8 434.77M1281 434.9L1280.3 434M1243.3 434.45L1242.57 435.4M1245.16 434.9L1244.53 435.9M1277.11 435.9L1276.38 434.4M1247.3 434.97L1247.1 435.4 1246.86 435.9M1274.43 434.9L1274.09 433.9M1249.68 434.4L1249.53 434.9 1249.39 435.4M1264.8 414.38L1264.3 414.38 1263.8 414.38M1260.3 414.38L1259.8 414.38 1259.3 414.38" stroke="#59ff00"/>
<path d="M1274.3 394.21L1274.24 394.4 1274.06 394.9M1276.8 393.43L1276.58 393.9 1276.33 394.4M1247.4 393.9L1247.3 393.69 1247.16 393.4M1279.04 393.4L1278.3 394.57M1245.57 394.4L1244.94 393.4M1280.8 394.04L1280.14 394.9M1243.8 394.84L1243.08 393.9M1282.71 394.4L1281.34 395.9M1242.19 395.4L1241.3 394.42M1283.8 395.55L1282.91 396.4M1240.56 395.9L1239.8 395.17M1285.08 396.4L1283.89 397.4M1239.3 396.71L1238.34 395.9M1286.09 397.4L1285.3 397.99M1238.3 397.68L1237.3 396.93M1287.3 398.2L1286.3 398.87M1237.3 398.59L1236.3 397.92M1288.3 399.12L1287.01 399.9M1236.3 399.47L1235.35 398.9M1288.8 400.3L1287.8 400.84M1235.8 400.61L1234.49 399.9M1289.8 401.17L1288.3 401.9M1235.3 401.68L1233.8 400.96M1290.3 402.26L1288.84 402.9M1234.3 402.5L1232.91 401.9M1290.8 403.32L1289.32 403.9M1233.8 403.54L1232.3 402.95M1291.2 404.4L1289.8 404.88M1233.3 404.55L1231.8 404.03M1291.76 405.4L1290.3 405.84M1232.8 405.54L1231.3 405.09M1292.3 406.4L1290.8 406.8M1232.8 406.67L1231.3 406.27M1292.3 407.53L1290.8 407.87M1263.8 412.02L1263.3 412.03 1262.8 412.03M1261.3 412.04L1260.8 412.03 1260.3 412.02M1232.3 407.64L1230.8 407.3M1292.8 408.53L1291.3 408.82M1260.8 412.39L1260.3 412.39 1259.8 412.38M1231.8 408.62L1230.64 408.4M1292.8 409.62L1291.3 409.85M1231.8 409.69L1230.3 409.45M1293.3 410.63L1291.8 410.81M1260.3 413.11L1259.8 413.11 1259.3 413.1M1231.8 410.73L1230.3 410.55M1293.3 411.7L1291.8 411.83M1264.8 413.46L1264.3 413.47 1263.8 413.48M1231.3 411.72L1229.8 411.59M1293.3 412.76L1291.8 412.84M1264.8 413.83L1264.3 413.83 1263.8 413.84M1231.3 412.76L1229.8 412.68M1293.3 413.81L1291.8 413.84M1264.8 414.19L1264.3 414.2 1263.8 414.2M1231.3 413.79L1229.8 413.76M1293.3 414.86L1291.8 414.84M1264.8 414.56L1264.3 414.56 1263.8 414.56M1231.3 414.82L1229.8 414.84M1293.3 415.91L1291.8 415.84M1264.8 414.92L1264.3 414.92 1263.8 414.92M1231.3 415.85L1229.8 415.92M1293.3 416.97L1291.8 416.84M1264.8 415.29L1264.3 415.28 1263.8 415.28M1260.3 415.28L1259.8 415.28 1259.3 415.29M1231.3 416.88L1229.8 417M1293.3 418.04L1291.8 417.86M1231.55 417.9L1229.8 418.1M1292.8 419.04L1291.3 418.82M1264.3 416.01L1263.8 416.01 1263.3 416M1231.8 418.92L1230.3 419.14M1292.8 420.13L1291.55 419.9M1231.8 419.98L1230.3 420.26M1292.3 421.14L1291.8 421.02 1291.3 420.91M1263.3 416.73L1260.8 416.73M1232.3 420.96L1230.8 421.29M1292.3 422.26L1290.9 421.9M1232.3 422.07L1231.8 422.2 1231.3 422.33M1291.8 423.28L1290.53 422.9M1232.8 423.06L1231.66 423.4M1291.3 424.31L1290.11 423.9M1233.3 424.06L1231.8 424.57M1290.8 425.34L1289.65 424.9M1233.8 425.07L1232.3 425.65M1290.29 426.4L1289.13 425.9M1234.3 426.1L1232.8 426.75M1289.6 427.4L1288.56 426.9M1234.8 427.16L1233.8 427.65M1288.8 428.37L1288.3 428.1 1287.92 427.9M1235.8 428L1234.3 428.81M1288.06 429.4L1286.8 428.65M1236.3 429.14L1235.3 429.74M1287.8 430.81L1286.3 429.81M1237.3 430.02L1236.3 430.69M1286.26 431.4L1285.3 430.69M1238.8 430.56L1237.3 431.68M1285.23 432.4L1284.3 431.63M1283.8 433.13L1283.04 432.4M1240.8 432.5L1239.85 433.4M1282.3 433.83L1281.45 432.9M1242.04 433.4L1241.3 434.21M1280.62 434.4L1279.83 433.4M1243.72 433.9L1242.95 434.9M1279.12 435.4L1278.3 434.12M1245.47 434.4L1244.84 435.4M1247.58 434.4L1247.1 435.4M1249.8 434.03L1249.68 434.4 1249.53 434.9" stroke="#73ff00"/>
<path d="M1274.24 394.4L1274.06 394.9 1273.89 395.4M1249.87 394.9L1249.8 394.68 1249.71 394.4M1276.3 394.46L1276.08 394.9 1275.82 395.4M1278.3 394.57L1278.09 394.9 1277.8 395.34M1246.21 395.4L1245.57 394.4M1279.8 395.33L1279.75 395.4 1279.35 395.9M1244.64 395.9L1243.85 394.9M1281.8 395.4L1280.8 396.48M1243.11 396.4L1242.3 395.51M1282.8 396.5L1281.85 397.4M1241.62 396.9L1240.8 396.12M1284.3 397.05L1282.8 398.3M1240.72 397.9L1239.8 397.13M1239.8 398.79L1238.8 398.05M1285.8 399.2L1284.8 399.86M1238.8 399.59L1237.8 398.93M1286.8 400.03L1285.32 400.9M1237.8 400.37L1237.3 400.07 1237.01 399.9M1287.3 401.11L1286.3 401.64M1237.28 401.4L1235.8 400.61M1288.29 401.9L1286.8 402.61M1236.78 402.4L1235.3 401.68M1288.8 402.92L1287.3 403.56M1236.3 403.37L1234.8 402.72M1289.3 403.91L1288.01 404.4M1235.8 404.31L1234.3 403.73M1289.74 404.9L1288.3 405.39M1235.3 405.23L1233.8 404.72M1289.8 405.99L1289.3 406.14 1288.8 406.29M1234.8 406.15L1233.3 405.7M1290.3 406.93L1288.8 407.32M1261.3 411.67L1260.8 411.66 1260.3 411.65M1234.3 407.06L1232.8 406.67M1290.67 407.9L1289.3 408.2M1264.3 412L1263.8 412.02 1263.3 412.03M1260.8 412.03L1260.3 412.02 1259.8 412.01M1234.3 408.09L1232.8 407.75M1290.8 408.91L1289.3 409.19M1260.3 412.39L1259.8 412.38 1259.3 412.36M1233.8 409L1232.3 408.72M1291 409.9L1289.8 410.08M1264.8 412.73L1264.3 412.74 1263.8 412.75M1233.8 409.99L1232.3 409.76M1291.04 410.9L1289.8 411.05M1233.3 410.91L1232.3 410.79M1291.3 411.87L1289.8 412M1233.3 411.89L1231.8 411.76M1291.3 412.86L1289.8 412.94M1259.8 413.83L1259.3 413.83 1258.8 413.82M1233.3 412.86L1231.8 412.78M1291.3 413.85L1290.8 413.86 1290.3 413.86M1259.8 414.2L1259.3 414.19 1258.8 414.19M1233.3 413.83L1231.8 413.8M1291.3 414.83L1290.8 414.82 1290.3 414.81M1259.8 414.56L1259.3 414.56 1258.8 414.56M1233.3 414.79L1231.8 414.81M1291.3 415.81L1289.8 415.74M1259.8 414.92L1259.3 414.92 1258.8 414.93M1233.3 415.75L1231.8 415.82M1291.3 416.8L1289.8 416.68M1233.3 416.72L1231.8 416.84M1291.3 417.8L1289.8 417.63M1233.3 417.7L1232.8 417.76 1232.3 417.81M1291.3 418.82L1289.8 418.6M1264.8 416.02L1264.3 416.01 1263.8 416.01M1260.3 416L1259.8 416.01 1259.3 416.02M1233.8 418.62L1232.3 418.84M1290.8 419.76L1289.3 419.49M1233.8 419.61L1232.3 419.89M1290.8 420.8L1289.3 420.47M1234.3 420.52L1232.8 420.85M1290.3 421.75L1288.96 421.4M1262.8 417.09L1260.8 417.1M1234.3 421.55L1232.94 421.9M1289.8 422.69L1289.3 422.54 1288.84 422.4M1234.8 422.47L1233.33 422.9M1289.8 423.8L1288.3 423.29M1235.25 423.4L1233.8 423.89M1289.3 424.77L1287.8 424.2M1235.3 424.5L1234.8 424.69 1234.3 424.88M1288.8 425.76L1287.3 425.12M1235.8 425.46L1235.3 425.67 1234.8 425.89M1288.3 426.78L1286.8 426.07M1236.4 426.4L1235.35 426.9M1287.3 427.57L1286.3 427.04M1237.3 427.21L1235.99 427.9M1286.8 428.65L1285.53 427.9M1237.8 428.25L1236.8 428.84M1285.69 429.4L1285.3 429.15 1284.93 428.9M1238.8 429.03L1237.8 429.69M1239.7 429.9L1238.34 430.9M1283.8 431.21L1282.81 430.4M1240.51 430.9L1239.8 431.49M1282.8 432.18L1281.97 431.4M1241.8 431.56L1240.9 432.4M1243.3 432.04L1242.3 433.12M1280.23 433.9L1279.3 432.74M1244.3 433.17L1244.12 433.4 1243.8 433.81M1246.12 433.4L1245.47 434.4M1276.3 434.24L1276.13 433.9 1275.87 433.4M1248.08 433.4L1247.58 434.4M1291.3 414.34L1290.8 414.34 1290.3 414.34M1259.8 414.38L1259.3 414.38 1258.8 414.38M1233.3 414.31L1232.8 414.3 1232.3 414.3" stroke="#a6ff00"/>
<path d="M1274.06 394.9L1273.71 395.9M1276.08 394.9L1275.56 395.9M1248.3 395.7L1248.14 395.4 1247.89 394.9M1277.76 395.4L1277.09 396.4M1246.8 396.27L1245.89 394.9M1279.3 395.96L1278.54 396.9M1245.3 396.72L1244.3 395.47M1280.8 396.48L1279.93 397.4M1243.8 397.12L1243.11 396.4M1242.69 397.9L1241.8 397.07M1283.28 397.9L1282.06 398.9M1241.8 398.78L1240.8 397.96M1283.8 399.09L1282.8 399.82M1240.63 399.4L1240.3 399.16 1239.94 398.9M1284.75 399.9L1283.8 400.51M1285.8 400.62L1284.47 401.4M1239.3 401.25L1238.3 400.66M1238.8 402.2L1237.3 401.41M1286.8 402.61L1285.3 403.32M1238.3 403.12L1236.8 402.41M1287.3 403.56L1285.8 404.19M1237.55 403.9L1236.37 403.4M1287.8 404.48L1286.3 405.04M1237.3 404.88L1236.04 404.4M1287.8 405.56L1287.3 405.72 1286.8 405.89M1236.8 405.74L1235.3 405.23M1288.3 406.44L1287.8 406.59 1287.3 406.73M1263.3 411.29L1260.3 411.28M1236.3 406.59L1235.3 406.3M1288.49 407.4L1287.3 407.7M1264.3 411.63L1263.8 411.65 1263.3 411.66M1260.8 411.66L1260.3 411.65 1259.8 411.64M1236.3 407.58L1234.8 407.19M1288.8 408.32L1287.8 408.53M1260.3 412.02L1259.8 412.01 1259.3 411.99M1235.69 408.4L1234.3 408.09M1289.3 409.19L1287.8 409.47M1235.8 409.37L1234.3 409.09M1289.3 410.16L1287.8 410.38M1259.8 412.74L1259.3 412.73 1258.8 412.72M1235.3 410.22L1234.8 410.14 1234.3 410.07M1289.3 411.1L1288.8 411.16 1288.3 411.22M1265.3 413.09L1264.8 413.1 1264.3 413.11M1235.3 411.15L1233.8 410.97M1289.8 412L1288.3 412.12M1235.3 412.06L1233.8 411.93M1289.8 412.94L1288.3 413.01M1235.3 412.96L1233.8 412.89M1289.8 413.87L1288.3 413.9M1235.3 413.86L1233.8 413.83M1289.8 414.81L1288.3 414.78M1234.8 414.77L1234.3 414.77 1233.8 414.78M1289.8 415.74L1288.3 415.67M1235.3 415.66L1233.8 415.73M1289.8 416.68L1288.3 416.56M1235.3 416.56L1233.8 416.68M1289.3 417.58L1288.8 417.52 1288.3 417.46M1265.3 415.67L1264.8 415.66 1264.3 415.65M1259.8 415.65L1259.3 415.65 1258.8 415.66M1235.3 417.47L1233.8 417.64M1289.3 418.52L1287.8 418.3M1259.8 416.01L1259.3 416.02 1258.8 416.03M1235.3 418.4L1233.8 418.62M1289.3 419.49L1287.8 419.22M1235.8 419.25L1234.3 419.52M1288.8 420.37L1288.3 420.26 1287.8 420.15M1235.8 420.2L1234.3 420.52M1288.8 421.36L1287.3 420.98M1235.8 421.17L1235.3 421.3 1234.89 421.4M1288.3 422.24L1287.8 422.1 1287.3 421.95M1236.3 422.03L1235.02 422.4M1287.8 423.13L1286.8 422.79M1236.75 422.9L1235.3 423.38M1287.8 424.2L1286.3 423.64M1236.89 423.9L1235.8 424.31M1287.3 425.12L1285.8 424.5M1237.3 424.83L1236.3 425.25M1286.45 425.9L1285.38 425.4M1237.8 425.74L1236.8 426.21M1238.8 426.42L1237.3 427.21M1285.3 427.77L1284.3 427.19M1239.25 427.4L1238.3 427.96M1284.8 428.82L1283.8 428.17M1283.8 429.59L1282.84 428.9M1240.8 429.11L1239.8 429.83M1283.3 430.8L1281.8 429.59M1241.74 429.9L1240.8 430.66M1281.8 431.25L1280.87 430.4M1242.51 430.9L1242.3 431.1 1241.97 431.4M1280.51 431.9L1280.3 431.68 1280.04 431.4M1243.8 431.52L1242.96 432.4M1279.3 432.74L1278.62 431.9M1245.3 431.93L1244.51 432.9M1277.8 433.35L1277.16 432.4M1246.79 432.4L1246.12 433.4M1289.8 414.34L1288.3 414.34M1234.8 414.31L1234.3 414.31 1233.8 414.31" stroke="#d9ff00"/>
<path d="M1273.8 395.64L1273.71 395.9 1273.52 396.4M1250.42 396.4L1250.3 396.09 1250.22 395.9M1277.3 396.09L1277.09 396.4 1276.8 396.82M1247.23 396.9L1246.54 395.9M1278.8 396.57L1278.12 397.4M1245.8 397.32L1245.04 396.4M1279.8 397.53L1278.96 398.4M1244.8 398.16L1243.8 397.12M1243.8 398.9L1242.8 397.99M1281.8 399.1L1280.8 399.9M1242.57 399.4L1242.3 399.18 1241.94 398.9M1282.69 399.9L1282.3 400.17 1281.99 400.4M1241.8 400.24L1240.8 399.52M1283.3 400.83L1282.41 401.4M1241.3 401.2L1240.3 400.57M1284.3 401.5L1283.3 402.07M1284.8 402.43L1283.8 402.94M1239.8 402.72L1238.8 402.2M1285.13 403.4L1284.8 403.55 1284.3 403.78M1239.3 403.58L1238.3 403.12M1285.8 404.19L1284.8 404.6M1238.74 404.4L1238.3 404.21 1237.8 404M1286.3 405.04L1284.8 405.6M1238.7 405.4L1237.36 404.9M1286.3 406.06L1285.8 406.22 1285.3 406.38M1238.3 406.23L1236.8 405.74M1286.73 406.9L1286.3 407.02 1285.8 407.17M1264.3 411.26L1263.8 411.28 1263.3 411.29M1260.8 411.29L1260.3 411.28 1259.8 411.26M1237.8 407.03L1236.8 406.74M1287.3 407.7L1285.8 408.08M1264.8 411.61L1264.3 411.63 1263.8 411.65M1260.3 411.65L1259.8 411.64 1259.3 411.62M1237.56 407.9L1236.3 407.58M1287.3 408.64L1286.8 408.75 1286.3 408.86M1259.8 412.01L1259.3 411.99 1258.8 411.97M1237.3 408.75L1236.8 408.64 1236.3 408.53M1287.3 409.56L1286.8 409.65 1286.3 409.74M1265.3 412.34L1264.8 412.36 1264.3 412.37M1237.3 409.64L1235.96 409.4M1287.67 410.4L1286.3 410.6M1236.8 410.44L1235.8 410.3M1287.8 411.28L1287.3 411.33 1286.8 411.39M1259.3 413.1L1258.8 413.09 1258.3 413.08M1236.8 411.32L1236.3 411.26 1235.8 411.2M1287.8 412.16L1287.3 412.2 1286.8 412.24M1265.8 413.45L1265.3 413.46 1264.8 413.46M1259.3 413.46L1258.8 413.46 1258.3 413.45M1236.8 412.18L1235.3 412.06M1287.8 413.04L1287.3 413.06 1286.8 413.09M1265.8 413.82L1265.3 413.82 1264.8 413.83M1236.8 413.04L1235.3 412.96M1287.8 413.91L1287.3 413.92 1286.8 413.93M1265.8 414.19L1265.3 414.19 1264.8 414.19M1236.8 413.89L1235.3 413.86M1287.8 414.78L1287.3 414.77 1286.8 414.76M1265.8 414.56L1265.3 414.56 1264.8 414.56M1236.8 414.74L1235.3 414.76M1287.8 415.65L1287.3 415.63 1286.8 415.6M1265.8 414.93L1265.3 414.93 1264.8 414.92M1236.8 415.59L1235.3 415.66M1287.8 416.52L1287.3 416.49 1286.8 416.45M1265.8 415.3L1265.3 415.3 1264.8 415.29M1259.3 415.29L1258.8 415.29 1258.3 415.3M1236.8 416.45L1235.3 416.56M1287.73 417.4L1287.3 417.35 1286.8 417.3M1259.3 415.65L1258.8 415.66 1258.3 415.67M1236.8 417.31L1235.8 417.42M1287.8 418.3L1286.3 418.09M1236.8 418.18L1236.3 418.26 1235.8 418.33M1287.8 419.22L1286.3 418.95M1265.03 416.4L1264.8 416.39 1264.3 416.38M1237.3 418.99L1235.8 419.25M1287.3 420.04L1286.3 419.83M1237.19 419.9L1236.8 419.98 1236.3 420.09M1286.98 420.9L1285.8 420.61M1264.8 417.14L1264.3 417.12 1263.8 417.11M1260.3 417.11L1259.8 417.12 1259.3 417.14M1237.8 420.67L1236.3 421.04M1286.8 421.81L1286.3 421.66 1285.8 421.52M1263.8 417.48L1263.3 417.47 1262.8 417.46M1261.3 417.46L1260.8 417.47 1260.3 417.48M1238.3 421.45L1236.8 421.88M1238.28 422.4L1236.8 422.89M1286.3 423.64L1284.8 423.09M1238.3 423.38L1237.3 423.75M1285.57 424.4L1285.3 424.29 1284.8 424.08M1239.3 424L1237.8 424.62M1285.3 425.37L1284.8 425.14 1284.3 424.91M1239.3 425.05L1238.3 425.51M1284.8 426.26L1283.8 425.75M1239.8 425.91L1239.3 426.16 1238.84 426.4M1284.3 427.19L1283.3 426.62M1240.8 426.52L1239.3 427.37M1241.3 427.43L1240.3 428.06M1282.8 428.87L1281.8 428.17M1241.79 428.4L1240.8 429.11M1282.2 429.9L1280.94 428.9M1242.8 429.06L1241.8 429.85M1281.3 430.79L1280.32 429.9M1243.62 429.9L1242.8 430.64M1279.8 431.16L1279.55 430.9 1279.3 430.65M1244.8 430.49L1243.91 431.4M1278.62 431.9L1277.8 430.92M1248.8 432.06L1248.61 432.4 1248.34 432.9M1287.8 414.34L1287.3 414.34 1286.8 414.34M1265.8 414.37L1265.3 414.38 1264.8 414.38M1236.8 414.31L1235.3 414.31" stroke="#fff200"/>
<path d="M1273.71 395.9L1273.52 396.4 1273.32 396.9M1250.63 396.9L1250.42 396.4 1250.3 396.09M1249.25 397.4L1248.67 396.4M1278.12 397.4L1277.3 398.35M1246.73 398.4L1245.86 397.4M1279.3 398.05L1278.46 398.9M1245.3 398.66L1244.54 397.9M1280.2 398.9L1279.3 399.68M1281.3 399.5L1280.3 400.28M1243.8 400.36L1242.8 399.58M1281.8 400.53L1280.8 401.22M1243.3 401.28L1242.03 400.4M1242.3 401.83L1241.3 401.2M1282.8 402.35L1281.81 402.9M1241.8 402.67L1240.8 402.11M1241.13 403.4L1240.15 402.9M1240.8 404.27L1239.8 403.81M1284.3 404.81L1283.3 405.21M1240.3 405.04L1239.3 404.63M1284.8 405.6L1283.8 405.96M1239.8 405.8L1239.3 405.62 1238.8 405.43M1285.25 406.4L1283.8 406.87M1263.79 410.9L1263.3 410.91 1262.8 410.92M1260.8 410.92L1259.8 410.88M1239.8 406.72L1238.3 406.23M1285.3 407.31L1284.3 407.59M1264.8 411.24L1264.3 411.26 1263.8 411.28M1239.08 407.4L1238.8 407.32 1238.3 407.17M1285.8 408.08L1284.51 408.4M1265.3 411.59L1264.8 411.61 1264.3 411.63M1259.8 411.64L1259.3 411.62 1258.8 411.6M1285.8 408.97L1285.3 409.07 1284.8 409.18M1259.3 411.99L1258.8 411.97 1258.3 411.95M1239.3 409.18L1237.8 408.86M1286.3 409.74L1284.8 410.01M1265.8 412.32L1265.3 412.34 1264.8 412.36M1259.3 412.36L1258.8 412.35 1258.3 412.33M1238.73 409.9L1237.3 409.64M1286.3 410.6L1284.8 410.82M1238.3 410.66L1237.8 410.59 1237.3 410.52M1286.3 411.45L1285.8 411.5 1285.3 411.56M1238.3 411.49L1237.3 411.38M1286.3 412.28L1285.8 412.32 1285.3 412.36M1258.8 413.46L1258.3 413.45 1257.8 413.44M1238.3 412.3L1237.8 412.26 1237.3 412.22M1286.3 413.11L1285.8 413.14 1285.3 413.16M1258.8 413.82L1258.3 413.82 1257.8 413.81M1238.3 413.11L1236.8 413.04M1286.3 413.93L1285.8 413.94 1285.3 413.95M1258.8 414.19L1258.3 414.19 1257.8 414.19M1238.3 413.92L1236.8 413.89M1286.3 414.76L1285.8 414.75 1285.3 414.74M1258.8 414.56L1258.3 414.56 1257.8 414.56M1238.3 414.72L1236.8 414.74M1286.3 415.58L1285.8 415.56 1285.3 415.53M1258.8 414.93L1258.3 414.93 1257.8 414.93M1238.3 415.52L1236.8 415.59M1286.21 416.4L1285.8 416.37 1285.3 416.33M1258.8 415.29L1258.3 415.3 1257.8 415.31M1238.3 416.33L1236.8 416.45M1286.3 417.24L1285.8 417.19 1285.3 417.13M1238.3 417.15L1237.8 417.2 1237.3 417.25M1286.3 418.09L1284.97 417.9M1238.3 417.97L1237.8 418.04 1237.3 418.11M1286.02 418.9L1284.8 418.69M1265.8 416.43L1265.3 416.41 1265.03 416.4M1238.8 418.72L1237.3 418.99M1285.8 419.72L1285.3 419.62 1284.8 419.52M1238.8 419.56L1238.3 419.67 1237.8 419.77M1285.8 420.61L1284.3 420.24M1265.3 417.16L1264.8 417.14 1264.3 417.12M1259.8 417.12L1259.3 417.14 1258.8 417.16M1238.8 420.43L1238.3 420.55 1237.8 420.67M1285.3 421.38L1284.8 421.24 1284.3 421.1M1264.8 417.52L1264.3 417.5 1263.8 417.48M1260.3 417.48L1259.8 417.49 1259.3 417.51M1239.3 421.17L1237.8 421.6M1285.3 422.31L1284.03 421.9M1263.3 417.84L1260.3 417.85M1285.3 423.27L1283.8 422.73M1239.61 422.9L1239.3 423.01 1238.8 423.2M1240.3 423.6L1238.8 424.21M1240.73 424.4L1239.62 424.9M1283.8 425.75L1282.3 425M1241.8 425.96L1240.3 426.8M1242.14 426.9L1241.8 427.12 1241.34 427.4M1281.8 428.17L1280.8 427.48M1242.8 427.7L1241.8 428.39M1243.64 428.4L1242.8 429.06M1280.3 429.89L1279.3 429.02M1244.77 428.9L1243.62 429.9M1279.06 430.4L1278.8 430.14 1278.56 429.9M1278.21 431.4L1277.35 430.4M1246.6 430.4L1245.8 431.33M1276.8 431.88L1276.46 431.4 1276.3 431.19M1247.8 430.98L1247.14 431.9M1275.3 432.33L1275.06 431.9 1274.8 431.45M1249.18 431.4L1248.61 432.4M1286.3 414.35L1285.8 414.35 1285.3 414.35M1258.8 414.38L1258.3 414.37 1257.8 414.37M1238.3 414.32L1236.8 414.31" stroke="#ffbf00"/>
<path d="M1273.52 396.4L1273.11 397.4M1275.01 396.9L1274.42 397.9M1276.3 397.52L1276.02 397.9 1275.8 398.19M1248.3 398.35L1247.59 397.4M1277.7 397.9L1276.81 398.9M1247.18 398.9L1246.3 397.91M1246.05 399.4L1245.3 398.66M1279.3 399.68L1278.46 400.4M1245.3 400.19L1244.37 399.4M1280.15 400.4L1279.3 401.04M1280.8 401.22L1279.8 401.89M1243.8 401.62L1242.8 400.94M1243.23 402.4L1242.8 402.14 1242.41 401.9M1282.3 402.63L1280.89 403.4M1242.8 403.22L1241.8 402.67M1282.3 403.69L1281.3 404.18M1242.14 403.9L1241.8 403.73 1241.3 403.48M1282.8 404.46L1282.3 404.68 1281.81 404.9M1241.8 404.71L1240.8 404.27M1283.3 405.21L1282.3 405.61M1241.3 405.44L1240.3 405.04M1263.3 410.54L1259.8 410.5M1241.3 406.34L1240.07 405.9M1284.3 406.71L1282.8 407.18M1264.8 410.85L1264.3 410.88 1263.8 410.9M1241.3 407.19L1239.8 406.72M1284.3 407.59L1283.2 407.9M1265.3 411.21L1264.8 411.24 1264.3 411.26M1240.8 407.88L1239.3 407.46M1284.3 408.45L1283.8 408.57 1283.3 408.69M1265.8 411.56L1265.3 411.59 1264.8 411.61M1259.3 411.62L1258.8 411.6 1258.3 411.57M1240.8 408.69L1239.3 408.33M1240.3 409.38L1238.8 409.07M1284.8 410.01L1283.3 410.26M1258.8 412.35L1258.3 412.33 1257.8 412.31M1284.8 410.82L1283.8 410.96M1266.3 412.68L1265.8 412.7 1265.3 412.72M1239.8 410.88L1239.3 410.81 1238.8 410.74M1284.8 411.61L1284.3 411.67 1283.8 411.72M1239.8 411.66L1239.3 411.6 1238.8 411.55M1284.8 412.4L1284.3 412.44 1283.8 412.48M1239.49 412.4L1238.3 412.3M1239.8 413.19L1238.3 413.11M1285.3 413.95L1283.8 413.98M1239.8 413.94L1238.3 413.92M1285.3 414.74L1283.8 414.72M1239.8 414.7L1238.3 414.72M1239.8 415.46L1238.3 415.52M1284.8 416.29L1284.3 416.25 1283.8 416.22M1239.8 416.22L1238.3 416.33M1284.8 417.08L1284.3 417.03 1283.8 416.97M1239.8 416.99L1239.3 417.04 1238.8 417.09M1284.8 417.88L1284.3 417.81 1283.8 417.74M1266.3 416.07L1265.8 416.05 1265.3 416.04M1240.3 417.69L1238.8 417.9M1284.8 418.69L1283.3 418.43M1266.3 416.45L1265.8 416.43 1265.3 416.41M1258.8 416.4L1258.3 416.42 1257.8 416.44M1239.8 418.55L1239.3 418.64 1238.8 418.72M1284.3 419.41L1283.3 419.21M1240.3 419.26L1238.8 419.56M1284.8 420.36L1283.3 420.01M1265.8 417.19L1265.3 417.16 1264.8 417.14M1259.3 417.14L1258.8 417.16 1258.3 417.18M1240.3 420.07L1239.8 420.18 1239.3 420.3M1284.3 421.1L1282.8 420.69M1265.3 417.54L1264.8 417.52 1264.3 417.5M1259.8 417.49L1259.3 417.51 1258.8 417.54M1283.8 421.83L1283.3 421.67 1282.8 421.52M1264.8 417.9L1264.3 417.88 1263.8 417.86M1260.3 417.85L1259.8 417.87 1259.3 417.89M1240.8 421.6L1240.3 421.76 1239.85 421.9M1283.8 422.73L1282.3 422.21M1283.11 423.4L1282.8 423.28 1282.3 423.09M1241.8 423.01L1240.3 423.6M1282.8 424.23L1282.3 424.01 1282.05 423.9M1241.8 423.93L1241.3 424.15 1240.8 424.37M1282.8 425.25L1281.3 424.51M1242.3 424.67L1241.3 425.15M1242.8 425.42L1241.8 425.96M1281.3 426.61L1280.3 426.01M1242.96 426.4L1242.8 426.5 1242.3 426.81M1280.69 427.4L1280.3 427.14 1279.95 426.9M1243.8 427.02L1242.8 427.7M1280.29 428.4L1279.3 427.66M1244.8 427.53L1243.64 428.4M1245.3 428.45L1244.3 429.31M1246.3 429.02L1245.38 429.9M1277.78 430.9L1276.9 429.9M1247.05 429.9L1246.3 430.75M1276.3 431.19L1276.1 430.9 1275.8 430.51M1248.23 430.4L1247.49 431.4M1275.06 431.9L1274.47 430.9M1249.48 430.9L1248.89 431.9M1285.3 414.35L1283.8 414.35M1239.8 414.32L1238.3 414.32" stroke="#ff8c00"/>
<path d="M1273.3 396.95L1273.11 397.4 1272.87 397.9M1250.8 397.27L1250.63 396.9 1250.42 396.4M1249.56 397.9L1248.95 396.9M1276.02 397.9L1275.8 398.19 1275.64 398.4M1277.26 398.4L1276.35 399.4M1278.3 399.05L1277.41 399.9M1246.58 399.9L1245.8 399.15M1245.55 400.4L1245.3 400.19 1244.95 399.9M1279.49 400.9L1279.3 401.04 1278.82 401.4M1245.19 401.4L1243.85 400.4M1244.22 401.9L1243.8 401.62 1243.47 401.4M1281.3 402.09L1279.95 402.9M1243.8 402.74L1242.8 402.14M1281.3 403.18L1280.3 403.71M1243.13 403.4L1242.8 403.22 1242.3 402.95M1281.8 403.94L1281.3 404.18 1280.85 404.4M1242.8 404.22L1241.8 403.73M1282.3 404.68L1281.3 405.12M1242.8 405.15L1241.3 404.49M1282.8 405.42L1282.3 405.61 1281.8 405.81M1242.3 405.83L1241.2 405.4M1283.3 406.14L1281.8 406.67M1264.3 410.5L1262.8 410.55M1241.8 406.51L1240.8 406.16M1283.3 407.02L1282.8 407.18 1282.3 407.33M1265.3 410.83L1264.8 410.85 1264.3 410.88M1259.8 410.88L1259.3 410.86 1258.8 410.83M1283.3 407.87L1282.3 408.14M1259.3 411.24L1258.8 411.22 1258.3 411.19M1241.3 408.02L1240.3 407.74M1283.8 408.57L1282.42 408.9M1284.3 409.28L1282.8 409.59M1266.3 411.92L1265.8 411.95 1265.3 411.97M1258.8 411.97L1258.3 411.95 1257.8 411.92M1241.3 409.59L1239.8 409.28M1266.3 412.3L1265.8 412.32 1265.3 412.34M1240.8 410.26L1239.3 410M1284.21 410.9L1282.8 411.1M1240.8 411.02L1239.3 410.81M1284.3 411.67L1282.8 411.83M1258.3 413.08L1257.8 413.06 1257.3 413.05M1240.3 411.71L1239.8 411.66 1239.3 411.6M1284.3 412.44L1283.8 412.48 1283.3 412.52M1258.3 413.45L1257.8 413.44 1257.3 413.43M1240.3 412.46L1239.3 412.38M1284.8 413.18L1283.3 413.25M1266.8 413.8L1266.3 413.81 1265.8 413.82M1258.3 413.82L1257.8 413.81 1257.3 413.8M1240.8 413.23L1239.3 413.16M1284.3 413.97L1283.8 413.98 1283.3 413.98M1266.8 414.18L1266.3 414.19 1265.8 414.19M1258.3 414.19L1257.8 414.19 1257.3 414.18M1240.8 413.96L1239.3 413.93M1284.3 414.73L1283.8 414.72 1283.3 414.71M1266.8 414.56L1266.3 414.56 1265.8 414.56M1258.3 414.56L1257.8 414.56 1257.3 414.56M1240.3 414.69L1239.8 414.7 1239.3 414.71M1284.8 415.51L1283.3 415.45M1266.8 414.94L1266.3 414.94 1265.8 414.93M1258.3 414.93L1257.8 414.93 1257.3 414.94M1240.8 415.41L1239.3 415.48M1284.3 416.25L1283.8 416.22 1283.3 416.18M1266.8 415.32L1266.3 415.31 1265.8 415.3M1258.3 415.3L1257.8 415.31 1257.3 415.32M1240.8 416.14L1239.3 416.26M1284.3 417.03L1283.8 416.97 1283.3 416.92M1258.3 415.67L1257.8 415.69 1257.3 415.7M1240.3 416.93L1239.8 416.99 1239.3 417.04M1284.3 417.81L1282.8 417.6M1240.7 418.4L1239.3 418.64M1283.8 419.31L1283.3 419.21 1282.8 419.11M1266.3 416.83L1265.8 416.8 1265.3 416.78M1258.8 416.78L1258.3 416.8 1257.8 416.82M1240.8 419.16L1240.3 419.26 1239.8 419.36M1283.8 420.12L1282.8 419.89M1240.8 419.95L1240.3 420.07 1239.8 420.18M1265.8 417.57L1265.3 417.54 1264.8 417.52M1259.3 417.51L1258.8 417.54 1258.3 417.56M1241.3 420.63L1239.8 421.04M1283.3 421.67L1282.3 421.36M1265.3 417.93L1264.3 417.88M1259.8 417.87L1258.8 417.92M1241.3 421.45L1240.8 421.6 1240.3 421.76M1263.8 418.24L1259.8 418.25M1241.8 422.13L1240.3 422.66M1282.8 423.28L1282.3 423.09 1281.83 422.9M1282.3 424.01L1281.3 423.58M1242.3 423.71L1241.3 424.15M1242.8 424.42L1242.3 424.67 1241.81 424.9M1281.8 425.79L1280.3 424.99M1243.3 425.15L1242.3 425.69M1243.8 425.9L1242.8 426.5M1280.3 427.14L1279.3 426.48M1243.98 426.9L1243.8 427.02 1243.3 427.36M1279.63 427.9L1279.3 427.66 1278.95 427.4M1279.17 428.9L1278.3 428.18M1245.8 428.04L1244.8 428.87M1278.3 429.65L1277.52 428.9M1277.3 430.35L1276.44 429.4M1247.3 429.63L1247.05 429.9 1246.8 430.18M1276.1 430.9L1275.33 429.9M1248.63 429.9L1247.86 430.9M1249.8 430.41L1249.48 430.9 1249.3 431.21M1273.3 431.78L1273.14 431.4 1272.9 430.9M1251.06 430.9L1250.6 431.9M1284.3 414.35L1283.8 414.35 1283.3 414.35M1266.8 414.37L1266.3 414.37 1265.8 414.37M1258.3 414.37L1257.8 414.37 1257.3 414.37M1240.3 414.32L1239.8 414.32 1239.3 414.32" stroke="#ff7300"/>
<path d="M1273.11 397.4L1272.61 398.4M1275.25 398.9L1274.4 399.9M1276.3 399.45L1275.37 400.4M1248.3 400.07L1248.12 399.9 1247.8 399.56M1277.8 400.94L1276.8 401.72M1247.3 401.79L1246.3 401.01M1278.12 401.9L1277.8 402.12 1277.4 402.4M1246.61 402.4L1246.3 402.18 1245.89 401.9M1278.8 402.54L1277.8 403.17M1246.3 403.22L1245.3 402.6M1279.08 403.4L1278.8 403.56 1278.3 403.84M1245.8 403.88L1244.8 403.32M1279.8 403.98L1278.3 404.73M1245.05 404.4L1244.8 404.27 1244.3 404.01M1279.79 404.9L1279.3 405.12 1278.8 405.35M1244.8 405.15L1243.8 404.69M1280.3 405.54L1279.3 405.96M1244.6 405.9L1243.39 405.4M1280.24 406.4L1279.8 406.56 1279.3 406.74M1244.3 406.58L1243.3 406.21M1280.8 407.01L1280.3 407.17 1279.8 407.34M1265.78 410.4L1265.3 410.44 1264.8 410.47M1258.8 410.44L1257.8 410.36M1244.3 407.35L1242.93 406.9M1280.8 407.79L1279.8 408.08M1266.3 410.75L1265.8 410.79 1265.3 410.83M1243.64 407.9L1243.3 407.8 1242.8 407.65M1258.3 411.19L1257.8 411.15 1257.3 411.11M1243.8 408.68L1243.3 408.55 1242.8 408.42M1281.3 409.16L1280.8 409.27 1280.3 409.38M1281.23 409.9L1280.8 409.98 1280.3 410.08M1266.8 411.89L1266.63 411.9 1266.3 411.92M1257.8 411.92L1256.8 411.86M1243.3 409.98L1242.3 409.79M1281.3 410.6L1280.8 410.68 1280.3 410.76M1267.3 412.25L1266.8 412.28 1266.3 412.3M1243.3 410.68L1242.8 410.59 1242.3 410.51M1267.3 412.64L1266.8 412.66 1266.3 412.68M1243.3 411.36L1241.8 411.16M1281.8 411.93L1280.3 412.09M1243.3 412.03L1242.07 411.9M1281.8 412.63L1280.3 412.74M1257.3 413.43L1256.8 413.41 1256.32 413.4M1281.8 413.32L1280.3 413.39M1257.3 413.8L1256.8 413.8 1256.3 413.79M1281.8 414.01L1281.3 414.02 1280.8 414.02M1257.3 414.18L1256.8 414.18 1256.3 414.18M1242.8 413.99L1242.3 413.99 1241.8 413.98M1281.8 414.69L1281.3 414.69 1280.8 414.68M1257.3 414.56L1256.8 414.56 1256.3 414.56M1242.8 414.66L1242.3 414.67 1241.8 414.67M1281.8 415.38L1281.3 415.36 1280.8 415.34M1257.3 414.94L1256.8 414.95 1256.3 414.95M1242.8 415.33L1242.3 415.35 1241.8 415.37M1281.8 416.07L1280.3 415.97M1257.3 415.32L1256.8 415.33 1256.3 415.34M1281.8 416.77L1280.3 416.62M1257.3 415.7L1256.8 415.71 1256.3 415.73M1281.3 417.41L1280.3 417.28M1243.3 417.3L1241.8 417.49M1281.3 418.11L1280.8 418.03 1280.3 417.95M1267.3 416.49L1266.8 416.47 1266.3 416.45M1243.3 417.98L1242.8 418.06 1242.3 418.14M1281.74 418.9L1280.3 418.63M1257.8 416.82L1257.3 416.85 1256.8 416.88M1243.3 418.67L1242.8 418.77 1242.3 418.86M1281.3 419.54L1280.3 419.32M1243.2 419.4L1242.8 419.49 1242.3 419.6M1281.3 420.29L1279.8 419.91M1266.8 417.64L1266.3 417.6 1265.8 417.57M1258.3 417.56L1257.8 417.6 1257.3 417.63M1243.8 419.98L1242.3 420.36M1280.75 420.9L1280.3 420.77 1279.8 420.63M1243.8 420.71L1242.8 421M1280.8 421.7L1279.8 421.37M1259.3 418.28L1258.8 418.31 1258.3 418.34M1264.8 418.68L1264.3 418.65 1263.8 418.62M1260.3 418.62L1258.8 418.7M1244.3 422.07L1243.3 422.43M1280.3 423.16L1279.3 422.75M1279.8 423.81L1279.3 423.58 1278.9 423.4M1244.8 423.5L1244.3 423.72 1243.91 423.9M1279.8 424.73L1278.3 423.97M1245.3 424.13L1244.3 424.63M1279.25 425.4L1278.8 425.15 1278.36 424.9M1278.39 425.9L1278.3 425.84 1277.8 425.54M1245.8 425.74L1244.8 426.37M1278.26 426.9L1277.3 426.24M1277.8 427.77L1276.8 426.98M1246.8 427.24L1246.59 427.4 1246.3 427.64M1276.8 428.25L1275.83 427.4M1247.52 427.9L1247.3 428.1 1246.96 428.4M1275.96 428.9L1275.8 428.74 1275.47 428.4M1275.3 429.87L1274.49 428.9M1249.3 429.1L1249.04 429.4 1248.8 429.69M1250.3 429.69L1250.15 429.9 1249.81 430.4M1272.9 430.9L1272.8 430.7 1272.65 430.4M1251.33 430.4L1251.3 430.46 1251.06 430.9M1281.8 414.35L1281.3 414.35 1280.8 414.35M1257.3 414.37L1256.8 414.37 1256.3 414.37M1242.8 414.33L1242.3 414.33 1241.8 414.33" stroke="#ff0d00"/>
<path d="M1272.8 398.02L1271.98 399.4 1270.76 400.9 1268.3 402.96 1266.42 403.9 1264.8 404.49 1261.8 404.63 1258.93 404.4 1257.41 403.9 1255.8 402.99 1254.38 401.9 1252.8 400.4 1252.01 399.4 1251.1 397.9M1274.1 398.4L1272.99 399.9 1271.6 401.4 1270.43 402.4 1268.8 403.51 1266.98 404.4 1265.3 404.96 1263.8 405.19 1261.8 405.26 1259.8 405.16 1258.44 404.9 1256.95 404.4 1255.3 403.55 1252.43 401.4 1251 399.9 1249.88 398.4M1274.8 399.44L1273.45 400.9 1271.76 402.4 1270.35 403.4 1268.56 404.4 1266.8 405.11 1265.3 405.53 1263.8 405.75 1261.8 405.82 1259.8 405.71 1258.3 405.45 1256.8 404.99 1255.3 404.33 1253.69 403.4 1251.65 401.9 1250.06 400.4 1248.8 398.97M1275.8 399.97L1274.3 401.4 1272.41 402.9 1270.89 403.9 1268.96 404.9 1267.3 405.54 1265.3 406.06 1261.8 406.34 1258.3 405.99 1256.8 405.58 1255.05 404.9 1253.15 403.9 1251.61 402.9 1249.71 401.4 1248.12 399.9M1276.8 400.46L1275.1 401.9 1273.03 403.4 1269.8 405.18 1267.95 405.9 1266.16 406.4 1264.3 406.71 1262.3 406.82 1260.3 406.76 1258.3 406.5 1256.3 405.99 1254.72 405.4 1252.66 404.4 1250.99 403.4 1247.3 400.55M1277.22 401.4L1273.62 403.9 1271.81 404.9 1269.57 405.9 1267.8 406.49 1265.8 406.97 1263.8 407.22 1261.8 407.29 1259.8 407.19 1257.82 406.9 1254.44 405.9 1252.21 404.9 1250.41 403.9 1246.8 401.41M1277.8 402.12L1273.8 404.6 1269.79 406.4 1267.8 407.01 1265.8 407.44 1261.8 407.73 1257.8 407.37 1254.22 406.4 1250.3 404.64 1246.3 402.18M1278.24 402.9L1273.71 405.4 1269.96 406.9 1265.8 407.89 1261.8 408.16 1257.8 407.83 1254.04 406.9 1250.32 405.4 1245.8 402.91M1278.8 403.56L1274.15 405.9 1270.09 407.4 1265.8 408.33 1261.8 408.58 1257.8 408.28 1253.92 407.4 1249.87 405.9 1245.3 403.6M1278.8 404.49L1274.59 406.4 1270.16 407.9 1265.8 408.76 1261.8 408.99 1257.8 408.71 1253.8 407.89 1249.44 406.4 1244.8 404.27M1279.3 405.12L1274.8 406.98 1270.17 408.4 1265.8 409.18 1261.8 409.39 1257.8 409.14 1253.8 408.39 1249.02 406.9 1244.3 404.93M1279.44 405.9L1274.3 407.77 1270.12 408.9 1265.8 409.59 1261.8 409.79 1257.8 409.55 1253.8 408.88 1249.3 407.63 1244.3 405.78M1279.8 406.56L1275.87 407.9 1271.8 409.01 1267.8 409.77 1264.3 410.11M1259.3 410.09L1255.8 409.71 1251.8 408.91 1248.17 407.9 1243.8 406.4M1280.3 407.17L1276.31 408.4 1272.34 409.4 1268.8 410.05 1265.3 410.44M1258.21 410.4L1254.8 409.99 1251.69 409.4 1247.73 408.4 1243.8 407.19M1280.3 407.93L1276.3 409.02 1272.36 409.9 1269.3 410.41 1265.8 410.79M1258.3 410.8L1254.8 410.43 1251.3 409.83 1247.27 408.9 1243.3 407.8M1280.8 408.54L1272.8 410.32 1269.3 410.85 1265.8 411.18M1257.8 411.15L1251.3 410.33 1243.3 408.55M1280.8 409.27L1272.8 410.81 1266.3 411.53M1257.8 411.54L1250.8 410.74 1242.8 409.16M1280.8 409.98L1273.3 411.23 1266.63 411.9M1257.3 411.9L1250.8 411.24 1242.87 409.9M1280.8 410.68L1273.3 411.73 1266.8 412.28M1257.3 412.28L1250.8 411.73 1242.8 410.59M1281.3 411.3L1273.3 412.21 1266.8 412.66M1257.3 412.66L1250.8 412.21 1242.8 411.29M1280.8 412.04L1273.3 412.69 1266.8 413.04M1257.3 413.05L1250.8 412.69 1242.8 411.98M1280.8 412.7L1266.8 413.42M1256.8 413.41L1242.3 412.62M1280.8 413.37L1266.8 413.8M1256.8 413.8L1242.3 413.3M1281.3 414.02L1266.8 414.18M1256.8 414.18L1242.3 413.99M1281.3 414.69L1266.8 414.56M1256.8 414.56L1242.3 414.67M1281.3 415.36L1266.8 414.94M1256.8 414.95L1242.3 415.35M1280.8 416L1266.8 415.32M1256.8 415.33L1242.3 416.04M1280.8 416.67L1273.3 416.03 1266.8 415.7M1256.8 415.71L1250.3 416.04 1242.3 416.73M1280.8 417.34L1273.3 416.51 1266.8 416.09M1257.3 416.08L1250.8 416.49 1242.8 417.36M1280.8 418.03L1273.3 417 1266.8 416.47M1257.3 416.46L1250.8 416.97 1242.8 418.06M1280.8 418.72L1272.8 417.42 1266.3 416.83M1257.3 416.85L1250.8 417.46 1242.8 418.77M1280.66 419.4L1272.8 417.91 1266.3 417.21M1257.8 417.21L1250.8 417.95 1242.8 419.49M1280.3 420.03L1272.78 418.4 1266.3 417.6M1257.8 417.6L1251.13 418.4 1243.3 420.1M1280.3 420.77L1272.76 418.9 1269.3 418.32 1265.8 417.96M1258.3 417.95L1254.8 418.3 1251.15 418.9 1247.3 419.76 1243.3 420.85M1279.9 421.4L1275.8 420.17 1272.3 419.31 1268.8 418.68 1265.3 418.32M1258.8 418.31L1255.3 418.67 1251.3 419.38 1247.27 420.4 1243.3 421.63M1280.3 422.32L1276.15 420.9 1271.8 419.71 1267.8 418.97 1264.3 418.65M1259.3 418.67L1255.8 419.03 1251.8 419.79 1247.75 420.9 1243.8 422.25M1279.68 422.9L1274.8 421.1 1270.3 419.87 1266.3 419.21 1261.8 418.98 1257.3 419.25 1253.3 419.94 1248.8 421.2 1243.8 423.08M1279.3 423.58L1274.8 421.74 1270.3 420.36 1266.3 419.62 1261.8 419.37 1257.8 419.61 1253.47 420.4 1248.8 421.85 1244.3 423.72M1278.8 424.22L1274.8 422.4 1270.3 420.86 1266.3 420.05 1261.8 419.77 1257.8 420.04 1253.5 420.9 1249.11 422.4 1244.8 424.37M1278.8 425.15L1274.35 422.9 1270.3 421.38 1266.3 420.48 1261.8 420.18 1257.8 420.47 1253.59 421.4 1249.56 422.9 1244.8 425.33M1278.3 425.84L1273.89 423.4 1269.8 421.77 1265.8 420.86 1261.8 420.6 1257.8 420.92 1253.73 421.9 1250.02 423.4 1245.53 425.9M1277.54 426.4L1273.41 423.9 1269.8 422.32 1267.8 421.72 1265.8 421.31 1261.8 421.04 1257.8 421.38 1253.92 422.4 1251.51 423.4 1249.58 424.4 1245.8 426.81M1277.3 427.37L1273.76 424.9 1271.98 423.9 1269.79 422.9 1267.8 422.23 1265.8 421.78 1261.8 421.48 1257.8 421.86 1254.16 422.9 1251.93 423.9 1250.15 424.9 1246.59 427.4M1276.3 427.8L1273.17 425.4 1271.53 424.4 1269.3 423.31 1267.8 422.77 1265.8 422.27 1263.8 422.01 1261.8 421.95 1259.8 422.05 1257.8 422.35 1254.44 423.4 1252.38 424.4 1250.75 425.4 1247.3 428.1M1275.8 428.74L1274.4 427.4 1272.53 425.9 1271.03 424.9 1269.17 423.9 1267.8 423.34 1265.8 422.78 1263.8 422.51 1261.8 422.44 1258.3 422.77 1256.3 423.31 1254.78 423.9 1252.87 424.9 1251.37 425.9 1249.54 427.4 1247.98 428.9M1274.8 429.27L1273.55 427.9 1271.86 426.4 1268.78 424.4 1267.3 423.77 1265.3 423.22 1261.8 422.96 1259.8 423.07 1258.3 423.32 1256.8 423.74 1255.18 424.4 1253.4 425.4 1252.04 426.4 1250.4 427.9 1249.04 429.4M1274.16 430.4L1273.08 428.9 1271.69 427.4 1268.8 425.19 1267.3 424.41 1265.8 423.91 1264.3 423.63 1262.8 423.54 1259.3 423.69 1257.3 424.2 1255.66 424.9 1253.98 425.9 1252.75 426.9 1251.31 428.4 1250.15 429.9M1272.8 430.7L1272.07 429.4 1271.3 428.4 1269.75 426.9 1267.81 425.4 1266.3 424.72 1264.8 424.29 1262.3 424.16 1259.3 424.29 1257.8 424.71 1256.23 425.4 1254.64 426.4 1253.52 427.4 1252.3 428.9 1251.3 430.46M1281.3 414.35L1266.8 414.37M1256.8 414.37L1242.3 414.33" stroke="#ff0000"/>
<path d="M1251.3 398.26L1251.1 397.9 1250.85 397.4M1274.3 398.08L1274.1 398.4 1273.8 398.83M1250.23 398.9L1249.56 397.9M1249.15 399.4L1248.34 398.4M1277.3 400L1276.3 400.9M1247.7 400.9L1246.8 400.09M1246.79 401.4L1245.8 400.61M1278.8 401.41L1277.8 402.12M1246.3 402.18L1245.3 401.48M1245.78 402.9L1244.8 402.28M1279.8 402.98L1278.8 403.56M1244.94 403.4L1244.8 403.32 1244.3 403.03M1244.8 404.27L1243.8 403.75M1280.3 404.66L1279.3 405.12M1244.24 404.9L1243.8 404.69 1243.3 404.46M1280.65 405.4L1280.3 405.54 1279.8 405.75M1281.3 406L1279.8 406.56M1264.8 410.08L1263.3 410.15M1260.3 410.14L1258.8 410.05M1243.8 406.4L1243.3 406.21 1242.8 406.02M1281.12 406.9L1280.8 407.01 1280.3 407.17M1259.3 410.48L1258.8 410.44 1258.3 410.41M1243.3 407.02L1242.3 406.68M1281.8 407.49L1280.42 407.9M1258.8 410.83L1258.3 410.8 1257.8 410.76M1243.3 407.8L1242.8 407.65 1242.3 407.5M1281.8 408.28L1280.3 408.67M1243.3 408.55L1241.8 408.15M1281.8 409.04L1281.3 409.16 1280.8 409.27M1266.8 411.5L1266.3 411.53 1265.8 411.56M1258.3 411.57L1257.8 411.54 1257.3 411.51M1243.3 409.28L1241.8 408.93M1281.8 409.79L1280.8 409.98M1266.63 411.9L1266.3 411.92 1265.8 411.95M1242.8 409.89L1242.3 409.79 1241.8 409.69M1282.3 410.43L1280.8 410.68M1257.8 412.31L1257.3 412.28 1256.8 412.25M1242.8 410.59L1241.62 410.4M1282.3 411.16L1280.8 411.36M1257.8 412.68L1257.3 412.66 1256.8 412.64M1282.14 411.9L1281.8 411.93 1281.3 411.99M1267.3 413.03L1266.8 413.04 1266.3 413.06M1257.8 413.06L1257.3 413.05 1256.8 413.03M1242.3 411.92L1241.3 411.82M1282.3 412.59L1281.8 412.63 1281.3 412.67M1267.3 413.41L1266.8 413.42 1266.3 413.44M1242.8 412.65L1241.3 412.54M1282.8 413.28L1281.3 413.34M1267.3 413.8L1266.8 413.8 1266.3 413.81M1242.8 413.33L1241.3 413.26M1282.8 413.99L1281.3 414.02M1242.3 413.99L1241.8 413.98 1241.3 413.97M1282.8 414.71L1281.3 414.69M1242.3 414.67L1241.8 414.67 1241.3 414.68M1282.8 415.42L1281.3 415.36M1267.3 414.95L1266.8 414.94 1266.3 414.94M1242.3 415.35L1241.8 415.37 1241.3 415.39M1282.3 416.11L1281.8 416.07 1281.3 416.04M1267.3 415.33L1266.8 415.32 1266.3 415.31M1242.8 416L1241.3 416.11M1282.3 416.82L1281.8 416.77 1281.3 416.72M1267.3 415.72L1266.8 415.7 1266.3 415.69M1242.8 416.68L1241.3 416.83M1282.3 417.54L1281.26 417.4M1267.3 416.11L1266.8 416.09 1266.3 416.07M1257.8 416.06L1257.3 416.08 1256.8 416.1M1282.3 418.27L1280.8 418.03M1257.8 416.44L1257.3 416.46 1256.8 416.49M1242.8 418.06L1241.3 418.3M1242.8 418.77L1241.3 419.06M1281.8 419.66L1281.3 419.54 1280.8 419.43M1266.8 417.25L1266.3 417.21 1265.8 417.19M1258.3 417.18L1257.8 417.21 1257.3 417.24M1242.8 419.49L1242.3 419.6 1241.8 419.72M1281.72 420.4L1281.3 420.29 1280.8 420.16M1281.8 421.21L1280.3 420.77M1266.3 418L1265.8 417.96 1265.3 417.93M1258.8 417.92L1258.3 417.95 1257.8 417.99M1243.13 420.9L1242.8 421 1242.3 421.15M1281.3 421.86L1280.8 421.7 1280.3 421.53M1265.8 418.35L1264.3 418.26M1243.8 421.46L1242.48 421.9M1281.3 422.7L1279.8 422.14M1264.3 418.65L1259.8 418.64M1243.39 422.4L1243.3 422.43 1242.8 422.62M1280.8 423.37L1280.3 423.16 1279.8 422.95M1244.23 422.9L1243.02 423.4M1280.3 424.04L1279.3 423.58M1244.3 423.72L1243.3 424.19M1244.75 424.4L1244.3 424.63 1243.8 424.89M1279.8 425.72L1278.8 425.15M1245.3 425.05L1243.8 425.9M1279.18 426.4L1278.3 425.84M1278.8 427.29L1277.8 426.58M1246.3 426.46L1245.3 427.17M1246.59 427.4L1246.3 427.64 1245.97 427.9M1277.3 428.7L1276.42 427.9M1247.3 428.1L1246.42 428.9M1276.3 429.26L1275.96 428.9 1275.8 428.74M1248.3 428.58L1247.51 429.4M1249.04 429.4L1248.8 429.69 1248.63 429.9M1274.3 430.63L1274.16 430.4 1273.82 429.9M1273.14 431.4L1272.9 430.9 1272.8 430.7M1282.8 414.35L1281.3 414.35M1242.3 414.33L1241.8 414.33 1241.3 414.32" stroke="#ff2600"/>
<path d="M1251.1 397.9L1250.63 396.9M1274.72 397.4L1274.1 398.4M1249.8 398.27L1249.56 397.9 1249.3 397.48M1275.8 398.19L1275.64 398.4 1275.3 398.83M1248.74 398.9L1247.96 397.9M1247.64 399.4L1246.8 398.48M1277.8 399.53L1276.87 400.4M1278.8 400.11L1277.85 400.9M1246.16 400.9L1245.3 400.19M1279.3 401.04L1278.3 401.77M1280.3 401.56L1279.03 402.4M1244.8 402.28L1243.8 401.62M1280.3 402.69L1279.3 403.27M1244.07 402.9L1243.8 402.74 1243.3 402.44M1243.8 403.75L1242.8 403.22M1281.3 404.18L1280.3 404.66M1243.18 404.4L1242.8 404.22 1242.3 403.98M1281.8 404.9L1281.3 405.12 1280.8 405.33M1282.3 405.61L1280.8 406.19M1242.48 405.9L1242.3 405.83 1241.8 405.63M1282.3 406.49L1281.8 406.67 1281.3 406.84M1264.8 410.47L1264.3 410.5 1263.8 410.52M1260.3 410.52L1258.8 410.44M1242.3 406.68L1241.8 406.51 1241.48 406.4M1282.8 407.18L1281.3 407.64M1259.3 410.86L1258.8 410.83 1258.3 410.8M1241.97 407.4L1240.8 407.04M1282.8 408.01L1282.3 408.14 1281.8 408.28M1265.8 411.18L1265.3 411.21 1264.8 411.24M1242.3 408.29L1240.87 407.9M1282.8 408.81L1281.8 409.04M1266.3 411.53L1265.8 411.56 1265.3 411.59M1258.8 411.6L1258.3 411.57 1257.8 411.54M1241.66 408.9L1240.3 408.57M1283.3 409.49L1282.8 409.59 1282.3 409.69M1283.8 410.18L1282.3 410.43M1258.3 412.33L1257.8 412.31 1257.3 412.28M1241.3 410.35L1240.8 410.26 1240.3 410.17M1283.3 411.03L1282.8 411.1 1282.3 411.16M1266.8 412.66L1266.3 412.68 1265.8 412.7M1258.3 412.7L1257.8 412.68 1257.3 412.66M1241.3 411.09L1240.8 411.02 1240.3 410.95M1266.8 413.04L1266.3 413.06 1265.8 413.07M1241.3 411.82L1239.8 411.66M1283.8 412.48L1282.3 412.59M1266.8 413.42L1266.3 413.44 1265.8 413.45M1241.3 412.54L1239.8 412.42M1283.8 413.23L1282.3 413.3M1283.8 413.98L1282.3 414M1283.8 414.72L1282.3 414.7M1240.8 414.69L1240.3 414.69 1239.8 414.7M1283.8 415.47L1282.3 415.4M1283.8 416.22L1282.3 416.11M1283.8 416.97L1282.3 416.82M1266.8 415.7L1266.3 415.69 1265.8 415.68M1241.3 416.83L1239.8 416.99M1283.3 417.67L1282.8 417.6 1282.3 417.54M1266.8 416.09L1266.3 416.07 1265.8 416.05M1258.3 416.05L1257.8 416.06 1257.3 416.08M1241.3 417.56L1239.8 417.76M1283.8 418.52L1282.3 418.27M1258.3 416.42L1257.8 416.44 1257.3 416.46M1241.3 418.3L1240.3 418.47M1283.3 419.21L1282.8 419.11 1282.3 419.01M1241.8 418.96L1240.3 419.26M1282.85 419.9L1281.8 419.66M1266.3 417.21L1265.8 417.19 1265.3 417.16M1258.8 417.16L1258.3 417.18 1257.8 417.21M1241.8 419.72L1240.3 420.07M1283.3 420.82L1281.8 420.42M1241.8 420.49L1241.3 420.63 1240.8 420.76M1282.42 421.4L1281.3 421.06M1241.8 421.3L1240.8 421.6M1282.8 422.38L1281.41 421.9M1264.8 418.28L1263.3 418.22M1260.3 418.24L1259.8 418.25 1259.3 418.28M1242.3 421.96L1241.8 422.13 1241.3 422.31M1282.3 423.09L1280.8 422.51M1242.3 422.81L1241.3 423.2M1281.8 423.79L1281.3 423.58 1280.88 423.4M1242.8 423.5L1242.3 423.71 1241.86 423.9M1281.8 424.76L1280.3 424.04M1243.3 424.19L1242.3 424.67M1243.78 424.9L1243.3 425.15 1242.83 425.4M1280.8 426.31L1279.3 425.43M1244.3 425.61L1243.3 426.2M1244.75 426.4L1243.8 427.02M1279.3 427.66L1278.3 426.93M1245.3 427.17L1244.3 427.9M1278.58 428.4L1278.3 428.18 1277.97 427.9M1277.8 429.17L1276.98 428.4M1246.8 428.55L1245.9 429.4M1247.51 429.4L1247.3 429.63 1247.05 429.9M1274.77 431.4L1274.47 430.9 1274.3 430.63M1283.8 414.35L1282.3 414.35M1240.8 414.32L1240.3 414.32 1239.8 414.32" stroke="#ff5900"/>
<path d="M1250.3 396.09L1250.22 395.9 1250.04 395.4M1275.8 395.44L1275.56 395.9 1275.3 396.38M1248.67 396.4L1248.14 395.4M1280.3 397.01L1279.45 397.9M1244.06 397.4L1243.8 397.12 1243.58 396.9M1281.8 397.44L1280.3 398.81M1243.24 398.4L1242.3 397.53M1282.3 398.7L1281.44 399.4M1242.3 399.18L1241.33 398.4M1283.3 399.46L1282.3 400.17M1241.3 399.88L1240.3 399.16M1283.98 400.4L1283.2 400.9M1240.8 400.89L1239.3 399.92M1284.8 401.2L1283.8 401.78M1240.3 401.83L1238.8 400.96M1285.8 401.9L1284.3 402.68M1239.18 402.4L1238.8 402.2 1238.3 401.94M1285.8 403.09L1284.8 403.55M1238.8 403.35L1238.3 403.12 1237.84 402.9M1286.3 403.98L1285.8 404.19 1285.3 404.4M1238.3 404.21L1237.3 403.79M1286.69 404.9L1286.3 405.04 1285.8 405.23M1237.8 405.06L1236.8 404.69M1287.3 405.72L1285.8 406.22M1237.29 405.9L1236.8 405.74 1236.3 405.57M1287.8 406.59L1286.3 407.02M1263.8 411.28L1263.3 411.29 1262.8 411.3M1237.3 406.89L1235.8 406.45M1287.8 407.58L1287.3 407.7 1286.8 407.83M1236.8 407.71L1236.3 407.58 1235.8 407.45M1288.3 408.43L1286.8 408.75M1264.8 411.99L1264.3 412 1263.8 412.02M1236.8 408.64L1235.3 408.31M1288.18 409.4L1286.8 409.65M1259.8 412.38L1259.3 412.36 1258.8 412.35M1236.3 409.46L1235.3 409.28M1288.3 410.31L1287.3 410.45M1265.3 412.72L1264.8 412.73 1264.3 412.74M1236.3 410.37L1234.8 410.14M1288.8 411.16L1287.3 411.33M1236.3 411.26L1234.8 411.09M1288.8 412.08L1287.3 412.2M1235.8 412.1L1235.3 412.06 1234.8 412.02M1288.8 412.99L1287.3 413.06M1259.3 413.83L1258.8 413.82 1258.3 413.82M1235.8 412.99L1235.3 412.96 1234.8 412.94M1288.8 413.89L1287.3 413.92M1259.3 414.19L1258.8 414.19 1258.3 414.19M1235.8 413.87L1235.3 413.86 1234.8 413.85M1288.8 414.79L1287.3 414.77M1259.3 414.56L1258.8 414.56 1258.3 414.56M1235.8 414.75L1234.3 414.77M1288.8 415.7L1287.3 415.63M1259.3 414.92L1258.8 414.93 1258.3 414.93M1235.8 415.64L1235.3 415.66 1234.8 415.68M1288.8 416.6L1287.3 416.49M1235.8 416.52L1235.3 416.56 1234.8 416.6M1288.8 417.52L1287.3 417.35M1235.97 417.4L1234.8 417.53M1288.3 418.38L1287.8 418.3 1287.3 418.23M1265.3 416.04L1264.8 416.02 1264.3 416.01M1236.3 418.26L1234.8 418.47M1288.3 419.31L1287.8 419.22 1287.3 419.13M1259.8 416.38L1259.3 416.39 1258.96 416.4M1236.3 419.16L1235.8 419.25 1235.3 419.34M1288.3 420.26L1286.8 419.94M1264.8 416.77L1264.3 416.75 1263.8 416.74M1260.3 416.74L1259.8 416.75 1259.3 416.76M1236.8 419.98L1235.3 420.31M1287.8 421.11L1286.8 420.86M1264.3 417.12L1263.8 417.11 1263.3 417.1M1260.8 417.1L1260.3 417.11 1259.8 417.12M1236.8 420.92L1235.3 421.3M1287.8 422.1L1286.3 421.66M1263.3 417.47L1260.8 417.47M1237.3 421.74L1235.8 422.17M1287.12 422.9L1285.8 422.47M1237.3 422.72L1236.3 423.05M1286.8 423.83L1286.3 423.64 1285.8 423.46M1237.8 423.56L1236.8 423.93M1286.3 424.7L1285.3 424.29M1238.3 424.41L1237.12 424.9M1285.8 425.6L1284.8 425.14M1238.53 425.4L1237.46 425.9M1285.8 426.78L1284.3 426M1239.3 426.16L1238.3 426.68M1284.67 427.4L1284.3 427.19 1283.8 426.9M1239.8 427.09L1238.8 427.66M1284.16 428.4L1282.8 427.54M1240.55 427.9L1239.3 428.71M1283.3 429.23L1282.3 428.52M1241.08 428.9L1240.8 429.11 1240.39 429.4M1242.3 429.45L1241.3 430.26M1243.06 430.4L1242.3 431.1M1280.3 431.68L1279.55 430.9M1244.3 431L1243.43 431.9M1278.8 432.12L1278.62 431.9 1278.3 431.51M1245.74 431.4L1244.92 432.4M1277.3 432.61L1277.16 432.4 1276.81 431.9M1247.14 431.9L1246.45 432.9M1275.8 433.26L1275.61 432.9 1275.34 432.4M1248.61 432.4L1248.08 433.4M1273.91 433.4L1273.55 432.4M1250.39 432.4L1250.01 433.4M1288.8 414.34L1287.3 414.34M1259.3 414.38L1258.8 414.38 1258.3 414.37M1235.8 414.31L1234.3 414.31" stroke="#f2ff00"/>
<path d="M1250.22 395.9L1249.8 394.68M1248.14 395.4L1247.64 394.4M1278.09 394.9L1277.43 395.9M1279.75 395.4L1278.95 396.4M1280.88 396.4L1280.8 396.48 1280.41 396.9M1243.3 396.59L1243.11 396.4 1242.8 396.06M1282.3 396.97L1281.3 397.9M1242.15 397.4L1241.3 396.6M1241.3 398.38L1240.3 397.55M1284.75 398.4L1283.38 399.4M1240.3 399.16L1239.3 398.43M1285.3 399.53L1284.3 400.19M1239.8 400.24L1238.51 399.4M1238.7 400.9L1237.3 400.07M1286.75 401.4L1285.3 402.16M1237.8 401.68L1236.8 401.14M1287.25 402.4L1286.8 402.61 1286.3 402.85M1237.3 402.64L1236.3 402.17M1287.67 403.4L1287.3 403.56 1286.8 403.77M1236.8 403.58L1235.8 403.15M1288.3 404.29L1287.3 404.67M1236.3 404.5L1235.3 404.11M1288.8 405.22L1287.3 405.72M1235.8 405.4L1235.3 405.23 1234.8 405.06M1289.3 406.14L1287.8 406.59M1235.64 406.4L1234.3 406M1289.3 407.19L1288.3 407.45M1263.8 411.65L1263.3 411.66 1262.8 411.67M1235.3 407.32L1233.8 406.93M1289.8 408.09L1288.42 408.4M1234.8 408.2L1234.3 408.09 1233.8 407.98M1289.8 409.1L1289.3 409.19 1288.8 409.28M1264.8 412.36L1264.3 412.37 1263.8 412.38M1234.8 409.18L1233.3 408.9M1290.3 410.01L1288.8 410.23M1234.8 410.14L1233.3 409.92M1290.3 410.99L1288.8 411.16M1259.8 413.11L1259.3 413.1 1258.8 413.09M1234.3 411.03L1233.2 410.9M1290.3 411.95L1289.8 412 1289.3 412.04M1265.3 413.46L1264.8 413.46 1264.3 413.47M1259.8 413.47L1259.3 413.46 1258.8 413.46M1234.3 411.98L1232.8 411.85M1290.3 412.91L1289.8 412.94 1289.3 412.96M1265.3 413.82L1264.8 413.83 1264.3 413.83M1234.05 412.9L1232.8 412.84M1290.8 413.86L1289.3 413.88M1265.3 414.19L1264.8 414.19 1264.3 414.2M1234.3 413.84L1232.8 413.82M1290.8 414.82L1289.3 414.8M1265.3 414.56L1264.8 414.56 1264.3 414.56M1234.3 414.77L1232.8 414.79M1290.3 415.77L1289.8 415.74 1289.3 415.72M1265.3 414.93L1264.8 414.92 1264.3 414.92M1234.3 415.7L1232.8 415.77M1290.3 416.72L1289.8 416.68 1289.3 416.64M1265.3 415.3L1264.8 415.29 1264.3 415.28M1259.8 415.28L1259.3 415.29 1258.8 415.29M1234.3 416.64L1232.8 416.76M1290.3 417.69L1288.8 417.52M1234.3 417.59L1232.8 417.76M1290.3 418.67L1288.8 418.45M1234.3 418.55L1233.8 418.62 1233.3 418.69M1289.8 419.58L1289.3 419.49 1288.82 419.4M1264.8 416.39L1264.3 416.38 1263.8 416.37M1260.3 416.37L1259.8 416.38 1259.3 416.39M1234.8 419.43L1233.3 419.71M1289.8 420.58L1288.3 420.26M1264.3 416.75L1263.8 416.74 1263.3 416.73M1260.8 416.73L1260.3 416.74 1259.8 416.75M1234.8 420.41L1234.3 420.52 1233.8 420.63M1289.3 421.49L1288.3 421.23M1263.8 417.11L1262.3 417.09M1261.3 417.09L1260.8 417.1 1260.3 417.11M1235.3 421.3L1233.8 421.68M1289.3 422.54L1287.8 422.1M1235.3 422.32L1234.3 422.61M1288.63 423.4L1287.3 422.96M1235.8 423.22L1234.8 423.55M1288.3 424.39L1287.8 424.2 1287.3 424.01M1236.3 424.12L1234.8 424.69M1287.8 425.33L1287.3 425.12 1286.8 424.91M1236.8 425.04L1235.3 425.67M1287.3 426.3L1286.3 425.83M1237.3 425.97L1236.3 426.45M1286.8 427.31L1285.3 426.52M1237.8 426.94L1237.3 427.21 1236.93 427.4M1285.8 428.06L1284.8 427.48M1238.39 427.9L1237.54 428.4M1285.3 429.15L1284.3 428.5M1239.77 428.4L1238.3 429.36M1284.8 430.32L1283.54 429.4M1240.3 429.47L1239.3 430.2M1241.12 430.4L1240.3 431.07M1282.3 431.71L1281.43 430.9M1242.3 431.1L1241.43 431.9M1281.3 432.74L1280.3 431.68M1279.44 432.9L1279.3 432.74 1279.03 432.4M1244.8 432.55L1244.12 433.4M1278.16 433.9L1277.5 432.9M1246.3 433.13L1246.12 433.4 1245.8 433.89M1276.13 433.9L1275.61 432.9M1248.3 432.97L1248.08 433.4 1247.82 433.9M1274.09 433.9L1273.91 433.4 1273.8 433.09M1250.19 432.9L1250.01 433.4 1249.84 433.9M1290.8 414.34L1289.3 414.34M1265.3 414.38L1264.8 414.38 1264.3 414.38M1234.3 414.31L1232.8 414.3" stroke="#bfff00"/>
<path d="M1249.8 394.68L1249.71 394.4 1249.56 393.9M1276.58 393.9L1276.08 394.9M1247.8 394.72L1247.3 393.69M1278.41 394.4L1278.3 394.57 1278.09 394.9M1245.8 394.76L1245.57 394.4 1245.3 393.98M1280.3 394.69L1279.75 395.4M1244.24 395.4L1243.46 394.4M1242.65 395.9L1241.8 394.97M1283.3 396.03L1282.38 396.9M1241.09 396.4L1240.3 395.65M1240.12 397.4L1238.93 396.4M1285.42 397.9L1284.3 398.73M1239.26 398.4L1237.92 397.4M1286.8 398.54L1285.51 399.4M1238.3 399.26L1237.01 398.4M1287.3 399.73L1286.3 400.32M1237.3 400.07L1236.18 399.4M1288.3 400.57L1286.8 401.37M1236.3 400.88L1235.8 400.61 1235.41 400.4M1288.8 401.65L1287.8 402.14M1235.74 401.9L1235.3 401.68 1234.8 401.44M1289.3 402.7L1288.3 403.13M1235.21 402.9L1234.06 402.4M1289.8 403.71L1288.8 404.1M1234.74 403.9L1233.45 403.4M1290.3 404.71L1289.3 405.05M1234.3 404.89L1232.87 404.4M1290.8 405.69L1289.3 406.14M1233.8 405.85L1232.32 405.4M1291.3 406.67L1289.8 407.06M1263.3 411.66L1260.8 411.66M1233.3 406.8L1232.8 406.67 1232.3 406.54M1291.3 407.76L1290.3 407.98M1233.3 407.87L1231.8 407.53M1291.8 408.72L1290.3 409.01M1264.3 412.37L1263.8 412.38 1263.3 412.39M1232.8 408.81L1231.3 408.53M1291.8 409.78L1290.8 409.93M1260.3 412.75L1259.8 412.74 1259.3 412.73M1232.8 409.84L1231.3 409.61M1292.3 410.75L1290.8 410.93M1264.8 413.1L1264.3 413.11 1263.8 413.11M1232.8 410.85L1231.3 410.67M1292.3 411.79L1290.95 411.9M1232.3 411.81L1230.8 411.68M1292.3 412.81L1290.8 412.89M1232.3 412.81L1230.8 412.73M1292.3 413.83L1290.8 413.86M1232.3 413.81L1230.8 413.78M1292.3 414.84L1290.8 414.82M1232.3 414.8L1230.8 414.82M1292.3 415.86L1290.8 415.79M1232.3 415.8L1230.8 415.87M1292.3 416.89L1290.8 416.76M1232.3 416.8L1231.07 416.9M1292.13 417.9L1290.8 417.75M1264.8 415.66L1264.3 415.65 1263.8 415.64M1260.3 415.64L1259.8 415.65 1259.3 415.65M1232.8 417.76L1231.3 417.93M1291.8 418.89L1291.3 418.82 1290.8 418.75M1232.8 418.77L1231.3 418.99M1291.8 419.95L1290.3 419.67M1264.3 416.38L1263.8 416.37 1263.3 416.36M1260.8 416.36L1260.3 416.37 1259.8 416.38M1232.8 419.8L1231.3 420.07M1291.8 421.02L1290.3 420.69M1263.8 416.74L1263.3 416.73 1262.8 416.72M1261.3 416.72L1260.8 416.73 1260.3 416.74M1233.3 420.74L1231.8 421.07M1291.3 422L1289.8 421.62M1233.3 421.81L1231.8 422.2M1290.8 422.98L1289.3 422.54M1233.8 422.76L1232.3 423.21M1290.3 423.97L1289.3 423.63M1234.3 423.72L1232.8 424.23M1289.8 424.96L1288.8 424.58M1234.8 424.69L1233.3 425.26M1289.3 425.98L1288.3 425.55M1235.3 425.67L1233.8 426.32M1288.8 427.02L1287.8 426.54M1235.8 426.69L1234.31 427.4M1288.3 428.1L1286.98 427.4M1236.3 427.74L1235.3 428.27M1287.22 428.9L1286.8 428.65 1286.38 428.4M1237.3 428.54L1235.86 429.4M1286.45 429.9L1285.3 429.15M1238.23 429.4L1236.8 430.35M1285.59 430.9L1284.3 429.95M1284.63 431.9L1283.43 430.9M1239.9 431.4L1238.8 432.32M1283.3 432.65L1282.51 431.9M1241.3 432.03L1240.38 432.9M1281.8 433.28L1280.98 432.4M1242.5 432.9L1241.8 433.66M1244.12 433.4L1243.34 434.4M1278.48 434.4L1277.83 433.4M1245.79 433.9L1245.47 434.4 1245.3 434.68M1276.63 434.9L1276.13 433.9M1247.8 433.95L1247.58 434.4 1247.33 434.9M1274.26 434.4L1274.09 433.9 1273.91 433.4M1250.01 433.4L1249.68 434.4M1291.8 414.34L1291.3 414.34 1290.8 414.34" stroke="#8cff00"/>
<path d="M1249.3 392.99L1249.27 392.9 1249.13 392.4M1277.52 391.9L1277.05 392.9M1246.8 392.63L1246.3 391.55M1279.8 392.18L1279.67 392.4 1279.36 392.9M1244.63 392.9L1243.8 391.55M1282.05 392.4L1281.3 393.39M1242.7 393.4L1241.56 391.9M1283.8 393.18L1283.16 393.9M1240.39 393.4L1239.5 392.4M1285.51 393.9L1284.48 394.9M1238.8 394.2L1237.98 393.4M1287.3 394.5L1285.8 395.79M1237.3 395.01L1236.3 394.15M1288.3 395.72L1287.41 396.4M1236.3 396.17L1234.8 395.03M1289.8 396.51L1288.49 397.4M1235.3 397.24L1233.8 396.22M1290.8 397.6L1289.5 398.4M1233.8 397.96L1232.8 397.34M1291.8 398.66L1290.3 399.48M1233.3 399.25L1231.8 398.42M1292.3 399.94L1290.8 400.68M1232.3 400.22L1230.8 399.48M1293.3 400.95L1291.8 401.61M1231.78 401.4L1229.8 400.52M1293.8 402.15L1292.3 402.74M1230.8 402.36L1229.3 401.77M1294.3 403.32L1292.8 403.84M1230.3 403.5L1228.8 402.98M1294.8 404.47L1293.4 404.9M1229.8 404.63L1228.3 404.17M1295.3 405.61L1293.8 406.01M1229.3 405.74L1227.8 405.34M1295.8 406.74L1294.3 407.08M1228.8 406.84L1227.3 406.5M1296.13 407.9L1294.3 408.25M1228.8 408.05L1226.8 407.66M1296.3 409.08L1294.8 409.31M1228.3 409.14L1226.8 408.91M1296.8 410.21L1294.8 410.45M1260.8 413.12L1260.3 413.11 1259.8 413.11M1228.3 410.31L1226.3 410.07M1296.78 411.4L1294.8 411.57M1264.3 413.47L1263.8 413.48 1263.3 413.48M1228.3 411.46L1226.3 411.29M1296.8 412.57L1295.3 412.65M1227.8 412.57L1226.3 412.49M1296.8 413.74L1295.3 413.77M1227.8 413.72L1226.3 413.69M1296.8 414.91L1295.3 414.89M1227.8 414.86L1226.3 414.89M1296.8 416.08L1295.3 416.01M1227.8 416.01L1226.3 416.08M1296.8 417.25L1294.8 417.09M1264.3 415.28L1263.8 415.28 1263.3 415.28M1260.8 415.28L1260.3 415.28 1259.8 415.28M1228.3 417.13L1226.3 417.29M1296.43 418.4L1294.8 418.21M1228.3 418.28L1226.3 418.51M1296.3 419.57L1294.8 419.35M1263.8 416.01L1263.3 416 1262.8 416M1261.3 415.99L1260.8 416 1260.3 416M1228.3 419.44L1226.8 419.67M1296.3 420.79L1294.3 420.41M1263.3 416.36L1260.8 416.36M1228.8 420.54L1226.87 420.9M1295.72 421.9L1294.3 421.58M1228.8 421.74L1227.3 422.08M1295.3 423.05L1293.8 422.66M1229.3 422.85L1227.8 423.24M1294.8 424.19L1293.3 423.73M1229.8 423.96L1228.34 424.4M1294.3 425.34L1293.04 424.9M1230.3 425.08L1228.8 425.6M1293.8 426.51L1292.3 425.92M1230.8 426.23L1229.3 426.81M1293.3 427.71L1291.8 427.06M1231.3 427.4L1230.15 427.9M1292.3 428.71L1290.8 427.98M1232.24 428.4L1230.8 429.11M1291.63 429.9L1290.3 429.18M1233.2 429.4L1231.8 430.16M1290.55 430.9L1289.3 430.15M1233.8 430.64L1232.54 431.4M1289.8 432.15L1288.3 431.14M1234.8 431.7L1233.8 432.37M1288.3 432.94L1287.3 432.18M1236.3 432.43L1235.02 433.4M1287 433.9L1285.82 432.9M1237.3 433.59L1236.35 434.4M1285.65 434.9L1284.8 434.09M1238.8 434.41L1237.8 435.38M1283.8 435.49L1282.82 434.4M1240.68 434.9L1239.33 436.4M1282.15 436.4L1281.39 435.4M1242.3 435.75L1241.43 436.9M1244.53 435.9L1243.91 436.9M1277.34 436.4L1276.87 435.4M1246.8 436.03L1246.63 436.4 1246.39 436.9M1274.74 435.9L1274.59 435.4 1274.43 434.9M1249.39 435.4L1249.1 436.4" stroke="#26ff00"/>
<path d="M1248.99 391.9L1248.7 390.9M1278.21 390.4L1277.98 390.9 1277.8 391.29M1246 390.9L1245.54 389.9M1281.19 389.9L1280.3 391.36M1243.1 390.4L1242.5 389.4M1283.55 390.4L1282.8 391.4M1240.8 390.88L1239.8 389.53M1285.8 390.92L1284.94 391.9M1238.62 391.4L1237.3 389.9M1287.8 391.66L1286.8 392.64M1236.8 392.24L1235.43 390.9M1289.74 392.4L1288.3 393.64M1234.8 392.86L1233.69 391.9M1291.3 393.43L1289.8 394.58M1233.3 393.88L1232.03 392.9M1292.8 394.45L1291.3 395.48M1232.3 395.19L1230.41 393.9M1293.8 395.76L1292.3 396.68M1230.8 396.11L1229.3 395.19M1294.8 397.01L1293.3 397.84M1229.8 397.32L1228.3 396.49M1295.8 398.21L1294.42 398.9M1228.8 398.49L1227.3 397.74M1296.79 399.4L1294.8 400.28M1228.3 399.86L1226.3 398.97M1297.8 400.57L1295.8 401.36M1227.1 400.9L1225.3 400.19M1298.3 401.92L1296.3 402.62M1226.8 402.28L1224.8 401.57M1298.8 403.24L1296.8 403.85M1225.82 403.4L1224.3 402.93M1299.3 404.53L1297.3 405.07M1225.3 404.66L1223.3 404.13M1299.8 405.82L1297.8 406.28M1225.3 406.04L1223.3 405.58M1300.3 407.09L1298.3 407.48M1224.8 407.27L1222.86 406.9M1300.3 408.45L1298.3 408.77M1263.3 412.76L1262.8 412.76 1262.3 412.76M1224.3 408.51L1222.3 408.2M1300.8 409.72L1298.8 409.97M1261.3 413.12L1260.8 413.12 1260.3 413.11M1224.3 409.82L1222.3 409.58M1300.8 411.05L1298.8 411.22M1223.8 411.07L1221.9 410.9M1300.8 412.36L1298.8 412.47M1223.8 412.36L1221.8 412.25M1301.3 413.66L1299.3 413.7M1223.8 413.64L1221.8 413.6M1301.3 414.97L1299.3 414.95M1223.8 414.92L1221.8 414.95M1300.8 416.27L1298.8 416.18M1223.8 416.2L1221.8 416.3M1300.8 417.58L1298.8 417.42M1263.8 415.28L1263.3 415.28 1262.8 415.27M1223.8 417.49L1221.8 417.66M1300.71 418.9L1298.8 418.68M1224.3 418.74L1222.3 418.97M1300.3 420.18L1298.45 419.9M1262.8 416L1261.3 415.99M1224.3 420.05L1222.3 420.35M1300.3 421.54L1298.3 421.16M1224.8 421.29L1222.8 421.66M1299.8 422.82L1297.95 422.4M1225.3 422.53L1222.8 423.09M1299.3 424.1L1297.3 423.58M1225.29 423.9L1223.39 424.4M1298.8 425.4L1297.16 424.9M1225.8 425.17L1223.8 425.78M1298.3 426.72L1296.3 426.03M1226.48 426.4L1224.8 426.98M1297.8 428.07L1295.8 427.29M1227.3 427.59L1225.3 428.37M1296.8 429.24L1295.3 428.59M1227.8 428.93L1226.3 429.59M1295.8 430.43L1294.3 429.69M1228.8 430.08L1227.12 430.9M1294.8 431.63L1293.46 430.9M1229.8 431.25L1227.8 432.34M1293.8 432.88L1292.3 431.97M1230.8 432.46L1229.3 433.37M1292.8 434.19L1291.3 433.17M1232.28 433.4L1230.3 434.75M1291.3 435.22L1289.8 434.08M1233.3 434.71L1231.8 435.85M1289.8 436.3L1288.3 435.01M1234.8 435.73L1233.43 436.9M1287.8 437L1286.8 436.02M1236.75 436.4L1235.3 437.82M1285.8 437.74L1285.06 436.9M1238.44 437.4L1237.56 438.4M1283.65 438.4L1282.9 437.4M1240.68 437.9L1239.93 438.9M1281.27 438.9L1280.36 437.4M1243.3 437.9L1242.39 439.4M1278.27 438.4L1278.04 437.9 1277.81 437.4M1245.93 437.9L1245.48 438.9M1275.3 437.85L1274.88 436.4" stroke="#05fc2f"/>
<path d="M1275.56 395.9L1275.01 396.9M1248.8 396.62L1248.67 396.4 1248.4 395.9M1277.09 396.4L1276.39 397.4M1247.59 397.4L1246.88 396.4M1278.3 397.18L1278.12 397.4 1277.8 397.77M1246.29 397.9L1245.45 396.9M1280.75 398.4L1279.8 399.25M1244.3 399.34L1243.3 398.45M1243.2 399.9L1242.3 399.18M1282.3 400.17L1281.3 400.88M1242.3 400.59L1241.32 399.9M1282.8 401.15L1281.8 401.78M1241.6 401.4L1241.3 401.2 1240.82 400.9M1283.6 401.9L1282.72 402.4M1241.3 402.4L1239.8 401.54M1283.88 402.9L1282.89 403.4M1240.3 402.98L1239.3 402.46M1284.8 403.55L1283.3 404.24M1239.99 403.9L1238.9 403.4M1285.3 404.4L1284.08 404.9M1239.8 404.83L1238.3 404.21M1285.3 405.42L1284.8 405.6 1284.3 405.78M1239.3 405.62L1238.3 405.25M1285.8 406.22L1284.8 406.55M1263.3 410.91L1260.3 410.9M1238.8 406.4L1238.3 406.23 1237.8 406.07M1286.3 407.02L1284.99 407.4M1260.3 411.28L1259.8 411.26 1259.3 411.24M1238.8 407.32L1237.35 406.9M1286.3 407.96L1285.8 408.08 1285.3 408.2M1238.8 408.21L1237.3 407.83M1286.8 408.75L1285.3 409.07M1265.3 411.97L1264.8 411.99 1264.3 412M1237.99 408.9L1236.8 408.64M1286.8 409.65L1286.3 409.74 1285.8 409.83M1237.8 409.73L1237.3 409.64 1236.8 409.55M1286.8 410.53L1286.3 410.6 1285.8 410.67M1265.8 412.7L1265.3 412.72 1264.8 412.73M1259.3 412.73L1258.8 412.72 1258.3 412.7M1237.8 410.59L1236.5 410.4M1287.3 411.33L1285.8 411.5M1265.8 413.07L1265.3 413.09 1264.8 413.1M1237.5 411.4L1236.3 411.26M1287.3 412.2L1285.8 412.32M1237.8 412.26L1236.3 412.14M1287.3 413.06L1285.8 413.14M1237.3 413.06L1236.8 413.04 1236.3 413.01M1287.3 413.92L1285.8 413.94M1237.3 413.9L1236.8 413.89 1236.3 413.88M1287.3 414.77L1285.8 414.75M1237.3 414.73L1236.8 414.74 1236.3 414.75M1287.3 415.63L1285.8 415.56M1237.3 415.57L1236.8 415.59 1236.3 415.61M1287.3 416.49L1285.8 416.37M1237.3 416.41L1236.8 416.45 1236.3 416.48M1287.3 417.35L1285.8 417.19M1265.8 415.68L1265.3 415.67 1264.8 415.66M1237.8 417.2L1236.3 417.36M1286.8 418.16L1286.3 418.09 1285.8 418.02M1265.8 416.05L1265.3 416.04 1264.8 416.02M1259.3 416.02L1258.8 416.03 1258.3 416.05M1237.8 418.04L1236.3 418.26M1286.8 419.04L1285.8 418.86M1265.3 416.41L1265.03 416.4 1264.8 416.39M1259.3 416.39L1258.3 416.42M1237.78 418.9L1237.3 418.99 1236.8 419.07M1286.64 419.9L1285.3 419.62M1265.3 416.78L1264.8 416.77 1264.3 416.75M1259.8 416.75L1259.3 416.76 1258.8 416.78M1238.3 419.67L1236.8 419.98M1286.3 420.73L1285.8 420.61 1285.3 420.49M1238.3 420.55L1237.8 420.67 1237.3 420.79M1286.3 421.66L1284.8 421.24M1264.3 417.5L1263.8 417.48 1263.3 417.47M1260.8 417.47L1260.3 417.48 1259.8 417.49M1286.3 422.63L1284.8 422.15M1239.3 422.08L1237.8 422.56M1239.3 423.01L1238.24 423.4M1285.3 424.29L1283.8 423.68M1284.8 425.14L1283.3 424.46M1239.8 424.82L1238.8 425.28M1284.1 425.9L1283.8 425.75 1283.3 425.5M1240.8 425.4L1239.3 426.16M1283.79 426.9L1282.3 426.06M1283.3 427.85L1281.8 426.91M1241.8 427.12L1240.8 427.74M1282.14 428.4L1281.8 428.17 1281.42 427.9M1242.3 428.05L1241.3 428.75M1281.3 429.19L1280.3 428.41M1243 428.9L1242.8 429.06 1242.36 429.4M1280.8 430.33L1279.8 429.45M1243.8 429.75L1243.62 429.9 1243.3 430.19M1279.55 430.9L1278.8 430.14M1245.3 429.99L1244.39 430.9M1246.16 430.9L1245.32 431.9M1277.16 432.4L1276.46 431.4M1247.3 431.67L1247.14 431.9 1246.8 432.39M1275.61 432.9L1275.06 431.9M1273.73 432.9L1273.55 432.4 1273.35 431.9M1250.6 431.9L1250.39 432.4 1250.3 432.63M1287.3 414.34L1285.8 414.35M1237.3 414.32L1236.8 414.31 1236.3 414.31" stroke="#ffd900"/>
<path d="M1275.29 396.4L1275.01 396.9 1274.8 397.26M1276.75 396.9L1276.02 397.9M1247.8 397.68L1247.59 397.4 1247.3 396.99M1278.8 398.55L1277.94 399.4M1245.54 398.9L1245.3 398.66 1245.04 398.4M1279.63 399.4L1279.3 399.68 1279.05 399.9M1244.8 399.77L1243.8 398.9M1280.8 399.9L1279.8 400.67M1244.3 400.74L1243.3 399.97M1281.27 400.9L1280.8 401.22 1280.54 401.4M1282.3 401.47L1280.8 402.39M1242.8 402.14L1241.8 401.52M1242.21 402.9L1241.8 402.67 1241.31 402.4M1283.3 403.19L1281.89 403.9M1241.8 403.73L1240.8 403.23M1283.8 404.01L1282.3 404.68M1241.09 404.4L1240.8 404.27 1240.3 404.04M1283.8 405.01L1283.3 405.21 1282.84 405.4M1240.8 405.24L1240.3 405.04 1239.96 404.9M1283.98 405.9L1282.8 406.32M1240.3 405.98L1239.3 405.62M1264.3 410.88L1263.3 410.91M1260.21 410.9L1259.8 410.88 1259.3 410.86M1240.3 406.88L1239.8 406.72 1239.3 406.56M1284.8 407.45L1284.3 407.59 1283.8 407.73M1259.8 411.26L1259.3 411.24 1258.8 411.22M1239.8 407.6L1238.8 407.32M1284.8 408.33L1283.8 408.57M1239.58 408.4L1238.3 408.08M1285.3 409.07L1283.8 409.39M1265.8 411.95L1265.3 411.97 1264.8 411.99M1285.3 409.92L1284.8 410.01 1284.3 410.09M1239.8 410.09L1238.3 409.82M1285.3 410.74L1284.8 410.82 1284.3 410.89M1258.8 412.72L1258.3 412.7 1257.8 412.68M1239.3 410.81L1237.8 410.59M1285.8 411.5L1284.3 411.67M1266.3 413.06L1265.8 413.07 1265.3 413.09M1258.8 413.09L1258.3 413.08 1257.8 413.06M1239.3 411.6L1237.8 411.43M1285.8 412.32L1284.3 412.44M1266.3 413.44L1265.8 413.45 1265.3 413.46M1238.8 412.35L1238.3 412.3 1237.8 412.26M1285.8 413.14L1284.3 413.21M1266.3 413.81L1265.8 413.82 1265.3 413.82M1238.8 413.14L1238.3 413.11 1237.8 413.09M1285.8 413.94L1285.3 413.95 1284.8 413.96M1266.3 414.19L1265.8 414.19 1265.3 414.19M1238.8 413.93L1238.3 413.92 1237.8 413.91M1285.8 414.75L1285.3 414.74 1284.8 414.73M1266.3 414.56L1265.8 414.56 1265.3 414.56M1238.8 414.71L1238.3 414.72 1237.8 414.73M1285.8 415.56L1284.3 415.49M1266.3 414.94L1265.8 414.93 1265.3 414.93M1238.8 415.5L1238.3 415.52 1237.8 415.54M1285.8 416.37L1284.3 416.25M1266.3 415.31L1265.8 415.3 1265.3 415.3M1238.8 416.29L1238.3 416.33 1237.8 416.37M1285.8 417.19L1284.3 417.03M1266.3 415.69L1265.8 415.68 1265.3 415.67M1258.8 415.66L1258.3 415.67 1257.8 415.69M1239.3 417.04L1237.8 417.2M1285.3 417.95L1284.3 417.81M1258.8 416.03L1258.3 416.05 1257.8 416.06M1239.3 417.83L1237.8 418.04M1285.3 418.77L1284.8 418.69 1284.3 418.6M1239.3 418.64L1238.8 418.72 1238.3 418.81M1285.3 419.62L1284.24 419.4M1265.8 416.8L1265.3 416.78 1264.8 416.77M1259.3 416.76L1258.8 416.78 1258.3 416.8M1239.3 419.46L1238.8 419.56 1238.3 419.67M1239.8 420.18L1238.3 420.55M1284.8 421.24L1284.3 421.1 1283.8 420.96M1240.29 420.9L1238.8 421.31M1284.3 421.99L1283.3 421.67M1264.3 417.88L1262.8 417.83M1260.8 417.84L1260.3 417.85 1259.8 417.87M1240.3 421.76L1238.8 422.24M1284.27 422.9L1283.8 422.73 1283.3 422.55M1240.8 422.48L1239.3 423.01M1284.3 423.88L1282.8 423.28M1240.79 423.4L1240.3 423.6 1239.8 423.8M1283.8 424.68L1282.3 424.01M1241.3 424.15L1240.3 424.59M1241.8 424.91L1240.3 425.66M1282.8 426.34L1281.3 425.52M1241.91 425.9L1241.8 425.96 1241.3 426.24M1282.3 427.23L1280.96 426.4M1242.8 426.5L1241.8 427.12M1281.3 427.82L1280.3 427.14M1243.24 427.4L1242.8 427.7 1242.51 427.9M1280.8 428.8L1279.8 428.03M1243.8 428.28L1243.64 428.4 1243.3 428.67M1279.75 429.4L1278.8 428.59M1278.8 430.14L1278.05 429.4M1245.8 429.5L1244.88 430.4M1276.46 431.4L1276.3 431.19 1276.1 430.9M1273.55 432.4L1273.14 431.4M1250.8 431.45L1250.6 431.9 1250.39 432.4M1285.8 414.35L1285.3 414.35 1284.8 414.35M1266.3 414.37L1265.8 414.37 1265.3 414.38M1238.8 414.32L1238.3 414.32 1237.8 414.32" stroke="#ffa600"/>
<path d="M1275.64 398.4L1274.84 399.4M1276.8 398.91L1275.87 399.9M1248.12 399.9L1247.3 399.03M1247.13 400.4L1246.3 399.63M1278.3 400.53L1277.3 401.33M1245.8 401.83L1244.8 401.11M1279.3 402.22L1278.3 402.86M1244.99 402.4L1244.8 402.28 1244.3 401.95M1244.8 403.32L1243.8 402.74M1280.8 403.45L1279.3 404.23M1244.07 403.9L1243.8 403.75 1243.3 403.49M1280.8 404.42L1280.3 404.66 1279.8 404.89M1243.8 404.69L1242.8 404.22M1281.3 405.12L1280.3 405.54M1243.8 405.57L1242.3 404.93M1263.8 410.13L1259.8 410.12M1243.3 406.21L1242.3 405.83M1281.8 406.67L1280.8 407.01M1265.3 410.44L1264.8 410.47 1264.3 410.5M1242.8 406.85L1242.3 406.68 1241.8 406.51M1265.8 410.79L1265.3 410.83 1264.8 410.85M1242.8 407.65L1241.8 407.35M1282.3 408.14L1281.8 408.28 1281.34 408.4M1266.3 411.14L1265.8 411.18 1265.3 411.21M1258.8 411.22L1258.3 411.19 1257.8 411.15M1282.3 408.93L1281.8 409.04 1281.3 409.16M1242.3 409.05L1241.3 408.81M1282.8 409.59L1281.3 409.89M1258.3 411.95L1257.8 411.92 1257.37 411.9M1242.3 409.79L1240.8 409.49M1282.5 410.4L1282.3 410.43 1281.8 410.52M1266.8 412.28L1266.3 412.3 1265.8 412.32M1241.8 410.43L1240.8 410.26M1282.8 411.1L1282.3 411.16 1281.8 411.23M1242.3 411.22L1240.8 411.02M1283.3 411.78L1281.8 411.93M1241.8 411.87L1241.3 411.82 1240.8 411.76M1282.8 412.56L1282.3 412.59 1281.8 412.63M1257.8 413.44L1257.3 413.43 1256.8 413.41M1241.8 412.58L1241.3 412.54 1240.8 412.5M1257.8 413.81L1257.3 413.8 1256.8 413.8M1241.8 413.28L1240.3 413.21M1267.3 414.18L1266.8 414.18 1266.3 414.19M1257.8 414.19L1257.3 414.18 1256.8 414.18M1241.8 413.98L1240.3 413.95M1267.3 414.56L1266.8 414.56 1266.3 414.56M1257.8 414.56L1257.3 414.56 1256.8 414.56M1241.8 414.67L1240.3 414.69M1257.8 414.93L1257.3 414.94 1256.8 414.95M1241.8 415.37L1240.3 415.44M1282.8 416.14L1282.3 416.11 1281.8 416.07M1257.8 415.31L1257.3 415.32 1256.8 415.33M1241.8 416.07L1240.3 416.18M1282.8 416.87L1282.3 416.82 1281.8 416.77M1257.8 415.69L1257.3 415.7 1256.8 415.71M1241.8 416.78L1241.3 416.83 1240.8 416.88M1282.8 417.6L1282.3 417.54 1281.8 417.47M1242.3 417.43L1240.8 417.63M1282.8 418.35L1282.3 418.27 1281.8 418.19M1266.8 416.47L1266.3 416.45 1265.8 416.43M1241.8 418.22L1241.3 418.3 1240.8 418.38M1282.8 419.11L1281.3 418.82M1266.8 416.86L1266.3 416.83 1265.8 416.8M1258.3 416.8L1257.8 416.82 1257.3 416.85M1282.3 419.77L1281.8 419.66 1281.3 419.54M1242.3 419.6L1241.8 419.72 1241.3 419.83M1282.3 420.56L1281.3 420.29M1266.3 417.6L1265.8 417.57 1265.3 417.54M1258.8 417.54L1258.3 417.56 1257.8 417.6M1242.8 420.23L1241.3 420.63M1265.8 417.96L1265.3 417.93 1264.83 417.9M1259.18 417.9L1258.8 417.92 1258.3 417.95M1242.8 421L1241.46 421.4M1281.8 422.03L1280.8 421.7M1259.8 418.25L1259.3 418.28 1258.8 418.31M1242.8 421.79L1241.8 422.13M1243.3 422.43L1242.07 422.9M1281.3 423.58L1280.3 423.16M1243.3 423.29L1242.3 423.71M1280.8 424.28L1280.3 424.04 1280 423.9M1243.8 423.95L1243.3 424.19 1242.85 424.4M1280.8 425.25L1279.3 424.47M1244.3 424.63L1243.3 425.15M1279.8 426.81L1278.8 426.16M1245.3 426.05L1244.3 426.69M1245.67 426.9L1245.3 427.17 1244.98 427.4M1278.3 428.18L1277.34 427.4M1246.3 427.64L1245.36 428.4M1276.8 429.79L1275.96 428.9M1247.8 429.1L1247.51 429.4 1247.3 429.63M1275.72 430.4L1274.92 429.4M1248.8 429.69L1248.63 429.9 1248.3 430.32M1274.47 430.9L1274.3 430.63 1274.16 430.4M1250.15 429.9L1249.48 430.9M1251.3 430.46L1251.06 430.9 1250.82 431.4M1267.3 414.37L1266.8 414.37 1266.3 414.37M1257.8 414.37L1257.3 414.37 1256.8 414.37M1241.8 414.33L1240.3 414.32" stroke="#ff4000"/>
</g>
<path d="M1077.8 322.4 1238.99 322.4 1240.55 322.58 1242.03 323.09 1243.35 323.93 1244.46 325.04 1245.29 326.36 1245.81 327.84 1245.99 329.4 1247.15 342.32 1248.29 355.24 1249.43 368.16 1250.56 381.08 1251.7 394 1251.86 395.79 1252.32 397.52 1253.08 399.15 1254.11 400.62 1255.38 401.89 1256.85 402.92 1258.48 403.68 1260.21 404.14 1262 404.3 1263.79 404.14 1265.52 403.68 1267.15 402.92 1268.62 401.89 1269.89 400.62 1270.92 399.15 1271.68 397.52 1272.14 395.79 1272.3 394 1273.44 381.08 1274.57 368.16 1275.71 355.24 1276.85 342.32 1277.98 329.4 1278.01 329.4 1278.19 327.84 1278.71 326.36 1279.54 325.04 1280.65 323.93 1281.97 323.09 1283.45 322.58 1285.01 322.4 1447.1 322.4 1447.1 506.6 1285.04 506.6 1283.48 506.42 1282 505.91 1280.67 505.07 1279.57 503.96 1278.73 502.64 1278.21 501.16 1278.04 499.6 1278.01 499.6 1276.87 486.62 1275.73 473.64 1274.58 460.66 1273.44 447.68 1272.3 434.7 1272.14 432.91 1271.68 431.18 1270.92 429.55 1269.89 428.08 1268.62 426.81 1267.15 425.78 1265.52 425.02 1263.79 424.56 1262 424.4 1260.21 424.56 1258.48 425.02 1256.85 425.78 1255.38 426.81 1254.11 428.08 1253.08 429.55 1252.32 431.18 1251.86 432.91 1251.7 434.7 1250.56 447.68 1249.42 460.66 1248.27 473.64 1247.13 486.62 1245.96 499.6 1245.79 501.16 1245.27 502.64 1244.43 503.96 1243.33 505.07 1242 505.91 1240.52 506.42 1238.96 506.6 1077.8 506.6Z" fill="none" stroke="#8a8a8a" stroke-width="1.2"/>
<text x="137" y="252.9" font-size="36" font-family="'Liberation Serif', 'Times New Roman', Times, serif" textLength="101" lengthAdjust="spacingAndGlyphs"><tspan font-style="italic">S</tspan>=70%</text>
<text x="137" y="438" font-size="36" font-family="'Liberation Serif', 'Times New Roman', Times, serif" textLength="101" lengthAdjust="spacingAndGlyphs"><tspan font-style="italic">S</tspan>=90%</text>
<text x="1127" y="260.6" font-size="36" font-family="'Liberation Serif', 'Times New Roman', Times, serif" textLength="101" lengthAdjust="spacingAndGlyphs"><tspan font-style="italic">S</tspan>=70%</text>
<text x="1131" y="449" font-size="36" font-family="'Liberation Serif', 'Times New Roman', Times, serif" textLength="101" lengthAdjust="spacingAndGlyphs"><tspan font-style="italic">S</tspan>=90%</text>
<text x="404" y="33.4" font-size="32" textLength="206" lengthAdjust="spacingAndGlyphs">Shear rate s<tspan font-size="22" dy="-14">-1</tspan></text>
<text font-size="34" y="83.7"><tspan x="76.5">Flow</tspan><tspan x="160.2" font-family="'Liberation Serif', 'Times New Roman', Times, serif" font-style="italic" font-size="38.5">&#947;</tspan><tspan x="176.0" y="94.0" font-family="'Liberation Serif', 'Times New Roman', Times, serif" font-size="24.5">0</tspan><tspan x="190.6" y="83.7" font-family="'Liberation Serif', 'Times New Roman', Times, serif" font-size="38.5">=1,000 s</tspan><tspan x="326.8" y="71.2" font-family="'Liberation Serif', 'Times New Roman', Times, serif" font-size="25">-1</tspan></text>
<line x1="152.7" y1="106.9" x2="245" y2="106.9" stroke="#000" stroke-width="1.6"/><polygon points="256.6,106.9 243.9,100.8 243.9,113.2" fill="#000"/>
<rect x="508.8" y="44.4" width="960.9" height="19.2" fill="url(#cb)" stroke="#111" stroke-width="1.3"/>
<line x1="508.8" y1="63.6" x2="508.8" y2="75.8" stroke="#111" stroke-width="1.3" />
<text x="509.8" y="109.6" font-size="28.5" text-anchor="end">0</text>
<line x1="749.02" y1="63.6" x2="749.02" y2="75.8" stroke="#111" stroke-width="1.3" />
<text x="750.02" y="109.6" font-size="28.5" text-anchor="end">5000</text>
<line x1="989.24" y1="63.6" x2="989.24" y2="75.8" stroke="#111" stroke-width="1.3" />
<text x="990.24" y="109.6" font-size="28.5" text-anchor="end">10000</text>
<line x1="1229.46" y1="63.6" x2="1229.46" y2="75.8" stroke="#111" stroke-width="1.3" />
<text x="1230.46" y="109.6" font-size="28.5" text-anchor="end">15000</text>
<line x1="1469.68" y1="63.6" x2="1469.68" y2="75.8" stroke="#111" stroke-width="1.3" />
<text x="1470.68" y="109.6" font-size="28.5" text-anchor="end">20000</text>
<text transform="translate(41.29 145.2) scale(0.981 1)" font-size="34.6" font-weight="bold">A</text>
<text transform="translate(472.91 148) scale(0.870 1)" font-size="34.6" font-weight="bold">B</text>
<text transform="translate(1035.65 147.8) scale(0.766 1)" font-size="34.6" font-weight="bold">E</text>
<text transform="translate(1479.59 151.1) scale(0.926 1)" font-size="34.6" font-weight="bold">F</text>
<text transform="translate(47.14 548.6) scale(0.818 1)" font-size="34.6" font-weight="bold">C</text>
<text transform="translate(468.57 539.8) scale(0.977 1)" font-size="34.6" font-weight="bold">D</text>
<text transform="translate(1045.2 547.7) scale(0.985 1)" font-size="34.6" font-weight="bold">G</text>
<text transform="translate(1459.89 541.6) scale(0.967 1)" font-size="34.6" font-weight="bold">H</text>
<path d="M553.9 444.98 L599.56 443.27 L645.21 442.13 L690.87 440.99 L736.53 437.22 L782.19 423.41 L827.84 365.67 L850.67 220.74" fill="none" stroke="#0a0af0" stroke-width="3.4" stroke-linejoin="round" />
<polygon points="553.9,437.78 560.6,449.3 547.2,449.3" fill="none" stroke="#0a0af0" stroke-width="2.6" stroke-linejoin="miter"/>
<polygon points="599.56,436.07 606.25,447.59 592.86,447.59" fill="none" stroke="#0a0af0" stroke-width="2.6" stroke-linejoin="miter"/>
<polygon points="645.21,434.93 651.91,446.45 638.52,446.45" fill="none" stroke="#0a0af0" stroke-width="2.6" stroke-linejoin="miter"/>
<polygon points="690.87,433.79 697.57,445.31 684.18,445.31" fill="none" stroke="#0a0af0" stroke-width="2.6" stroke-linejoin="miter"/>
<polygon points="736.53,430.02 743.22,441.54 729.83,441.54" fill="none" stroke="#0a0af0" stroke-width="2.6" stroke-linejoin="miter"/>
<polygon points="782.19,416.21 788.88,427.73 775.49,427.73" fill="none" stroke="#0a0af0" stroke-width="2.6" stroke-linejoin="miter"/>
<polygon points="827.84,358.47 834.54,369.99 821.15,369.99" fill="none" stroke="#0a0af0" stroke-width="2.6" stroke-linejoin="miter"/>
<polygon points="850.67,213.54 857.37,225.06 843.98,225.06" fill="none" stroke="#0a0af0" stroke-width="2.6" stroke-linejoin="miter"/>
<path d="M553.9 443.84 L599.56 441.99 L645.21 440.13 L690.87 438.13 L736.53 431.43 L782.19 414.03 L827.84 343.42 L850.67 181.37" fill="none" stroke="#000" stroke-width="3.6" stroke-linejoin="round" />
<rect x="548.2" y="438.14" width="11.4" height="11.4" fill="none" stroke="#000" stroke-width="2.9"/>
<rect x="593.86" y="436.29" width="11.4" height="11.4" fill="none" stroke="#000" stroke-width="2.9"/>
<rect x="639.51" y="434.43" width="11.4" height="11.4" fill="none" stroke="#000" stroke-width="2.9"/>
<rect x="685.17" y="432.44" width="11.4" height="11.4" fill="none" stroke="#000" stroke-width="2.9"/>
<rect x="730.83" y="425.73" width="11.4" height="11.4" fill="none" stroke="#000" stroke-width="2.9"/>
<rect x="776.49" y="408.33" width="11.4" height="11.4" fill="none" stroke="#000" stroke-width="2.9"/>
<rect x="822.14" y="337.72" width="11.4" height="11.4" fill="none" stroke="#000" stroke-width="2.9"/>
<rect x="844.97" y="175.67" width="11.4" height="11.4" fill="none" stroke="#000" stroke-width="2.9"/>
<path d="M553.9 167.1 V452.4 H873.5 V167.1" fill="none" stroke="#000" stroke-width="3.2" stroke-linecap="square"/>
<line x1="544.4" y1="452.4" x2="553.9" y2="452.4" stroke="#000" stroke-width="3" />
<text x="541.9" y="458" font-size="15.8" font-weight="bold" text-anchor="end">0</text>
<line x1="544.4" y1="381.07" x2="553.9" y2="381.07" stroke="#000" stroke-width="3" />
<text x="541.9" y="386.68" font-size="15.8" font-weight="bold" text-anchor="end">50000</text>
<line x1="544.4" y1="309.75" x2="553.9" y2="309.75" stroke="#000" stroke-width="3" />
<text x="541.9" y="315.35" font-size="15.8" font-weight="bold" text-anchor="end">100000</text>
<line x1="544.4" y1="238.43" x2="553.9" y2="238.43" stroke="#000" stroke-width="3" />
<text x="541.9" y="244.03" font-size="15.8" font-weight="bold" text-anchor="end">150000</text>
<line x1="544.4" y1="167.1" x2="553.9" y2="167.1" stroke="#000" stroke-width="3" />
<text x="541.9" y="172.7" font-size="15.8" font-weight="bold" text-anchor="end">200000</text>
<line x1="873.5" y1="452.4" x2="882.5" y2="452.4" stroke="#000" stroke-width="3" />
<text x="886" y="458" font-size="15.8" font-weight="bold" fill="#0a0af0">0</text>
<line x1="873.5" y1="395.34" x2="882.5" y2="395.34" stroke="#000" stroke-width="3" />
<text x="886" y="400.94" font-size="15.8" font-weight="bold" fill="#0a0af0">5000</text>
<line x1="873.5" y1="338.28" x2="882.5" y2="338.28" stroke="#000" stroke-width="3" />
<text x="886" y="343.88" font-size="15.8" font-weight="bold" fill="#0a0af0">10000</text>
<line x1="873.5" y1="281.22" x2="882.5" y2="281.22" stroke="#000" stroke-width="3" />
<text x="886" y="286.82" font-size="15.8" font-weight="bold" fill="#0a0af0">15000</text>
<line x1="873.5" y1="224.16" x2="882.5" y2="224.16" stroke="#000" stroke-width="3" />
<text x="886" y="229.76" font-size="15.8" font-weight="bold" fill="#0a0af0">20000</text>
<line x1="873.5" y1="167.1" x2="882.5" y2="167.1" stroke="#000" stroke-width="3" />
<text x="886" y="172.7" font-size="15.8" font-weight="bold" fill="#0a0af0">25000</text>
<line x1="599.56" y1="452.4" x2="599.56" y2="461.9" stroke="#000" stroke-width="3" />
<text x="599.56" y="479.6" font-size="15.8" font-weight="bold" text-anchor="middle">40</text>
<line x1="690.87" y1="452.4" x2="690.87" y2="461.9" stroke="#000" stroke-width="3" />
<text x="690.87" y="479.6" font-size="15.8" font-weight="bold" text-anchor="middle">60</text>
<line x1="782.19" y1="452.4" x2="782.19" y2="461.9" stroke="#000" stroke-width="3" />
<text x="782.19" y="479.6" font-size="15.8" font-weight="bold" text-anchor="middle">80</text>
<line x1="873.5" y1="452.4" x2="873.5" y2="461.9" stroke="#000" stroke-width="3" />
<text x="873.5" y="479.6" font-size="15.8" font-weight="bold" text-anchor="middle">100</text>
<text x="643.3" y="505.1" font-size="20" font-weight="bold">Stenosis <tspan font-style="italic">S</tspan> [%]</text>
<text x="478.1" y="447.7" font-size="23.3" font-weight="bold" transform="rotate(-90 478.1 447.7)">Peak shear rate <tspan font-family="'Liberation Serif', 'Times New Roman', Times, serif" font-weight="normal">&#947;</tspan><tspan font-size="15.5" dy="4">max</tspan><tspan dy="-4"> [ s</tspan><tspan font-size="15" dy="-9">-1</tspan><tspan dy="9"> ]</tspan></text>
<text x="973.2" y="179.6" font-size="23.5" font-weight="bold" fill="#0a0af0" textLength="260.7" lengthAdjust="spacingAndGlyphs" transform="rotate(90 973.2 179.6)">Peak shear rate gradient</text>
<text x="939" y="229.4" font-size="23.3" font-weight="bold" fill="#0a0af0" transform="rotate(90 939 229.4)"><tspan font-family="'Liberation Serif', 'Times New Roman', Times, serif" font-weight="normal" font-style="italic">&#947;</tspan><tspan font-size="17" dy="-8">'</tspan><tspan font-size="15.5" dy="13">max</tspan><tspan dy="-5"> [ &#956;m</tspan><tspan font-size="15" dy="-9">-1</tspan><tspan dy="9"> s</tspan><tspan font-size="15" dy="-9">-1</tspan><tspan dy="9"> ]</tspan></text>
<path d="M1554.4 424.21 L1600.31 422.12 L1646.23 422.12 L1692.14 420.56 L1738.06 417.32 L1783.97 405.41 L1829.89 346.93 L1852.84 170.94" fill="none" stroke="#0a0af0" stroke-width="3.4" stroke-linejoin="round" />
<polygon points="1554.4,417.01 1561.1,428.53 1547.7,428.53" fill="none" stroke="#0a0af0" stroke-width="2.6" stroke-linejoin="miter"/>
<polygon points="1600.31,414.92 1607.01,426.44 1593.62,426.44" fill="none" stroke="#0a0af0" stroke-width="2.6" stroke-linejoin="miter"/>
<polygon points="1646.23,414.92 1652.92,426.44 1639.53,426.44" fill="none" stroke="#0a0af0" stroke-width="2.6" stroke-linejoin="miter"/>
<polygon points="1692.14,413.36 1698.84,424.88 1685.45,424.88" fill="none" stroke="#0a0af0" stroke-width="2.6" stroke-linejoin="miter"/>
<polygon points="1738.06,410.12 1744.75,421.64 1731.36,421.64" fill="none" stroke="#0a0af0" stroke-width="2.6" stroke-linejoin="miter"/>
<polygon points="1783.97,398.21 1790.67,409.73 1777.28,409.73" fill="none" stroke="#0a0af0" stroke-width="2.6" stroke-linejoin="miter"/>
<polygon points="1829.89,339.73 1836.58,351.25 1823.19,351.25" fill="none" stroke="#0a0af0" stroke-width="2.6" stroke-linejoin="miter"/>
<polygon points="1852.84,163.74 1859.54,175.26 1846.15,175.26" fill="none" stroke="#0a0af0" stroke-width="2.6" stroke-linejoin="miter"/>
<path d="M1554.4 423.82 L1600.31 423.17 L1646.23 422.51 L1692.14 419.9 L1738.06 414.03 L1783.97 399.28 L1829.89 336.48 L1852.84 171.21" fill="none" stroke="#000" stroke-width="3.6" stroke-linejoin="round" />
<rect x="1548.7" y="418.12" width="11.4" height="11.4" fill="none" stroke="#000" stroke-width="2.9"/>
<rect x="1594.61" y="417.47" width="11.4" height="11.4" fill="none" stroke="#000" stroke-width="2.9"/>
<rect x="1640.53" y="416.81" width="11.4" height="11.4" fill="none" stroke="#000" stroke-width="2.9"/>
<rect x="1686.44" y="414.2" width="11.4" height="11.4" fill="none" stroke="#000" stroke-width="2.9"/>
<rect x="1732.36" y="408.33" width="11.4" height="11.4" fill="none" stroke="#000" stroke-width="2.9"/>
<rect x="1778.27" y="393.58" width="11.4" height="11.4" fill="none" stroke="#000" stroke-width="2.9"/>
<rect x="1824.19" y="330.78" width="11.4" height="11.4" fill="none" stroke="#000" stroke-width="2.9"/>
<rect x="1847.14" y="165.51" width="11.4" height="11.4" fill="none" stroke="#000" stroke-width="2.9"/>
<path d="M1554.4 169.9 V431 H1875.8 V169.9" fill="none" stroke="#000" stroke-width="3.2" stroke-linecap="square"/>
<line x1="1544.9" y1="431" x2="1554.4" y2="431" stroke="#000" stroke-width="3" />
<text x="1542.4" y="436.6" font-size="15.8" font-weight="bold" text-anchor="end">0</text>
<line x1="1544.9" y1="365.73" x2="1554.4" y2="365.73" stroke="#000" stroke-width="3" />
<text x="1542.4" y="371.33" font-size="15.8" font-weight="bold" text-anchor="end">50000</text>
<line x1="1544.9" y1="300.45" x2="1554.4" y2="300.45" stroke="#000" stroke-width="3" />
<text x="1542.4" y="306.05" font-size="15.8" font-weight="bold" text-anchor="end">100000</text>
<line x1="1544.9" y1="235.17" x2="1554.4" y2="235.17" stroke="#000" stroke-width="3" />
<text x="1542.4" y="240.77" font-size="15.8" font-weight="bold" text-anchor="end">150000</text>
<line x1="1544.9" y1="169.9" x2="1554.4" y2="169.9" stroke="#000" stroke-width="3" />
<text x="1542.4" y="175.5" font-size="15.8" font-weight="bold" text-anchor="end">200000</text>
<line x1="1875.8" y1="431" x2="1884.8" y2="431" stroke="#000" stroke-width="3" />
<text x="1888.3" y="436.6" font-size="15.8" font-weight="bold" fill="#0a0af0">0</text>
<line x1="1875.8" y1="378.78" x2="1884.8" y2="378.78" stroke="#000" stroke-width="3" />
<text x="1888.3" y="384.38" font-size="15.8" font-weight="bold" fill="#0a0af0">5000</text>
<line x1="1875.8" y1="326.56" x2="1884.8" y2="326.56" stroke="#000" stroke-width="3" />
<text x="1888.3" y="332.16" font-size="15.8" font-weight="bold" fill="#0a0af0">10000</text>
<line x1="1875.8" y1="274.34" x2="1884.8" y2="274.34" stroke="#000" stroke-width="3" />
<text x="1888.3" y="279.94" font-size="15.8" font-weight="bold" fill="#0a0af0">15000</text>
<line x1="1875.8" y1="222.12" x2="1884.8" y2="222.12" stroke="#000" stroke-width="3" />
<text x="1888.3" y="227.72" font-size="15.8" font-weight="bold" fill="#0a0af0">20000</text>
<line x1="1875.8" y1="169.9" x2="1884.8" y2="169.9" stroke="#000" stroke-width="3" />
<text x="1888.3" y="175.5" font-size="15.8" font-weight="bold" fill="#0a0af0">25000</text>
<line x1="1600.31" y1="431" x2="1600.31" y2="440.5" stroke="#000" stroke-width="3" />
<text x="1600.31" y="458.2" font-size="15.8" font-weight="bold" text-anchor="middle">40</text>
<line x1="1692.14" y1="431" x2="1692.14" y2="440.5" stroke="#000" stroke-width="3" />
<text x="1692.14" y="458.2" font-size="15.8" font-weight="bold" text-anchor="middle">60</text>
<line x1="1783.97" y1="431" x2="1783.97" y2="440.5" stroke="#000" stroke-width="3" />
<text x="1783.97" y="458.2" font-size="15.8" font-weight="bold" text-anchor="middle">80</text>
<line x1="1875.8" y1="431" x2="1875.8" y2="440.5" stroke="#000" stroke-width="3" />
<text x="1875.8" y="458.2" font-size="15.8" font-weight="bold" text-anchor="middle">100</text>
<text x="1644.6" y="487.7" font-size="20" font-weight="bold">Stenosis <tspan font-style="italic">S</tspan> [%]</text>
<text x="1477" y="439" font-size="23.3" font-weight="bold" transform="rotate(-90 1477 439)">Peak shear rate <tspan font-family="'Liberation Serif', 'Times New Roman', Times, serif" font-weight="normal">&#947;</tspan><tspan font-size="15.5" dy="4">max</tspan><tspan dy="-4"> [ s</tspan><tspan font-size="15" dy="-9">-1</tspan><tspan dy="9"> ]</tspan></text>
<text x="1984" y="168.4" font-size="23.5" font-weight="bold" fill="#0a0af0" textLength="263.7" lengthAdjust="spacingAndGlyphs" transform="rotate(90 1984 168.4)">Peak shear rate gradient</text>
<text x="1950" y="215" font-size="23.3" font-weight="bold" fill="#0a0af0" transform="rotate(90 1950 215)"><tspan font-family="'Liberation Serif', 'Times New Roman', Times, serif" font-weight="normal" font-style="italic">&#947;</tspan><tspan font-size="17" dy="-8">'</tspan><tspan font-size="15.5" dy="13">max</tspan><tspan dy="-5"> [ &#956;m</tspan><tspan font-size="15" dy="-9">-1</tspan><tspan dy="9"> s</tspan><tspan font-size="15" dy="-9">-1</tspan><tspan dy="9"> ]</tspan></text>
<path d="M116.4 570.9 V816 H484.9" fill="none" stroke="#000" stroke-width="3" stroke-linecap="square"/>
<line x1="106.1" y1="816" x2="116.4" y2="816" stroke="#000" stroke-width="2.8" />
<text x="102.9" y="822.2" font-size="18" font-weight="bold" text-anchor="end">0</text>
<line x1="106.1" y1="754.73" x2="116.4" y2="754.73" stroke="#000" stroke-width="2.8" />
<text x="102.9" y="760.93" font-size="18" font-weight="bold" text-anchor="end">50000</text>
<line x1="106.1" y1="693.45" x2="116.4" y2="693.45" stroke="#000" stroke-width="2.8" />
<text x="102.9" y="699.65" font-size="18" font-weight="bold" text-anchor="end">100000</text>
<line x1="106.1" y1="632.17" x2="116.4" y2="632.17" stroke="#000" stroke-width="2.8" />
<text x="102.9" y="638.38" font-size="18" font-weight="bold" text-anchor="end">150000</text>
<line x1="106.1" y1="570.9" x2="116.4" y2="570.9" stroke="#000" stroke-width="2.8" />
<text x="102.9" y="577.1" font-size="18" font-weight="bold" text-anchor="end">200000</text>
<line x1="116.4" y1="816" x2="116.4" y2="826.3" stroke="#000" stroke-width="2.8" />
<text x="116.4" y="845.7" font-size="18" font-weight="bold" text-anchor="middle">-50</text>
<line x1="208.53" y1="816" x2="208.53" y2="826.3" stroke="#000" stroke-width="2.8" />
<text x="208.53" y="845.7" font-size="18" font-weight="bold" text-anchor="middle">-25</text>
<line x1="300.65" y1="816" x2="300.65" y2="826.3" stroke="#000" stroke-width="2.8" />
<text x="300.65" y="845.7" font-size="18" font-weight="bold" text-anchor="middle">0</text>
<line x1="392.77" y1="816" x2="392.77" y2="826.3" stroke="#000" stroke-width="2.8" />
<text x="392.77" y="845.7" font-size="18" font-weight="bold" text-anchor="middle">25</text>
<line x1="484.9" y1="816" x2="484.9" y2="826.3" stroke="#000" stroke-width="2.8" />
<text x="484.9" y="845.7" font-size="18" font-weight="bold" text-anchor="middle">50</text>
<path d="M116.4 814.77 L125.61 814.77 L134.83 814.77 L144.04 814.77 L153.25 814.77 L162.46 814.77 L171.68 814.77 L180.89 814.77 L190.1 814.77 L199.31 814.76 L208.53 814.75 L217.74 814.73 L226.95 814.69 L231.56 814.66 L236.16 814.62 L240.77 814.56 L245.38 814.48 L249.98 814.37 L254.59 814.22 L259.19 814.02 L263.8 813.76 L268.41 813.43 L273.01 813.02 L277.62 812.55 L282.23 812.02 L286.83 811.5 L291.44 811.04 L296.04 810.72 L300.65 810.61 L305.26 810.72 L309.86 811.04 L314.47 811.5 L319.08 812.02 L323.68 812.55 L328.29 813.02 L332.89 813.43 L337.5 813.76 L342.11 814.02 L346.71 814.22 L351.32 814.37 L355.93 814.48 L360.53 814.56 L365.14 814.62 L369.74 814.66 L374.35 814.69 L383.56 814.73 L392.77 814.75 L401.99 814.76 L411.2 814.77 L420.41 814.77 L429.62 814.77 L438.84 814.77 L448.05 814.77 L457.26 814.77 L466.48 814.77 L475.69 814.77 L484.9 814.77" fill="none" stroke="#0a0a78" stroke-width="4.3" stroke-linejoin="round" />
<path d="M116.4 814.77 L125.61 814.77 L134.83 814.77 L144.04 814.77 L153.25 814.77 L162.46 814.77 L171.68 814.77 L180.89 814.77 L190.1 814.77 L199.31 814.76 L208.53 814.75 L217.74 814.72 L226.95 814.66 L231.56 814.62 L236.16 814.56 L240.77 814.48 L245.38 814.37 L249.98 814.21 L254.59 814.01 L259.19 813.73 L263.8 813.37 L268.41 812.92 L273.01 812.36 L277.62 811.7 L282.23 810.97 L286.83 810.24 L291.44 809.61 L296.04 809.17 L300.65 809.01 L305.26 809.17 L309.86 809.61 L314.47 810.24 L319.08 810.97 L323.68 811.7 L328.29 812.36 L332.89 812.92 L337.5 813.37 L342.11 813.73 L346.71 814.01 L351.32 814.21 L355.93 814.37 L360.53 814.48 L365.14 814.56 L369.74 814.62 L374.35 814.66 L383.56 814.72 L392.77 814.75 L401.99 814.76 L411.2 814.77 L420.41 814.77 L429.62 814.77 L438.84 814.77 L448.05 814.77 L457.26 814.77 L466.48 814.77 L475.69 814.77 L484.9 814.77" fill="none" stroke="#8c5a1e" stroke-width="4.3" stroke-linejoin="round" />
<path d="M116.4 814.77 L125.61 814.77 L134.83 814.77 L144.04 814.77 L153.25 814.77 L162.46 814.77 L171.68 814.77 L180.89 814.77 L190.1 814.76 L199.31 814.75 L208.53 814.73 L217.74 814.69 L226.95 814.61 L231.56 814.55 L236.16 814.46 L240.77 814.34 L245.38 814.18 L249.98 813.95 L254.59 813.65 L259.19 813.25 L263.8 812.72 L268.41 812.05 L273.01 811.22 L277.62 810.25 L282.23 809.19 L286.83 808.12 L291.44 807.19 L296.04 806.55 L300.65 806.32 L305.26 806.55 L309.86 807.19 L314.47 808.12 L319.08 809.19 L323.68 810.25 L328.29 811.22 L332.89 812.05 L337.5 812.72 L342.11 813.25 L346.71 813.65 L351.32 813.95 L355.93 814.18 L360.53 814.34 L365.14 814.46 L369.74 814.55 L374.35 814.61 L383.56 814.69 L392.77 814.73 L401.99 814.75 L411.2 814.76 L420.41 814.77 L429.62 814.77 L438.84 814.77 L448.05 814.77 L457.26 814.77 L466.48 814.77 L475.69 814.77 L484.9 814.77" fill="none" stroke="#000000" stroke-width="4.3" stroke-linejoin="round" />
<path d="M116.4 814.77 L125.61 814.77 L134.83 814.77 L144.04 814.77 L153.25 814.77 L162.46 814.77 L171.68 814.77 L180.89 814.77 L190.1 814.76 L199.31 814.75 L208.53 814.73 L217.74 814.68 L226.95 814.6 L231.56 814.52 L236.16 814.42 L240.77 814.28 L245.38 814.07 L249.98 813.8 L254.59 813.41 L259.19 812.9 L263.8 812.21 L268.41 811.31 L273.01 810.19 L277.62 808.84 L282.23 807.34 L286.83 805.8 L291.44 804.43 L296.04 803.48 L300.65 803.13 L305.26 803.48 L309.86 804.43 L314.47 805.8 L319.08 807.34 L323.68 808.84 L328.29 810.19 L332.89 811.31 L337.5 812.21 L342.11 812.9 L346.71 813.41 L351.32 813.8 L355.93 814.07 L360.53 814.28 L365.14 814.42 L369.74 814.52 L374.35 814.6 L383.56 814.68 L392.77 814.73 L401.99 814.75 L411.2 814.76 L420.41 814.77 L429.62 814.77 L438.84 814.77 L448.05 814.77 L457.26 814.77 L466.48 814.77 L475.69 814.77 L484.9 814.77" fill="none" stroke="#ff8000" stroke-width="4.3" stroke-linejoin="round" />
<path d="M116.4 814.77 L125.61 814.77 L134.83 814.77 L144.04 814.77 L153.25 814.77 L162.46 814.77 L171.68 814.77 L180.89 814.77 L190.1 814.76 L199.31 814.75 L208.53 814.72 L217.74 814.67 L226.95 814.55 L231.56 814.46 L236.16 814.33 L240.77 814.14 L245.38 813.88 L249.98 813.5 L254.59 812.99 L259.19 812.28 L263.8 811.33 L268.41 810.07 L273.01 808.46 L277.62 806.52 L282.23 804.3 L286.83 802.01 L291.44 799.96 L296.04 798.51 L300.65 797.99 L305.26 798.51 L309.86 799.96 L314.47 802.01 L319.08 804.3 L323.68 806.52 L328.29 808.46 L332.89 810.07 L337.5 811.33 L342.11 812.28 L346.71 812.99 L351.32 813.5 L355.93 813.88 L360.53 814.14 L365.14 814.33 L369.74 814.46 L374.35 814.55 L383.56 814.67 L392.77 814.72 L401.99 814.75 L411.2 814.76 L420.41 814.77 L429.62 814.77 L438.84 814.77 L448.05 814.77 L457.26 814.77 L466.48 814.77 L475.69 814.77 L484.9 814.77" fill="none" stroke="#9614dc" stroke-width="4.3" stroke-linejoin="round" />
<path d="M116.4 814.77 L125.61 814.77 L134.83 814.77 L144.04 814.77 L153.25 814.77 L162.46 814.77 L171.68 814.77 L180.89 814.77 L190.1 814.77 L199.31 814.75 L208.53 814.73 L217.74 814.67 L226.95 814.55 L231.56 814.45 L236.16 814.29 L240.77 814.05 L245.38 813.71 L249.98 813.2 L254.59 812.46 L259.19 811.4 L263.8 809.88 L268.41 807.78 L273.01 804.94 L277.62 801.28 L282.23 796.88 L286.83 792.07 L291.44 787.55 L296.04 784.25 L300.65 783.03 L305.26 784.25 L309.86 787.55 L314.47 792.07 L319.08 796.88 L323.68 801.28 L328.29 804.94 L332.89 807.78 L337.5 809.88 L342.11 811.4 L346.71 812.46 L351.32 813.2 L355.93 813.71 L360.53 814.05 L365.14 814.29 L369.74 814.45 L374.35 814.55 L383.56 814.67 L392.77 814.73 L401.99 814.75 L411.2 814.77 L420.41 814.77 L429.62 814.77 L438.84 814.77 L448.05 814.77 L457.26 814.77 L466.48 814.77 L475.69 814.77 L484.9 814.77" fill="none" stroke="#14b414" stroke-width="4.3" stroke-linejoin="round" />
<path d="M116.4 814.77 L125.61 814.77 L134.83 814.77 L144.04 814.77 L153.25 814.77 L162.46 814.77 L171.68 814.76 L180.89 814.75 L190.1 814.74 L199.31 814.73 L208.53 814.7 L217.74 814.67 L226.95 814.61 L231.56 814.57 L236.16 814.51 L240.77 814.42 L245.38 814.25 L249.98 813.89 L254.59 813.15 L259.19 811.64 L263.8 808.74 L268.41 803.68 L273.01 795.63 L277.62 784.13 L282.23 769.55 L286.83 753.38 L291.44 738.2 L296.04 727.04 L300.65 722.37 L305.26 727.04 L309.86 738.2 L314.47 753.38 L319.08 769.55 L323.68 784.13 L328.29 795.63 L332.89 803.68 L337.5 808.74 L342.11 811.64 L346.71 813.15 L351.32 813.89 L355.93 814.25 L360.53 814.42 L365.14 814.51 L369.74 814.57 L374.35 814.61 L383.56 814.67 L392.77 814.7 L401.99 814.73 L411.2 814.74 L420.41 814.75 L429.62 814.76 L438.84 814.77 L448.05 814.77 L457.26 814.77 L466.48 814.77 L475.69 814.77 L484.9 814.77" fill="none" stroke="#f01414" stroke-width="4.3" stroke-linejoin="round" />
<path d="M116.4 814.52 L125.61 814.52 L134.83 814.51 L144.04 814.5 L153.25 814.49 L162.46 814.46 L171.68 814.43 L180.89 814.37 L190.1 814.29 L199.31 814.15 L208.53 813.93 L217.74 813.55 L226.95 812.88 L231.56 812.34 L236.16 811.59 L240.77 810.52 L245.38 808.96 L249.98 806.68 L254.59 803.3 L259.19 798.25 L263.8 790.71 L268.41 779.52 L273.01 763.2 L277.62 740.19 L282.23 709.54 L286.83 672.26 L291.44 632.98 L296.04 600.23 L300.65 583.15 L305.26 600.23 L309.86 632.98 L314.47 672.26 L319.08 709.54 L323.68 740.19 L328.29 763.2 L332.89 779.52 L337.5 790.71 L342.11 798.25 L346.71 803.3 L351.32 806.68 L355.93 808.96 L360.53 810.52 L365.14 811.59 L369.74 812.34 L374.35 812.88 L383.56 813.55 L392.77 813.93 L401.99 814.15 L411.2 814.29 L420.41 814.37 L429.62 814.43 L438.84 814.46 L448.05 814.49 L457.26 814.5 L466.48 814.51 L475.69 814.52 L484.9 814.52" fill="none" stroke="#0a0af0" stroke-width="4.3" stroke-linejoin="round" />
<text x="209.2" y="866.6" font-size="23.3" font-weight="bold"><tspan font-family="'Liberation Serif', 'Times New Roman', Times, serif" font-weight="normal" font-style="italic">x</tspan>-location [ &#181;m ]</text>
<text x="33" y="801.8" font-size="27" font-weight="bold" transform="rotate(-90 33 801.8)">Shear rate <tspan font-family="'Liberation Serif', 'Times New Roman', Times, serif" font-weight="normal">&#947;</tspan> [ s<tspan font-size="17" dy="-10">-1</tspan><tspan dy="10" dx="1"> ]</tspan></text>
<line x1="349.2" y1="562.3" x2="375.2" y2="562.3" stroke="#0a0af0" stroke-width="3.8" />
<text x="389.5" y="568.6" font-size="20.4">S=95%</text>
<line x1="349.2" y1="595.7" x2="375.2" y2="595.7" stroke="#f01414" stroke-width="3.8" />
<text x="389.5" y="602" font-size="20.4">S=90%</text>
<line x1="349.2" y1="628.7" x2="375.2" y2="628.7" stroke="#14b414" stroke-width="3.8" />
<text x="389.5" y="635" font-size="20.4">S=80%</text>
<line x1="349.2" y1="661.5" x2="375.2" y2="661.5" stroke="#9614dc" stroke-width="3.8" />
<text x="389.5" y="667.8" font-size="20.4">S=70%</text>
<line x1="349.2" y1="689.6" x2="375.2" y2="689.6" stroke="#ff8000" stroke-width="3.8" />
<text x="389.5" y="695.9" font-size="20.4">S=60%</text>
<line x1="349.2" y1="723" x2="375.2" y2="723" stroke="#000000" stroke-width="3.8" />
<text x="389.5" y="729.3" font-size="20.4">S=50%</text>
<line x1="349.2" y1="755.8" x2="375.2" y2="755.8" stroke="#8c5a1e" stroke-width="3.8" />
<text x="389.5" y="762.1" font-size="20.4">S=40%</text>
<line x1="349.2" y1="789.1" x2="375.2" y2="789.1" stroke="#0a0a78" stroke-width="3.8" />
<text x="389.5" y="795.4" font-size="20.4">S=30%</text>
<text x="137.2" y="599.5" font-size="25.8" font-family="'Liberation Serif', 'Times New Roman', Times, serif">190,000 s<tspan font-size="16.5" dy="-10.5">-1</tspan></text>
<line x1="249.1" y1="592.6" x2="284.97" y2="584.84" stroke="#4472c4" stroke-width="1.3" />
<polygon points="296.7,582.3 285.05,589.94 282.94,580.16" fill="#4472c4"/>
<text x="136.8" y="649" font-size="25.8" font-family="'Liberation Serif', 'Times New Roman', Times, serif">76,400 s<tspan font-size="16.5" dy="-10.5">-1</tspan></text>
<line x1="227.2" y1="649.6" x2="290.87" y2="711.16" stroke="#4472c4" stroke-width="1.3" />
<polygon points="299.5,719.5 286.68,714.06 293.63,706.87" fill="#4472c4"/>
<text x="136.8" y="696" font-size="25.8" font-family="'Liberation Serif', 'Times New Roman', Times, serif">26,900 s<tspan font-size="16.5" dy="-10.5">-1</tspan></text>
<line x1="224.2" y1="696.5" x2="291.91" y2="770.64" stroke="#4472c4" stroke-width="1.3" />
<polygon points="300,779.5 287.54,773.27 294.93,766.53" fill="#4472c4"/>
<text x="136.8" y="743" font-size="25.8" font-family="'Liberation Serif', 'Times New Roman', Times, serif">14,700 s<tspan font-size="16.5" dy="-10.5">-1</tspan></text>
<line x1="222.1" y1="742.6" x2="288.98" y2="789.51" stroke="#4472c4" stroke-width="1.3" />
<polygon points="298.8,796.4 285.29,793.03 291.03,784.84" fill="#4472c4"/>
<path d="M1103.2 564.5 V808.4 H1472" fill="none" stroke="#000" stroke-width="3" stroke-linecap="square"/>
<line x1="1092.9" y1="808.4" x2="1103.2" y2="808.4" stroke="#000" stroke-width="2.8" />
<text x="1089.7" y="814.6" font-size="18" font-weight="bold" text-anchor="end">0</text>
<line x1="1092.9" y1="747.42" x2="1103.2" y2="747.42" stroke="#000" stroke-width="2.8" />
<text x="1089.7" y="753.62" font-size="18" font-weight="bold" text-anchor="end">50000</text>
<line x1="1092.9" y1="686.45" x2="1103.2" y2="686.45" stroke="#000" stroke-width="2.8" />
<text x="1089.7" y="692.65" font-size="18" font-weight="bold" text-anchor="end">100000</text>
<line x1="1092.9" y1="625.48" x2="1103.2" y2="625.48" stroke="#000" stroke-width="2.8" />
<text x="1089.7" y="631.68" font-size="18" font-weight="bold" text-anchor="end">150000</text>
<line x1="1092.9" y1="564.5" x2="1103.2" y2="564.5" stroke="#000" stroke-width="2.8" />
<text x="1089.7" y="570.7" font-size="18" font-weight="bold" text-anchor="end">200000</text>
<line x1="1103.2" y1="808.4" x2="1103.2" y2="818.7" stroke="#000" stroke-width="2.8" />
<text x="1103.2" y="838.5" font-size="18" font-weight="bold" text-anchor="middle">-50</text>
<line x1="1195.4" y1="808.4" x2="1195.4" y2="818.7" stroke="#000" stroke-width="2.8" />
<text x="1195.4" y="838.5" font-size="18" font-weight="bold" text-anchor="middle">-25</text>
<line x1="1287.6" y1="808.4" x2="1287.6" y2="818.7" stroke="#000" stroke-width="2.8" />
<text x="1287.6" y="838.5" font-size="18" font-weight="bold" text-anchor="middle">0</text>
<line x1="1379.8" y1="808.4" x2="1379.8" y2="818.7" stroke="#000" stroke-width="2.8" />
<text x="1379.8" y="838.5" font-size="18" font-weight="bold" text-anchor="middle">25</text>
<line x1="1472" y1="808.4" x2="1472" y2="818.7" stroke="#000" stroke-width="2.8" />
<text x="1472" y="838.5" font-size="18" font-weight="bold" text-anchor="middle">50</text>
<path d="M1103.2 807.18 L1112.42 807.18 L1121.64 807.18 L1130.86 807.18 L1140.08 807.18 L1149.3 807.18 L1158.52 807.18 L1167.74 807.18 L1176.96 807.18 L1186.18 807.17 L1195.4 807.16 L1204.62 807.14 L1213.84 807.11 L1218.45 807.08 L1223.06 807.04 L1227.67 806.98 L1232.28 806.9 L1236.89 806.8 L1241.5 806.66 L1246.11 806.48 L1250.72 806.23 L1255.33 805.92 L1259.94 805.54 L1264.55 805.09 L1269.16 804.6 L1273.77 804.11 L1278.38 803.68 L1282.99 803.38 L1287.6 803.28 L1292.21 803.38 L1296.82 803.68 L1301.43 804.11 L1306.04 804.6 L1310.65 805.09 L1315.26 805.54 L1319.87 805.92 L1324.48 806.23 L1329.09 806.48 L1333.7 806.66 L1338.31 806.8 L1342.92 806.9 L1347.53 806.98 L1352.14 807.04 L1356.75 807.08 L1361.36 807.11 L1370.58 807.14 L1379.8 807.16 L1389.02 807.17 L1398.24 807.18 L1407.46 807.18 L1416.68 807.18 L1425.9 807.18 L1435.12 807.18 L1444.34 807.18 L1453.56 807.18 L1462.78 807.18 L1472 807.18" fill="none" stroke="#0a0a78" stroke-width="4.3" stroke-linejoin="round" />
<path d="M1103.2 807.18 L1112.42 807.18 L1121.64 807.18 L1130.86 807.18 L1140.08 807.18 L1149.3 807.18 L1158.52 807.18 L1167.74 807.18 L1176.96 807.17 L1186.18 807.17 L1195.4 807.15 L1204.62 807.13 L1213.84 807.08 L1218.45 807.03 L1223.06 806.98 L1227.67 806.9 L1232.28 806.79 L1236.89 806.65 L1241.5 806.45 L1246.11 806.19 L1250.72 805.85 L1255.33 805.41 L1259.94 804.88 L1264.55 804.25 L1269.16 803.56 L1273.77 802.86 L1278.38 802.26 L1282.99 801.84 L1287.6 801.69 L1292.21 801.84 L1296.82 802.26 L1301.43 802.86 L1306.04 803.56 L1310.65 804.25 L1315.26 804.88 L1319.87 805.41 L1324.48 805.85 L1329.09 806.19 L1333.7 806.45 L1338.31 806.65 L1342.92 806.79 L1347.53 806.9 L1352.14 806.98 L1356.75 807.03 L1361.36 807.08 L1370.58 807.13 L1379.8 807.15 L1389.02 807.17 L1398.24 807.17 L1407.46 807.18 L1416.68 807.18 L1425.9 807.18 L1435.12 807.18 L1444.34 807.18 L1453.56 807.18 L1462.78 807.18 L1472 807.18" fill="none" stroke="#8c5a1e" stroke-width="4.3" stroke-linejoin="round" />
<path d="M1103.2 807.18 L1112.42 807.18 L1121.64 807.18 L1130.86 807.18 L1140.08 807.18 L1149.3 807.18 L1158.52 807.18 L1167.74 807.18 L1176.96 807.17 L1186.18 807.16 L1195.4 807.14 L1204.62 807.11 L1213.84 807.04 L1218.45 806.98 L1223.06 806.9 L1227.67 806.79 L1232.28 806.65 L1236.89 806.45 L1241.5 806.17 L1246.11 805.81 L1250.72 805.34 L1255.33 804.74 L1259.94 804.01 L1264.55 803.14 L1269.16 802.19 L1273.77 801.23 L1278.38 800.4 L1282.99 799.83 L1287.6 799.62 L1292.21 799.83 L1296.82 800.4 L1301.43 801.23 L1306.04 802.19 L1310.65 803.14 L1315.26 804.01 L1319.87 804.74 L1324.48 805.34 L1329.09 805.81 L1333.7 806.17 L1338.31 806.45 L1342.92 806.65 L1347.53 806.79 L1352.14 806.9 L1356.75 806.98 L1361.36 807.04 L1370.58 807.11 L1379.8 807.14 L1389.02 807.16 L1398.24 807.17 L1407.46 807.18 L1416.68 807.18 L1425.9 807.18 L1435.12 807.18 L1444.34 807.18 L1453.56 807.18 L1462.78 807.18 L1472 807.18" fill="none" stroke="#000000" stroke-width="4.3" stroke-linejoin="round" />
<path d="M1103.2 807.18 L1112.42 807.18 L1121.64 807.18 L1130.86 807.18 L1140.08 807.18 L1149.3 807.18 L1158.52 807.18 L1167.74 807.18 L1176.96 807.17 L1186.18 807.16 L1195.4 807.14 L1204.62 807.1 L1213.84 807.02 L1218.45 806.96 L1223.06 806.86 L1227.67 806.74 L1232.28 806.56 L1236.89 806.31 L1241.5 805.97 L1246.11 805.51 L1250.72 804.9 L1255.33 804.1 L1259.94 803.1 L1264.55 801.9 L1269.16 800.56 L1273.77 799.19 L1278.38 797.97 L1282.99 797.12 L1287.6 796.81 L1292.21 797.12 L1296.82 797.97 L1301.43 799.19 L1306.04 800.56 L1310.65 801.9 L1315.26 803.1 L1319.87 804.1 L1324.48 804.9 L1329.09 805.51 L1333.7 805.97 L1338.31 806.31 L1342.92 806.56 L1347.53 806.74 L1352.14 806.86 L1356.75 806.96 L1361.36 807.02 L1370.58 807.1 L1379.8 807.14 L1389.02 807.16 L1398.24 807.17 L1407.46 807.18 L1416.68 807.18 L1425.9 807.18 L1435.12 807.18 L1444.34 807.18 L1453.56 807.18 L1462.78 807.18 L1472 807.18" fill="none" stroke="#ff8000" stroke-width="4.3" stroke-linejoin="round" />
<path d="M1103.2 807.18 L1112.42 807.18 L1121.64 807.18 L1130.86 807.18 L1140.08 807.18 L1149.3 807.18 L1158.52 807.18 L1167.74 807.18 L1176.96 807.17 L1186.18 807.16 L1195.4 807.13 L1204.62 807.09 L1213.84 806.99 L1218.45 806.91 L1223.06 806.79 L1227.67 806.63 L1232.28 806.4 L1236.89 806.07 L1241.5 805.62 L1246.11 805.01 L1250.72 804.17 L1255.33 803.08 L1259.94 801.68 L1264.55 799.98 L1269.16 798.05 L1273.77 796.06 L1278.38 794.27 L1282.99 793 L1287.6 792.55 L1292.21 793 L1296.82 794.27 L1301.43 796.06 L1306.04 798.05 L1310.65 799.98 L1315.26 801.68 L1319.87 803.08 L1324.48 804.17 L1329.09 805.01 L1333.7 805.62 L1338.31 806.07 L1342.92 806.4 L1347.53 806.63 L1352.14 806.79 L1356.75 806.91 L1361.36 806.99 L1370.58 807.09 L1379.8 807.13 L1389.02 807.16 L1398.24 807.17 L1407.46 807.18 L1416.68 807.18 L1425.9 807.18 L1435.12 807.18 L1444.34 807.18 L1453.56 807.18 L1462.78 807.18 L1472 807.18" fill="none" stroke="#9614dc" stroke-width="4.3" stroke-linejoin="round" />
<path d="M1103.2 807.18 L1112.42 807.18 L1121.64 807.18 L1130.86 807.18 L1140.08 807.18 L1149.3 807.18 L1158.52 807.18 L1167.74 807.18 L1176.96 807.17 L1186.18 807.16 L1195.4 807.13 L1204.62 807.07 L1213.84 806.95 L1218.45 806.84 L1223.06 806.68 L1227.67 806.44 L1232.28 806.1 L1236.89 805.61 L1241.5 804.9 L1246.11 803.9 L1250.72 802.5 L1255.33 800.57 L1259.94 798.03 L1264.55 794.81 L1269.16 791 L1273.77 786.91 L1278.38 783.11 L1282.99 780.38 L1287.6 779.38 L1292.21 780.38 L1296.82 783.11 L1301.43 786.91 L1306.04 791 L1310.65 794.81 L1315.26 798.03 L1319.87 800.57 L1324.48 802.5 L1329.09 803.9 L1333.7 804.9 L1338.31 805.61 L1342.92 806.1 L1347.53 806.44 L1352.14 806.68 L1356.75 806.84 L1361.36 806.95 L1370.58 807.07 L1379.8 807.13 L1389.02 807.16 L1398.24 807.17 L1407.46 807.18 L1416.68 807.18 L1425.9 807.18 L1435.12 807.18 L1444.34 807.18 L1453.56 807.18 L1462.78 807.18 L1472 807.18" fill="none" stroke="#14b414" stroke-width="4.3" stroke-linejoin="round" />
<path d="M1103.2 807.18 L1112.42 807.18 L1121.64 807.18 L1130.86 807.18 L1140.08 807.17 L1149.3 807.17 L1158.52 807.16 L1167.74 807.15 L1176.96 807.14 L1186.18 807.12 L1195.4 807.09 L1204.62 807.04 L1213.84 806.96 L1218.45 806.91 L1223.06 806.83 L1227.67 806.71 L1232.28 806.5 L1236.89 806.08 L1241.5 805.24 L1246.11 803.6 L1250.72 800.61 L1255.33 795.55 L1259.94 787.74 L1264.55 776.87 L1269.16 763.34 L1273.77 748.56 L1278.38 734.78 L1282.99 724.6 L1287.6 720.11 L1292.21 724.6 L1296.82 734.78 L1301.43 748.56 L1306.04 763.34 L1310.65 776.87 L1315.26 787.74 L1319.87 795.55 L1324.48 800.61 L1329.09 803.6 L1333.7 805.24 L1338.31 806.08 L1342.92 806.5 L1347.53 806.71 L1352.14 806.83 L1356.75 806.91 L1361.36 806.96 L1370.58 807.04 L1379.8 807.09 L1389.02 807.12 L1398.24 807.14 L1407.46 807.15 L1416.68 807.16 L1425.9 807.17 L1435.12 807.17 L1444.34 807.18 L1453.56 807.18 L1462.78 807.18 L1472 807.18" fill="none" stroke="#f01414" stroke-width="4.3" stroke-linejoin="round" />
<path d="M1103.2 806.93 L1112.42 806.93 L1121.64 806.93 L1130.86 806.93 L1140.08 806.92 L1149.3 806.91 L1158.52 806.89 L1167.74 806.86 L1176.96 806.8 L1186.18 806.7 L1195.4 806.53 L1204.62 806.23 L1213.84 805.68 L1218.45 805.26 L1223.06 804.69 L1227.67 803.89 L1232.28 802.77 L1236.89 801.17 L1241.5 798.86 L1246.11 795.44 L1250.72 790.29 L1255.33 782.46 L1259.94 770.45 L1264.55 752.21 L1269.16 725.37 L1273.77 688.49 L1278.38 643.67 L1282.99 598.98 L1287.6 565.72 L1292.21 598.98 L1296.82 643.67 L1301.43 688.49 L1306.04 725.37 L1310.65 752.21 L1315.26 770.45 L1319.87 782.46 L1324.48 790.29 L1329.09 795.44 L1333.7 798.86 L1338.31 801.17 L1342.92 802.77 L1347.53 803.89 L1352.14 804.69 L1356.75 805.26 L1361.36 805.68 L1370.58 806.23 L1379.8 806.53 L1389.02 806.7 L1398.24 806.8 L1407.46 806.86 L1416.68 806.89 L1425.9 806.91 L1435.12 806.92 L1444.34 806.93 L1453.56 806.93 L1462.78 806.93 L1472 806.93" fill="none" stroke="#0a0af0" stroke-width="4.3" stroke-linejoin="round" />
<text x="1196" y="859.5" font-size="23.3" font-weight="bold"><tspan font-family="'Liberation Serif', 'Times New Roman', Times, serif" font-weight="normal" font-style="italic">x</tspan>-location [ &#181;m ]</text>
<text x="1016" y="795.8" font-size="27" font-weight="bold" transform="rotate(-90 1016 795.8)">Shear rate <tspan font-family="'Liberation Serif', 'Times New Roman', Times, serif" font-weight="normal">&#947;</tspan> [ s<tspan font-size="17" dy="-10">-1</tspan><tspan dy="10" dx="1"> ]</tspan></text>
<line x1="1331.6" y1="555.5" x2="1356.7" y2="555.5" stroke="#0a0af0" stroke-width="3.8" />
<text x="1371.5" y="561.8" font-size="20.4">S=95%</text>
<line x1="1331.6" y1="588.5" x2="1356.7" y2="588.5" stroke="#f01414" stroke-width="3.8" />
<text x="1371.5" y="594.8" font-size="20.4">S=90%</text>
<line x1="1331.6" y1="621.2" x2="1356.7" y2="621.2" stroke="#14b414" stroke-width="3.8" />
<text x="1371.5" y="627.5" font-size="20.4">S=80%</text>
<line x1="1331.6" y1="654.5" x2="1356.7" y2="654.5" stroke="#9614dc" stroke-width="3.8" />
<text x="1371.5" y="660.8" font-size="20.4">S=70%</text>
<line x1="1331.6" y1="683" x2="1356.7" y2="683" stroke="#ff8000" stroke-width="3.8" />
<text x="1371.5" y="689.3" font-size="20.4">S=60%</text>
<line x1="1331.6" y1="716" x2="1356.7" y2="716" stroke="#000000" stroke-width="3.8" />
<text x="1371.5" y="722.3" font-size="20.4">S=50%</text>
<line x1="1331.6" y1="748.8" x2="1356.7" y2="748.8" stroke="#8c5a1e" stroke-width="3.8" />
<text x="1371.5" y="755.1" font-size="20.4">S=40%</text>
<line x1="1331.6" y1="781.5" x2="1356.7" y2="781.5" stroke="#0a0a78" stroke-width="3.8" />
<text x="1371.5" y="787.8" font-size="20.4">S=30%</text>
<text x="1121.2" y="578.9" font-size="25.8" font-family="'Liberation Serif', 'Times New Roman', Times, serif">199,000 s<tspan font-size="16.5" dy="-10.5">-1</tspan></text>
<line x1="1226" y1="570.9" x2="1273.95" y2="566.58" stroke="#4472c4" stroke-width="1.3" />
<polygon points="1285.9,565.5 1273.4,571.65 1272.5,561.69" fill="#4472c4"/>
<text x="1121.2" y="639.5" font-size="25.8" font-family="'Liberation Serif', 'Times New Roman', Times, serif">72,400 s<tspan font-size="16.5" dy="-10.5">-1</tspan></text>
<line x1="1212.2" y1="637.3" x2="1277.85" y2="708.2" stroke="#4472c4" stroke-width="1.3" />
<polygon points="1286,717 1273.5,710.86 1280.84,704.06" fill="#4472c4"/>
<text x="1121.2" y="696.2" font-size="25.8" font-family="'Liberation Serif', 'Times New Roman', Times, serif">24,300 s<tspan font-size="16.5" dy="-10.5">-1</tspan></text>
<line x1="1212.2" y1="693" x2="1278.75" y2="766.6" stroke="#4472c4" stroke-width="1.3" />
<polygon points="1286.8,775.5 1274.37,769.21 1281.79,762.5" fill="#4472c4"/>
<text x="1121.2" y="753.6" font-size="25.8" font-family="'Liberation Serif', 'Times New Roman', Times, serif">13,000 s<tspan font-size="16.5" dy="-10.5">-1</tspan></text>
<line x1="1216.4" y1="749.8" x2="1275.74" y2="785.78" stroke="#4472c4" stroke-width="1.3" />
<polygon points="1286,792 1272.29,789.54 1277.48,780.98" fill="#4472c4"/>
<path d="M614.2 557.4 V805.6 H985" fill="none" stroke="#000" stroke-width="3" stroke-linecap="square"/>
<line x1="603.2" y1="805.6" x2="614.2" y2="805.6" stroke="#000" stroke-width="3.2" />
<text x="599.7" y="811.6" font-size="17.5" font-weight="bold" text-anchor="end">-25000</text>
<line x1="603.2" y1="743.55" x2="614.2" y2="743.55" stroke="#000" stroke-width="3.2" />
<text x="599.7" y="749.55" font-size="17.5" font-weight="bold" text-anchor="end">-12500</text>
<line x1="603.2" y1="681.5" x2="614.2" y2="681.5" stroke="#000" stroke-width="3.2" />
<text x="599.7" y="687.5" font-size="17.5" font-weight="bold" text-anchor="end">0</text>
<line x1="603.2" y1="619.45" x2="614.2" y2="619.45" stroke="#000" stroke-width="3.2" />
<text x="599.7" y="625.45" font-size="17.5" font-weight="bold" text-anchor="end">12500</text>
<line x1="603.2" y1="557.4" x2="614.2" y2="557.4" stroke="#000" stroke-width="3.2" />
<text x="599.7" y="563.4" font-size="17.5" font-weight="bold" text-anchor="end">25000</text>
<line x1="614.2" y1="805.6" x2="614.2" y2="816.6" stroke="#000" stroke-width="3.2" />
<text x="614.2" y="838" font-size="17.5" font-weight="bold" text-anchor="middle">-50</text>
<line x1="706.9" y1="805.6" x2="706.9" y2="816.6" stroke="#000" stroke-width="3.2" />
<text x="706.9" y="838" font-size="17.5" font-weight="bold" text-anchor="middle">-25</text>
<line x1="799.6" y1="805.6" x2="799.6" y2="816.6" stroke="#000" stroke-width="3.2" />
<text x="799.6" y="838" font-size="17.5" font-weight="bold" text-anchor="middle">0</text>
<line x1="892.3" y1="805.6" x2="892.3" y2="816.6" stroke="#000" stroke-width="3.2" />
<text x="892.3" y="838" font-size="17.5" font-weight="bold" text-anchor="middle">25</text>
<line x1="985" y1="805.6" x2="985" y2="816.6" stroke="#000" stroke-width="3.2" />
<text x="985" y="838" font-size="17.5" font-weight="bold" text-anchor="middle">50</text>
<path d="M614.2 681.5 L762.52 681.25 L779.21 679.02 L792.18 680.01 L799.6 681.25 L810.72 683.49 L818.14 683.73 L832.97 682 L985 681.5" fill="none" stroke="#000000" stroke-width="4.3" stroke-linejoin="round" />
<path d="M614.2 681.5 L755.1 681.2 L779.21 677.53 L792.18 679.02 L799.6 681 L810.72 684.48 L818.14 684.97 L832.97 682.24 L985 681.5" fill="none" stroke="#ff8000" stroke-width="4.3" stroke-linejoin="round" />
<path d="M614.2 681.5 L743.98 681.25 L766.23 679.02 L779.21 674.9 L788.48 676.04 L799.6 680.76 L808.87 685.97 L816.29 687.95 L825.56 684.97 L840.39 682 L985 681.5" fill="none" stroke="#9614dc" stroke-width="4.3" stroke-linejoin="round" />
<path d="M614.2 681.5 L725.44 681.35 L755.1 679.51 L766.23 675.54 L777.35 668.3 L784.77 670.08 L792.18 674.05 L799.6 680.51 L807.02 687.46 L816.29 693.91 L823.7 691.43 L832.97 684.97 L847.8 682 L985 681.5" fill="none" stroke="#14b414" stroke-width="4.3" stroke-linejoin="round" />
<path d="M614.2 681.5 L706.9 681.4 L740.27 680.26 L753.99 677.28 L764.37 670.08 L771.05 660.5 L780.69 643.62 L786.62 649.23 L794.04 666.01 L800.71 681.5 L805.16 698.87 L810.72 717.99 L816.29 717.99 L825.56 698.28 L836.31 685.72 L847.8 682.49 L985 681.5" fill="none" stroke="#f01414" stroke-width="4.3" stroke-linejoin="round" />
<path d="M614.2 681.5 L688.36 681.35 L718.02 680.9 L732.86 679.76 L745.83 675.59 L755.47 671.82 L762.52 661.64 L768.82 632.9 L775.87 597.91 L784.77 583.31 L791.44 590.61 L796.63 628.09 L799.6 681.5 L801.45 741.07 L802.57 771.6 L808.87 782.12 L815.17 782.12 L825.56 744.39 L834.08 706.72 L842.61 689.89 L859.3 683.58 L881.18 681.9 L985 681.5" fill="none" stroke="#0a0af0" stroke-width="4.3" stroke-linejoin="round" />
<text x="697.1" y="861.8" font-size="26" font-weight="bold"><tspan font-family="'Liberation Serif', 'Times New Roman', Times, serif" font-weight="normal" font-style="italic">x</tspan>-location [ &#181;m ]</text>
<text x="498.6" y="797.9" font-size="26.5" font-weight="bold" textLength="237.6" lengthAdjust="spacingAndGlyphs" transform="rotate(-90 498.6 797.9)">Shear rate gradient</text>
<text x="537.3" y="760.5" font-size="26.5" font-weight="bold" transform="rotate(-90 537.3 760.5)"><tspan font-family="'Liberation Serif', 'Times New Roman', Times, serif" font-weight="normal">&#947;</tspan><tspan font-weight="normal" font-size="24" dy="-7">`</tspan><tspan dy="7"> [ &#956;m</tspan><tspan font-size="17.5" dy="-10">-1</tspan><tspan dy="10"> s</tspan><tspan font-size="17.5" dy="-10">-1</tspan><tspan dy="10"> ]</tspan></text>
<text x="621" y="568.8" font-size="25" font-family="'Liberation Serif', 'Times New Roman', Times, serif">20,300 &#956;m<tspan font-size="16.5" dy="-10.5">-1</tspan><tspan dy="10.5"> s</tspan><tspan font-size="16.5" dy="-10.5">-1</tspan></text>
<line x1="748.7" y1="571.1" x2="776.73" y2="579.69" stroke="#4472c4" stroke-width="1.3" />
<polygon points="788.2,583.2 774.31,584.17 777.23,574.61" fill="#4472c4"/>
<text x="628.2" y="656.3" font-size="25" font-family="'Liberation Serif', 'Times New Roman', Times, serif">7,600 &#956;m<tspan font-size="16.5" dy="-10.5">-1</tspan><tspan dy="10.5"> s</tspan><tspan font-size="16.5" dy="-10.5">-1</tspan></text>
<line x1="753.6" y1="647.9" x2="767.11" y2="644.79" stroke="#4472c4" stroke-width="1.3" />
<polygon points="778.8,642.1 767.25,649.89 765.01,640.14" fill="#4472c4"/>
<text x="829.4" y="635.3" font-size="25" font-family="'Liberation Serif', 'Times New Roman', Times, serif">2,540 &#956;m<tspan font-size="16.5" dy="-10.5">-1</tspan><tspan dy="10.5"> s</tspan><tspan font-size="16.5" dy="-10.5">-1</tspan></text>
<line x1="832.3" y1="624" x2="792.37" y2="656.78" stroke="#4472c4" stroke-width="1.3" />
<polygon points="783.1,664.4 789.97,652.29 796.32,660.01" fill="#4472c4"/>
<text x="636.5" y="765" font-size="25" font-family="'Liberation Serif', 'Times New Roman', Times, serif">1,330 &#956;m<tspan font-size="16.5" dy="-10.5">-1</tspan><tspan dy="10.5"> s</tspan><tspan font-size="16.5" dy="-10.5">-1</tspan></text>
<line x1="727" y1="737" x2="771.13" y2="683.93" stroke="#4472c4" stroke-width="1.3" />
<polygon points="778.8,674.7 774.33,687.89 766.64,681.5" fill="#4472c4"/>
<path d="M1599.6 556.1 V802 H1969.5" fill="none" stroke="#000" stroke-width="3" stroke-linecap="square"/>
<line x1="1588.6" y1="802" x2="1599.6" y2="802" stroke="#000" stroke-width="3.2" />
<text x="1585.1" y="808" font-size="17.5" font-weight="bold" text-anchor="end">-25000</text>
<line x1="1588.6" y1="740.52" x2="1599.6" y2="740.52" stroke="#000" stroke-width="3.2" />
<line x1="1588.6" y1="679.05" x2="1599.6" y2="679.05" stroke="#000" stroke-width="3.2" />
<text x="1585.1" y="685.05" font-size="17.5" font-weight="bold" text-anchor="end">0</text>
<line x1="1588.6" y1="617.58" x2="1599.6" y2="617.58" stroke="#000" stroke-width="3.2" />
<line x1="1588.6" y1="556.1" x2="1599.6" y2="556.1" stroke="#000" stroke-width="3.2" />
<text x="1585.1" y="562.1" font-size="17.5" font-weight="bold" text-anchor="end">25000</text>
<line x1="1599.6" y1="802" x2="1599.6" y2="813" stroke="#000" stroke-width="3.2" />
<text x="1599.6" y="834.5" font-size="17.5" font-weight="bold" text-anchor="middle">-50</text>
<line x1="1692.07" y1="802" x2="1692.07" y2="813" stroke="#000" stroke-width="3.2" />
<text x="1692.07" y="834.5" font-size="17.5" font-weight="bold" text-anchor="middle">-25</text>
<line x1="1784.55" y1="802" x2="1784.55" y2="813" stroke="#000" stroke-width="3.2" />
<text x="1784.55" y="834.5" font-size="17.5" font-weight="bold" text-anchor="middle">0</text>
<line x1="1877.03" y1="802" x2="1877.03" y2="813" stroke="#000" stroke-width="3.2" />
<text x="1877.03" y="834.5" font-size="17.5" font-weight="bold" text-anchor="middle">25</text>
<line x1="1969.5" y1="802" x2="1969.5" y2="813" stroke="#000" stroke-width="3.2" />
<text x="1969.5" y="834.5" font-size="17.5" font-weight="bold" text-anchor="middle">50</text>
<path d="M1599.6 679.05 L1751.26 678.8 L1766.05 676.1 L1767.53 680.53 L1769.01 676.59 L1777.15 678.07 L1784.55 679.05 L1795.65 682 L1803.05 682.25 L1817.84 679.54 L1969.5 679.05" fill="none" stroke="#000000" stroke-width="4.3" stroke-linejoin="round" />
<path d="M1599.6 679.05 L1747.56 678.75 L1766.05 674.62 L1777.15 676.59 L1784.55 678.8 L1795.65 682.49 L1803.05 682.98 L1817.84 679.79 L1969.5 679.05" fill="none" stroke="#ff8000" stroke-width="4.3" stroke-linejoin="round" />
<path d="M1599.6 679.05 L1732.76 678.75 L1751.26 676.59 L1766.05 672.61 L1773.45 673.64 L1784.55 679.05 L1793.8 683.97 L1803.05 684.95 L1814.14 681.02 L1969.5 679.05" fill="none" stroke="#9614dc" stroke-width="4.3" stroke-linejoin="round" />
<path d="M1599.6 679.05 L1717.97 678.75 L1740.16 676.59 L1754.96 671.67 L1766.05 667 L1773.45 667.74 L1780.85 674.13 L1786.4 682.98 L1793.8 688.89 L1803.05 689.38 L1814.14 682.98 L1828.94 679.79 L1969.5 679.05" fill="none" stroke="#14b414" stroke-width="4.3" stroke-linejoin="round" />
<path d="M1599.6 679.05 L1692.07 678.9 L1725.37 677.08 L1741.64 671.87 L1749.41 665.87 L1755.51 657.85 L1770.49 639.46 L1776.41 645.95 L1780.48 663.85 L1784.55 686.43 L1788.25 708.56 L1793.43 717.66 L1799.35 715.44 L1804.89 698.72 L1814.51 686.23 L1828.94 680.53 L1969.5 679.05" fill="none" stroke="#f01414" stroke-width="4.3" stroke-linejoin="round" />
<path d="M1599.6 679.05 L1673.58 678.66 L1709.46 675.85 L1733.5 668.87 L1739.42 659.87 L1748.48 648.95 L1755.51 623.97 L1762.5 588.17 L1766.42 566.13 L1771.01 556.59 L1776.41 562.54 L1780.48 610.05 L1782.44 699.71 L1785.66 777.41 L1788.25 797.08 L1791.95 801.51 L1797.87 784.64 L1810.44 744.85 L1818.58 705.07 L1828.94 690.36 L1852.24 682.05 L1877.03 679.54 L1969.5 679.05" fill="none" stroke="#0a0af0" stroke-width="4.3" stroke-linejoin="round" />
<text x="1682.6" y="857.5" font-size="26" font-weight="bold"><tspan font-family="'Liberation Serif', 'Times New Roman', Times, serif" font-weight="normal" font-style="italic">x</tspan>-location [ &#181;m ]</text>
<text x="1478.3" y="787.5" font-size="26.5" font-weight="bold" textLength="229.5" lengthAdjust="spacingAndGlyphs" transform="rotate(-90 1478.3 787.5)">Shear rate gradient</text>
<text x="1519.5" y="755" font-size="26.5" font-weight="bold" transform="rotate(-90 1519.5 755)"><tspan font-family="'Liberation Serif', 'Times New Roman', Times, serif" font-weight="normal">&#947;</tspan><tspan font-weight="normal" font-size="24" dy="-7">`</tspan><tspan dy="7"> [ &#956;m</tspan><tspan font-size="17.5" dy="-10">-1</tspan><tspan dy="10"> s</tspan><tspan font-size="17.5" dy="-10">-1</tspan><tspan dy="10"> ]</tspan></text>
<text x="1602.4" y="557.5" font-size="25" font-family="'Liberation Serif', 'Times New Roman', Times, serif">24,900 &#956;m<tspan font-size="16.5" dy="-10.5">-1</tspan><tspan dy="10.5"> s</tspan><tspan font-size="16.5" dy="-10.5">-1</tspan></text>
<line x1="1709.6" y1="558.3" x2="1757.51" y2="556.46" stroke="#4472c4" stroke-width="1.3" />
<polygon points="1769.5,556 1756.7,561.5 1756.32,551.5" fill="#4472c4"/>
<text x="1602.4" y="647.7" font-size="25" font-family="'Liberation Serif', 'Times New Roman', Times, serif">8,050 &#956;m<tspan font-size="16.5" dy="-10.5">-1</tspan><tspan dy="10.5"> s</tspan><tspan font-size="16.5" dy="-10.5">-1</tspan></text>
<line x1="1733.6" y1="638.1" x2="1758.5" y2="638.1" stroke="#4472c4" stroke-width="1.3" />
<polygon points="1770.5,638.1 1757.5,643.1 1757.5,633.1" fill="#4472c4"/>
<text x="1816.3" y="621.8" font-size="25" font-family="'Liberation Serif', 'Times New Roman', Times, serif">2,450 &#956;m<tspan font-size="16.5" dy="-10.5">-1</tspan><tspan dy="10.5"> s</tspan><tspan font-size="16.5" dy="-10.5">-1</tspan></text>
<line x1="1812.3" y1="614.8" x2="1775.71" y2="653.84" stroke="#4472c4" stroke-width="1.3" />
<polygon points="1767.5,662.6 1772.74,649.7 1780.04,656.53" fill="#4472c4"/>
<text x="1616" y="768" font-size="25" font-family="'Liberation Serif', 'Times New Roman', Times, serif">1,310 &#956;m<tspan font-size="16.5" dy="-10.5">-1</tspan><tspan dy="10.5"> s</tspan><tspan font-size="16.5" dy="-10.5">-1</tspan></text>
<line x1="1708" y1="738" x2="1753.69" y2="684.71" stroke="#4472c4" stroke-width="1.3" />
<polygon points="1761.5,675.6 1756.83,688.72 1749.24,682.21" fill="#4472c4"/>
</svg>
</body></html>
